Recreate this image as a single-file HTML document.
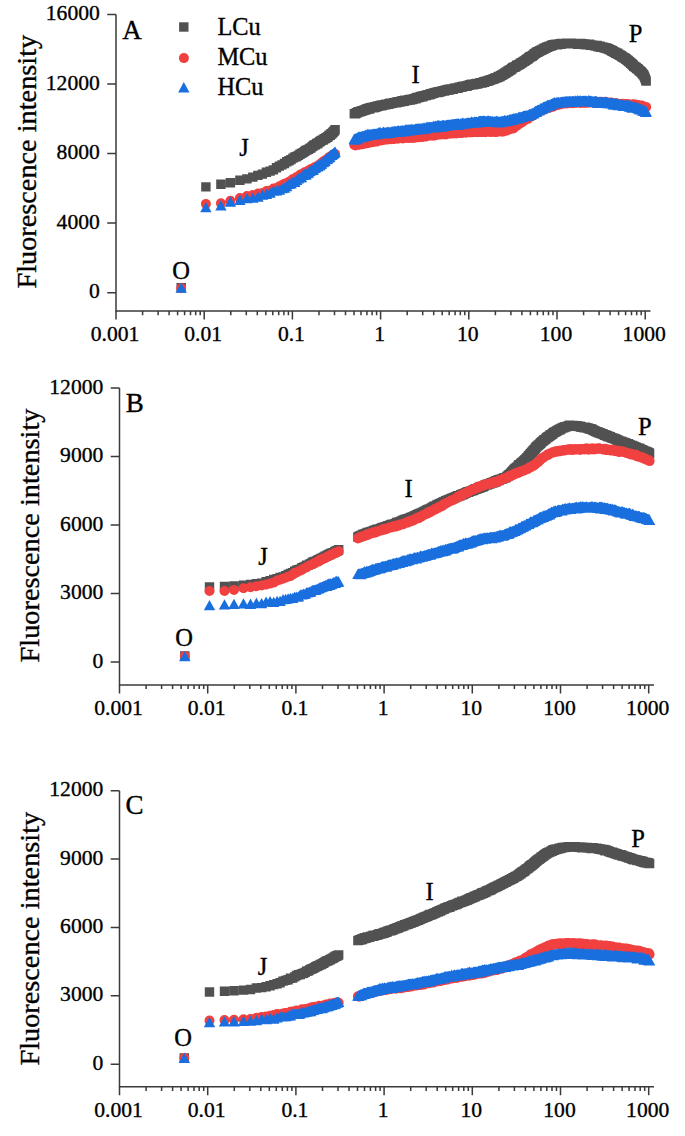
<!DOCTYPE html>
<html><head><meta charset="utf-8"><style>
html,body{margin:0;padding:0;background:#fff;}
svg{display:block;}
text{font-family:"Liberation Serif",serif;fill:#000;stroke:#000;stroke-width:0.35px;}
.tl{font-size:21.6px;}
.tt{font-size:28.3px;}
.pl{font-size:27px;}
.lb{font-size:24.5px;}
.lg{font-size:24.4px;}
</style></head><body>
<svg width="685" height="1136" viewBox="0 0 685 1136">
<rect width="685" height="1136" fill="#fff"/>
<path d="M116.0 14.5V311.0H650.5" fill="none" stroke="#3a3a3a" stroke-width="1.5"/>
<path d="M107.2 292.7H116.0M107.2 223.1H116.0M107.2 153.5H116.0M107.2 83.9H116.0M107.2 14.5H116.0M116.0 311.0v8.6M142.6 311.0v4.2M158.1 311.0v4.2M169.1 311.0v4.2M177.6 311.0v4.2M184.6 311.0v4.2M190.5 311.0v4.2M195.7 311.0v4.2M200.2 311.0v4.2M204.2 311.0v8.6M230.8 311.0v4.2M246.3 311.0v4.2M257.3 311.0v4.2M265.8 311.0v4.2M272.8 311.0v4.2M278.7 311.0v4.2M283.9 311.0v4.2M288.4 311.0v4.2M292.4 311.0v8.6M319.0 311.0v4.2M334.5 311.0v4.2M345.5 311.0v4.2M354.0 311.0v4.2M361.0 311.0v4.2M366.9 311.0v4.2M372.1 311.0v4.2M376.6 311.0v4.2M380.6 311.0v8.6M407.2 311.0v4.2M422.7 311.0v4.2M433.7 311.0v4.2M442.2 311.0v4.2M449.2 311.0v4.2M455.1 311.0v4.2M460.3 311.0v4.2M464.8 311.0v4.2M468.8 311.0v8.6M495.4 311.0v4.2M510.9 311.0v4.2M521.9 311.0v4.2M530.4 311.0v4.2M537.4 311.0v4.2M543.3 311.0v4.2M548.5 311.0v4.2M553.0 311.0v4.2M557.0 311.0v8.6M583.6 311.0v4.2M599.1 311.0v4.2M610.1 311.0v4.2M618.6 311.0v4.2M625.6 311.0v4.2M631.5 311.0v4.2M636.7 311.0v4.2M641.2 311.0v4.2M645.2 311.0v8.6" fill="none" stroke="#3a3a3a" stroke-width="1.5"/>
<text x="99.8" y="298.3" class="tl" text-anchor="end">0</text>
<text x="99.8" y="228.7" class="tl" text-anchor="end">4000</text>
<text x="99.8" y="159.1" class="tl" text-anchor="end">8000</text>
<text x="99.8" y="89.5" class="tl" text-anchor="end">12000</text>
<text x="99.8" y="20.1" class="tl" text-anchor="end">16000</text>
<text x="115.0" y="341.0" class="tl" text-anchor="middle">0.001</text>
<text x="203.2" y="341.0" class="tl" text-anchor="middle">0.01</text>
<text x="291.4" y="341.0" class="tl" text-anchor="middle">0.1</text>
<text x="379.6" y="341.0" class="tl" text-anchor="middle">1</text>
<text x="467.8" y="341.0" class="tl" text-anchor="middle">10</text>
<text x="556.0" y="341.0" class="tl" text-anchor="middle">100</text>
<text x="644.2" y="341.0" class="tl" text-anchor="middle">1000</text>
<text class="tt" text-anchor="middle" transform="translate(35.6 161.7) rotate(-90)">Fluorescence intensity</text>
<text x="122.2" y="38.6" class="pl">A</text>
<text x="181.0" y="278.6" class="lb" text-anchor="middle">O</text>
<text x="244.0" y="156.0" class="lb" text-anchor="middle">J</text>
<text x="415.5" y="83.3" class="lb" text-anchor="middle">I</text>
<text x="635.5" y="41.8" class="lb" text-anchor="middle">P</text>
<path fill="#515151" d="M176.5 283.1h9.4v9.4h-9.4zM201.2 182.2h9.4v9.4h-9.4zM216.2 179.6h9.4v9.4h-9.4zM225.7 178.0h9.4v9.4h-9.4zM235.2 175.5h9.4v9.4h-9.4zM242.2 174.2h9.4v9.4h-9.4zM248.1 172.4h9.4v9.4h-9.4zM253.2 170.7h9.4v9.4h-9.4zM257.7 169.4h9.4v9.4h-9.4zM261.7 167.6h9.4v9.4h-9.4zM265.4 166.4h9.4v9.4h-9.4zM268.7 165.2h9.4v9.4h-9.4zM271.8 163.1h9.4v9.4h-9.4zM274.6 161.4h9.4v9.4h-9.4zM277.3 160.2h9.4v9.4h-9.4zM279.8 158.8h9.4v9.4h-9.4zM282.1 157.0h9.4v9.4h-9.4zM284.3 156.1h9.4v9.4h-9.4zM286.3 154.9h9.4v9.4h-9.4zM288.3 153.4h9.4v9.4h-9.4zM290.2 152.3h9.4v9.4h-9.4zM292.0 151.8h9.4v9.4h-9.4zM293.7 150.7h9.4v9.4h-9.4zM295.3 149.5h9.4v9.4h-9.4zM296.8 148.7h9.4v9.4h-9.4zM298.3 147.9h9.4v9.4h-9.4zM299.8 146.8h9.4v9.4h-9.4zM301.2 145.8h9.4v9.4h-9.4zM302.5 145.2h9.4v9.4h-9.4zM303.8 144.7h9.4v9.4h-9.4zM305.1 143.7h9.4v9.4h-9.4zM306.3 143.2h9.4v9.4h-9.4zM307.5 141.9h9.4v9.4h-9.4zM308.6 141.1h9.4v9.4h-9.4zM309.7 140.3h9.4v9.4h-9.4zM310.8 140.0h9.4v9.4h-9.4zM311.9 138.8h9.4v9.4h-9.4zM312.9 139.0h9.4v9.4h-9.4zM313.9 137.9h9.4v9.4h-9.4zM314.9 137.1h9.4v9.4h-9.4zM315.8 136.6h9.4v9.4h-9.4zM316.7 135.7h9.4v9.4h-9.4zM317.6 135.4h9.4v9.4h-9.4zM318.5 135.3h9.4v9.4h-9.4zM319.4 134.0h9.4v9.4h-9.4zM320.2 134.2h9.4v9.4h-9.4zM321.0 133.6h9.4v9.4h-9.4zM321.8 132.9h9.4v9.4h-9.4zM322.6 132.6h9.4v9.4h-9.4zM323.4 132.0h9.4v9.4h-9.4zM324.2 130.8h9.4v9.4h-9.4zM324.9 130.6h9.4v9.4h-9.4zM325.6 130.6h9.4v9.4h-9.4zM326.3 129.0h9.4v9.4h-9.4zM327.0 129.4h9.4v9.4h-9.4zM327.7 128.2h9.4v9.4h-9.4zM328.4 127.5h9.4v9.4h-9.4zM329.1 126.7h9.4v9.4h-9.4zM329.7 126.2h9.4v9.4h-9.4zM330.4 125.1h9.4v9.4h-9.4zM349.6 109.0h9.4v9.4h-9.4zM350.1 109.1h9.4v9.4h-9.4zM350.6 109.1h9.4v9.4h-9.4zM351.1 108.9h9.4v9.4h-9.4zM351.6 107.9h9.4v9.4h-9.4zM352.1 107.9h9.4v9.4h-9.4zM352.6 108.0h9.4v9.4h-9.4zM353.1 107.2h9.4v9.4h-9.4zM353.6 107.2h9.4v9.4h-9.4zM354.1 107.1h9.4v9.4h-9.4zM354.6 107.3h9.4v9.4h-9.4zM355.1 107.0h9.4v9.4h-9.4zM355.6 106.7h9.4v9.4h-9.4zM356.1 106.5h9.4v9.4h-9.4zM356.6 106.5h9.4v9.4h-9.4zM357.1 106.3h9.4v9.4h-9.4zM357.6 106.1h9.4v9.4h-9.4zM358.1 105.9h9.4v9.4h-9.4zM358.6 105.9h9.4v9.4h-9.4zM359.1 105.7h9.4v9.4h-9.4zM359.6 105.3h9.4v9.4h-9.4zM360.1 105.2h9.4v9.4h-9.4zM360.6 105.3h9.4v9.4h-9.4zM361.1 104.8h9.4v9.4h-9.4zM361.6 104.4h9.4v9.4h-9.4zM362.1 104.9h9.4v9.4h-9.4zM362.6 104.0h9.4v9.4h-9.4zM363.1 104.2h9.4v9.4h-9.4zM363.6 103.9h9.4v9.4h-9.4zM364.1 103.6h9.4v9.4h-9.4zM364.6 104.3h9.4v9.4h-9.4zM365.1 104.1h9.4v9.4h-9.4zM365.6 103.2h9.4v9.4h-9.4zM366.1 103.1h9.4v9.4h-9.4zM366.6 102.9h9.4v9.4h-9.4zM367.1 102.7h9.4v9.4h-9.4zM367.6 102.7h9.4v9.4h-9.4zM368.1 102.8h9.4v9.4h-9.4zM368.6 102.6h9.4v9.4h-9.4zM369.1 103.1h9.4v9.4h-9.4zM369.6 102.6h9.4v9.4h-9.4zM370.1 102.1h9.4v9.4h-9.4zM370.6 102.7h9.4v9.4h-9.4zM371.1 102.0h9.4v9.4h-9.4zM371.6 101.9h9.4v9.4h-9.4zM372.1 102.1h9.4v9.4h-9.4zM372.6 101.3h9.4v9.4h-9.4zM373.1 101.4h9.4v9.4h-9.4zM373.6 101.7h9.4v9.4h-9.4zM374.1 101.3h9.4v9.4h-9.4zM374.6 101.2h9.4v9.4h-9.4zM375.1 101.0h9.4v9.4h-9.4zM375.6 100.7h9.4v9.4h-9.4zM376.1 101.0h9.4v9.4h-9.4zM376.6 101.1h9.4v9.4h-9.4zM377.1 100.3h9.4v9.4h-9.4zM377.6 100.8h9.4v9.4h-9.4zM378.1 100.4h9.4v9.4h-9.4zM378.6 100.4h9.4v9.4h-9.4zM379.1 100.3h9.4v9.4h-9.4zM379.6 100.2h9.4v9.4h-9.4zM380.1 99.9h9.4v9.4h-9.4zM380.6 99.8h9.4v9.4h-9.4zM381.1 100.1h9.4v9.4h-9.4zM381.6 99.6h9.4v9.4h-9.4zM382.1 99.6h9.4v9.4h-9.4zM382.6 99.5h9.4v9.4h-9.4zM383.1 99.7h9.4v9.4h-9.4zM383.6 99.7h9.4v9.4h-9.4zM384.1 99.0h9.4v9.4h-9.4zM384.6 99.3h9.4v9.4h-9.4zM385.1 98.4h9.4v9.4h-9.4zM385.6 98.6h9.4v9.4h-9.4zM386.2 98.9h9.4v9.4h-9.4zM386.7 98.7h9.4v9.4h-9.4zM387.2 98.6h9.4v9.4h-9.4zM387.7 98.5h9.4v9.4h-9.4zM388.2 98.4h9.4v9.4h-9.4zM388.7 98.1h9.4v9.4h-9.4zM389.2 98.1h9.4v9.4h-9.4zM389.7 98.0h9.4v9.4h-9.4zM390.2 97.9h9.4v9.4h-9.4zM390.7 97.8h9.4v9.4h-9.4zM391.2 97.8h9.4v9.4h-9.4zM391.7 98.0h9.4v9.4h-9.4zM392.2 97.3h9.4v9.4h-9.4zM392.7 97.4h9.4v9.4h-9.4zM393.2 97.5h9.4v9.4h-9.4zM393.7 97.1h9.4v9.4h-9.4zM394.2 97.0h9.4v9.4h-9.4zM394.7 97.3h9.4v9.4h-9.4zM395.2 96.9h9.4v9.4h-9.4zM395.7 97.2h9.4v9.4h-9.4zM396.2 96.4h9.4v9.4h-9.4zM396.7 96.6h9.4v9.4h-9.4zM397.2 96.8h9.4v9.4h-9.4zM397.7 96.0h9.4v9.4h-9.4zM398.2 96.0h9.4v9.4h-9.4zM398.7 96.1h9.4v9.4h-9.4zM399.2 96.6h9.4v9.4h-9.4zM399.7 96.3h9.4v9.4h-9.4zM400.2 95.6h9.4v9.4h-9.4zM400.7 95.9h9.4v9.4h-9.4zM401.2 95.6h9.4v9.4h-9.4zM401.7 95.9h9.4v9.4h-9.4zM402.2 95.7h9.4v9.4h-9.4zM402.7 95.5h9.4v9.4h-9.4zM403.2 95.6h9.4v9.4h-9.4zM403.7 95.2h9.4v9.4h-9.4zM404.2 94.9h9.4v9.4h-9.4zM404.7 95.4h9.4v9.4h-9.4zM405.2 94.8h9.4v9.4h-9.4zM405.7 95.4h9.4v9.4h-9.4zM406.2 94.9h9.4v9.4h-9.4zM406.7 94.9h9.4v9.4h-9.4zM407.2 94.4h9.4v9.4h-9.4zM407.7 94.9h9.4v9.4h-9.4zM408.2 94.5h9.4v9.4h-9.4zM408.7 94.2h9.4v9.4h-9.4zM409.2 94.0h9.4v9.4h-9.4zM409.7 94.1h9.4v9.4h-9.4zM410.2 93.7h9.4v9.4h-9.4zM410.7 93.9h9.4v9.4h-9.4zM411.2 94.1h9.4v9.4h-9.4zM411.7 93.2h9.4v9.4h-9.4zM412.2 92.8h9.4v9.4h-9.4zM412.7 93.0h9.4v9.4h-9.4zM413.2 93.1h9.4v9.4h-9.4zM413.7 92.9h9.4v9.4h-9.4zM414.2 92.6h9.4v9.4h-9.4zM414.7 92.7h9.4v9.4h-9.4zM415.2 92.7h9.4v9.4h-9.4zM415.7 92.0h9.4v9.4h-9.4zM416.2 91.8h9.4v9.4h-9.4zM416.7 92.2h9.4v9.4h-9.4zM417.2 91.5h9.4v9.4h-9.4zM417.7 91.9h9.4v9.4h-9.4zM418.2 92.0h9.4v9.4h-9.4zM418.7 91.2h9.4v9.4h-9.4zM419.2 91.1h9.4v9.4h-9.4zM419.7 91.2h9.4v9.4h-9.4zM420.2 90.9h9.4v9.4h-9.4zM420.7 90.9h9.4v9.4h-9.4zM421.2 90.7h9.4v9.4h-9.4zM421.7 90.8h9.4v9.4h-9.4zM422.2 90.3h9.4v9.4h-9.4zM422.7 90.3h9.4v9.4h-9.4zM423.2 89.9h9.4v9.4h-9.4zM423.7 90.1h9.4v9.4h-9.4zM424.2 90.0h9.4v9.4h-9.4zM424.7 90.1h9.4v9.4h-9.4zM425.2 89.8h9.4v9.4h-9.4zM425.7 89.1h9.4v9.4h-9.4zM426.2 89.2h9.4v9.4h-9.4zM426.7 89.4h9.4v9.4h-9.4zM427.2 89.1h9.4v9.4h-9.4zM427.7 88.7h9.4v9.4h-9.4zM428.2 88.7h9.4v9.4h-9.4zM428.7 88.7h9.4v9.4h-9.4zM429.2 88.3h9.4v9.4h-9.4zM429.7 88.2h9.4v9.4h-9.4zM430.2 87.9h9.4v9.4h-9.4zM430.7 87.9h9.4v9.4h-9.4zM431.2 87.8h9.4v9.4h-9.4zM431.7 87.8h9.4v9.4h-9.4zM432.2 87.7h9.4v9.4h-9.4zM432.7 87.2h9.4v9.4h-9.4zM433.2 87.8h9.4v9.4h-9.4zM433.7 87.7h9.4v9.4h-9.4zM434.2 86.9h9.4v9.4h-9.4zM434.7 87.4h9.4v9.4h-9.4zM435.2 87.1h9.4v9.4h-9.4zM435.7 86.7h9.4v9.4h-9.4zM436.2 86.9h9.4v9.4h-9.4zM436.7 86.8h9.4v9.4h-9.4zM437.2 86.4h9.4v9.4h-9.4zM437.7 86.3h9.4v9.4h-9.4zM438.2 86.2h9.4v9.4h-9.4zM438.7 86.0h9.4v9.4h-9.4zM439.2 86.0h9.4v9.4h-9.4zM439.7 86.4h9.4v9.4h-9.4zM440.2 85.9h9.4v9.4h-9.4zM440.7 85.2h9.4v9.4h-9.4zM441.2 85.7h9.4v9.4h-9.4zM441.7 85.2h9.4v9.4h-9.4zM442.2 85.6h9.4v9.4h-9.4zM442.7 85.5h9.4v9.4h-9.4zM443.2 84.7h9.4v9.4h-9.4zM443.7 84.9h9.4v9.4h-9.4zM444.2 85.3h9.4v9.4h-9.4zM444.7 84.6h9.4v9.4h-9.4zM445.2 84.8h9.4v9.4h-9.4zM445.7 84.9h9.4v9.4h-9.4zM446.2 84.3h9.4v9.4h-9.4zM446.7 84.5h9.4v9.4h-9.4zM447.2 84.2h9.4v9.4h-9.4zM447.7 84.2h9.4v9.4h-9.4zM448.2 84.7h9.4v9.4h-9.4zM448.7 84.4h9.4v9.4h-9.4zM449.2 83.7h9.4v9.4h-9.4zM449.7 83.5h9.4v9.4h-9.4zM450.2 83.7h9.4v9.4h-9.4zM450.7 83.4h9.4v9.4h-9.4zM451.2 83.4h9.4v9.4h-9.4zM451.7 83.2h9.4v9.4h-9.4zM452.2 83.5h9.4v9.4h-9.4zM452.7 83.3h9.4v9.4h-9.4zM453.2 83.2h9.4v9.4h-9.4zM453.7 83.3h9.4v9.4h-9.4zM454.2 82.4h9.4v9.4h-9.4zM454.7 82.5h9.4v9.4h-9.4zM455.2 82.7h9.4v9.4h-9.4zM455.7 82.5h9.4v9.4h-9.4zM456.2 82.4h9.4v9.4h-9.4zM456.7 82.0h9.4v9.4h-9.4zM457.2 82.1h9.4v9.4h-9.4zM457.7 82.3h9.4v9.4h-9.4zM458.2 81.8h9.4v9.4h-9.4zM458.7 81.5h9.4v9.4h-9.4zM459.3 81.7h9.4v9.4h-9.4zM459.8 81.6h9.4v9.4h-9.4zM460.3 81.4h9.4v9.4h-9.4zM460.8 81.7h9.4v9.4h-9.4zM461.3 81.2h9.4v9.4h-9.4zM461.8 81.5h9.4v9.4h-9.4zM462.3 81.3h9.4v9.4h-9.4zM462.8 81.0h9.4v9.4h-9.4zM463.3 80.7h9.4v9.4h-9.4zM463.8 80.7h9.4v9.4h-9.4zM464.3 80.6h9.4v9.4h-9.4zM464.8 80.6h9.4v9.4h-9.4zM465.3 80.1h9.4v9.4h-9.4zM465.8 80.0h9.4v9.4h-9.4zM466.3 79.8h9.4v9.4h-9.4zM466.8 79.9h9.4v9.4h-9.4zM467.3 79.6h9.4v9.4h-9.4zM467.8 79.6h9.4v9.4h-9.4zM468.3 80.0h9.4v9.4h-9.4zM468.8 79.9h9.4v9.4h-9.4zM469.3 79.7h9.4v9.4h-9.4zM469.8 79.4h9.4v9.4h-9.4zM470.3 79.5h9.4v9.4h-9.4zM470.8 79.1h9.4v9.4h-9.4zM471.3 79.2h9.4v9.4h-9.4zM471.8 79.0h9.4v9.4h-9.4zM472.3 78.8h9.4v9.4h-9.4zM472.8 79.3h9.4v9.4h-9.4zM473.3 78.8h9.4v9.4h-9.4zM473.8 78.7h9.4v9.4h-9.4zM474.3 78.7h9.4v9.4h-9.4zM474.8 78.4h9.4v9.4h-9.4zM475.3 78.2h9.4v9.4h-9.4zM475.8 77.9h9.4v9.4h-9.4zM476.3 77.9h9.4v9.4h-9.4zM476.8 78.2h9.4v9.4h-9.4zM477.3 78.3h9.4v9.4h-9.4zM477.8 77.8h9.4v9.4h-9.4zM478.3 77.7h9.4v9.4h-9.4zM478.8 77.4h9.4v9.4h-9.4zM479.3 77.1h9.4v9.4h-9.4zM479.8 77.5h9.4v9.4h-9.4zM480.3 77.2h9.4v9.4h-9.4zM480.8 76.6h9.4v9.4h-9.4zM481.3 76.5h9.4v9.4h-9.4zM481.8 76.7h9.4v9.4h-9.4zM482.3 76.4h9.4v9.4h-9.4zM482.8 76.5h9.4v9.4h-9.4zM483.3 76.0h9.4v9.4h-9.4zM483.8 75.8h9.4v9.4h-9.4zM484.3 76.0h9.4v9.4h-9.4zM484.8 75.7h9.4v9.4h-9.4zM485.3 75.5h9.4v9.4h-9.4zM485.8 75.1h9.4v9.4h-9.4zM486.3 75.0h9.4v9.4h-9.4zM486.8 74.9h9.4v9.4h-9.4zM487.3 74.9h9.4v9.4h-9.4zM487.8 74.6h9.4v9.4h-9.4zM488.3 74.7h9.4v9.4h-9.4zM488.8 74.2h9.4v9.4h-9.4zM489.3 74.0h9.4v9.4h-9.4zM489.8 74.0h9.4v9.4h-9.4zM490.3 73.5h9.4v9.4h-9.4zM490.8 73.3h9.4v9.4h-9.4zM491.3 73.1h9.4v9.4h-9.4zM491.8 73.1h9.4v9.4h-9.4zM492.3 73.2h9.4v9.4h-9.4zM492.8 72.7h9.4v9.4h-9.4zM493.3 72.6h9.4v9.4h-9.4zM493.8 71.8h9.4v9.4h-9.4zM494.3 72.0h9.4v9.4h-9.4zM494.8 71.8h9.4v9.4h-9.4zM495.3 71.8h9.4v9.4h-9.4zM495.8 71.0h9.4v9.4h-9.4zM496.3 70.9h9.4v9.4h-9.4zM496.8 70.5h9.4v9.4h-9.4zM497.3 70.2h9.4v9.4h-9.4zM497.8 70.4h9.4v9.4h-9.4zM498.3 69.7h9.4v9.4h-9.4zM498.8 69.6h9.4v9.4h-9.4zM499.3 69.2h9.4v9.4h-9.4zM499.8 68.5h9.4v9.4h-9.4zM500.3 68.6h9.4v9.4h-9.4zM500.8 68.6h9.4v9.4h-9.4zM501.3 67.8h9.4v9.4h-9.4zM501.8 67.2h9.4v9.4h-9.4zM502.3 67.4h9.4v9.4h-9.4zM502.8 67.2h9.4v9.4h-9.4zM503.3 66.3h9.4v9.4h-9.4zM503.8 66.6h9.4v9.4h-9.4zM504.3 65.8h9.4v9.4h-9.4zM504.8 65.6h9.4v9.4h-9.4zM505.3 65.3h9.4v9.4h-9.4zM505.8 65.2h9.4v9.4h-9.4zM506.3 65.1h9.4v9.4h-9.4zM506.8 64.0h9.4v9.4h-9.4zM507.3 64.2h9.4v9.4h-9.4zM507.8 63.2h9.4v9.4h-9.4zM508.3 63.0h9.4v9.4h-9.4zM508.8 62.5h9.4v9.4h-9.4zM509.3 62.4h9.4v9.4h-9.4zM509.8 62.5h9.4v9.4h-9.4zM510.3 62.3h9.4v9.4h-9.4zM510.8 61.9h9.4v9.4h-9.4zM511.3 61.9h9.4v9.4h-9.4zM511.8 60.6h9.4v9.4h-9.4zM512.3 60.9h9.4v9.4h-9.4zM512.8 60.8h9.4v9.4h-9.4zM513.3 60.4h9.4v9.4h-9.4zM513.8 60.1h9.4v9.4h-9.4zM514.3 59.8h9.4v9.4h-9.4zM514.8 59.4h9.4v9.4h-9.4zM515.3 59.6h9.4v9.4h-9.4zM515.8 58.6h9.4v9.4h-9.4zM516.3 58.6h9.4v9.4h-9.4zM516.8 58.0h9.4v9.4h-9.4zM517.3 58.0h9.4v9.4h-9.4zM517.8 57.4h9.4v9.4h-9.4zM518.3 57.4h9.4v9.4h-9.4zM518.8 56.7h9.4v9.4h-9.4zM519.3 56.7h9.4v9.4h-9.4zM519.8 56.5h9.4v9.4h-9.4zM520.3 55.9h9.4v9.4h-9.4zM520.8 55.7h9.4v9.4h-9.4zM521.3 55.3h9.4v9.4h-9.4zM521.8 54.8h9.4v9.4h-9.4zM522.3 54.5h9.4v9.4h-9.4zM522.8 54.4h9.4v9.4h-9.4zM523.3 54.0h9.4v9.4h-9.4zM523.8 53.5h9.4v9.4h-9.4zM524.3 52.8h9.4v9.4h-9.4zM524.8 52.8h9.4v9.4h-9.4zM525.3 52.1h9.4v9.4h-9.4zM525.8 52.1h9.4v9.4h-9.4zM526.3 51.8h9.4v9.4h-9.4zM526.8 51.4h9.4v9.4h-9.4zM527.3 51.5h9.4v9.4h-9.4zM527.8 51.0h9.4v9.4h-9.4zM528.3 50.4h9.4v9.4h-9.4zM528.8 50.4h9.4v9.4h-9.4zM529.3 49.6h9.4v9.4h-9.4zM529.8 49.1h9.4v9.4h-9.4zM530.3 48.9h9.4v9.4h-9.4zM530.8 48.6h9.4v9.4h-9.4zM531.3 48.3h9.4v9.4h-9.4zM531.8 47.5h9.4v9.4h-9.4zM532.4 47.6h9.4v9.4h-9.4zM532.9 47.1h9.4v9.4h-9.4zM533.4 47.3h9.4v9.4h-9.4zM533.9 46.9h9.4v9.4h-9.4zM534.4 46.5h9.4v9.4h-9.4zM534.9 45.9h9.4v9.4h-9.4zM535.4 46.1h9.4v9.4h-9.4zM535.9 45.7h9.4v9.4h-9.4zM536.4 45.4h9.4v9.4h-9.4zM536.9 45.6h9.4v9.4h-9.4zM537.4 44.8h9.4v9.4h-9.4zM537.9 44.8h9.4v9.4h-9.4zM538.4 44.6h9.4v9.4h-9.4zM538.9 44.5h9.4v9.4h-9.4zM539.4 43.6h9.4v9.4h-9.4zM539.9 43.8h9.4v9.4h-9.4zM540.4 43.3h9.4v9.4h-9.4zM540.9 43.3h9.4v9.4h-9.4zM541.4 43.2h9.4v9.4h-9.4zM541.9 42.5h9.4v9.4h-9.4zM542.4 42.3h9.4v9.4h-9.4zM542.9 42.5h9.4v9.4h-9.4zM543.4 42.2h9.4v9.4h-9.4zM543.9 41.8h9.4v9.4h-9.4zM544.4 41.7h9.4v9.4h-9.4zM544.9 41.5h9.4v9.4h-9.4zM545.4 41.4h9.4v9.4h-9.4zM545.9 41.4h9.4v9.4h-9.4zM546.4 41.0h9.4v9.4h-9.4zM546.9 40.4h9.4v9.4h-9.4zM547.4 40.8h9.4v9.4h-9.4zM547.9 40.7h9.4v9.4h-9.4zM548.4 39.9h9.4v9.4h-9.4zM548.9 40.2h9.4v9.4h-9.4zM549.4 40.0h9.4v9.4h-9.4zM549.9 39.7h9.4v9.4h-9.4zM550.4 39.7h9.4v9.4h-9.4zM550.9 39.8h9.4v9.4h-9.4zM551.4 39.6h9.4v9.4h-9.4zM551.9 39.6h9.4v9.4h-9.4zM552.4 39.7h9.4v9.4h-9.4zM552.9 40.0h9.4v9.4h-9.4zM553.4 39.4h9.4v9.4h-9.4zM553.9 39.5h9.4v9.4h-9.4zM554.4 39.3h9.4v9.4h-9.4zM554.9 39.6h9.4v9.4h-9.4zM555.4 39.1h9.4v9.4h-9.4zM555.9 38.9h9.4v9.4h-9.4zM556.4 39.6h9.4v9.4h-9.4zM556.9 38.8h9.4v9.4h-9.4zM557.4 39.1h9.4v9.4h-9.4zM557.9 38.8h9.4v9.4h-9.4zM558.4 39.1h9.4v9.4h-9.4zM558.9 39.2h9.4v9.4h-9.4zM559.4 39.0h9.4v9.4h-9.4zM559.9 38.9h9.4v9.4h-9.4zM560.4 38.9h9.4v9.4h-9.4zM560.9 39.0h9.4v9.4h-9.4zM561.4 38.7h9.4v9.4h-9.4zM561.9 38.4h9.4v9.4h-9.4zM562.4 38.5h9.4v9.4h-9.4zM562.9 38.8h9.4v9.4h-9.4zM563.4 39.0h9.4v9.4h-9.4zM563.9 38.6h9.4v9.4h-9.4zM564.4 38.9h9.4v9.4h-9.4zM564.9 38.4h9.4v9.4h-9.4zM565.4 38.6h9.4v9.4h-9.4zM565.9 38.7h9.4v9.4h-9.4zM566.4 38.6h9.4v9.4h-9.4zM566.9 38.4h9.4v9.4h-9.4zM567.4 38.7h9.4v9.4h-9.4zM567.9 38.7h9.4v9.4h-9.4zM568.4 38.8h9.4v9.4h-9.4zM568.9 38.9h9.4v9.4h-9.4zM569.4 38.9h9.4v9.4h-9.4zM569.9 38.7h9.4v9.4h-9.4zM570.4 38.9h9.4v9.4h-9.4zM570.9 39.2h9.4v9.4h-9.4zM571.4 38.9h9.4v9.4h-9.4zM571.9 38.7h9.4v9.4h-9.4zM572.4 39.0h9.4v9.4h-9.4zM572.9 39.5h9.4v9.4h-9.4zM573.4 39.2h9.4v9.4h-9.4zM573.9 38.9h9.4v9.4h-9.4zM574.4 39.4h9.4v9.4h-9.4zM574.9 38.9h9.4v9.4h-9.4zM575.4 39.2h9.4v9.4h-9.4zM575.9 38.8h9.4v9.4h-9.4zM576.4 39.2h9.4v9.4h-9.4zM576.9 39.0h9.4v9.4h-9.4zM577.4 39.2h9.4v9.4h-9.4zM577.9 39.1h9.4v9.4h-9.4zM578.4 39.6h9.4v9.4h-9.4zM578.9 39.2h9.4v9.4h-9.4zM579.4 39.8h9.4v9.4h-9.4zM579.9 39.8h9.4v9.4h-9.4zM580.4 39.3h9.4v9.4h-9.4zM580.9 39.5h9.4v9.4h-9.4zM581.4 39.4h9.4v9.4h-9.4zM581.9 40.0h9.4v9.4h-9.4zM582.4 39.7h9.4v9.4h-9.4zM582.9 39.6h9.4v9.4h-9.4zM583.4 39.7h9.4v9.4h-9.4zM583.9 39.9h9.4v9.4h-9.4zM584.4 39.5h9.4v9.4h-9.4zM584.9 39.5h9.4v9.4h-9.4zM585.4 40.3h9.4v9.4h-9.4zM585.9 40.5h9.4v9.4h-9.4zM586.4 40.2h9.4v9.4h-9.4zM586.9 40.6h9.4v9.4h-9.4zM587.4 40.4h9.4v9.4h-9.4zM587.9 40.7h9.4v9.4h-9.4zM588.4 40.4h9.4v9.4h-9.4zM588.9 40.8h9.4v9.4h-9.4zM589.4 40.9h9.4v9.4h-9.4zM589.9 40.8h9.4v9.4h-9.4zM590.4 40.8h9.4v9.4h-9.4zM590.9 41.4h9.4v9.4h-9.4zM591.4 40.8h9.4v9.4h-9.4zM591.9 41.3h9.4v9.4h-9.4zM592.4 40.8h9.4v9.4h-9.4zM592.9 41.2h9.4v9.4h-9.4zM593.4 42.0h9.4v9.4h-9.4zM593.9 41.6h9.4v9.4h-9.4zM594.4 41.8h9.4v9.4h-9.4zM594.9 41.4h9.4v9.4h-9.4zM595.4 41.6h9.4v9.4h-9.4zM595.9 42.5h9.4v9.4h-9.4zM596.4 42.4h9.4v9.4h-9.4zM596.9 42.7h9.4v9.4h-9.4zM597.4 42.2h9.4v9.4h-9.4zM597.9 42.2h9.4v9.4h-9.4zM598.4 42.7h9.4v9.4h-9.4zM598.9 42.8h9.4v9.4h-9.4zM599.4 43.1h9.4v9.4h-9.4zM599.9 43.2h9.4v9.4h-9.4zM600.4 43.4h9.4v9.4h-9.4zM600.9 43.1h9.4v9.4h-9.4zM601.4 43.5h9.4v9.4h-9.4zM601.9 43.8h9.4v9.4h-9.4zM602.4 43.6h9.4v9.4h-9.4zM602.9 44.2h9.4v9.4h-9.4zM603.4 44.0h9.4v9.4h-9.4zM603.9 44.3h9.4v9.4h-9.4zM604.4 44.8h9.4v9.4h-9.4zM604.9 44.9h9.4v9.4h-9.4zM605.5 44.9h9.4v9.4h-9.4zM606.0 45.4h9.4v9.4h-9.4zM606.5 45.5h9.4v9.4h-9.4zM607.0 45.8h9.4v9.4h-9.4zM607.5 46.5h9.4v9.4h-9.4zM608.0 46.1h9.4v9.4h-9.4zM608.5 46.9h9.4v9.4h-9.4zM609.0 46.9h9.4v9.4h-9.4zM609.5 47.5h9.4v9.4h-9.4zM610.0 47.5h9.4v9.4h-9.4zM610.5 47.6h9.4v9.4h-9.4zM611.0 48.5h9.4v9.4h-9.4zM611.5 48.2h9.4v9.4h-9.4zM612.0 48.5h9.4v9.4h-9.4zM612.5 49.0h9.4v9.4h-9.4zM613.0 48.6h9.4v9.4h-9.4zM613.5 49.7h9.4v9.4h-9.4zM614.0 49.6h9.4v9.4h-9.4zM614.5 50.3h9.4v9.4h-9.4zM615.0 50.3h9.4v9.4h-9.4zM615.5 50.6h9.4v9.4h-9.4zM616.0 50.8h9.4v9.4h-9.4zM616.5 51.0h9.4v9.4h-9.4zM617.0 51.7h9.4v9.4h-9.4zM617.5 52.0h9.4v9.4h-9.4zM618.0 52.4h9.4v9.4h-9.4zM618.5 52.5h9.4v9.4h-9.4zM619.0 52.9h9.4v9.4h-9.4zM619.5 53.4h9.4v9.4h-9.4zM620.0 53.3h9.4v9.4h-9.4zM620.5 53.5h9.4v9.4h-9.4zM621.0 54.3h9.4v9.4h-9.4zM621.5 54.5h9.4v9.4h-9.4zM622.0 54.7h9.4v9.4h-9.4zM622.5 55.6h9.4v9.4h-9.4zM623.0 55.6h9.4v9.4h-9.4zM623.5 56.1h9.4v9.4h-9.4zM624.0 56.7h9.4v9.4h-9.4zM624.5 57.0h9.4v9.4h-9.4zM625.0 57.2h9.4v9.4h-9.4zM625.5 57.9h9.4v9.4h-9.4zM626.0 58.6h9.4v9.4h-9.4zM626.5 58.4h9.4v9.4h-9.4zM627.0 59.3h9.4v9.4h-9.4zM627.5 59.3h9.4v9.4h-9.4zM628.0 60.0h9.4v9.4h-9.4zM628.5 60.6h9.4v9.4h-9.4zM629.0 61.6h9.4v9.4h-9.4zM629.5 61.9h9.4v9.4h-9.4zM630.0 61.8h9.4v9.4h-9.4zM630.5 62.4h9.4v9.4h-9.4zM631.0 62.9h9.4v9.4h-9.4zM631.5 62.8h9.4v9.4h-9.4zM632.0 63.6h9.4v9.4h-9.4zM632.5 64.2h9.4v9.4h-9.4zM633.0 64.1h9.4v9.4h-9.4zM633.5 64.5h9.4v9.4h-9.4zM634.0 65.2h9.4v9.4h-9.4zM634.5 65.9h9.4v9.4h-9.4zM635.0 66.1h9.4v9.4h-9.4zM635.5 66.6h9.4v9.4h-9.4zM636.0 67.1h9.4v9.4h-9.4zM636.5 67.2h9.4v9.4h-9.4zM637.0 67.9h9.4v9.4h-9.4zM637.5 68.6h9.4v9.4h-9.4zM638.0 69.1h9.4v9.4h-9.4zM638.5 70.1h9.4v9.4h-9.4zM639.0 70.2h9.4v9.4h-9.4zM639.5 71.4h9.4v9.4h-9.4zM640.0 72.4h9.4v9.4h-9.4zM640.5 73.9h9.4v9.4h-9.4zM641.0 75.3h9.4v9.4h-9.4zM641.5 76.4h9.4v9.4h-9.4z"/>
<path fill="#F14040" d="M176.2 288.2a5.0 5.0 0 1 0 10.0 0a5.0 5.0 0 1 0 -10.0 0zM200.9 203.9a5.0 5.0 0 1 0 10.0 0a5.0 5.0 0 1 0 -10.0 0zM215.9 203.2a5.0 5.0 0 1 0 10.0 0a5.0 5.0 0 1 0 -10.0 0zM225.4 200.7a5.0 5.0 0 1 0 10.0 0a5.0 5.0 0 1 0 -10.0 0zM234.9 198.1a5.0 5.0 0 1 0 10.0 0a5.0 5.0 0 1 0 -10.0 0zM241.9 196.1a5.0 5.0 0 1 0 10.0 0a5.0 5.0 0 1 0 -10.0 0zM247.8 195.1a5.0 5.0 0 1 0 10.0 0a5.0 5.0 0 1 0 -10.0 0zM253.0 193.6a5.0 5.0 0 1 0 10.0 0a5.0 5.0 0 1 0 -10.0 0zM257.5 193.0a5.0 5.0 0 1 0 10.0 0a5.0 5.0 0 1 0 -10.0 0zM261.5 191.0a5.0 5.0 0 1 0 10.0 0a5.0 5.0 0 1 0 -10.0 0zM265.1 190.6a5.0 5.0 0 1 0 10.0 0a5.0 5.0 0 1 0 -10.0 0zM268.5 188.6a5.0 5.0 0 1 0 10.0 0a5.0 5.0 0 1 0 -10.0 0zM271.5 188.0a5.0 5.0 0 1 0 10.0 0a5.0 5.0 0 1 0 -10.0 0zM274.4 186.2a5.0 5.0 0 1 0 10.0 0a5.0 5.0 0 1 0 -10.0 0zM277.0 185.0a5.0 5.0 0 1 0 10.0 0a5.0 5.0 0 1 0 -10.0 0zM279.5 183.7a5.0 5.0 0 1 0 10.0 0a5.0 5.0 0 1 0 -10.0 0zM281.8 182.9a5.0 5.0 0 1 0 10.0 0a5.0 5.0 0 1 0 -10.0 0zM284.0 181.8a5.0 5.0 0 1 0 10.0 0a5.0 5.0 0 1 0 -10.0 0zM286.1 180.5a5.0 5.0 0 1 0 10.0 0a5.0 5.0 0 1 0 -10.0 0zM288.0 178.9a5.0 5.0 0 1 0 10.0 0a5.0 5.0 0 1 0 -10.0 0zM289.9 178.5a5.0 5.0 0 1 0 10.0 0a5.0 5.0 0 1 0 -10.0 0zM291.7 176.9a5.0 5.0 0 1 0 10.0 0a5.0 5.0 0 1 0 -10.0 0zM293.4 176.4a5.0 5.0 0 1 0 10.0 0a5.0 5.0 0 1 0 -10.0 0zM295.0 174.8a5.0 5.0 0 1 0 10.0 0a5.0 5.0 0 1 0 -10.0 0zM296.6 174.1a5.0 5.0 0 1 0 10.0 0a5.0 5.0 0 1 0 -10.0 0zM298.1 173.7a5.0 5.0 0 1 0 10.0 0a5.0 5.0 0 1 0 -10.0 0zM299.5 172.3a5.0 5.0 0 1 0 10.0 0a5.0 5.0 0 1 0 -10.0 0zM300.9 172.4a5.0 5.0 0 1 0 10.0 0a5.0 5.0 0 1 0 -10.0 0zM302.3 171.4a5.0 5.0 0 1 0 10.0 0a5.0 5.0 0 1 0 -10.0 0zM303.6 170.4a5.0 5.0 0 1 0 10.0 0a5.0 5.0 0 1 0 -10.0 0zM304.8 169.8a5.0 5.0 0 1 0 10.0 0a5.0 5.0 0 1 0 -10.0 0zM306.1 168.9a5.0 5.0 0 1 0 10.0 0a5.0 5.0 0 1 0 -10.0 0zM307.2 168.8a5.0 5.0 0 1 0 10.0 0a5.0 5.0 0 1 0 -10.0 0zM308.4 168.8a5.0 5.0 0 1 0 10.0 0a5.0 5.0 0 1 0 -10.0 0zM309.5 167.3a5.0 5.0 0 1 0 10.0 0a5.0 5.0 0 1 0 -10.0 0zM310.6 167.1a5.0 5.0 0 1 0 10.0 0a5.0 5.0 0 1 0 -10.0 0zM311.6 166.4a5.0 5.0 0 1 0 10.0 0a5.0 5.0 0 1 0 -10.0 0zM312.6 165.7a5.0 5.0 0 1 0 10.0 0a5.0 5.0 0 1 0 -10.0 0zM313.6 165.1a5.0 5.0 0 1 0 10.0 0a5.0 5.0 0 1 0 -10.0 0zM314.6 164.7a5.0 5.0 0 1 0 10.0 0a5.0 5.0 0 1 0 -10.0 0zM315.5 164.4a5.0 5.0 0 1 0 10.0 0a5.0 5.0 0 1 0 -10.0 0zM316.5 162.9a5.0 5.0 0 1 0 10.0 0a5.0 5.0 0 1 0 -10.0 0zM317.4 162.2a5.0 5.0 0 1 0 10.0 0a5.0 5.0 0 1 0 -10.0 0zM318.3 161.3a5.0 5.0 0 1 0 10.0 0a5.0 5.0 0 1 0 -10.0 0zM319.1 161.4a5.0 5.0 0 1 0 10.0 0a5.0 5.0 0 1 0 -10.0 0zM320.0 160.8a5.0 5.0 0 1 0 10.0 0a5.0 5.0 0 1 0 -10.0 0zM320.8 159.8a5.0 5.0 0 1 0 10.0 0a5.0 5.0 0 1 0 -10.0 0zM321.6 159.5a5.0 5.0 0 1 0 10.0 0a5.0 5.0 0 1 0 -10.0 0zM322.4 159.0a5.0 5.0 0 1 0 10.0 0a5.0 5.0 0 1 0 -10.0 0zM323.1 158.6a5.0 5.0 0 1 0 10.0 0a5.0 5.0 0 1 0 -10.0 0zM323.9 157.3a5.0 5.0 0 1 0 10.0 0a5.0 5.0 0 1 0 -10.0 0zM324.7 157.1a5.0 5.0 0 1 0 10.0 0a5.0 5.0 0 1 0 -10.0 0zM325.4 156.4a5.0 5.0 0 1 0 10.0 0a5.0 5.0 0 1 0 -10.0 0zM326.1 156.2a5.0 5.0 0 1 0 10.0 0a5.0 5.0 0 1 0 -10.0 0zM326.8 155.6a5.0 5.0 0 1 0 10.0 0a5.0 5.0 0 1 0 -10.0 0zM327.5 155.3a5.0 5.0 0 1 0 10.0 0a5.0 5.0 0 1 0 -10.0 0zM328.2 154.4a5.0 5.0 0 1 0 10.0 0a5.0 5.0 0 1 0 -10.0 0zM328.8 154.5a5.0 5.0 0 1 0 10.0 0a5.0 5.0 0 1 0 -10.0 0zM329.5 154.0a5.0 5.0 0 1 0 10.0 0a5.0 5.0 0 1 0 -10.0 0zM330.1 153.9a5.0 5.0 0 1 0 10.0 0a5.0 5.0 0 1 0 -10.0 0zM349.3 145.0a5.0 5.0 0 1 0 10.0 0a5.0 5.0 0 1 0 -10.0 0zM349.8 144.7a5.0 5.0 0 1 0 10.0 0a5.0 5.0 0 1 0 -10.0 0zM350.3 145.4a5.0 5.0 0 1 0 10.0 0a5.0 5.0 0 1 0 -10.0 0zM350.8 144.7a5.0 5.0 0 1 0 10.0 0a5.0 5.0 0 1 0 -10.0 0zM351.3 144.9a5.0 5.0 0 1 0 10.0 0a5.0 5.0 0 1 0 -10.0 0zM351.8 144.7a5.0 5.0 0 1 0 10.0 0a5.0 5.0 0 1 0 -10.0 0zM352.3 144.9a5.0 5.0 0 1 0 10.0 0a5.0 5.0 0 1 0 -10.0 0zM352.8 144.8a5.0 5.0 0 1 0 10.0 0a5.0 5.0 0 1 0 -10.0 0zM353.3 144.3a5.0 5.0 0 1 0 10.0 0a5.0 5.0 0 1 0 -10.0 0zM353.8 143.7a5.0 5.0 0 1 0 10.0 0a5.0 5.0 0 1 0 -10.0 0zM354.3 144.7a5.0 5.0 0 1 0 10.0 0a5.0 5.0 0 1 0 -10.0 0zM354.8 144.1a5.0 5.0 0 1 0 10.0 0a5.0 5.0 0 1 0 -10.0 0zM355.3 144.4a5.0 5.0 0 1 0 10.0 0a5.0 5.0 0 1 0 -10.0 0zM355.8 144.0a5.0 5.0 0 1 0 10.0 0a5.0 5.0 0 1 0 -10.0 0zM356.3 143.6a5.0 5.0 0 1 0 10.0 0a5.0 5.0 0 1 0 -10.0 0zM356.8 144.2a5.0 5.0 0 1 0 10.0 0a5.0 5.0 0 1 0 -10.0 0zM357.3 143.9a5.0 5.0 0 1 0 10.0 0a5.0 5.0 0 1 0 -10.0 0zM357.8 144.2a5.0 5.0 0 1 0 10.0 0a5.0 5.0 0 1 0 -10.0 0zM358.3 143.3a5.0 5.0 0 1 0 10.0 0a5.0 5.0 0 1 0 -10.0 0zM358.8 142.9a5.0 5.0 0 1 0 10.0 0a5.0 5.0 0 1 0 -10.0 0zM359.3 143.2a5.0 5.0 0 1 0 10.0 0a5.0 5.0 0 1 0 -10.0 0zM359.8 143.7a5.0 5.0 0 1 0 10.0 0a5.0 5.0 0 1 0 -10.0 0zM360.3 143.6a5.0 5.0 0 1 0 10.0 0a5.0 5.0 0 1 0 -10.0 0zM360.8 143.1a5.0 5.0 0 1 0 10.0 0a5.0 5.0 0 1 0 -10.0 0zM361.3 142.9a5.0 5.0 0 1 0 10.0 0a5.0 5.0 0 1 0 -10.0 0zM361.8 143.0a5.0 5.0 0 1 0 10.0 0a5.0 5.0 0 1 0 -10.0 0zM362.3 143.3a5.0 5.0 0 1 0 10.0 0a5.0 5.0 0 1 0 -10.0 0zM362.8 142.8a5.0 5.0 0 1 0 10.0 0a5.0 5.0 0 1 0 -10.0 0zM363.3 142.6a5.0 5.0 0 1 0 10.0 0a5.0 5.0 0 1 0 -10.0 0zM363.8 142.6a5.0 5.0 0 1 0 10.0 0a5.0 5.0 0 1 0 -10.0 0zM364.3 142.6a5.0 5.0 0 1 0 10.0 0a5.0 5.0 0 1 0 -10.0 0zM364.8 142.8a5.0 5.0 0 1 0 10.0 0a5.0 5.0 0 1 0 -10.0 0zM365.3 142.5a5.0 5.0 0 1 0 10.0 0a5.0 5.0 0 1 0 -10.0 0zM365.8 142.5a5.0 5.0 0 1 0 10.0 0a5.0 5.0 0 1 0 -10.0 0zM366.3 142.1a5.0 5.0 0 1 0 10.0 0a5.0 5.0 0 1 0 -10.0 0zM366.8 141.5a5.0 5.0 0 1 0 10.0 0a5.0 5.0 0 1 0 -10.0 0zM367.3 142.1a5.0 5.0 0 1 0 10.0 0a5.0 5.0 0 1 0 -10.0 0zM367.8 141.5a5.0 5.0 0 1 0 10.0 0a5.0 5.0 0 1 0 -10.0 0zM368.3 142.1a5.0 5.0 0 1 0 10.0 0a5.0 5.0 0 1 0 -10.0 0zM368.8 141.5a5.0 5.0 0 1 0 10.0 0a5.0 5.0 0 1 0 -10.0 0zM369.3 141.1a5.0 5.0 0 1 0 10.0 0a5.0 5.0 0 1 0 -10.0 0zM369.8 140.8a5.0 5.0 0 1 0 10.0 0a5.0 5.0 0 1 0 -10.0 0zM370.3 141.4a5.0 5.0 0 1 0 10.0 0a5.0 5.0 0 1 0 -10.0 0zM370.8 141.0a5.0 5.0 0 1 0 10.0 0a5.0 5.0 0 1 0 -10.0 0zM371.3 140.4a5.0 5.0 0 1 0 10.0 0a5.0 5.0 0 1 0 -10.0 0zM371.8 141.6a5.0 5.0 0 1 0 10.0 0a5.0 5.0 0 1 0 -10.0 0zM372.3 140.8a5.0 5.0 0 1 0 10.0 0a5.0 5.0 0 1 0 -10.0 0zM372.8 141.1a5.0 5.0 0 1 0 10.0 0a5.0 5.0 0 1 0 -10.0 0zM373.3 140.5a5.0 5.0 0 1 0 10.0 0a5.0 5.0 0 1 0 -10.0 0zM373.8 140.3a5.0 5.0 0 1 0 10.0 0a5.0 5.0 0 1 0 -10.0 0zM374.3 140.4a5.0 5.0 0 1 0 10.0 0a5.0 5.0 0 1 0 -10.0 0zM374.8 140.0a5.0 5.0 0 1 0 10.0 0a5.0 5.0 0 1 0 -10.0 0zM375.3 140.2a5.0 5.0 0 1 0 10.0 0a5.0 5.0 0 1 0 -10.0 0zM375.8 140.2a5.0 5.0 0 1 0 10.0 0a5.0 5.0 0 1 0 -10.0 0zM376.3 140.4a5.0 5.0 0 1 0 10.0 0a5.0 5.0 0 1 0 -10.0 0zM376.8 140.1a5.0 5.0 0 1 0 10.0 0a5.0 5.0 0 1 0 -10.0 0zM377.3 140.1a5.0 5.0 0 1 0 10.0 0a5.0 5.0 0 1 0 -10.0 0zM377.8 139.9a5.0 5.0 0 1 0 10.0 0a5.0 5.0 0 1 0 -10.0 0zM378.3 139.9a5.0 5.0 0 1 0 10.0 0a5.0 5.0 0 1 0 -10.0 0zM378.8 139.9a5.0 5.0 0 1 0 10.0 0a5.0 5.0 0 1 0 -10.0 0zM379.3 139.4a5.0 5.0 0 1 0 10.0 0a5.0 5.0 0 1 0 -10.0 0zM379.8 139.5a5.0 5.0 0 1 0 10.0 0a5.0 5.0 0 1 0 -10.0 0zM380.3 139.6a5.0 5.0 0 1 0 10.0 0a5.0 5.0 0 1 0 -10.0 0zM380.8 139.3a5.0 5.0 0 1 0 10.0 0a5.0 5.0 0 1 0 -10.0 0zM381.3 138.9a5.0 5.0 0 1 0 10.0 0a5.0 5.0 0 1 0 -10.0 0zM381.8 139.6a5.0 5.0 0 1 0 10.0 0a5.0 5.0 0 1 0 -10.0 0zM382.3 139.0a5.0 5.0 0 1 0 10.0 0a5.0 5.0 0 1 0 -10.0 0zM382.8 139.5a5.0 5.0 0 1 0 10.0 0a5.0 5.0 0 1 0 -10.0 0zM383.3 138.6a5.0 5.0 0 1 0 10.0 0a5.0 5.0 0 1 0 -10.0 0zM383.8 138.8a5.0 5.0 0 1 0 10.0 0a5.0 5.0 0 1 0 -10.0 0zM384.3 138.9a5.0 5.0 0 1 0 10.0 0a5.0 5.0 0 1 0 -10.0 0zM384.8 138.7a5.0 5.0 0 1 0 10.0 0a5.0 5.0 0 1 0 -10.0 0zM385.3 138.9a5.0 5.0 0 1 0 10.0 0a5.0 5.0 0 1 0 -10.0 0zM385.9 139.2a5.0 5.0 0 1 0 10.0 0a5.0 5.0 0 1 0 -10.0 0zM386.4 138.2a5.0 5.0 0 1 0 10.0 0a5.0 5.0 0 1 0 -10.0 0zM386.9 138.6a5.0 5.0 0 1 0 10.0 0a5.0 5.0 0 1 0 -10.0 0zM387.4 138.5a5.0 5.0 0 1 0 10.0 0a5.0 5.0 0 1 0 -10.0 0zM387.9 138.9a5.0 5.0 0 1 0 10.0 0a5.0 5.0 0 1 0 -10.0 0zM388.4 138.8a5.0 5.0 0 1 0 10.0 0a5.0 5.0 0 1 0 -10.0 0zM388.9 138.5a5.0 5.0 0 1 0 10.0 0a5.0 5.0 0 1 0 -10.0 0zM389.4 138.9a5.0 5.0 0 1 0 10.0 0a5.0 5.0 0 1 0 -10.0 0zM389.9 138.7a5.0 5.0 0 1 0 10.0 0a5.0 5.0 0 1 0 -10.0 0zM390.4 138.5a5.0 5.0 0 1 0 10.0 0a5.0 5.0 0 1 0 -10.0 0zM390.9 138.2a5.0 5.0 0 1 0 10.0 0a5.0 5.0 0 1 0 -10.0 0zM391.4 138.3a5.0 5.0 0 1 0 10.0 0a5.0 5.0 0 1 0 -10.0 0zM391.9 138.3a5.0 5.0 0 1 0 10.0 0a5.0 5.0 0 1 0 -10.0 0zM392.4 138.3a5.0 5.0 0 1 0 10.0 0a5.0 5.0 0 1 0 -10.0 0zM392.9 138.8a5.0 5.0 0 1 0 10.0 0a5.0 5.0 0 1 0 -10.0 0zM393.4 138.3a5.0 5.0 0 1 0 10.0 0a5.0 5.0 0 1 0 -10.0 0zM393.9 138.4a5.0 5.0 0 1 0 10.0 0a5.0 5.0 0 1 0 -10.0 0zM394.4 137.8a5.0 5.0 0 1 0 10.0 0a5.0 5.0 0 1 0 -10.0 0zM394.9 138.0a5.0 5.0 0 1 0 10.0 0a5.0 5.0 0 1 0 -10.0 0zM395.4 137.9a5.0 5.0 0 1 0 10.0 0a5.0 5.0 0 1 0 -10.0 0zM395.9 137.6a5.0 5.0 0 1 0 10.0 0a5.0 5.0 0 1 0 -10.0 0zM396.4 138.1a5.0 5.0 0 1 0 10.0 0a5.0 5.0 0 1 0 -10.0 0zM396.9 138.0a5.0 5.0 0 1 0 10.0 0a5.0 5.0 0 1 0 -10.0 0zM397.4 138.0a5.0 5.0 0 1 0 10.0 0a5.0 5.0 0 1 0 -10.0 0zM397.9 138.5a5.0 5.0 0 1 0 10.0 0a5.0 5.0 0 1 0 -10.0 0zM398.4 138.1a5.0 5.0 0 1 0 10.0 0a5.0 5.0 0 1 0 -10.0 0zM398.9 137.9a5.0 5.0 0 1 0 10.0 0a5.0 5.0 0 1 0 -10.0 0zM399.4 138.1a5.0 5.0 0 1 0 10.0 0a5.0 5.0 0 1 0 -10.0 0zM399.9 138.1a5.0 5.0 0 1 0 10.0 0a5.0 5.0 0 1 0 -10.0 0zM400.4 137.9a5.0 5.0 0 1 0 10.0 0a5.0 5.0 0 1 0 -10.0 0zM400.9 137.7a5.0 5.0 0 1 0 10.0 0a5.0 5.0 0 1 0 -10.0 0zM401.4 137.8a5.0 5.0 0 1 0 10.0 0a5.0 5.0 0 1 0 -10.0 0zM401.9 137.2a5.0 5.0 0 1 0 10.0 0a5.0 5.0 0 1 0 -10.0 0zM402.4 137.6a5.0 5.0 0 1 0 10.0 0a5.0 5.0 0 1 0 -10.0 0zM402.9 137.9a5.0 5.0 0 1 0 10.0 0a5.0 5.0 0 1 0 -10.0 0zM403.4 137.9a5.0 5.0 0 1 0 10.0 0a5.0 5.0 0 1 0 -10.0 0zM403.9 138.0a5.0 5.0 0 1 0 10.0 0a5.0 5.0 0 1 0 -10.0 0zM404.4 137.3a5.0 5.0 0 1 0 10.0 0a5.0 5.0 0 1 0 -10.0 0zM404.9 137.7a5.0 5.0 0 1 0 10.0 0a5.0 5.0 0 1 0 -10.0 0zM405.4 137.3a5.0 5.0 0 1 0 10.0 0a5.0 5.0 0 1 0 -10.0 0zM405.9 137.5a5.0 5.0 0 1 0 10.0 0a5.0 5.0 0 1 0 -10.0 0zM406.4 137.3a5.0 5.0 0 1 0 10.0 0a5.0 5.0 0 1 0 -10.0 0zM406.9 138.0a5.0 5.0 0 1 0 10.0 0a5.0 5.0 0 1 0 -10.0 0zM407.4 137.7a5.0 5.0 0 1 0 10.0 0a5.0 5.0 0 1 0 -10.0 0zM407.9 137.0a5.0 5.0 0 1 0 10.0 0a5.0 5.0 0 1 0 -10.0 0zM408.4 136.6a5.0 5.0 0 1 0 10.0 0a5.0 5.0 0 1 0 -10.0 0zM408.9 137.9a5.0 5.0 0 1 0 10.0 0a5.0 5.0 0 1 0 -10.0 0zM409.4 137.2a5.0 5.0 0 1 0 10.0 0a5.0 5.0 0 1 0 -10.0 0zM409.9 136.8a5.0 5.0 0 1 0 10.0 0a5.0 5.0 0 1 0 -10.0 0zM410.4 137.3a5.0 5.0 0 1 0 10.0 0a5.0 5.0 0 1 0 -10.0 0zM410.9 137.4a5.0 5.0 0 1 0 10.0 0a5.0 5.0 0 1 0 -10.0 0zM411.4 137.0a5.0 5.0 0 1 0 10.0 0a5.0 5.0 0 1 0 -10.0 0zM411.9 137.2a5.0 5.0 0 1 0 10.0 0a5.0 5.0 0 1 0 -10.0 0zM412.4 137.0a5.0 5.0 0 1 0 10.0 0a5.0 5.0 0 1 0 -10.0 0zM412.9 136.7a5.0 5.0 0 1 0 10.0 0a5.0 5.0 0 1 0 -10.0 0zM413.4 137.2a5.0 5.0 0 1 0 10.0 0a5.0 5.0 0 1 0 -10.0 0zM413.9 136.3a5.0 5.0 0 1 0 10.0 0a5.0 5.0 0 1 0 -10.0 0zM414.4 136.5a5.0 5.0 0 1 0 10.0 0a5.0 5.0 0 1 0 -10.0 0zM414.9 136.5a5.0 5.0 0 1 0 10.0 0a5.0 5.0 0 1 0 -10.0 0zM415.4 136.2a5.0 5.0 0 1 0 10.0 0a5.0 5.0 0 1 0 -10.0 0zM415.9 136.9a5.0 5.0 0 1 0 10.0 0a5.0 5.0 0 1 0 -10.0 0zM416.4 136.4a5.0 5.0 0 1 0 10.0 0a5.0 5.0 0 1 0 -10.0 0zM416.9 137.0a5.0 5.0 0 1 0 10.0 0a5.0 5.0 0 1 0 -10.0 0zM417.4 136.4a5.0 5.0 0 1 0 10.0 0a5.0 5.0 0 1 0 -10.0 0zM417.9 137.0a5.0 5.0 0 1 0 10.0 0a5.0 5.0 0 1 0 -10.0 0zM418.4 136.1a5.0 5.0 0 1 0 10.0 0a5.0 5.0 0 1 0 -10.0 0zM418.9 136.8a5.0 5.0 0 1 0 10.0 0a5.0 5.0 0 1 0 -10.0 0zM419.4 136.2a5.0 5.0 0 1 0 10.0 0a5.0 5.0 0 1 0 -10.0 0zM419.9 135.9a5.0 5.0 0 1 0 10.0 0a5.0 5.0 0 1 0 -10.0 0zM420.4 135.9a5.0 5.0 0 1 0 10.0 0a5.0 5.0 0 1 0 -10.0 0zM420.9 135.5a5.0 5.0 0 1 0 10.0 0a5.0 5.0 0 1 0 -10.0 0zM421.4 136.5a5.0 5.0 0 1 0 10.0 0a5.0 5.0 0 1 0 -10.0 0zM421.9 135.7a5.0 5.0 0 1 0 10.0 0a5.0 5.0 0 1 0 -10.0 0zM422.4 135.8a5.0 5.0 0 1 0 10.0 0a5.0 5.0 0 1 0 -10.0 0zM422.9 135.8a5.0 5.0 0 1 0 10.0 0a5.0 5.0 0 1 0 -10.0 0zM423.4 135.8a5.0 5.0 0 1 0 10.0 0a5.0 5.0 0 1 0 -10.0 0zM423.9 135.8a5.0 5.0 0 1 0 10.0 0a5.0 5.0 0 1 0 -10.0 0zM424.4 135.5a5.0 5.0 0 1 0 10.0 0a5.0 5.0 0 1 0 -10.0 0zM424.9 135.2a5.0 5.0 0 1 0 10.0 0a5.0 5.0 0 1 0 -10.0 0zM425.4 135.4a5.0 5.0 0 1 0 10.0 0a5.0 5.0 0 1 0 -10.0 0zM425.9 135.1a5.0 5.0 0 1 0 10.0 0a5.0 5.0 0 1 0 -10.0 0zM426.4 135.6a5.0 5.0 0 1 0 10.0 0a5.0 5.0 0 1 0 -10.0 0zM426.9 135.5a5.0 5.0 0 1 0 10.0 0a5.0 5.0 0 1 0 -10.0 0zM427.4 135.6a5.0 5.0 0 1 0 10.0 0a5.0 5.0 0 1 0 -10.0 0zM427.9 135.4a5.0 5.0 0 1 0 10.0 0a5.0 5.0 0 1 0 -10.0 0zM428.4 135.7a5.0 5.0 0 1 0 10.0 0a5.0 5.0 0 1 0 -10.0 0zM428.9 135.5a5.0 5.0 0 1 0 10.0 0a5.0 5.0 0 1 0 -10.0 0zM429.4 135.4a5.0 5.0 0 1 0 10.0 0a5.0 5.0 0 1 0 -10.0 0zM429.9 135.5a5.0 5.0 0 1 0 10.0 0a5.0 5.0 0 1 0 -10.0 0zM430.4 135.3a5.0 5.0 0 1 0 10.0 0a5.0 5.0 0 1 0 -10.0 0zM430.9 135.2a5.0 5.0 0 1 0 10.0 0a5.0 5.0 0 1 0 -10.0 0zM431.4 134.8a5.0 5.0 0 1 0 10.0 0a5.0 5.0 0 1 0 -10.0 0zM431.9 134.4a5.0 5.0 0 1 0 10.0 0a5.0 5.0 0 1 0 -10.0 0zM432.4 134.6a5.0 5.0 0 1 0 10.0 0a5.0 5.0 0 1 0 -10.0 0zM432.9 134.8a5.0 5.0 0 1 0 10.0 0a5.0 5.0 0 1 0 -10.0 0zM433.4 134.6a5.0 5.0 0 1 0 10.0 0a5.0 5.0 0 1 0 -10.0 0zM433.9 134.2a5.0 5.0 0 1 0 10.0 0a5.0 5.0 0 1 0 -10.0 0zM434.4 134.0a5.0 5.0 0 1 0 10.0 0a5.0 5.0 0 1 0 -10.0 0zM434.9 134.5a5.0 5.0 0 1 0 10.0 0a5.0 5.0 0 1 0 -10.0 0zM435.4 134.4a5.0 5.0 0 1 0 10.0 0a5.0 5.0 0 1 0 -10.0 0zM435.9 134.2a5.0 5.0 0 1 0 10.0 0a5.0 5.0 0 1 0 -10.0 0zM436.4 134.3a5.0 5.0 0 1 0 10.0 0a5.0 5.0 0 1 0 -10.0 0zM436.9 134.2a5.0 5.0 0 1 0 10.0 0a5.0 5.0 0 1 0 -10.0 0zM437.4 134.2a5.0 5.0 0 1 0 10.0 0a5.0 5.0 0 1 0 -10.0 0zM437.9 134.1a5.0 5.0 0 1 0 10.0 0a5.0 5.0 0 1 0 -10.0 0zM438.4 134.3a5.0 5.0 0 1 0 10.0 0a5.0 5.0 0 1 0 -10.0 0zM438.9 133.8a5.0 5.0 0 1 0 10.0 0a5.0 5.0 0 1 0 -10.0 0zM439.4 134.0a5.0 5.0 0 1 0 10.0 0a5.0 5.0 0 1 0 -10.0 0zM439.9 134.2a5.0 5.0 0 1 0 10.0 0a5.0 5.0 0 1 0 -10.0 0zM440.4 134.0a5.0 5.0 0 1 0 10.0 0a5.0 5.0 0 1 0 -10.0 0zM440.9 134.4a5.0 5.0 0 1 0 10.0 0a5.0 5.0 0 1 0 -10.0 0zM441.4 133.8a5.0 5.0 0 1 0 10.0 0a5.0 5.0 0 1 0 -10.0 0zM441.9 133.8a5.0 5.0 0 1 0 10.0 0a5.0 5.0 0 1 0 -10.0 0zM442.4 133.7a5.0 5.0 0 1 0 10.0 0a5.0 5.0 0 1 0 -10.0 0zM442.9 133.2a5.0 5.0 0 1 0 10.0 0a5.0 5.0 0 1 0 -10.0 0zM443.4 133.8a5.0 5.0 0 1 0 10.0 0a5.0 5.0 0 1 0 -10.0 0zM443.9 133.2a5.0 5.0 0 1 0 10.0 0a5.0 5.0 0 1 0 -10.0 0zM444.4 133.5a5.0 5.0 0 1 0 10.0 0a5.0 5.0 0 1 0 -10.0 0zM444.9 133.5a5.0 5.0 0 1 0 10.0 0a5.0 5.0 0 1 0 -10.0 0zM445.4 133.8a5.0 5.0 0 1 0 10.0 0a5.0 5.0 0 1 0 -10.0 0zM445.9 133.2a5.0 5.0 0 1 0 10.0 0a5.0 5.0 0 1 0 -10.0 0zM446.4 133.1a5.0 5.0 0 1 0 10.0 0a5.0 5.0 0 1 0 -10.0 0zM446.9 133.1a5.0 5.0 0 1 0 10.0 0a5.0 5.0 0 1 0 -10.0 0zM447.4 133.2a5.0 5.0 0 1 0 10.0 0a5.0 5.0 0 1 0 -10.0 0zM447.9 132.9a5.0 5.0 0 1 0 10.0 0a5.0 5.0 0 1 0 -10.0 0zM448.4 133.5a5.0 5.0 0 1 0 10.0 0a5.0 5.0 0 1 0 -10.0 0zM448.9 133.1a5.0 5.0 0 1 0 10.0 0a5.0 5.0 0 1 0 -10.0 0zM449.4 133.1a5.0 5.0 0 1 0 10.0 0a5.0 5.0 0 1 0 -10.0 0zM449.9 133.0a5.0 5.0 0 1 0 10.0 0a5.0 5.0 0 1 0 -10.0 0zM450.4 132.8a5.0 5.0 0 1 0 10.0 0a5.0 5.0 0 1 0 -10.0 0zM450.9 132.8a5.0 5.0 0 1 0 10.0 0a5.0 5.0 0 1 0 -10.0 0zM451.4 133.4a5.0 5.0 0 1 0 10.0 0a5.0 5.0 0 1 0 -10.0 0zM451.9 132.1a5.0 5.0 0 1 0 10.0 0a5.0 5.0 0 1 0 -10.0 0zM452.4 132.8a5.0 5.0 0 1 0 10.0 0a5.0 5.0 0 1 0 -10.0 0zM452.9 132.6a5.0 5.0 0 1 0 10.0 0a5.0 5.0 0 1 0 -10.0 0zM453.4 132.9a5.0 5.0 0 1 0 10.0 0a5.0 5.0 0 1 0 -10.0 0zM453.9 132.3a5.0 5.0 0 1 0 10.0 0a5.0 5.0 0 1 0 -10.0 0zM454.4 132.5a5.0 5.0 0 1 0 10.0 0a5.0 5.0 0 1 0 -10.0 0zM454.9 132.9a5.0 5.0 0 1 0 10.0 0a5.0 5.0 0 1 0 -10.0 0zM455.4 132.8a5.0 5.0 0 1 0 10.0 0a5.0 5.0 0 1 0 -10.0 0zM455.9 132.9a5.0 5.0 0 1 0 10.0 0a5.0 5.0 0 1 0 -10.0 0zM456.4 132.6a5.0 5.0 0 1 0 10.0 0a5.0 5.0 0 1 0 -10.0 0zM456.9 132.4a5.0 5.0 0 1 0 10.0 0a5.0 5.0 0 1 0 -10.0 0zM457.4 133.0a5.0 5.0 0 1 0 10.0 0a5.0 5.0 0 1 0 -10.0 0zM457.9 132.4a5.0 5.0 0 1 0 10.0 0a5.0 5.0 0 1 0 -10.0 0zM458.4 132.4a5.0 5.0 0 1 0 10.0 0a5.0 5.0 0 1 0 -10.0 0zM459.0 132.2a5.0 5.0 0 1 0 10.0 0a5.0 5.0 0 1 0 -10.0 0zM459.5 132.2a5.0 5.0 0 1 0 10.0 0a5.0 5.0 0 1 0 -10.0 0zM460.0 131.9a5.0 5.0 0 1 0 10.0 0a5.0 5.0 0 1 0 -10.0 0zM460.5 132.2a5.0 5.0 0 1 0 10.0 0a5.0 5.0 0 1 0 -10.0 0zM461.0 132.7a5.0 5.0 0 1 0 10.0 0a5.0 5.0 0 1 0 -10.0 0zM461.5 132.2a5.0 5.0 0 1 0 10.0 0a5.0 5.0 0 1 0 -10.0 0zM462.0 132.4a5.0 5.0 0 1 0 10.0 0a5.0 5.0 0 1 0 -10.0 0zM462.5 131.5a5.0 5.0 0 1 0 10.0 0a5.0 5.0 0 1 0 -10.0 0zM463.0 131.9a5.0 5.0 0 1 0 10.0 0a5.0 5.0 0 1 0 -10.0 0zM463.5 132.2a5.0 5.0 0 1 0 10.0 0a5.0 5.0 0 1 0 -10.0 0zM464.0 131.7a5.0 5.0 0 1 0 10.0 0a5.0 5.0 0 1 0 -10.0 0zM464.5 132.2a5.0 5.0 0 1 0 10.0 0a5.0 5.0 0 1 0 -10.0 0zM465.0 131.9a5.0 5.0 0 1 0 10.0 0a5.0 5.0 0 1 0 -10.0 0zM465.5 132.0a5.0 5.0 0 1 0 10.0 0a5.0 5.0 0 1 0 -10.0 0zM466.0 132.3a5.0 5.0 0 1 0 10.0 0a5.0 5.0 0 1 0 -10.0 0zM466.5 131.8a5.0 5.0 0 1 0 10.0 0a5.0 5.0 0 1 0 -10.0 0zM467.0 131.9a5.0 5.0 0 1 0 10.0 0a5.0 5.0 0 1 0 -10.0 0zM467.5 132.2a5.0 5.0 0 1 0 10.0 0a5.0 5.0 0 1 0 -10.0 0zM468.0 131.8a5.0 5.0 0 1 0 10.0 0a5.0 5.0 0 1 0 -10.0 0zM468.5 132.1a5.0 5.0 0 1 0 10.0 0a5.0 5.0 0 1 0 -10.0 0zM469.0 131.8a5.0 5.0 0 1 0 10.0 0a5.0 5.0 0 1 0 -10.0 0zM469.5 131.6a5.0 5.0 0 1 0 10.0 0a5.0 5.0 0 1 0 -10.0 0zM470.0 131.7a5.0 5.0 0 1 0 10.0 0a5.0 5.0 0 1 0 -10.0 0zM470.5 131.4a5.0 5.0 0 1 0 10.0 0a5.0 5.0 0 1 0 -10.0 0zM471.0 131.4a5.0 5.0 0 1 0 10.0 0a5.0 5.0 0 1 0 -10.0 0zM471.5 132.1a5.0 5.0 0 1 0 10.0 0a5.0 5.0 0 1 0 -10.0 0zM472.0 131.8a5.0 5.0 0 1 0 10.0 0a5.0 5.0 0 1 0 -10.0 0zM472.5 132.0a5.0 5.0 0 1 0 10.0 0a5.0 5.0 0 1 0 -10.0 0zM473.0 131.6a5.0 5.0 0 1 0 10.0 0a5.0 5.0 0 1 0 -10.0 0zM473.5 131.9a5.0 5.0 0 1 0 10.0 0a5.0 5.0 0 1 0 -10.0 0zM474.0 131.8a5.0 5.0 0 1 0 10.0 0a5.0 5.0 0 1 0 -10.0 0zM474.5 131.7a5.0 5.0 0 1 0 10.0 0a5.0 5.0 0 1 0 -10.0 0zM475.0 132.1a5.0 5.0 0 1 0 10.0 0a5.0 5.0 0 1 0 -10.0 0zM475.5 131.6a5.0 5.0 0 1 0 10.0 0a5.0 5.0 0 1 0 -10.0 0zM476.0 131.9a5.0 5.0 0 1 0 10.0 0a5.0 5.0 0 1 0 -10.0 0zM476.5 132.1a5.0 5.0 0 1 0 10.0 0a5.0 5.0 0 1 0 -10.0 0zM477.0 131.3a5.0 5.0 0 1 0 10.0 0a5.0 5.0 0 1 0 -10.0 0zM477.5 131.6a5.0 5.0 0 1 0 10.0 0a5.0 5.0 0 1 0 -10.0 0zM478.0 131.8a5.0 5.0 0 1 0 10.0 0a5.0 5.0 0 1 0 -10.0 0zM478.5 131.9a5.0 5.0 0 1 0 10.0 0a5.0 5.0 0 1 0 -10.0 0zM479.0 132.0a5.0 5.0 0 1 0 10.0 0a5.0 5.0 0 1 0 -10.0 0zM479.5 132.0a5.0 5.0 0 1 0 10.0 0a5.0 5.0 0 1 0 -10.0 0zM480.0 131.4a5.0 5.0 0 1 0 10.0 0a5.0 5.0 0 1 0 -10.0 0zM480.5 132.3a5.0 5.0 0 1 0 10.0 0a5.0 5.0 0 1 0 -10.0 0zM481.0 131.8a5.0 5.0 0 1 0 10.0 0a5.0 5.0 0 1 0 -10.0 0zM481.5 131.5a5.0 5.0 0 1 0 10.0 0a5.0 5.0 0 1 0 -10.0 0zM482.0 131.6a5.0 5.0 0 1 0 10.0 0a5.0 5.0 0 1 0 -10.0 0zM482.5 131.8a5.0 5.0 0 1 0 10.0 0a5.0 5.0 0 1 0 -10.0 0zM483.0 131.4a5.0 5.0 0 1 0 10.0 0a5.0 5.0 0 1 0 -10.0 0zM483.5 131.7a5.0 5.0 0 1 0 10.0 0a5.0 5.0 0 1 0 -10.0 0zM484.0 131.5a5.0 5.0 0 1 0 10.0 0a5.0 5.0 0 1 0 -10.0 0zM484.5 132.0a5.0 5.0 0 1 0 10.0 0a5.0 5.0 0 1 0 -10.0 0zM485.0 131.4a5.0 5.0 0 1 0 10.0 0a5.0 5.0 0 1 0 -10.0 0zM485.5 131.8a5.0 5.0 0 1 0 10.0 0a5.0 5.0 0 1 0 -10.0 0zM486.0 131.4a5.0 5.0 0 1 0 10.0 0a5.0 5.0 0 1 0 -10.0 0zM486.5 132.0a5.0 5.0 0 1 0 10.0 0a5.0 5.0 0 1 0 -10.0 0zM487.0 131.9a5.0 5.0 0 1 0 10.0 0a5.0 5.0 0 1 0 -10.0 0zM487.5 131.8a5.0 5.0 0 1 0 10.0 0a5.0 5.0 0 1 0 -10.0 0zM488.0 131.5a5.0 5.0 0 1 0 10.0 0a5.0 5.0 0 1 0 -10.0 0zM488.5 131.7a5.0 5.0 0 1 0 10.0 0a5.0 5.0 0 1 0 -10.0 0zM489.0 131.7a5.0 5.0 0 1 0 10.0 0a5.0 5.0 0 1 0 -10.0 0zM489.5 131.9a5.0 5.0 0 1 0 10.0 0a5.0 5.0 0 1 0 -10.0 0zM490.0 131.6a5.0 5.0 0 1 0 10.0 0a5.0 5.0 0 1 0 -10.0 0zM490.5 131.7a5.0 5.0 0 1 0 10.0 0a5.0 5.0 0 1 0 -10.0 0zM491.0 132.1a5.0 5.0 0 1 0 10.0 0a5.0 5.0 0 1 0 -10.0 0zM491.5 131.0a5.0 5.0 0 1 0 10.0 0a5.0 5.0 0 1 0 -10.0 0zM492.0 132.0a5.0 5.0 0 1 0 10.0 0a5.0 5.0 0 1 0 -10.0 0zM492.5 131.4a5.0 5.0 0 1 0 10.0 0a5.0 5.0 0 1 0 -10.0 0zM493.0 131.6a5.0 5.0 0 1 0 10.0 0a5.0 5.0 0 1 0 -10.0 0zM493.5 131.3a5.0 5.0 0 1 0 10.0 0a5.0 5.0 0 1 0 -10.0 0zM494.0 131.4a5.0 5.0 0 1 0 10.0 0a5.0 5.0 0 1 0 -10.0 0zM494.5 131.3a5.0 5.0 0 1 0 10.0 0a5.0 5.0 0 1 0 -10.0 0zM495.0 131.3a5.0 5.0 0 1 0 10.0 0a5.0 5.0 0 1 0 -10.0 0zM495.5 131.2a5.0 5.0 0 1 0 10.0 0a5.0 5.0 0 1 0 -10.0 0zM496.0 131.3a5.0 5.0 0 1 0 10.0 0a5.0 5.0 0 1 0 -10.0 0zM496.5 131.4a5.0 5.0 0 1 0 10.0 0a5.0 5.0 0 1 0 -10.0 0zM497.0 131.8a5.0 5.0 0 1 0 10.0 0a5.0 5.0 0 1 0 -10.0 0zM497.5 131.5a5.0 5.0 0 1 0 10.0 0a5.0 5.0 0 1 0 -10.0 0zM498.0 131.6a5.0 5.0 0 1 0 10.0 0a5.0 5.0 0 1 0 -10.0 0zM498.5 130.9a5.0 5.0 0 1 0 10.0 0a5.0 5.0 0 1 0 -10.0 0zM499.0 131.1a5.0 5.0 0 1 0 10.0 0a5.0 5.0 0 1 0 -10.0 0zM499.5 130.5a5.0 5.0 0 1 0 10.0 0a5.0 5.0 0 1 0 -10.0 0zM500.0 131.1a5.0 5.0 0 1 0 10.0 0a5.0 5.0 0 1 0 -10.0 0zM500.5 130.6a5.0 5.0 0 1 0 10.0 0a5.0 5.0 0 1 0 -10.0 0zM501.0 130.6a5.0 5.0 0 1 0 10.0 0a5.0 5.0 0 1 0 -10.0 0zM501.5 130.5a5.0 5.0 0 1 0 10.0 0a5.0 5.0 0 1 0 -10.0 0zM502.0 130.3a5.0 5.0 0 1 0 10.0 0a5.0 5.0 0 1 0 -10.0 0zM502.5 130.3a5.0 5.0 0 1 0 10.0 0a5.0 5.0 0 1 0 -10.0 0zM503.0 129.6a5.0 5.0 0 1 0 10.0 0a5.0 5.0 0 1 0 -10.0 0zM503.5 128.9a5.0 5.0 0 1 0 10.0 0a5.0 5.0 0 1 0 -10.0 0zM504.0 129.6a5.0 5.0 0 1 0 10.0 0a5.0 5.0 0 1 0 -10.0 0zM504.5 129.5a5.0 5.0 0 1 0 10.0 0a5.0 5.0 0 1 0 -10.0 0zM505.0 128.4a5.0 5.0 0 1 0 10.0 0a5.0 5.0 0 1 0 -10.0 0zM505.5 128.6a5.0 5.0 0 1 0 10.0 0a5.0 5.0 0 1 0 -10.0 0zM506.0 128.7a5.0 5.0 0 1 0 10.0 0a5.0 5.0 0 1 0 -10.0 0zM506.5 128.6a5.0 5.0 0 1 0 10.0 0a5.0 5.0 0 1 0 -10.0 0zM507.0 128.0a5.0 5.0 0 1 0 10.0 0a5.0 5.0 0 1 0 -10.0 0zM507.5 128.5a5.0 5.0 0 1 0 10.0 0a5.0 5.0 0 1 0 -10.0 0zM508.0 127.9a5.0 5.0 0 1 0 10.0 0a5.0 5.0 0 1 0 -10.0 0zM508.5 128.4a5.0 5.0 0 1 0 10.0 0a5.0 5.0 0 1 0 -10.0 0zM509.0 127.4a5.0 5.0 0 1 0 10.0 0a5.0 5.0 0 1 0 -10.0 0zM509.5 126.8a5.0 5.0 0 1 0 10.0 0a5.0 5.0 0 1 0 -10.0 0zM510.0 126.7a5.0 5.0 0 1 0 10.0 0a5.0 5.0 0 1 0 -10.0 0zM510.5 126.7a5.0 5.0 0 1 0 10.0 0a5.0 5.0 0 1 0 -10.0 0zM511.0 126.0a5.0 5.0 0 1 0 10.0 0a5.0 5.0 0 1 0 -10.0 0zM511.5 125.8a5.0 5.0 0 1 0 10.0 0a5.0 5.0 0 1 0 -10.0 0zM512.0 125.7a5.0 5.0 0 1 0 10.0 0a5.0 5.0 0 1 0 -10.0 0zM512.5 125.2a5.0 5.0 0 1 0 10.0 0a5.0 5.0 0 1 0 -10.0 0zM513.0 124.7a5.0 5.0 0 1 0 10.0 0a5.0 5.0 0 1 0 -10.0 0zM513.5 123.8a5.0 5.0 0 1 0 10.0 0a5.0 5.0 0 1 0 -10.0 0zM514.0 123.5a5.0 5.0 0 1 0 10.0 0a5.0 5.0 0 1 0 -10.0 0zM514.5 124.0a5.0 5.0 0 1 0 10.0 0a5.0 5.0 0 1 0 -10.0 0zM515.0 123.2a5.0 5.0 0 1 0 10.0 0a5.0 5.0 0 1 0 -10.0 0zM515.5 122.2a5.0 5.0 0 1 0 10.0 0a5.0 5.0 0 1 0 -10.0 0zM516.0 122.5a5.0 5.0 0 1 0 10.0 0a5.0 5.0 0 1 0 -10.0 0zM516.5 122.6a5.0 5.0 0 1 0 10.0 0a5.0 5.0 0 1 0 -10.0 0zM517.0 121.9a5.0 5.0 0 1 0 10.0 0a5.0 5.0 0 1 0 -10.0 0zM517.5 122.0a5.0 5.0 0 1 0 10.0 0a5.0 5.0 0 1 0 -10.0 0zM518.0 121.1a5.0 5.0 0 1 0 10.0 0a5.0 5.0 0 1 0 -10.0 0zM518.5 121.2a5.0 5.0 0 1 0 10.0 0a5.0 5.0 0 1 0 -10.0 0zM519.0 120.2a5.0 5.0 0 1 0 10.0 0a5.0 5.0 0 1 0 -10.0 0zM519.5 120.4a5.0 5.0 0 1 0 10.0 0a5.0 5.0 0 1 0 -10.0 0zM520.0 120.1a5.0 5.0 0 1 0 10.0 0a5.0 5.0 0 1 0 -10.0 0zM520.5 119.7a5.0 5.0 0 1 0 10.0 0a5.0 5.0 0 1 0 -10.0 0zM521.0 119.8a5.0 5.0 0 1 0 10.0 0a5.0 5.0 0 1 0 -10.0 0zM521.5 119.3a5.0 5.0 0 1 0 10.0 0a5.0 5.0 0 1 0 -10.0 0zM522.0 119.2a5.0 5.0 0 1 0 10.0 0a5.0 5.0 0 1 0 -10.0 0zM522.5 118.9a5.0 5.0 0 1 0 10.0 0a5.0 5.0 0 1 0 -10.0 0zM523.0 118.9a5.0 5.0 0 1 0 10.0 0a5.0 5.0 0 1 0 -10.0 0zM523.5 118.0a5.0 5.0 0 1 0 10.0 0a5.0 5.0 0 1 0 -10.0 0zM524.0 117.6a5.0 5.0 0 1 0 10.0 0a5.0 5.0 0 1 0 -10.0 0zM524.5 117.2a5.0 5.0 0 1 0 10.0 0a5.0 5.0 0 1 0 -10.0 0zM525.0 116.9a5.0 5.0 0 1 0 10.0 0a5.0 5.0 0 1 0 -10.0 0zM525.5 116.5a5.0 5.0 0 1 0 10.0 0a5.0 5.0 0 1 0 -10.0 0zM526.0 116.4a5.0 5.0 0 1 0 10.0 0a5.0 5.0 0 1 0 -10.0 0zM526.5 115.9a5.0 5.0 0 1 0 10.0 0a5.0 5.0 0 1 0 -10.0 0zM527.0 116.1a5.0 5.0 0 1 0 10.0 0a5.0 5.0 0 1 0 -10.0 0zM527.5 115.7a5.0 5.0 0 1 0 10.0 0a5.0 5.0 0 1 0 -10.0 0zM528.0 115.6a5.0 5.0 0 1 0 10.0 0a5.0 5.0 0 1 0 -10.0 0zM528.5 114.9a5.0 5.0 0 1 0 10.0 0a5.0 5.0 0 1 0 -10.0 0zM529.0 114.5a5.0 5.0 0 1 0 10.0 0a5.0 5.0 0 1 0 -10.0 0zM529.5 114.0a5.0 5.0 0 1 0 10.0 0a5.0 5.0 0 1 0 -10.0 0zM530.0 113.9a5.0 5.0 0 1 0 10.0 0a5.0 5.0 0 1 0 -10.0 0zM530.5 113.4a5.0 5.0 0 1 0 10.0 0a5.0 5.0 0 1 0 -10.0 0zM531.0 113.0a5.0 5.0 0 1 0 10.0 0a5.0 5.0 0 1 0 -10.0 0zM531.5 112.8a5.0 5.0 0 1 0 10.0 0a5.0 5.0 0 1 0 -10.0 0zM532.1 112.5a5.0 5.0 0 1 0 10.0 0a5.0 5.0 0 1 0 -10.0 0zM532.6 111.6a5.0 5.0 0 1 0 10.0 0a5.0 5.0 0 1 0 -10.0 0zM533.1 111.7a5.0 5.0 0 1 0 10.0 0a5.0 5.0 0 1 0 -10.0 0zM533.6 111.3a5.0 5.0 0 1 0 10.0 0a5.0 5.0 0 1 0 -10.0 0zM534.1 111.3a5.0 5.0 0 1 0 10.0 0a5.0 5.0 0 1 0 -10.0 0zM534.6 111.0a5.0 5.0 0 1 0 10.0 0a5.0 5.0 0 1 0 -10.0 0zM535.1 110.5a5.0 5.0 0 1 0 10.0 0a5.0 5.0 0 1 0 -10.0 0zM535.6 111.0a5.0 5.0 0 1 0 10.0 0a5.0 5.0 0 1 0 -10.0 0zM536.1 110.6a5.0 5.0 0 1 0 10.0 0a5.0 5.0 0 1 0 -10.0 0zM536.6 110.2a5.0 5.0 0 1 0 10.0 0a5.0 5.0 0 1 0 -10.0 0zM537.1 109.6a5.0 5.0 0 1 0 10.0 0a5.0 5.0 0 1 0 -10.0 0zM537.6 109.2a5.0 5.0 0 1 0 10.0 0a5.0 5.0 0 1 0 -10.0 0zM538.1 109.9a5.0 5.0 0 1 0 10.0 0a5.0 5.0 0 1 0 -10.0 0zM538.6 109.2a5.0 5.0 0 1 0 10.0 0a5.0 5.0 0 1 0 -10.0 0zM539.1 109.1a5.0 5.0 0 1 0 10.0 0a5.0 5.0 0 1 0 -10.0 0zM539.6 109.6a5.0 5.0 0 1 0 10.0 0a5.0 5.0 0 1 0 -10.0 0zM540.1 108.6a5.0 5.0 0 1 0 10.0 0a5.0 5.0 0 1 0 -10.0 0zM540.6 108.9a5.0 5.0 0 1 0 10.0 0a5.0 5.0 0 1 0 -10.0 0zM541.1 108.6a5.0 5.0 0 1 0 10.0 0a5.0 5.0 0 1 0 -10.0 0zM541.6 108.3a5.0 5.0 0 1 0 10.0 0a5.0 5.0 0 1 0 -10.0 0zM542.1 107.8a5.0 5.0 0 1 0 10.0 0a5.0 5.0 0 1 0 -10.0 0zM542.6 108.0a5.0 5.0 0 1 0 10.0 0a5.0 5.0 0 1 0 -10.0 0zM543.1 108.0a5.0 5.0 0 1 0 10.0 0a5.0 5.0 0 1 0 -10.0 0zM543.6 107.8a5.0 5.0 0 1 0 10.0 0a5.0 5.0 0 1 0 -10.0 0zM544.1 106.7a5.0 5.0 0 1 0 10.0 0a5.0 5.0 0 1 0 -10.0 0zM544.6 107.2a5.0 5.0 0 1 0 10.0 0a5.0 5.0 0 1 0 -10.0 0zM545.1 106.9a5.0 5.0 0 1 0 10.0 0a5.0 5.0 0 1 0 -10.0 0zM545.6 107.5a5.0 5.0 0 1 0 10.0 0a5.0 5.0 0 1 0 -10.0 0zM546.1 107.0a5.0 5.0 0 1 0 10.0 0a5.0 5.0 0 1 0 -10.0 0zM546.6 105.8a5.0 5.0 0 1 0 10.0 0a5.0 5.0 0 1 0 -10.0 0zM547.1 105.7a5.0 5.0 0 1 0 10.0 0a5.0 5.0 0 1 0 -10.0 0zM547.6 106.1a5.0 5.0 0 1 0 10.0 0a5.0 5.0 0 1 0 -10.0 0zM548.1 106.7a5.0 5.0 0 1 0 10.0 0a5.0 5.0 0 1 0 -10.0 0zM548.6 105.9a5.0 5.0 0 1 0 10.0 0a5.0 5.0 0 1 0 -10.0 0zM549.1 105.9a5.0 5.0 0 1 0 10.0 0a5.0 5.0 0 1 0 -10.0 0zM549.6 105.6a5.0 5.0 0 1 0 10.0 0a5.0 5.0 0 1 0 -10.0 0zM550.1 105.3a5.0 5.0 0 1 0 10.0 0a5.0 5.0 0 1 0 -10.0 0zM550.6 105.4a5.0 5.0 0 1 0 10.0 0a5.0 5.0 0 1 0 -10.0 0zM551.1 104.7a5.0 5.0 0 1 0 10.0 0a5.0 5.0 0 1 0 -10.0 0zM551.6 104.8a5.0 5.0 0 1 0 10.0 0a5.0 5.0 0 1 0 -10.0 0zM552.1 104.8a5.0 5.0 0 1 0 10.0 0a5.0 5.0 0 1 0 -10.0 0zM552.6 104.6a5.0 5.0 0 1 0 10.0 0a5.0 5.0 0 1 0 -10.0 0zM553.1 105.0a5.0 5.0 0 1 0 10.0 0a5.0 5.0 0 1 0 -10.0 0zM553.6 104.6a5.0 5.0 0 1 0 10.0 0a5.0 5.0 0 1 0 -10.0 0zM554.1 104.1a5.0 5.0 0 1 0 10.0 0a5.0 5.0 0 1 0 -10.0 0zM554.6 104.4a5.0 5.0 0 1 0 10.0 0a5.0 5.0 0 1 0 -10.0 0zM555.1 104.4a5.0 5.0 0 1 0 10.0 0a5.0 5.0 0 1 0 -10.0 0zM555.6 103.7a5.0 5.0 0 1 0 10.0 0a5.0 5.0 0 1 0 -10.0 0zM556.1 103.7a5.0 5.0 0 1 0 10.0 0a5.0 5.0 0 1 0 -10.0 0zM556.6 103.6a5.0 5.0 0 1 0 10.0 0a5.0 5.0 0 1 0 -10.0 0zM557.1 104.0a5.0 5.0 0 1 0 10.0 0a5.0 5.0 0 1 0 -10.0 0zM557.6 103.1a5.0 5.0 0 1 0 10.0 0a5.0 5.0 0 1 0 -10.0 0zM558.1 103.4a5.0 5.0 0 1 0 10.0 0a5.0 5.0 0 1 0 -10.0 0zM558.6 102.9a5.0 5.0 0 1 0 10.0 0a5.0 5.0 0 1 0 -10.0 0zM559.1 103.3a5.0 5.0 0 1 0 10.0 0a5.0 5.0 0 1 0 -10.0 0zM559.6 103.3a5.0 5.0 0 1 0 10.0 0a5.0 5.0 0 1 0 -10.0 0zM560.1 103.4a5.0 5.0 0 1 0 10.0 0a5.0 5.0 0 1 0 -10.0 0zM560.6 103.3a5.0 5.0 0 1 0 10.0 0a5.0 5.0 0 1 0 -10.0 0zM561.1 103.1a5.0 5.0 0 1 0 10.0 0a5.0 5.0 0 1 0 -10.0 0zM561.6 102.7a5.0 5.0 0 1 0 10.0 0a5.0 5.0 0 1 0 -10.0 0zM562.1 103.5a5.0 5.0 0 1 0 10.0 0a5.0 5.0 0 1 0 -10.0 0zM562.6 103.2a5.0 5.0 0 1 0 10.0 0a5.0 5.0 0 1 0 -10.0 0zM563.1 103.1a5.0 5.0 0 1 0 10.0 0a5.0 5.0 0 1 0 -10.0 0zM563.6 102.9a5.0 5.0 0 1 0 10.0 0a5.0 5.0 0 1 0 -10.0 0zM564.1 102.7a5.0 5.0 0 1 0 10.0 0a5.0 5.0 0 1 0 -10.0 0zM564.6 102.7a5.0 5.0 0 1 0 10.0 0a5.0 5.0 0 1 0 -10.0 0zM565.1 102.8a5.0 5.0 0 1 0 10.0 0a5.0 5.0 0 1 0 -10.0 0zM565.6 103.3a5.0 5.0 0 1 0 10.0 0a5.0 5.0 0 1 0 -10.0 0zM566.1 102.7a5.0 5.0 0 1 0 10.0 0a5.0 5.0 0 1 0 -10.0 0zM566.6 102.7a5.0 5.0 0 1 0 10.0 0a5.0 5.0 0 1 0 -10.0 0zM567.1 102.2a5.0 5.0 0 1 0 10.0 0a5.0 5.0 0 1 0 -10.0 0zM567.6 103.3a5.0 5.0 0 1 0 10.0 0a5.0 5.0 0 1 0 -10.0 0zM568.1 103.1a5.0 5.0 0 1 0 10.0 0a5.0 5.0 0 1 0 -10.0 0zM568.6 102.7a5.0 5.0 0 1 0 10.0 0a5.0 5.0 0 1 0 -10.0 0zM569.1 102.9a5.0 5.0 0 1 0 10.0 0a5.0 5.0 0 1 0 -10.0 0zM569.6 102.8a5.0 5.0 0 1 0 10.0 0a5.0 5.0 0 1 0 -10.0 0zM570.1 102.4a5.0 5.0 0 1 0 10.0 0a5.0 5.0 0 1 0 -10.0 0zM570.6 102.4a5.0 5.0 0 1 0 10.0 0a5.0 5.0 0 1 0 -10.0 0zM571.1 103.0a5.0 5.0 0 1 0 10.0 0a5.0 5.0 0 1 0 -10.0 0zM571.6 102.8a5.0 5.0 0 1 0 10.0 0a5.0 5.0 0 1 0 -10.0 0zM572.1 102.6a5.0 5.0 0 1 0 10.0 0a5.0 5.0 0 1 0 -10.0 0zM572.6 102.5a5.0 5.0 0 1 0 10.0 0a5.0 5.0 0 1 0 -10.0 0zM573.1 102.6a5.0 5.0 0 1 0 10.0 0a5.0 5.0 0 1 0 -10.0 0zM573.6 102.1a5.0 5.0 0 1 0 10.0 0a5.0 5.0 0 1 0 -10.0 0zM574.1 102.7a5.0 5.0 0 1 0 10.0 0a5.0 5.0 0 1 0 -10.0 0zM574.6 102.3a5.0 5.0 0 1 0 10.0 0a5.0 5.0 0 1 0 -10.0 0zM575.1 102.9a5.0 5.0 0 1 0 10.0 0a5.0 5.0 0 1 0 -10.0 0zM575.6 102.7a5.0 5.0 0 1 0 10.0 0a5.0 5.0 0 1 0 -10.0 0zM576.1 102.9a5.0 5.0 0 1 0 10.0 0a5.0 5.0 0 1 0 -10.0 0zM576.6 102.6a5.0 5.0 0 1 0 10.0 0a5.0 5.0 0 1 0 -10.0 0zM577.1 102.2a5.0 5.0 0 1 0 10.0 0a5.0 5.0 0 1 0 -10.0 0zM577.6 102.8a5.0 5.0 0 1 0 10.0 0a5.0 5.0 0 1 0 -10.0 0zM578.1 102.4a5.0 5.0 0 1 0 10.0 0a5.0 5.0 0 1 0 -10.0 0zM578.6 102.3a5.0 5.0 0 1 0 10.0 0a5.0 5.0 0 1 0 -10.0 0zM579.1 103.0a5.0 5.0 0 1 0 10.0 0a5.0 5.0 0 1 0 -10.0 0zM579.6 102.3a5.0 5.0 0 1 0 10.0 0a5.0 5.0 0 1 0 -10.0 0zM580.1 102.7a5.0 5.0 0 1 0 10.0 0a5.0 5.0 0 1 0 -10.0 0zM580.6 102.4a5.0 5.0 0 1 0 10.0 0a5.0 5.0 0 1 0 -10.0 0zM581.1 102.7a5.0 5.0 0 1 0 10.0 0a5.0 5.0 0 1 0 -10.0 0zM581.6 102.4a5.0 5.0 0 1 0 10.0 0a5.0 5.0 0 1 0 -10.0 0zM582.1 102.0a5.0 5.0 0 1 0 10.0 0a5.0 5.0 0 1 0 -10.0 0zM582.6 102.8a5.0 5.0 0 1 0 10.0 0a5.0 5.0 0 1 0 -10.0 0zM583.1 102.3a5.0 5.0 0 1 0 10.0 0a5.0 5.0 0 1 0 -10.0 0zM583.6 102.5a5.0 5.0 0 1 0 10.0 0a5.0 5.0 0 1 0 -10.0 0zM584.1 102.4a5.0 5.0 0 1 0 10.0 0a5.0 5.0 0 1 0 -10.0 0zM584.6 102.1a5.0 5.0 0 1 0 10.0 0a5.0 5.0 0 1 0 -10.0 0zM585.1 102.6a5.0 5.0 0 1 0 10.0 0a5.0 5.0 0 1 0 -10.0 0zM585.6 102.3a5.0 5.0 0 1 0 10.0 0a5.0 5.0 0 1 0 -10.0 0zM586.1 102.4a5.0 5.0 0 1 0 10.0 0a5.0 5.0 0 1 0 -10.0 0zM586.6 102.6a5.0 5.0 0 1 0 10.0 0a5.0 5.0 0 1 0 -10.0 0zM587.1 102.3a5.0 5.0 0 1 0 10.0 0a5.0 5.0 0 1 0 -10.0 0zM587.6 101.9a5.0 5.0 0 1 0 10.0 0a5.0 5.0 0 1 0 -10.0 0zM588.1 102.6a5.0 5.0 0 1 0 10.0 0a5.0 5.0 0 1 0 -10.0 0zM588.6 102.4a5.0 5.0 0 1 0 10.0 0a5.0 5.0 0 1 0 -10.0 0zM589.1 102.3a5.0 5.0 0 1 0 10.0 0a5.0 5.0 0 1 0 -10.0 0zM589.6 101.9a5.0 5.0 0 1 0 10.0 0a5.0 5.0 0 1 0 -10.0 0zM590.1 103.0a5.0 5.0 0 1 0 10.0 0a5.0 5.0 0 1 0 -10.0 0zM590.6 102.8a5.0 5.0 0 1 0 10.0 0a5.0 5.0 0 1 0 -10.0 0zM591.1 102.5a5.0 5.0 0 1 0 10.0 0a5.0 5.0 0 1 0 -10.0 0zM591.6 102.2a5.0 5.0 0 1 0 10.0 0a5.0 5.0 0 1 0 -10.0 0zM592.1 102.7a5.0 5.0 0 1 0 10.0 0a5.0 5.0 0 1 0 -10.0 0zM592.6 102.0a5.0 5.0 0 1 0 10.0 0a5.0 5.0 0 1 0 -10.0 0zM593.1 102.6a5.0 5.0 0 1 0 10.0 0a5.0 5.0 0 1 0 -10.0 0zM593.6 102.3a5.0 5.0 0 1 0 10.0 0a5.0 5.0 0 1 0 -10.0 0zM594.1 102.5a5.0 5.0 0 1 0 10.0 0a5.0 5.0 0 1 0 -10.0 0zM594.6 102.5a5.0 5.0 0 1 0 10.0 0a5.0 5.0 0 1 0 -10.0 0zM595.1 101.7a5.0 5.0 0 1 0 10.0 0a5.0 5.0 0 1 0 -10.0 0zM595.6 101.9a5.0 5.0 0 1 0 10.0 0a5.0 5.0 0 1 0 -10.0 0zM596.1 102.5a5.0 5.0 0 1 0 10.0 0a5.0 5.0 0 1 0 -10.0 0zM596.6 102.3a5.0 5.0 0 1 0 10.0 0a5.0 5.0 0 1 0 -10.0 0zM597.1 102.7a5.0 5.0 0 1 0 10.0 0a5.0 5.0 0 1 0 -10.0 0zM597.6 102.3a5.0 5.0 0 1 0 10.0 0a5.0 5.0 0 1 0 -10.0 0zM598.1 102.6a5.0 5.0 0 1 0 10.0 0a5.0 5.0 0 1 0 -10.0 0zM598.6 102.2a5.0 5.0 0 1 0 10.0 0a5.0 5.0 0 1 0 -10.0 0zM599.1 102.7a5.0 5.0 0 1 0 10.0 0a5.0 5.0 0 1 0 -10.0 0zM599.6 102.3a5.0 5.0 0 1 0 10.0 0a5.0 5.0 0 1 0 -10.0 0zM600.1 102.6a5.0 5.0 0 1 0 10.0 0a5.0 5.0 0 1 0 -10.0 0zM600.6 101.8a5.0 5.0 0 1 0 10.0 0a5.0 5.0 0 1 0 -10.0 0zM601.1 102.3a5.0 5.0 0 1 0 10.0 0a5.0 5.0 0 1 0 -10.0 0zM601.6 102.5a5.0 5.0 0 1 0 10.0 0a5.0 5.0 0 1 0 -10.0 0zM602.1 102.4a5.0 5.0 0 1 0 10.0 0a5.0 5.0 0 1 0 -10.0 0zM602.6 102.9a5.0 5.0 0 1 0 10.0 0a5.0 5.0 0 1 0 -10.0 0zM603.1 103.3a5.0 5.0 0 1 0 10.0 0a5.0 5.0 0 1 0 -10.0 0zM603.6 102.8a5.0 5.0 0 1 0 10.0 0a5.0 5.0 0 1 0 -10.0 0zM604.1 102.7a5.0 5.0 0 1 0 10.0 0a5.0 5.0 0 1 0 -10.0 0zM604.6 102.5a5.0 5.0 0 1 0 10.0 0a5.0 5.0 0 1 0 -10.0 0zM605.2 103.0a5.0 5.0 0 1 0 10.0 0a5.0 5.0 0 1 0 -10.0 0zM605.7 102.8a5.0 5.0 0 1 0 10.0 0a5.0 5.0 0 1 0 -10.0 0zM606.2 103.0a5.0 5.0 0 1 0 10.0 0a5.0 5.0 0 1 0 -10.0 0zM606.7 102.8a5.0 5.0 0 1 0 10.0 0a5.0 5.0 0 1 0 -10.0 0zM607.2 103.0a5.0 5.0 0 1 0 10.0 0a5.0 5.0 0 1 0 -10.0 0zM607.7 103.2a5.0 5.0 0 1 0 10.0 0a5.0 5.0 0 1 0 -10.0 0zM608.2 103.2a5.0 5.0 0 1 0 10.0 0a5.0 5.0 0 1 0 -10.0 0zM608.7 103.3a5.0 5.0 0 1 0 10.0 0a5.0 5.0 0 1 0 -10.0 0zM609.2 103.4a5.0 5.0 0 1 0 10.0 0a5.0 5.0 0 1 0 -10.0 0zM609.7 103.2a5.0 5.0 0 1 0 10.0 0a5.0 5.0 0 1 0 -10.0 0zM610.2 103.1a5.0 5.0 0 1 0 10.0 0a5.0 5.0 0 1 0 -10.0 0zM610.7 103.6a5.0 5.0 0 1 0 10.0 0a5.0 5.0 0 1 0 -10.0 0zM611.2 103.8a5.0 5.0 0 1 0 10.0 0a5.0 5.0 0 1 0 -10.0 0zM611.7 103.8a5.0 5.0 0 1 0 10.0 0a5.0 5.0 0 1 0 -10.0 0zM612.2 103.6a5.0 5.0 0 1 0 10.0 0a5.0 5.0 0 1 0 -10.0 0zM612.7 103.8a5.0 5.0 0 1 0 10.0 0a5.0 5.0 0 1 0 -10.0 0zM613.2 103.7a5.0 5.0 0 1 0 10.0 0a5.0 5.0 0 1 0 -10.0 0zM613.7 103.8a5.0 5.0 0 1 0 10.0 0a5.0 5.0 0 1 0 -10.0 0zM614.2 104.0a5.0 5.0 0 1 0 10.0 0a5.0 5.0 0 1 0 -10.0 0zM614.7 103.9a5.0 5.0 0 1 0 10.0 0a5.0 5.0 0 1 0 -10.0 0zM615.2 104.0a5.0 5.0 0 1 0 10.0 0a5.0 5.0 0 1 0 -10.0 0zM615.7 104.1a5.0 5.0 0 1 0 10.0 0a5.0 5.0 0 1 0 -10.0 0zM616.2 104.5a5.0 5.0 0 1 0 10.0 0a5.0 5.0 0 1 0 -10.0 0zM616.7 104.5a5.0 5.0 0 1 0 10.0 0a5.0 5.0 0 1 0 -10.0 0zM617.2 104.1a5.0 5.0 0 1 0 10.0 0a5.0 5.0 0 1 0 -10.0 0zM617.7 103.8a5.0 5.0 0 1 0 10.0 0a5.0 5.0 0 1 0 -10.0 0zM618.2 104.2a5.0 5.0 0 1 0 10.0 0a5.0 5.0 0 1 0 -10.0 0zM618.7 104.3a5.0 5.0 0 1 0 10.0 0a5.0 5.0 0 1 0 -10.0 0zM619.2 104.3a5.0 5.0 0 1 0 10.0 0a5.0 5.0 0 1 0 -10.0 0zM619.7 104.6a5.0 5.0 0 1 0 10.0 0a5.0 5.0 0 1 0 -10.0 0zM620.2 104.2a5.0 5.0 0 1 0 10.0 0a5.0 5.0 0 1 0 -10.0 0zM620.7 104.6a5.0 5.0 0 1 0 10.0 0a5.0 5.0 0 1 0 -10.0 0zM621.2 103.9a5.0 5.0 0 1 0 10.0 0a5.0 5.0 0 1 0 -10.0 0zM621.7 104.7a5.0 5.0 0 1 0 10.0 0a5.0 5.0 0 1 0 -10.0 0zM622.2 104.4a5.0 5.0 0 1 0 10.0 0a5.0 5.0 0 1 0 -10.0 0zM622.7 105.0a5.0 5.0 0 1 0 10.0 0a5.0 5.0 0 1 0 -10.0 0zM623.2 104.9a5.0 5.0 0 1 0 10.0 0a5.0 5.0 0 1 0 -10.0 0zM623.7 104.6a5.0 5.0 0 1 0 10.0 0a5.0 5.0 0 1 0 -10.0 0zM624.2 104.5a5.0 5.0 0 1 0 10.0 0a5.0 5.0 0 1 0 -10.0 0zM624.7 105.3a5.0 5.0 0 1 0 10.0 0a5.0 5.0 0 1 0 -10.0 0zM625.2 104.4a5.0 5.0 0 1 0 10.0 0a5.0 5.0 0 1 0 -10.0 0zM625.7 104.9a5.0 5.0 0 1 0 10.0 0a5.0 5.0 0 1 0 -10.0 0zM626.2 104.7a5.0 5.0 0 1 0 10.0 0a5.0 5.0 0 1 0 -10.0 0zM626.7 104.9a5.0 5.0 0 1 0 10.0 0a5.0 5.0 0 1 0 -10.0 0zM627.2 104.8a5.0 5.0 0 1 0 10.0 0a5.0 5.0 0 1 0 -10.0 0zM627.7 104.6a5.0 5.0 0 1 0 10.0 0a5.0 5.0 0 1 0 -10.0 0zM628.2 104.6a5.0 5.0 0 1 0 10.0 0a5.0 5.0 0 1 0 -10.0 0zM628.7 104.5a5.0 5.0 0 1 0 10.0 0a5.0 5.0 0 1 0 -10.0 0zM629.2 104.8a5.0 5.0 0 1 0 10.0 0a5.0 5.0 0 1 0 -10.0 0zM629.7 104.8a5.0 5.0 0 1 0 10.0 0a5.0 5.0 0 1 0 -10.0 0zM630.2 104.6a5.0 5.0 0 1 0 10.0 0a5.0 5.0 0 1 0 -10.0 0zM630.7 105.2a5.0 5.0 0 1 0 10.0 0a5.0 5.0 0 1 0 -10.0 0zM631.2 105.2a5.0 5.0 0 1 0 10.0 0a5.0 5.0 0 1 0 -10.0 0zM631.7 105.9a5.0 5.0 0 1 0 10.0 0a5.0 5.0 0 1 0 -10.0 0zM632.2 105.2a5.0 5.0 0 1 0 10.0 0a5.0 5.0 0 1 0 -10.0 0zM632.7 105.3a5.0 5.0 0 1 0 10.0 0a5.0 5.0 0 1 0 -10.0 0zM633.2 105.1a5.0 5.0 0 1 0 10.0 0a5.0 5.0 0 1 0 -10.0 0zM633.7 105.7a5.0 5.0 0 1 0 10.0 0a5.0 5.0 0 1 0 -10.0 0zM634.2 105.8a5.0 5.0 0 1 0 10.0 0a5.0 5.0 0 1 0 -10.0 0zM634.7 105.8a5.0 5.0 0 1 0 10.0 0a5.0 5.0 0 1 0 -10.0 0zM635.2 105.9a5.0 5.0 0 1 0 10.0 0a5.0 5.0 0 1 0 -10.0 0zM635.7 105.8a5.0 5.0 0 1 0 10.0 0a5.0 5.0 0 1 0 -10.0 0zM636.2 106.0a5.0 5.0 0 1 0 10.0 0a5.0 5.0 0 1 0 -10.0 0zM636.7 105.6a5.0 5.0 0 1 0 10.0 0a5.0 5.0 0 1 0 -10.0 0zM637.2 106.0a5.0 5.0 0 1 0 10.0 0a5.0 5.0 0 1 0 -10.0 0zM637.7 106.0a5.0 5.0 0 1 0 10.0 0a5.0 5.0 0 1 0 -10.0 0zM638.2 106.6a5.0 5.0 0 1 0 10.0 0a5.0 5.0 0 1 0 -10.0 0zM638.7 107.1a5.0 5.0 0 1 0 10.0 0a5.0 5.0 0 1 0 -10.0 0zM639.2 106.8a5.0 5.0 0 1 0 10.0 0a5.0 5.0 0 1 0 -10.0 0zM639.7 106.8a5.0 5.0 0 1 0 10.0 0a5.0 5.0 0 1 0 -10.0 0zM640.2 107.1a5.0 5.0 0 1 0 10.0 0a5.0 5.0 0 1 0 -10.0 0zM640.7 107.5a5.0 5.0 0 1 0 10.0 0a5.0 5.0 0 1 0 -10.0 0zM641.2 107.1a5.0 5.0 0 1 0 10.0 0a5.0 5.0 0 1 0 -10.0 0z"/>
<path fill="#1A6FDF" d="M181.2 282.4l5.7 10.3h-11.4zM205.9 202.0l5.7 10.3h-11.4zM220.9 200.3l5.7 10.3h-11.4zM230.4 196.4l5.7 10.3h-11.4zM239.9 194.6l5.7 10.3h-11.4zM246.9 193.0l5.7 10.3h-11.4zM252.8 192.4l5.7 10.3h-11.4zM258.0 191.4l5.7 10.3h-11.4zM262.5 189.5l5.7 10.3h-11.4zM266.5 188.8l5.7 10.3h-11.4zM270.1 187.4l5.7 10.3h-11.4zM273.5 185.4l5.7 10.3h-11.4zM276.5 185.2l5.7 10.3h-11.4zM279.4 184.4l5.7 10.3h-11.4zM282.0 182.9l5.7 10.3h-11.4zM284.5 182.5l5.7 10.3h-11.4zM286.8 180.9l5.7 10.3h-11.4zM289.0 178.8l5.7 10.3h-11.4zM291.1 178.1l5.7 10.3h-11.4zM293.0 176.4l5.7 10.3h-11.4zM294.9 176.6l5.7 10.3h-11.4zM296.7 174.7l5.7 10.3h-11.4zM298.4 173.2l5.7 10.3h-11.4zM300.0 172.3l5.7 10.3h-11.4zM301.6 171.9l5.7 10.3h-11.4zM303.1 169.7l5.7 10.3h-11.4zM304.5 168.6l5.7 10.3h-11.4zM305.9 169.5l5.7 10.3h-11.4zM307.3 168.0l5.7 10.3h-11.4zM308.6 167.3l5.7 10.3h-11.4zM309.8 165.8l5.7 10.3h-11.4zM311.1 165.0l5.7 10.3h-11.4zM312.2 164.8l5.7 10.3h-11.4zM313.4 164.5l5.7 10.3h-11.4zM314.5 162.8l5.7 10.3h-11.4zM315.6 162.2l5.7 10.3h-11.4zM316.6 161.3l5.7 10.3h-11.4zM317.6 161.2l5.7 10.3h-11.4zM318.6 159.7l5.7 10.3h-11.4zM319.6 160.2l5.7 10.3h-11.4zM320.5 159.0l5.7 10.3h-11.4zM321.5 158.5l5.7 10.3h-11.4zM322.4 157.0l5.7 10.3h-11.4zM323.3 156.9l5.7 10.3h-11.4zM324.1 156.0l5.7 10.3h-11.4zM325.0 155.7l5.7 10.3h-11.4zM325.8 153.9l5.7 10.3h-11.4zM326.6 153.6l5.7 10.3h-11.4zM327.4 153.7l5.7 10.3h-11.4zM328.1 152.4l5.7 10.3h-11.4zM328.9 151.9l5.7 10.3h-11.4zM329.7 151.7l5.7 10.3h-11.4zM330.4 149.9l5.7 10.3h-11.4zM331.1 149.7l5.7 10.3h-11.4zM331.8 149.7l5.7 10.3h-11.4zM332.5 148.8l5.7 10.3h-11.4zM333.2 148.5l5.7 10.3h-11.4zM333.8 147.4l5.7 10.3h-11.4zM334.5 147.1l5.7 10.3h-11.4zM335.1 146.6l5.7 10.3h-11.4zM354.3 133.4l5.7 10.3h-11.4zM354.8 134.5l5.7 10.3h-11.4zM355.3 133.3l5.7 10.3h-11.4zM355.8 133.9l5.7 10.3h-11.4zM356.3 133.1l5.7 10.3h-11.4zM356.8 133.1l5.7 10.3h-11.4zM357.3 133.1l5.7 10.3h-11.4zM357.8 132.1l5.7 10.3h-11.4zM358.3 131.6l5.7 10.3h-11.4zM358.8 132.0l5.7 10.3h-11.4zM359.3 132.3l5.7 10.3h-11.4zM359.8 131.3l5.7 10.3h-11.4zM360.3 131.5l5.7 10.3h-11.4zM360.8 131.8l5.7 10.3h-11.4zM361.3 131.6l5.7 10.3h-11.4zM361.8 131.0l5.7 10.3h-11.4zM362.3 131.5l5.7 10.3h-11.4zM362.8 130.4l5.7 10.3h-11.4zM363.3 131.0l5.7 10.3h-11.4zM363.8 130.8l5.7 10.3h-11.4zM364.3 130.8l5.7 10.3h-11.4zM364.8 130.3l5.7 10.3h-11.4zM365.3 129.6l5.7 10.3h-11.4zM365.8 131.0l5.7 10.3h-11.4zM366.3 130.1l5.7 10.3h-11.4zM366.8 130.4l5.7 10.3h-11.4zM367.3 128.8l5.7 10.3h-11.4zM367.8 129.7l5.7 10.3h-11.4zM368.3 129.1l5.7 10.3h-11.4zM368.8 129.3l5.7 10.3h-11.4zM369.3 129.5l5.7 10.3h-11.4zM369.8 129.6l5.7 10.3h-11.4zM370.3 129.2l5.7 10.3h-11.4zM370.8 129.1l5.7 10.3h-11.4zM371.3 129.1l5.7 10.3h-11.4zM371.8 129.2l5.7 10.3h-11.4zM372.3 129.1l5.7 10.3h-11.4zM372.8 128.7l5.7 10.3h-11.4zM373.3 129.1l5.7 10.3h-11.4zM373.8 128.4l5.7 10.3h-11.4zM374.3 128.7l5.7 10.3h-11.4zM374.8 128.4l5.7 10.3h-11.4zM375.3 128.6l5.7 10.3h-11.4zM375.8 129.1l5.7 10.3h-11.4zM376.3 128.3l5.7 10.3h-11.4zM376.8 128.7l5.7 10.3h-11.4zM377.3 128.4l5.7 10.3h-11.4zM377.8 128.1l5.7 10.3h-11.4zM378.3 127.3l5.7 10.3h-11.4zM378.8 127.7l5.7 10.3h-11.4zM379.3 127.2l5.7 10.3h-11.4zM379.8 127.4l5.7 10.3h-11.4zM380.3 127.1l5.7 10.3h-11.4zM380.8 127.6l5.7 10.3h-11.4zM381.3 128.3l5.7 10.3h-11.4zM381.8 128.0l5.7 10.3h-11.4zM382.3 127.5l5.7 10.3h-11.4zM382.8 127.7l5.7 10.3h-11.4zM383.3 126.6l5.7 10.3h-11.4zM383.8 127.1l5.7 10.3h-11.4zM384.3 127.3l5.7 10.3h-11.4zM384.8 128.2l5.7 10.3h-11.4zM385.3 127.6l5.7 10.3h-11.4zM385.8 127.0l5.7 10.3h-11.4zM386.3 127.6l5.7 10.3h-11.4zM386.8 127.0l5.7 10.3h-11.4zM387.3 127.2l5.7 10.3h-11.4zM387.8 126.4l5.7 10.3h-11.4zM388.3 127.0l5.7 10.3h-11.4zM388.8 126.7l5.7 10.3h-11.4zM389.3 126.8l5.7 10.3h-11.4zM389.8 127.7l5.7 10.3h-11.4zM390.3 127.5l5.7 10.3h-11.4zM390.9 126.6l5.7 10.3h-11.4zM391.4 126.9l5.7 10.3h-11.4zM391.9 126.2l5.7 10.3h-11.4zM392.4 126.4l5.7 10.3h-11.4zM392.9 126.2l5.7 10.3h-11.4zM393.4 126.5l5.7 10.3h-11.4zM393.9 126.2l5.7 10.3h-11.4zM394.4 126.0l5.7 10.3h-11.4zM394.9 125.8l5.7 10.3h-11.4zM395.4 126.1l5.7 10.3h-11.4zM395.9 126.2l5.7 10.3h-11.4zM396.4 125.9l5.7 10.3h-11.4zM396.9 126.4l5.7 10.3h-11.4zM397.4 125.4l5.7 10.3h-11.4zM397.9 126.2l5.7 10.3h-11.4zM398.4 125.1l5.7 10.3h-11.4zM398.9 125.9l5.7 10.3h-11.4zM399.4 125.7l5.7 10.3h-11.4zM399.9 126.7l5.7 10.3h-11.4zM400.4 125.6l5.7 10.3h-11.4zM400.9 125.5l5.7 10.3h-11.4zM401.4 125.3l5.7 10.3h-11.4zM401.9 126.0l5.7 10.3h-11.4zM402.4 125.1l5.7 10.3h-11.4zM402.9 125.2l5.7 10.3h-11.4zM403.4 126.0l5.7 10.3h-11.4zM403.9 125.2l5.7 10.3h-11.4zM404.4 125.0l5.7 10.3h-11.4zM404.9 125.9l5.7 10.3h-11.4zM405.4 124.2l5.7 10.3h-11.4zM405.9 125.6l5.7 10.3h-11.4zM406.4 125.2l5.7 10.3h-11.4zM406.9 124.1l5.7 10.3h-11.4zM407.4 124.6l5.7 10.3h-11.4zM407.9 124.7l5.7 10.3h-11.4zM408.4 125.2l5.7 10.3h-11.4zM408.9 124.1l5.7 10.3h-11.4zM409.4 124.2l5.7 10.3h-11.4zM409.9 124.6l5.7 10.3h-11.4zM410.4 125.1l5.7 10.3h-11.4zM410.9 124.0l5.7 10.3h-11.4zM411.4 124.6l5.7 10.3h-11.4zM411.9 123.6l5.7 10.3h-11.4zM412.4 124.6l5.7 10.3h-11.4zM412.9 124.4l5.7 10.3h-11.4zM413.4 124.6l5.7 10.3h-11.4zM413.9 124.2l5.7 10.3h-11.4zM414.4 123.9l5.7 10.3h-11.4zM414.9 124.6l5.7 10.3h-11.4zM415.4 123.6l5.7 10.3h-11.4zM415.9 124.3l5.7 10.3h-11.4zM416.4 123.6l5.7 10.3h-11.4zM416.9 123.5l5.7 10.3h-11.4zM417.4 123.3l5.7 10.3h-11.4zM417.9 123.8l5.7 10.3h-11.4zM418.4 123.8l5.7 10.3h-11.4zM418.9 123.3l5.7 10.3h-11.4zM419.4 124.0l5.7 10.3h-11.4zM419.9 122.8l5.7 10.3h-11.4zM420.4 123.5l5.7 10.3h-11.4zM420.9 123.9l5.7 10.3h-11.4zM421.4 123.3l5.7 10.3h-11.4zM421.9 123.4l5.7 10.3h-11.4zM422.4 122.8l5.7 10.3h-11.4zM422.9 124.0l5.7 10.3h-11.4zM423.4 122.9l5.7 10.3h-11.4zM423.9 122.4l5.7 10.3h-11.4zM424.4 122.5l5.7 10.3h-11.4zM424.9 123.3l5.7 10.3h-11.4zM425.4 123.2l5.7 10.3h-11.4zM425.9 122.4l5.7 10.3h-11.4zM426.4 121.7l5.7 10.3h-11.4zM426.9 122.6l5.7 10.3h-11.4zM427.4 122.3l5.7 10.3h-11.4zM427.9 121.4l5.7 10.3h-11.4zM428.4 121.9l5.7 10.3h-11.4zM428.9 122.2l5.7 10.3h-11.4zM429.4 121.9l5.7 10.3h-11.4zM429.9 121.6l5.7 10.3h-11.4zM430.4 121.7l5.7 10.3h-11.4zM430.9 122.1l5.7 10.3h-11.4zM431.4 121.9l5.7 10.3h-11.4zM431.9 121.8l5.7 10.3h-11.4zM432.4 121.7l5.7 10.3h-11.4zM432.9 121.6l5.7 10.3h-11.4zM433.4 121.1l5.7 10.3h-11.4zM433.9 120.7l5.7 10.3h-11.4zM434.4 121.6l5.7 10.3h-11.4zM434.9 122.2l5.7 10.3h-11.4zM435.4 120.6l5.7 10.3h-11.4zM435.9 121.8l5.7 10.3h-11.4zM436.4 120.9l5.7 10.3h-11.4zM436.9 120.6l5.7 10.3h-11.4zM437.4 119.9l5.7 10.3h-11.4zM437.9 121.7l5.7 10.3h-11.4zM438.4 120.4l5.7 10.3h-11.4zM438.9 119.7l5.7 10.3h-11.4zM439.4 120.4l5.7 10.3h-11.4zM439.9 121.0l5.7 10.3h-11.4zM440.4 120.8l5.7 10.3h-11.4zM440.9 120.4l5.7 10.3h-11.4zM441.4 121.4l5.7 10.3h-11.4zM441.9 120.3l5.7 10.3h-11.4zM442.4 119.8l5.7 10.3h-11.4zM442.9 120.3l5.7 10.3h-11.4zM443.4 120.1l5.7 10.3h-11.4zM443.9 120.0l5.7 10.3h-11.4zM444.4 120.6l5.7 10.3h-11.4zM444.9 120.0l5.7 10.3h-11.4zM445.4 120.6l5.7 10.3h-11.4zM445.9 120.2l5.7 10.3h-11.4zM446.4 119.7l5.7 10.3h-11.4zM446.9 119.8l5.7 10.3h-11.4zM447.4 119.5l5.7 10.3h-11.4zM447.9 119.9l5.7 10.3h-11.4zM448.4 119.8l5.7 10.3h-11.4zM448.9 119.2l5.7 10.3h-11.4zM449.4 119.9l5.7 10.3h-11.4zM449.9 119.7l5.7 10.3h-11.4zM450.4 119.2l5.7 10.3h-11.4zM450.9 119.4l5.7 10.3h-11.4zM451.4 119.5l5.7 10.3h-11.4zM451.9 118.7l5.7 10.3h-11.4zM452.4 119.3l5.7 10.3h-11.4zM452.9 118.9l5.7 10.3h-11.4zM453.4 119.2l5.7 10.3h-11.4zM453.9 118.7l5.7 10.3h-11.4zM454.4 118.9l5.7 10.3h-11.4zM454.9 118.4l5.7 10.3h-11.4zM455.4 118.8l5.7 10.3h-11.4zM455.9 118.8l5.7 10.3h-11.4zM456.4 118.3l5.7 10.3h-11.4zM456.9 119.4l5.7 10.3h-11.4zM457.4 118.3l5.7 10.3h-11.4zM457.9 119.6l5.7 10.3h-11.4zM458.4 118.1l5.7 10.3h-11.4zM458.9 119.4l5.7 10.3h-11.4zM459.4 118.9l5.7 10.3h-11.4zM459.9 119.1l5.7 10.3h-11.4zM460.4 118.2l5.7 10.3h-11.4zM460.9 118.4l5.7 10.3h-11.4zM461.4 118.4l5.7 10.3h-11.4zM461.9 117.9l5.7 10.3h-11.4zM462.4 118.0l5.7 10.3h-11.4zM462.9 117.2l5.7 10.3h-11.4zM463.4 118.3l5.7 10.3h-11.4zM464.0 118.4l5.7 10.3h-11.4zM464.5 118.2l5.7 10.3h-11.4zM465.0 118.2l5.7 10.3h-11.4zM465.5 118.3l5.7 10.3h-11.4zM466.0 117.8l5.7 10.3h-11.4zM466.5 118.2l5.7 10.3h-11.4zM467.0 117.5l5.7 10.3h-11.4zM467.5 117.5l5.7 10.3h-11.4zM468.0 117.8l5.7 10.3h-11.4zM468.5 117.7l5.7 10.3h-11.4zM469.0 117.3l5.7 10.3h-11.4zM469.5 117.6l5.7 10.3h-11.4zM470.0 117.7l5.7 10.3h-11.4zM470.5 117.5l5.7 10.3h-11.4zM471.0 117.2l5.7 10.3h-11.4zM471.5 116.3l5.7 10.3h-11.4zM472.0 117.3l5.7 10.3h-11.4zM472.5 117.1l5.7 10.3h-11.4zM473.0 117.1l5.7 10.3h-11.4zM473.5 117.4l5.7 10.3h-11.4zM474.0 117.1l5.7 10.3h-11.4zM474.5 116.5l5.7 10.3h-11.4zM475.0 116.5l5.7 10.3h-11.4zM475.5 116.4l5.7 10.3h-11.4zM476.0 117.1l5.7 10.3h-11.4zM476.5 116.6l5.7 10.3h-11.4zM477.0 116.8l5.7 10.3h-11.4zM477.5 117.0l5.7 10.3h-11.4zM478.0 117.1l5.7 10.3h-11.4zM478.5 116.0l5.7 10.3h-11.4zM479.0 116.0l5.7 10.3h-11.4zM479.5 115.8l5.7 10.3h-11.4zM480.0 116.1l5.7 10.3h-11.4zM480.5 115.8l5.7 10.3h-11.4zM481.0 115.6l5.7 10.3h-11.4zM481.5 116.1l5.7 10.3h-11.4zM482.0 115.8l5.7 10.3h-11.4zM482.5 116.0l5.7 10.3h-11.4zM483.0 115.5l5.7 10.3h-11.4zM483.5 115.7l5.7 10.3h-11.4zM484.0 115.6l5.7 10.3h-11.4zM484.5 115.6l5.7 10.3h-11.4zM485.0 115.5l5.7 10.3h-11.4zM485.5 116.7l5.7 10.3h-11.4zM486.0 116.5l5.7 10.3h-11.4zM486.5 116.0l5.7 10.3h-11.4zM487.0 115.7l5.7 10.3h-11.4zM487.5 115.8l5.7 10.3h-11.4zM488.0 115.2l5.7 10.3h-11.4zM488.5 115.6l5.7 10.3h-11.4zM489.0 116.0l5.7 10.3h-11.4zM489.5 116.2l5.7 10.3h-11.4zM490.0 115.6l5.7 10.3h-11.4zM490.5 115.9l5.7 10.3h-11.4zM491.0 116.3l5.7 10.3h-11.4zM491.5 116.4l5.7 10.3h-11.4zM492.0 115.7l5.7 10.3h-11.4zM492.5 116.2l5.7 10.3h-11.4zM493.0 116.5l5.7 10.3h-11.4zM493.5 116.7l5.7 10.3h-11.4zM494.0 116.6l5.7 10.3h-11.4zM494.5 115.9l5.7 10.3h-11.4zM495.0 116.2l5.7 10.3h-11.4zM495.5 116.4l5.7 10.3h-11.4zM496.0 116.3l5.7 10.3h-11.4zM496.5 115.6l5.7 10.3h-11.4zM497.0 116.6l5.7 10.3h-11.4zM497.5 115.9l5.7 10.3h-11.4zM498.0 116.2l5.7 10.3h-11.4zM498.5 116.3l5.7 10.3h-11.4zM499.0 117.1l5.7 10.3h-11.4zM499.5 116.6l5.7 10.3h-11.4zM500.0 116.4l5.7 10.3h-11.4zM500.5 116.6l5.7 10.3h-11.4zM501.0 115.9l5.7 10.3h-11.4zM501.5 116.7l5.7 10.3h-11.4zM502.0 115.7l5.7 10.3h-11.4zM502.5 116.2l5.7 10.3h-11.4zM503.0 115.5l5.7 10.3h-11.4zM503.5 115.9l5.7 10.3h-11.4zM504.0 115.9l5.7 10.3h-11.4zM504.5 115.0l5.7 10.3h-11.4zM505.0 114.9l5.7 10.3h-11.4zM505.5 115.4l5.7 10.3h-11.4zM506.0 115.5l5.7 10.3h-11.4zM506.5 116.0l5.7 10.3h-11.4zM507.0 115.4l5.7 10.3h-11.4zM507.5 114.7l5.7 10.3h-11.4zM508.0 114.9l5.7 10.3h-11.4zM508.5 115.2l5.7 10.3h-11.4zM509.0 115.0l5.7 10.3h-11.4zM509.5 114.4l5.7 10.3h-11.4zM510.0 114.1l5.7 10.3h-11.4zM510.5 114.0l5.7 10.3h-11.4zM511.0 114.5l5.7 10.3h-11.4zM511.5 114.2l5.7 10.3h-11.4zM512.0 114.1l5.7 10.3h-11.4zM512.5 113.8l5.7 10.3h-11.4zM513.0 114.7l5.7 10.3h-11.4zM513.5 113.1l5.7 10.3h-11.4zM514.0 113.4l5.7 10.3h-11.4zM514.5 113.4l5.7 10.3h-11.4zM515.0 113.2l5.7 10.3h-11.4zM515.5 113.3l5.7 10.3h-11.4zM516.0 112.9l5.7 10.3h-11.4zM516.5 112.7l5.7 10.3h-11.4zM517.0 113.3l5.7 10.3h-11.4zM517.5 113.2l5.7 10.3h-11.4zM518.0 112.4l5.7 10.3h-11.4zM518.5 112.3l5.7 10.3h-11.4zM519.0 111.5l5.7 10.3h-11.4zM519.5 111.9l5.7 10.3h-11.4zM520.0 112.0l5.7 10.3h-11.4zM520.5 112.2l5.7 10.3h-11.4zM521.0 111.6l5.7 10.3h-11.4zM521.5 111.7l5.7 10.3h-11.4zM522.0 111.7l5.7 10.3h-11.4zM522.5 111.6l5.7 10.3h-11.4zM523.0 110.9l5.7 10.3h-11.4zM523.5 110.6l5.7 10.3h-11.4zM524.0 110.8l5.7 10.3h-11.4zM524.5 110.8l5.7 10.3h-11.4zM525.0 110.6l5.7 10.3h-11.4zM525.5 110.7l5.7 10.3h-11.4zM526.0 110.1l5.7 10.3h-11.4zM526.5 110.5l5.7 10.3h-11.4zM527.0 110.2l5.7 10.3h-11.4zM527.5 110.5l5.7 10.3h-11.4zM528.0 109.9l5.7 10.3h-11.4zM528.5 110.6l5.7 10.3h-11.4zM529.0 109.2l5.7 10.3h-11.4zM529.5 108.8l5.7 10.3h-11.4zM530.0 108.6l5.7 10.3h-11.4zM530.5 109.5l5.7 10.3h-11.4zM531.0 109.1l5.7 10.3h-11.4zM531.5 108.5l5.7 10.3h-11.4zM532.0 108.0l5.7 10.3h-11.4zM532.5 108.0l5.7 10.3h-11.4zM533.0 108.0l5.7 10.3h-11.4zM533.5 107.4l5.7 10.3h-11.4zM534.0 108.1l5.7 10.3h-11.4zM534.5 106.6l5.7 10.3h-11.4zM535.0 106.6l5.7 10.3h-11.4zM535.5 105.8l5.7 10.3h-11.4zM536.0 105.7l5.7 10.3h-11.4zM536.5 106.7l5.7 10.3h-11.4zM537.1 104.9l5.7 10.3h-11.4zM537.6 104.9l5.7 10.3h-11.4zM538.1 104.7l5.7 10.3h-11.4zM538.6 104.5l5.7 10.3h-11.4zM539.1 105.1l5.7 10.3h-11.4zM539.6 104.3l5.7 10.3h-11.4zM540.1 103.7l5.7 10.3h-11.4zM540.6 103.0l5.7 10.3h-11.4zM541.1 103.8l5.7 10.3h-11.4zM541.6 103.1l5.7 10.3h-11.4zM542.1 103.2l5.7 10.3h-11.4zM542.6 102.8l5.7 10.3h-11.4zM543.1 101.9l5.7 10.3h-11.4zM543.6 101.8l5.7 10.3h-11.4zM544.1 101.6l5.7 10.3h-11.4zM544.6 101.6l5.7 10.3h-11.4zM545.1 102.5l5.7 10.3h-11.4zM545.6 100.9l5.7 10.3h-11.4zM546.1 101.3l5.7 10.3h-11.4zM546.6 100.7l5.7 10.3h-11.4zM547.1 100.1l5.7 10.3h-11.4zM547.6 99.7l5.7 10.3h-11.4zM548.1 100.5l5.7 10.3h-11.4zM548.6 100.0l5.7 10.3h-11.4zM549.1 99.2l5.7 10.3h-11.4zM549.6 99.9l5.7 10.3h-11.4zM550.1 100.1l5.7 10.3h-11.4zM550.6 99.5l5.7 10.3h-11.4zM551.1 98.8l5.7 10.3h-11.4zM551.6 98.5l5.7 10.3h-11.4zM552.1 99.0l5.7 10.3h-11.4zM552.6 97.9l5.7 10.3h-11.4zM553.1 98.1l5.7 10.3h-11.4zM553.6 98.0l5.7 10.3h-11.4zM554.1 97.6l5.7 10.3h-11.4zM554.6 96.9l5.7 10.3h-11.4zM555.1 97.8l5.7 10.3h-11.4zM555.6 98.0l5.7 10.3h-11.4zM556.1 97.2l5.7 10.3h-11.4zM556.6 97.5l5.7 10.3h-11.4zM557.1 97.2l5.7 10.3h-11.4zM557.6 97.1l5.7 10.3h-11.4zM558.1 97.4l5.7 10.3h-11.4zM558.6 96.8l5.7 10.3h-11.4zM559.1 97.5l5.7 10.3h-11.4zM559.6 97.4l5.7 10.3h-11.4zM560.1 96.7l5.7 10.3h-11.4zM560.6 97.2l5.7 10.3h-11.4zM561.1 97.0l5.7 10.3h-11.4zM561.6 96.8l5.7 10.3h-11.4zM562.1 96.4l5.7 10.3h-11.4zM562.6 97.3l5.7 10.3h-11.4zM563.1 96.3l5.7 10.3h-11.4zM563.6 97.0l5.7 10.3h-11.4zM564.1 96.5l5.7 10.3h-11.4zM564.6 96.3l5.7 10.3h-11.4zM565.1 96.6l5.7 10.3h-11.4zM565.6 96.2l5.7 10.3h-11.4zM566.1 96.6l5.7 10.3h-11.4zM566.6 95.8l5.7 10.3h-11.4zM567.1 96.2l5.7 10.3h-11.4zM567.6 96.3l5.7 10.3h-11.4zM568.1 96.0l5.7 10.3h-11.4zM568.6 96.6l5.7 10.3h-11.4zM569.1 95.8l5.7 10.3h-11.4zM569.6 95.9l5.7 10.3h-11.4zM570.1 96.2l5.7 10.3h-11.4zM570.6 96.1l5.7 10.3h-11.4zM571.1 96.5l5.7 10.3h-11.4zM571.6 96.1l5.7 10.3h-11.4zM572.1 95.9l5.7 10.3h-11.4zM572.6 95.7l5.7 10.3h-11.4zM573.1 95.8l5.7 10.3h-11.4zM573.6 95.7l5.7 10.3h-11.4zM574.1 96.6l5.7 10.3h-11.4zM574.6 96.0l5.7 10.3h-11.4zM575.1 96.1l5.7 10.3h-11.4zM575.6 95.2l5.7 10.3h-11.4zM576.1 96.5l5.7 10.3h-11.4zM576.6 96.1l5.7 10.3h-11.4zM577.1 96.0l5.7 10.3h-11.4zM577.6 95.0l5.7 10.3h-11.4zM578.1 95.4l5.7 10.3h-11.4zM578.6 95.9l5.7 10.3h-11.4zM579.1 95.5l5.7 10.3h-11.4zM579.6 96.3l5.7 10.3h-11.4zM580.1 95.8l5.7 10.3h-11.4zM580.6 95.3l5.7 10.3h-11.4zM581.1 96.3l5.7 10.3h-11.4zM581.6 95.7l5.7 10.3h-11.4zM582.1 96.0l5.7 10.3h-11.4zM582.6 95.4l5.7 10.3h-11.4zM583.1 96.1l5.7 10.3h-11.4zM583.6 95.5l5.7 10.3h-11.4zM584.1 95.9l5.7 10.3h-11.4zM584.6 95.5l5.7 10.3h-11.4zM585.1 95.6l5.7 10.3h-11.4zM585.6 95.6l5.7 10.3h-11.4zM586.1 95.9l5.7 10.3h-11.4zM586.6 95.6l5.7 10.3h-11.4zM587.1 96.3l5.7 10.3h-11.4zM587.6 95.9l5.7 10.3h-11.4zM588.1 96.1l5.7 10.3h-11.4zM588.6 94.9l5.7 10.3h-11.4zM589.1 95.6l5.7 10.3h-11.4zM589.6 95.5l5.7 10.3h-11.4zM590.1 95.7l5.7 10.3h-11.4zM590.6 95.5l5.7 10.3h-11.4zM591.1 96.6l5.7 10.3h-11.4zM591.6 95.8l5.7 10.3h-11.4zM592.1 96.5l5.7 10.3h-11.4zM592.6 96.1l5.7 10.3h-11.4zM593.1 96.6l5.7 10.3h-11.4zM593.6 96.1l5.7 10.3h-11.4zM594.1 96.6l5.7 10.3h-11.4zM594.6 96.0l5.7 10.3h-11.4zM595.1 96.1l5.7 10.3h-11.4zM595.6 95.8l5.7 10.3h-11.4zM596.1 96.4l5.7 10.3h-11.4zM596.6 95.8l5.7 10.3h-11.4zM597.1 96.6l5.7 10.3h-11.4zM597.6 97.3l5.7 10.3h-11.4zM598.1 97.6l5.7 10.3h-11.4zM598.6 96.9l5.7 10.3h-11.4zM599.1 96.8l5.7 10.3h-11.4zM599.6 96.8l5.7 10.3h-11.4zM600.1 96.4l5.7 10.3h-11.4zM600.6 97.0l5.7 10.3h-11.4zM601.1 97.8l5.7 10.3h-11.4zM601.6 96.8l5.7 10.3h-11.4zM602.1 97.2l5.7 10.3h-11.4zM602.6 96.6l5.7 10.3h-11.4zM603.1 97.3l5.7 10.3h-11.4zM603.6 97.3l5.7 10.3h-11.4zM604.1 97.1l5.7 10.3h-11.4zM604.6 96.9l5.7 10.3h-11.4zM605.1 97.4l5.7 10.3h-11.4zM605.6 97.1l5.7 10.3h-11.4zM606.1 97.8l5.7 10.3h-11.4zM606.6 96.7l5.7 10.3h-11.4zM607.1 97.1l5.7 10.3h-11.4zM607.6 97.9l5.7 10.3h-11.4zM608.1 97.7l5.7 10.3h-11.4zM608.6 97.8l5.7 10.3h-11.4zM609.1 97.9l5.7 10.3h-11.4zM609.6 98.0l5.7 10.3h-11.4zM610.2 98.1l5.7 10.3h-11.4zM610.7 98.2l5.7 10.3h-11.4zM611.2 97.3l5.7 10.3h-11.4zM611.7 97.7l5.7 10.3h-11.4zM612.2 97.8l5.7 10.3h-11.4zM612.7 97.9l5.7 10.3h-11.4zM613.2 99.1l5.7 10.3h-11.4zM613.7 98.5l5.7 10.3h-11.4zM614.2 97.9l5.7 10.3h-11.4zM614.7 98.5l5.7 10.3h-11.4zM615.2 98.2l5.7 10.3h-11.4zM615.7 99.5l5.7 10.3h-11.4zM616.2 98.4l5.7 10.3h-11.4zM616.7 98.7l5.7 10.3h-11.4zM617.2 97.9l5.7 10.3h-11.4zM617.7 98.6l5.7 10.3h-11.4zM618.2 99.9l5.7 10.3h-11.4zM618.7 99.0l5.7 10.3h-11.4zM619.2 99.1l5.7 10.3h-11.4zM619.7 99.2l5.7 10.3h-11.4zM620.2 99.4l5.7 10.3h-11.4zM620.7 99.9l5.7 10.3h-11.4zM621.2 99.5l5.7 10.3h-11.4zM621.7 99.2l5.7 10.3h-11.4zM622.2 99.9l5.7 10.3h-11.4zM622.7 99.4l5.7 10.3h-11.4zM623.2 100.8l5.7 10.3h-11.4zM623.7 99.9l5.7 10.3h-11.4zM624.2 99.9l5.7 10.3h-11.4zM624.7 100.8l5.7 10.3h-11.4zM625.2 100.0l5.7 10.3h-11.4zM625.7 100.6l5.7 10.3h-11.4zM626.2 99.7l5.7 10.3h-11.4zM626.7 100.3l5.7 10.3h-11.4zM627.2 99.9l5.7 10.3h-11.4zM627.7 100.8l5.7 10.3h-11.4zM628.2 100.0l5.7 10.3h-11.4zM628.7 100.3l5.7 10.3h-11.4zM629.2 101.0l5.7 10.3h-11.4zM629.7 101.4l5.7 10.3h-11.4zM630.2 100.3l5.7 10.3h-11.4zM630.7 101.4l5.7 10.3h-11.4zM631.2 101.1l5.7 10.3h-11.4zM631.7 102.0l5.7 10.3h-11.4zM632.2 101.4l5.7 10.3h-11.4zM632.7 102.4l5.7 10.3h-11.4zM633.2 102.1l5.7 10.3h-11.4zM633.7 101.7l5.7 10.3h-11.4zM634.2 102.4l5.7 10.3h-11.4zM634.7 101.6l5.7 10.3h-11.4zM635.2 102.1l5.7 10.3h-11.4zM635.7 102.1l5.7 10.3h-11.4zM636.2 102.2l5.7 10.3h-11.4zM636.7 102.5l5.7 10.3h-11.4zM637.2 101.9l5.7 10.3h-11.4zM637.7 102.8l5.7 10.3h-11.4zM638.2 102.9l5.7 10.3h-11.4zM638.7 103.3l5.7 10.3h-11.4zM639.2 103.1l5.7 10.3h-11.4zM639.7 104.2l5.7 10.3h-11.4zM640.2 103.9l5.7 10.3h-11.4zM640.7 103.8l5.7 10.3h-11.4zM641.2 103.9l5.7 10.3h-11.4zM641.7 104.2l5.7 10.3h-11.4zM642.2 104.2l5.7 10.3h-11.4zM642.7 105.5l5.7 10.3h-11.4zM643.2 105.0l5.7 10.3h-11.4zM643.7 105.2l5.7 10.3h-11.4zM644.2 105.1l5.7 10.3h-11.4zM644.7 105.6l5.7 10.3h-11.4zM645.2 106.0l5.7 10.3h-11.4zM645.7 106.6l5.7 10.3h-11.4zM646.2 106.1l5.7 10.3h-11.4z"/>
<path d="M119.5 388.0V684.9H654.0" fill="none" stroke="#3a3a3a" stroke-width="1.5"/>
<path d="M110.7 662.0H119.5M110.7 593.5H119.5M110.7 525.0H119.5M110.7 456.5H119.5M110.7 388.0H119.5M119.5 684.9v8.6M146.1 684.9v4.2M161.6 684.9v4.2M172.6 684.9v4.2M181.1 684.9v4.2M188.1 684.9v4.2M194.0 684.9v4.2M199.2 684.9v4.2M203.7 684.9v4.2M207.7 684.9v8.6M234.3 684.9v4.2M249.8 684.9v4.2M260.8 684.9v4.2M269.3 684.9v4.2M276.3 684.9v4.2M282.2 684.9v4.2M287.4 684.9v4.2M291.9 684.9v4.2M295.9 684.9v8.6M322.5 684.9v4.2M338.0 684.9v4.2M349.0 684.9v4.2M357.5 684.9v4.2M364.5 684.9v4.2M370.4 684.9v4.2M375.6 684.9v4.2M380.1 684.9v4.2M384.1 684.9v8.6M410.7 684.9v4.2M426.2 684.9v4.2M437.2 684.9v4.2M445.7 684.9v4.2M452.7 684.9v4.2M458.6 684.9v4.2M463.8 684.9v4.2M468.3 684.9v4.2M472.3 684.9v8.6M498.9 684.9v4.2M514.4 684.9v4.2M525.4 684.9v4.2M533.9 684.9v4.2M540.9 684.9v4.2M546.8 684.9v4.2M552.0 684.9v4.2M556.5 684.9v4.2M560.5 684.9v8.6M587.1 684.9v4.2M602.6 684.9v4.2M613.6 684.9v4.2M622.1 684.9v4.2M629.1 684.9v4.2M635.0 684.9v4.2M640.2 684.9v4.2M644.7 684.9v4.2M648.7 684.9v8.6" fill="none" stroke="#3a3a3a" stroke-width="1.5"/>
<text x="103.3" y="667.6" class="tl" text-anchor="end">0</text>
<text x="103.3" y="599.1" class="tl" text-anchor="end">3000</text>
<text x="103.3" y="530.6" class="tl" text-anchor="end">6000</text>
<text x="103.3" y="462.1" class="tl" text-anchor="end">9000</text>
<text x="103.3" y="393.6" class="tl" text-anchor="end">12000</text>
<text x="118.5" y="714.9" class="tl" text-anchor="middle">0.001</text>
<text x="206.7" y="714.9" class="tl" text-anchor="middle">0.01</text>
<text x="294.9" y="714.9" class="tl" text-anchor="middle">0.1</text>
<text x="383.1" y="714.9" class="tl" text-anchor="middle">1</text>
<text x="471.3" y="714.9" class="tl" text-anchor="middle">10</text>
<text x="559.5" y="714.9" class="tl" text-anchor="middle">100</text>
<text x="647.7" y="714.9" class="tl" text-anchor="middle">1000</text>
<text class="tt" text-anchor="middle" transform="translate(39.2 535.5) rotate(-90)">Fluorescence intensity</text>
<text x="125.8" y="412.4" class="pl">B</text>
<text x="184.0" y="646.3" class="lb" text-anchor="middle">O</text>
<text x="263.0" y="565.0" class="lb" text-anchor="middle">J</text>
<text x="408.5" y="497.2" class="lb" text-anchor="middle">I</text>
<text x="644.8" y="434.7" class="lb" text-anchor="middle">P</text>
<path fill="#515151" d="M180.1 651.3h9.4v9.4h-9.4zM204.8 582.2h9.4v9.4h-9.4zM219.8 581.8h9.4v9.4h-9.4zM229.3 581.3h9.4v9.4h-9.4zM238.8 580.6h9.4v9.4h-9.4zM245.8 579.8h9.4v9.4h-9.4zM251.7 578.9h9.4v9.4h-9.4zM256.9 578.4h9.4v9.4h-9.4zM261.4 577.1h9.4v9.4h-9.4zM265.4 575.9h9.4v9.4h-9.4zM269.0 574.7h9.4v9.4h-9.4zM272.4 573.9h9.4v9.4h-9.4zM275.4 572.7h9.4v9.4h-9.4zM278.3 572.2h9.4v9.4h-9.4zM280.9 571.0h9.4v9.4h-9.4zM283.4 569.8h9.4v9.4h-9.4zM285.7 568.7h9.4v9.4h-9.4zM287.9 568.1h9.4v9.4h-9.4zM290.0 566.6h9.4v9.4h-9.4zM291.9 565.6h9.4v9.4h-9.4zM293.8 565.1h9.4v9.4h-9.4zM295.6 564.4h9.4v9.4h-9.4zM297.3 562.9h9.4v9.4h-9.4zM298.9 562.6h9.4v9.4h-9.4zM300.5 561.8h9.4v9.4h-9.4zM302.0 560.5h9.4v9.4h-9.4zM303.4 560.4h9.4v9.4h-9.4zM304.8 559.6h9.4v9.4h-9.4zM306.2 559.1h9.4v9.4h-9.4zM307.5 557.8h9.4v9.4h-9.4zM308.7 557.2h9.4v9.4h-9.4zM310.0 556.8h9.4v9.4h-9.4zM311.1 556.8h9.4v9.4h-9.4zM312.3 555.9h9.4v9.4h-9.4zM313.4 554.9h9.4v9.4h-9.4zM314.5 554.9h9.4v9.4h-9.4zM315.5 554.2h9.4v9.4h-9.4zM316.5 553.7h9.4v9.4h-9.4zM317.5 553.6h9.4v9.4h-9.4zM318.5 552.7h9.4v9.4h-9.4zM319.4 552.4h9.4v9.4h-9.4zM320.4 551.5h9.4v9.4h-9.4zM321.3 551.5h9.4v9.4h-9.4zM322.2 550.8h9.4v9.4h-9.4zM323.0 550.6h9.4v9.4h-9.4zM323.9 549.8h9.4v9.4h-9.4zM324.7 549.9h9.4v9.4h-9.4zM325.5 549.2h9.4v9.4h-9.4zM326.3 548.5h9.4v9.4h-9.4zM327.0 548.7h9.4v9.4h-9.4zM327.8 548.3h9.4v9.4h-9.4zM328.6 547.9h9.4v9.4h-9.4zM329.3 547.9h9.4v9.4h-9.4zM330.0 547.2h9.4v9.4h-9.4zM330.7 546.7h9.4v9.4h-9.4zM331.4 546.3h9.4v9.4h-9.4zM332.1 546.5h9.4v9.4h-9.4zM332.7 545.8h9.4v9.4h-9.4zM333.4 545.7h9.4v9.4h-9.4zM334.0 545.1h9.4v9.4h-9.4zM353.2 532.3h9.4v9.4h-9.4zM353.7 532.2h9.4v9.4h-9.4zM354.2 531.8h9.4v9.4h-9.4zM354.7 531.8h9.4v9.4h-9.4zM355.2 531.3h9.4v9.4h-9.4zM355.7 531.6h9.4v9.4h-9.4zM356.2 530.9h9.4v9.4h-9.4zM356.7 530.5h9.4v9.4h-9.4zM357.2 530.4h9.4v9.4h-9.4zM357.7 530.7h9.4v9.4h-9.4zM358.2 529.6h9.4v9.4h-9.4zM358.7 530.0h9.4v9.4h-9.4zM359.2 529.6h9.4v9.4h-9.4zM359.7 529.5h9.4v9.4h-9.4zM360.2 529.2h9.4v9.4h-9.4zM360.7 529.1h9.4v9.4h-9.4zM361.2 528.8h9.4v9.4h-9.4zM361.7 529.0h9.4v9.4h-9.4zM362.2 528.4h9.4v9.4h-9.4zM362.7 527.8h9.4v9.4h-9.4zM363.2 527.9h9.4v9.4h-9.4zM363.7 528.1h9.4v9.4h-9.4zM364.2 527.8h9.4v9.4h-9.4zM364.7 527.5h9.4v9.4h-9.4zM365.2 527.4h9.4v9.4h-9.4zM365.7 527.2h9.4v9.4h-9.4zM366.2 527.1h9.4v9.4h-9.4zM366.7 526.8h9.4v9.4h-9.4zM367.2 527.0h9.4v9.4h-9.4zM367.7 526.7h9.4v9.4h-9.4zM368.2 526.5h9.4v9.4h-9.4zM368.7 526.3h9.4v9.4h-9.4zM369.2 526.1h9.4v9.4h-9.4zM369.7 525.6h9.4v9.4h-9.4zM370.2 525.5h9.4v9.4h-9.4zM370.7 525.4h9.4v9.4h-9.4zM371.2 525.3h9.4v9.4h-9.4zM371.7 525.4h9.4v9.4h-9.4zM372.2 524.6h9.4v9.4h-9.4zM372.7 524.8h9.4v9.4h-9.4zM373.2 524.6h9.4v9.4h-9.4zM373.7 524.8h9.4v9.4h-9.4zM374.2 524.6h9.4v9.4h-9.4zM374.7 524.3h9.4v9.4h-9.4zM375.2 524.3h9.4v9.4h-9.4zM375.7 523.9h9.4v9.4h-9.4zM376.2 523.7h9.4v9.4h-9.4zM376.7 523.5h9.4v9.4h-9.4zM377.2 523.2h9.4v9.4h-9.4zM377.7 522.7h9.4v9.4h-9.4zM378.2 523.1h9.4v9.4h-9.4zM378.7 523.1h9.4v9.4h-9.4zM379.2 523.2h9.4v9.4h-9.4zM379.7 522.9h9.4v9.4h-9.4zM380.2 522.1h9.4v9.4h-9.4zM380.7 522.6h9.4v9.4h-9.4zM381.2 522.4h9.4v9.4h-9.4zM381.7 521.8h9.4v9.4h-9.4zM382.2 521.8h9.4v9.4h-9.4zM382.7 521.6h9.4v9.4h-9.4zM383.2 521.0h9.4v9.4h-9.4zM383.7 521.3h9.4v9.4h-9.4zM384.2 521.3h9.4v9.4h-9.4zM384.7 520.9h9.4v9.4h-9.4zM385.2 520.5h9.4v9.4h-9.4zM385.7 520.2h9.4v9.4h-9.4zM386.2 520.3h9.4v9.4h-9.4zM386.7 519.8h9.4v9.4h-9.4zM387.2 519.9h9.4v9.4h-9.4zM387.7 519.5h9.4v9.4h-9.4zM388.2 519.4h9.4v9.4h-9.4zM388.7 519.5h9.4v9.4h-9.4zM389.2 519.4h9.4v9.4h-9.4zM389.7 519.4h9.4v9.4h-9.4zM390.2 518.9h9.4v9.4h-9.4zM390.7 519.1h9.4v9.4h-9.4zM391.2 518.9h9.4v9.4h-9.4zM391.7 518.3h9.4v9.4h-9.4zM392.2 518.0h9.4v9.4h-9.4zM392.7 517.5h9.4v9.4h-9.4zM393.2 517.5h9.4v9.4h-9.4zM393.7 517.7h9.4v9.4h-9.4zM394.2 517.7h9.4v9.4h-9.4zM394.7 517.5h9.4v9.4h-9.4zM395.2 517.1h9.4v9.4h-9.4zM395.7 516.8h9.4v9.4h-9.4zM396.2 516.9h9.4v9.4h-9.4zM396.7 517.0h9.4v9.4h-9.4zM397.2 516.3h9.4v9.4h-9.4zM397.7 515.8h9.4v9.4h-9.4zM398.2 516.3h9.4v9.4h-9.4zM398.7 516.0h9.4v9.4h-9.4zM399.2 515.3h9.4v9.4h-9.4zM399.7 514.9h9.4v9.4h-9.4zM400.2 515.5h9.4v9.4h-9.4zM400.7 514.5h9.4v9.4h-9.4zM401.2 514.4h9.4v9.4h-9.4zM401.7 514.6h9.4v9.4h-9.4zM402.2 514.6h9.4v9.4h-9.4zM402.7 514.1h9.4v9.4h-9.4zM403.2 514.1h9.4v9.4h-9.4zM403.7 514.1h9.4v9.4h-9.4zM404.2 513.7h9.4v9.4h-9.4zM404.7 513.5h9.4v9.4h-9.4zM405.2 513.6h9.4v9.4h-9.4zM405.7 512.9h9.4v9.4h-9.4zM406.2 512.7h9.4v9.4h-9.4zM406.7 512.7h9.4v9.4h-9.4zM407.2 512.4h9.4v9.4h-9.4zM407.7 512.3h9.4v9.4h-9.4zM408.2 512.3h9.4v9.4h-9.4zM408.7 512.1h9.4v9.4h-9.4zM409.2 511.4h9.4v9.4h-9.4zM409.7 511.4h9.4v9.4h-9.4zM410.2 511.0h9.4v9.4h-9.4zM410.7 510.9h9.4v9.4h-9.4zM411.2 510.8h9.4v9.4h-9.4zM411.7 510.8h9.4v9.4h-9.4zM412.2 510.0h9.4v9.4h-9.4zM412.7 510.5h9.4v9.4h-9.4zM413.2 509.8h9.4v9.4h-9.4zM413.7 509.5h9.4v9.4h-9.4zM414.2 509.3h9.4v9.4h-9.4zM414.7 509.3h9.4v9.4h-9.4zM415.2 508.8h9.4v9.4h-9.4zM415.7 509.3h9.4v9.4h-9.4zM416.2 508.6h9.4v9.4h-9.4zM416.7 508.3h9.4v9.4h-9.4zM417.2 508.3h9.4v9.4h-9.4zM417.7 508.0h9.4v9.4h-9.4zM418.2 507.6h9.4v9.4h-9.4zM418.7 507.5h9.4v9.4h-9.4zM419.2 507.0h9.4v9.4h-9.4zM419.7 506.7h9.4v9.4h-9.4zM420.2 506.6h9.4v9.4h-9.4zM420.7 506.8h9.4v9.4h-9.4zM421.2 506.2h9.4v9.4h-9.4zM421.7 505.7h9.4v9.4h-9.4zM422.2 505.6h9.4v9.4h-9.4zM422.7 505.1h9.4v9.4h-9.4zM423.2 504.9h9.4v9.4h-9.4zM423.7 504.8h9.4v9.4h-9.4zM424.2 504.6h9.4v9.4h-9.4zM424.7 504.4h9.4v9.4h-9.4zM425.2 504.5h9.4v9.4h-9.4zM425.7 503.9h9.4v9.4h-9.4zM426.3 503.6h9.4v9.4h-9.4zM426.8 503.5h9.4v9.4h-9.4zM427.3 503.3h9.4v9.4h-9.4zM427.8 502.6h9.4v9.4h-9.4zM428.3 502.7h9.4v9.4h-9.4zM428.8 502.6h9.4v9.4h-9.4zM429.3 501.6h9.4v9.4h-9.4zM429.8 502.4h9.4v9.4h-9.4zM430.3 501.6h9.4v9.4h-9.4zM430.8 501.9h9.4v9.4h-9.4zM431.3 501.2h9.4v9.4h-9.4zM431.8 500.8h9.4v9.4h-9.4zM432.3 500.3h9.4v9.4h-9.4zM432.8 500.2h9.4v9.4h-9.4zM433.3 499.8h9.4v9.4h-9.4zM433.8 500.1h9.4v9.4h-9.4zM434.3 500.2h9.4v9.4h-9.4zM434.8 499.0h9.4v9.4h-9.4zM435.3 499.0h9.4v9.4h-9.4zM435.8 498.7h9.4v9.4h-9.4zM436.3 498.6h9.4v9.4h-9.4zM436.8 498.4h9.4v9.4h-9.4zM437.3 498.1h9.4v9.4h-9.4zM437.8 498.5h9.4v9.4h-9.4zM438.3 497.5h9.4v9.4h-9.4zM438.8 497.3h9.4v9.4h-9.4zM439.3 497.1h9.4v9.4h-9.4zM439.8 496.9h9.4v9.4h-9.4zM440.3 497.0h9.4v9.4h-9.4zM440.8 496.3h9.4v9.4h-9.4zM441.3 496.1h9.4v9.4h-9.4zM441.8 495.7h9.4v9.4h-9.4zM442.3 496.0h9.4v9.4h-9.4zM442.8 495.6h9.4v9.4h-9.4zM443.3 495.4h9.4v9.4h-9.4zM443.8 495.2h9.4v9.4h-9.4zM444.3 494.8h9.4v9.4h-9.4zM444.8 494.7h9.4v9.4h-9.4zM445.3 494.5h9.4v9.4h-9.4zM445.8 494.8h9.4v9.4h-9.4zM446.3 494.3h9.4v9.4h-9.4zM446.8 493.8h9.4v9.4h-9.4zM447.3 493.6h9.4v9.4h-9.4zM447.8 493.5h9.4v9.4h-9.4zM448.3 493.3h9.4v9.4h-9.4zM448.8 493.4h9.4v9.4h-9.4zM449.3 492.7h9.4v9.4h-9.4zM449.8 493.2h9.4v9.4h-9.4zM450.3 492.8h9.4v9.4h-9.4zM450.8 492.1h9.4v9.4h-9.4zM451.3 491.9h9.4v9.4h-9.4zM451.8 492.2h9.4v9.4h-9.4zM452.3 491.8h9.4v9.4h-9.4zM452.8 491.0h9.4v9.4h-9.4zM453.3 491.5h9.4v9.4h-9.4zM453.8 491.0h9.4v9.4h-9.4zM454.3 491.1h9.4v9.4h-9.4zM454.8 490.9h9.4v9.4h-9.4zM455.3 491.0h9.4v9.4h-9.4zM455.8 490.3h9.4v9.4h-9.4zM456.3 489.9h9.4v9.4h-9.4zM456.8 490.4h9.4v9.4h-9.4zM457.3 490.2h9.4v9.4h-9.4zM457.8 489.2h9.4v9.4h-9.4zM458.3 489.8h9.4v9.4h-9.4zM458.8 489.4h9.4v9.4h-9.4zM459.3 489.1h9.4v9.4h-9.4zM459.8 488.8h9.4v9.4h-9.4zM460.3 488.7h9.4v9.4h-9.4zM460.8 488.6h9.4v9.4h-9.4zM461.3 488.0h9.4v9.4h-9.4zM461.8 487.9h9.4v9.4h-9.4zM462.3 487.5h9.4v9.4h-9.4zM462.8 487.7h9.4v9.4h-9.4zM463.3 487.1h9.4v9.4h-9.4zM463.8 487.6h9.4v9.4h-9.4zM464.3 486.9h9.4v9.4h-9.4zM464.8 486.9h9.4v9.4h-9.4zM465.3 486.7h9.4v9.4h-9.4zM465.8 486.4h9.4v9.4h-9.4zM466.3 486.4h9.4v9.4h-9.4zM466.8 486.0h9.4v9.4h-9.4zM467.3 486.2h9.4v9.4h-9.4zM467.8 486.0h9.4v9.4h-9.4zM468.3 485.7h9.4v9.4h-9.4zM468.8 485.2h9.4v9.4h-9.4zM469.3 485.4h9.4v9.4h-9.4zM469.8 484.8h9.4v9.4h-9.4zM470.3 484.7h9.4v9.4h-9.4zM470.8 484.1h9.4v9.4h-9.4zM471.3 484.7h9.4v9.4h-9.4zM471.8 484.1h9.4v9.4h-9.4zM472.3 484.1h9.4v9.4h-9.4zM472.8 484.0h9.4v9.4h-9.4zM473.3 483.6h9.4v9.4h-9.4zM473.8 483.3h9.4v9.4h-9.4zM474.3 483.5h9.4v9.4h-9.4zM474.8 482.9h9.4v9.4h-9.4zM475.3 483.0h9.4v9.4h-9.4zM475.8 482.5h9.4v9.4h-9.4zM476.3 482.5h9.4v9.4h-9.4zM476.8 482.3h9.4v9.4h-9.4zM477.3 482.3h9.4v9.4h-9.4zM477.8 481.9h9.4v9.4h-9.4zM478.3 482.0h9.4v9.4h-9.4zM478.8 481.6h9.4v9.4h-9.4zM479.3 481.2h9.4v9.4h-9.4zM479.8 481.0h9.4v9.4h-9.4zM480.3 480.4h9.4v9.4h-9.4zM480.8 480.4h9.4v9.4h-9.4zM481.3 480.0h9.4v9.4h-9.4zM481.8 480.3h9.4v9.4h-9.4zM482.3 479.6h9.4v9.4h-9.4zM482.8 480.1h9.4v9.4h-9.4zM483.3 479.6h9.4v9.4h-9.4zM483.8 479.6h9.4v9.4h-9.4zM484.3 479.1h9.4v9.4h-9.4zM484.8 479.2h9.4v9.4h-9.4zM485.3 478.7h9.4v9.4h-9.4zM485.8 479.1h9.4v9.4h-9.4zM486.3 478.2h9.4v9.4h-9.4zM486.8 478.0h9.4v9.4h-9.4zM487.3 478.3h9.4v9.4h-9.4zM487.8 477.9h9.4v9.4h-9.4zM488.3 477.5h9.4v9.4h-9.4zM488.8 478.0h9.4v9.4h-9.4zM489.3 477.2h9.4v9.4h-9.4zM489.8 477.1h9.4v9.4h-9.4zM490.3 477.3h9.4v9.4h-9.4zM490.8 476.2h9.4v9.4h-9.4zM491.3 477.0h9.4v9.4h-9.4zM491.8 476.1h9.4v9.4h-9.4zM492.3 476.1h9.4v9.4h-9.4zM492.8 476.2h9.4v9.4h-9.4zM493.3 475.5h9.4v9.4h-9.4zM493.8 475.1h9.4v9.4h-9.4zM494.3 475.8h9.4v9.4h-9.4zM494.8 474.9h9.4v9.4h-9.4zM495.3 474.8h9.4v9.4h-9.4zM495.8 474.7h9.4v9.4h-9.4zM496.3 474.7h9.4v9.4h-9.4zM496.8 474.3h9.4v9.4h-9.4zM497.3 474.3h9.4v9.4h-9.4zM497.8 474.3h9.4v9.4h-9.4zM498.3 473.8h9.4v9.4h-9.4zM498.8 473.4h9.4v9.4h-9.4zM499.3 473.3h9.4v9.4h-9.4zM499.8 472.9h9.4v9.4h-9.4zM500.3 473.1h9.4v9.4h-9.4zM500.8 473.2h9.4v9.4h-9.4zM501.3 472.9h9.4v9.4h-9.4zM501.8 472.4h9.4v9.4h-9.4zM502.3 471.7h9.4v9.4h-9.4zM502.8 471.5h9.4v9.4h-9.4zM503.3 471.2h9.4v9.4h-9.4zM503.8 470.3h9.4v9.4h-9.4zM504.3 470.3h9.4v9.4h-9.4zM504.8 470.0h9.4v9.4h-9.4zM505.3 469.5h9.4v9.4h-9.4zM505.8 468.7h9.4v9.4h-9.4zM506.3 468.6h9.4v9.4h-9.4zM506.8 468.0h9.4v9.4h-9.4zM507.3 467.1h9.4v9.4h-9.4zM507.8 466.9h9.4v9.4h-9.4zM508.3 466.1h9.4v9.4h-9.4zM508.8 465.5h9.4v9.4h-9.4zM509.3 465.2h9.4v9.4h-9.4zM509.8 464.6h9.4v9.4h-9.4zM510.3 463.8h9.4v9.4h-9.4zM510.8 463.7h9.4v9.4h-9.4zM511.3 463.4h9.4v9.4h-9.4zM511.8 462.8h9.4v9.4h-9.4zM512.3 462.6h9.4v9.4h-9.4zM512.8 462.5h9.4v9.4h-9.4zM513.3 461.6h9.4v9.4h-9.4zM513.8 460.5h9.4v9.4h-9.4zM514.3 460.1h9.4v9.4h-9.4zM514.8 460.4h9.4v9.4h-9.4zM515.3 460.0h9.4v9.4h-9.4zM515.8 459.2h9.4v9.4h-9.4zM516.3 459.0h9.4v9.4h-9.4zM516.8 458.0h9.4v9.4h-9.4zM517.3 458.0h9.4v9.4h-9.4zM517.8 457.7h9.4v9.4h-9.4zM518.3 457.0h9.4v9.4h-9.4zM518.8 456.4h9.4v9.4h-9.4zM519.3 456.2h9.4v9.4h-9.4zM519.8 455.8h9.4v9.4h-9.4zM520.3 454.9h9.4v9.4h-9.4zM520.8 454.9h9.4v9.4h-9.4zM521.3 454.3h9.4v9.4h-9.4zM521.8 453.8h9.4v9.4h-9.4zM522.3 453.1h9.4v9.4h-9.4zM522.8 452.9h9.4v9.4h-9.4zM523.3 452.3h9.4v9.4h-9.4zM523.8 451.1h9.4v9.4h-9.4zM524.3 451.0h9.4v9.4h-9.4zM524.8 450.3h9.4v9.4h-9.4zM525.3 449.7h9.4v9.4h-9.4zM525.8 449.0h9.4v9.4h-9.4zM526.3 448.8h9.4v9.4h-9.4zM526.8 447.8h9.4v9.4h-9.4zM527.3 447.5h9.4v9.4h-9.4zM527.8 447.2h9.4v9.4h-9.4zM528.3 446.1h9.4v9.4h-9.4zM528.8 446.0h9.4v9.4h-9.4zM529.3 444.9h9.4v9.4h-9.4zM529.8 444.9h9.4v9.4h-9.4zM530.3 444.3h9.4v9.4h-9.4zM530.8 443.3h9.4v9.4h-9.4zM531.3 442.6h9.4v9.4h-9.4zM531.8 442.2h9.4v9.4h-9.4zM532.3 441.4h9.4v9.4h-9.4zM532.8 441.4h9.4v9.4h-9.4zM533.3 440.8h9.4v9.4h-9.4zM533.8 440.2h9.4v9.4h-9.4zM534.3 440.2h9.4v9.4h-9.4zM534.8 439.4h9.4v9.4h-9.4zM535.3 439.2h9.4v9.4h-9.4zM535.8 438.5h9.4v9.4h-9.4zM536.3 438.1h9.4v9.4h-9.4zM536.8 437.4h9.4v9.4h-9.4zM537.3 436.9h9.4v9.4h-9.4zM537.8 436.5h9.4v9.4h-9.4zM538.3 436.4h9.4v9.4h-9.4zM538.8 435.8h9.4v9.4h-9.4zM539.3 435.1h9.4v9.4h-9.4zM539.8 435.2h9.4v9.4h-9.4zM540.3 434.9h9.4v9.4h-9.4zM540.8 434.4h9.4v9.4h-9.4zM541.3 433.9h9.4v9.4h-9.4zM541.8 433.1h9.4v9.4h-9.4zM542.3 433.1h9.4v9.4h-9.4zM542.8 432.3h9.4v9.4h-9.4zM543.3 432.3h9.4v9.4h-9.4zM543.8 432.1h9.4v9.4h-9.4zM544.3 431.5h9.4v9.4h-9.4zM544.8 431.5h9.4v9.4h-9.4zM545.3 430.5h9.4v9.4h-9.4zM545.8 430.3h9.4v9.4h-9.4zM546.3 429.9h9.4v9.4h-9.4zM546.8 430.1h9.4v9.4h-9.4zM547.3 429.6h9.4v9.4h-9.4zM547.8 429.0h9.4v9.4h-9.4zM548.3 428.8h9.4v9.4h-9.4zM548.8 428.1h9.4v9.4h-9.4zM549.3 427.5h9.4v9.4h-9.4zM549.8 427.6h9.4v9.4h-9.4zM550.3 427.4h9.4v9.4h-9.4zM550.8 427.0h9.4v9.4h-9.4zM551.3 426.9h9.4v9.4h-9.4zM551.8 426.3h9.4v9.4h-9.4zM552.3 426.4h9.4v9.4h-9.4zM552.8 426.0h9.4v9.4h-9.4zM553.3 425.3h9.4v9.4h-9.4zM553.8 425.4h9.4v9.4h-9.4zM554.3 425.4h9.4v9.4h-9.4zM554.8 424.6h9.4v9.4h-9.4zM555.3 425.0h9.4v9.4h-9.4zM555.8 424.4h9.4v9.4h-9.4zM556.3 424.0h9.4v9.4h-9.4zM556.8 423.4h9.4v9.4h-9.4zM557.3 423.4h9.4v9.4h-9.4zM557.8 423.4h9.4v9.4h-9.4zM558.3 422.8h9.4v9.4h-9.4zM558.8 423.0h9.4v9.4h-9.4zM559.3 422.9h9.4v9.4h-9.4zM559.8 422.5h9.4v9.4h-9.4zM560.3 421.9h9.4v9.4h-9.4zM560.8 421.9h9.4v9.4h-9.4zM561.3 421.9h9.4v9.4h-9.4zM561.8 422.0h9.4v9.4h-9.4zM562.3 421.8h9.4v9.4h-9.4zM562.8 421.4h9.4v9.4h-9.4zM563.3 421.7h9.4v9.4h-9.4zM563.8 421.4h9.4v9.4h-9.4zM564.3 421.1h9.4v9.4h-9.4zM564.8 420.6h9.4v9.4h-9.4zM565.3 421.2h9.4v9.4h-9.4zM565.8 420.9h9.4v9.4h-9.4zM566.3 421.0h9.4v9.4h-9.4zM566.8 421.5h9.4v9.4h-9.4zM567.3 420.7h9.4v9.4h-9.4zM567.8 421.1h9.4v9.4h-9.4zM568.3 420.7h9.4v9.4h-9.4zM568.8 420.8h9.4v9.4h-9.4zM569.3 421.4h9.4v9.4h-9.4zM569.8 420.9h9.4v9.4h-9.4zM570.3 420.9h9.4v9.4h-9.4zM570.8 421.2h9.4v9.4h-9.4zM571.3 421.2h9.4v9.4h-9.4zM571.8 421.2h9.4v9.4h-9.4zM572.4 421.1h9.4v9.4h-9.4zM572.9 421.4h9.4v9.4h-9.4zM573.4 421.6h9.4v9.4h-9.4zM573.9 421.9h9.4v9.4h-9.4zM574.4 421.9h9.4v9.4h-9.4zM574.9 421.7h9.4v9.4h-9.4zM575.4 421.6h9.4v9.4h-9.4zM575.9 422.3h9.4v9.4h-9.4zM576.4 422.1h9.4v9.4h-9.4zM576.9 422.5h9.4v9.4h-9.4zM577.4 422.5h9.4v9.4h-9.4zM577.9 422.4h9.4v9.4h-9.4zM578.4 422.6h9.4v9.4h-9.4zM578.9 422.8h9.4v9.4h-9.4zM579.4 422.7h9.4v9.4h-9.4zM579.9 423.1h9.4v9.4h-9.4zM580.4 422.6h9.4v9.4h-9.4zM580.9 422.8h9.4v9.4h-9.4zM581.4 423.2h9.4v9.4h-9.4zM581.9 422.9h9.4v9.4h-9.4zM582.4 423.4h9.4v9.4h-9.4zM582.9 423.3h9.4v9.4h-9.4zM583.4 423.8h9.4v9.4h-9.4zM583.9 423.6h9.4v9.4h-9.4zM584.4 423.9h9.4v9.4h-9.4zM584.9 424.3h9.4v9.4h-9.4zM585.4 424.1h9.4v9.4h-9.4zM585.9 424.1h9.4v9.4h-9.4zM586.4 424.5h9.4v9.4h-9.4zM586.9 424.3h9.4v9.4h-9.4zM587.4 424.8h9.4v9.4h-9.4zM587.9 425.2h9.4v9.4h-9.4zM588.4 425.4h9.4v9.4h-9.4zM588.9 425.6h9.4v9.4h-9.4zM589.4 425.9h9.4v9.4h-9.4zM589.9 426.0h9.4v9.4h-9.4zM590.4 426.4h9.4v9.4h-9.4zM590.9 426.5h9.4v9.4h-9.4zM591.4 426.9h9.4v9.4h-9.4zM591.9 427.0h9.4v9.4h-9.4zM592.4 427.4h9.4v9.4h-9.4zM592.9 426.9h9.4v9.4h-9.4zM593.4 427.8h9.4v9.4h-9.4zM593.9 427.8h9.4v9.4h-9.4zM594.4 428.0h9.4v9.4h-9.4zM594.9 428.3h9.4v9.4h-9.4zM595.4 428.0h9.4v9.4h-9.4zM595.9 428.7h9.4v9.4h-9.4zM596.4 428.8h9.4v9.4h-9.4zM596.9 429.0h9.4v9.4h-9.4zM597.4 428.9h9.4v9.4h-9.4zM597.9 429.3h9.4v9.4h-9.4zM598.4 429.2h9.4v9.4h-9.4zM598.9 429.9h9.4v9.4h-9.4zM599.4 429.9h9.4v9.4h-9.4zM599.9 430.6h9.4v9.4h-9.4zM600.4 430.2h9.4v9.4h-9.4zM600.9 430.2h9.4v9.4h-9.4zM601.4 430.4h9.4v9.4h-9.4zM601.9 431.3h9.4v9.4h-9.4zM602.4 431.0h9.4v9.4h-9.4zM602.9 430.9h9.4v9.4h-9.4zM603.4 432.0h9.4v9.4h-9.4zM603.9 432.1h9.4v9.4h-9.4zM604.4 431.8h9.4v9.4h-9.4zM604.9 432.2h9.4v9.4h-9.4zM605.4 431.9h9.4v9.4h-9.4zM605.9 432.5h9.4v9.4h-9.4zM606.4 432.9h9.4v9.4h-9.4zM606.9 432.9h9.4v9.4h-9.4zM607.4 433.4h9.4v9.4h-9.4zM607.9 433.3h9.4v9.4h-9.4zM608.4 433.6h9.4v9.4h-9.4zM608.9 433.9h9.4v9.4h-9.4zM609.4 433.7h9.4v9.4h-9.4zM609.9 434.2h9.4v9.4h-9.4zM610.4 433.9h9.4v9.4h-9.4zM610.9 434.4h9.4v9.4h-9.4zM611.4 435.1h9.4v9.4h-9.4zM611.9 434.8h9.4v9.4h-9.4zM612.4 435.2h9.4v9.4h-9.4zM612.9 435.5h9.4v9.4h-9.4zM613.4 435.5h9.4v9.4h-9.4zM613.9 435.8h9.4v9.4h-9.4zM614.4 436.3h9.4v9.4h-9.4zM614.9 436.4h9.4v9.4h-9.4zM615.4 436.5h9.4v9.4h-9.4zM615.9 436.7h9.4v9.4h-9.4zM616.4 436.4h9.4v9.4h-9.4zM616.9 436.7h9.4v9.4h-9.4zM617.4 437.3h9.4v9.4h-9.4zM617.9 437.5h9.4v9.4h-9.4zM618.4 437.5h9.4v9.4h-9.4zM618.9 437.5h9.4v9.4h-9.4zM619.4 437.8h9.4v9.4h-9.4zM619.9 438.6h9.4v9.4h-9.4zM620.4 438.0h9.4v9.4h-9.4zM620.9 438.5h9.4v9.4h-9.4zM621.4 438.6h9.4v9.4h-9.4zM621.9 439.0h9.4v9.4h-9.4zM622.4 439.4h9.4v9.4h-9.4zM622.9 439.4h9.4v9.4h-9.4zM623.4 439.1h9.4v9.4h-9.4zM623.9 439.3h9.4v9.4h-9.4zM624.4 439.8h9.4v9.4h-9.4zM624.9 440.3h9.4v9.4h-9.4zM625.4 440.0h9.4v9.4h-9.4zM625.9 440.7h9.4v9.4h-9.4zM626.4 441.1h9.4v9.4h-9.4zM626.9 440.7h9.4v9.4h-9.4zM627.4 441.3h9.4v9.4h-9.4zM627.9 440.8h9.4v9.4h-9.4zM628.4 441.5h9.4v9.4h-9.4zM628.9 441.8h9.4v9.4h-9.4zM629.4 441.7h9.4v9.4h-9.4zM629.9 441.9h9.4v9.4h-9.4zM630.4 442.3h9.4v9.4h-9.4zM630.9 442.6h9.4v9.4h-9.4zM631.4 442.6h9.4v9.4h-9.4zM631.9 443.1h9.4v9.4h-9.4zM632.4 443.1h9.4v9.4h-9.4zM632.9 443.8h9.4v9.4h-9.4zM633.4 443.7h9.4v9.4h-9.4zM633.9 444.0h9.4v9.4h-9.4zM634.4 443.8h9.4v9.4h-9.4zM634.9 443.6h9.4v9.4h-9.4zM635.4 444.3h9.4v9.4h-9.4zM635.9 444.8h9.4v9.4h-9.4zM636.4 444.8h9.4v9.4h-9.4zM636.9 445.3h9.4v9.4h-9.4zM637.4 445.1h9.4v9.4h-9.4zM637.9 445.4h9.4v9.4h-9.4zM638.4 445.6h9.4v9.4h-9.4zM638.9 445.7h9.4v9.4h-9.4zM639.4 446.2h9.4v9.4h-9.4zM639.9 446.4h9.4v9.4h-9.4zM640.4 446.6h9.4v9.4h-9.4zM640.9 446.9h9.4v9.4h-9.4zM641.4 447.2h9.4v9.4h-9.4zM641.9 446.8h9.4v9.4h-9.4zM642.4 447.5h9.4v9.4h-9.4zM642.9 448.1h9.4v9.4h-9.4zM643.4 447.6h9.4v9.4h-9.4zM643.9 448.2h9.4v9.4h-9.4zM644.4 448.0h9.4v9.4h-9.4zM644.9 448.9h9.4v9.4h-9.4z"/>
<path fill="#F14040" d="M179.8 656.0a5.0 5.0 0 1 0 10.0 0a5.0 5.0 0 1 0 -10.0 0zM204.5 591.0a5.0 5.0 0 1 0 10.0 0a5.0 5.0 0 1 0 -10.0 0zM219.5 591.0a5.0 5.0 0 1 0 10.0 0a5.0 5.0 0 1 0 -10.0 0zM229.0 589.9a5.0 5.0 0 1 0 10.0 0a5.0 5.0 0 1 0 -10.0 0zM238.5 588.2a5.0 5.0 0 1 0 10.0 0a5.0 5.0 0 1 0 -10.0 0zM245.5 587.3a5.0 5.0 0 1 0 10.0 0a5.0 5.0 0 1 0 -10.0 0zM251.4 586.3a5.0 5.0 0 1 0 10.0 0a5.0 5.0 0 1 0 -10.0 0zM256.6 585.5a5.0 5.0 0 1 0 10.0 0a5.0 5.0 0 1 0 -10.0 0zM261.1 584.6a5.0 5.0 0 1 0 10.0 0a5.0 5.0 0 1 0 -10.0 0zM265.1 583.6a5.0 5.0 0 1 0 10.0 0a5.0 5.0 0 1 0 -10.0 0zM268.7 582.6a5.0 5.0 0 1 0 10.0 0a5.0 5.0 0 1 0 -10.0 0zM272.1 580.6a5.0 5.0 0 1 0 10.0 0a5.0 5.0 0 1 0 -10.0 0zM275.1 579.7a5.0 5.0 0 1 0 10.0 0a5.0 5.0 0 1 0 -10.0 0zM278.0 578.7a5.0 5.0 0 1 0 10.0 0a5.0 5.0 0 1 0 -10.0 0zM280.6 577.7a5.0 5.0 0 1 0 10.0 0a5.0 5.0 0 1 0 -10.0 0zM283.1 576.8a5.0 5.0 0 1 0 10.0 0a5.0 5.0 0 1 0 -10.0 0zM285.4 576.1a5.0 5.0 0 1 0 10.0 0a5.0 5.0 0 1 0 -10.0 0zM287.6 574.8a5.0 5.0 0 1 0 10.0 0a5.0 5.0 0 1 0 -10.0 0zM289.7 572.7a5.0 5.0 0 1 0 10.0 0a5.0 5.0 0 1 0 -10.0 0zM291.6 572.4a5.0 5.0 0 1 0 10.0 0a5.0 5.0 0 1 0 -10.0 0zM293.5 571.2a5.0 5.0 0 1 0 10.0 0a5.0 5.0 0 1 0 -10.0 0zM295.3 570.7a5.0 5.0 0 1 0 10.0 0a5.0 5.0 0 1 0 -10.0 0zM297.0 569.5a5.0 5.0 0 1 0 10.0 0a5.0 5.0 0 1 0 -10.0 0zM298.6 568.7a5.0 5.0 0 1 0 10.0 0a5.0 5.0 0 1 0 -10.0 0zM300.2 568.0a5.0 5.0 0 1 0 10.0 0a5.0 5.0 0 1 0 -10.0 0zM301.7 567.2a5.0 5.0 0 1 0 10.0 0a5.0 5.0 0 1 0 -10.0 0zM303.1 566.3a5.0 5.0 0 1 0 10.0 0a5.0 5.0 0 1 0 -10.0 0zM304.5 565.6a5.0 5.0 0 1 0 10.0 0a5.0 5.0 0 1 0 -10.0 0zM305.9 564.9a5.0 5.0 0 1 0 10.0 0a5.0 5.0 0 1 0 -10.0 0zM307.2 564.4a5.0 5.0 0 1 0 10.0 0a5.0 5.0 0 1 0 -10.0 0zM308.4 563.8a5.0 5.0 0 1 0 10.0 0a5.0 5.0 0 1 0 -10.0 0zM309.7 563.5a5.0 5.0 0 1 0 10.0 0a5.0 5.0 0 1 0 -10.0 0zM310.8 562.4a5.0 5.0 0 1 0 10.0 0a5.0 5.0 0 1 0 -10.0 0zM312.0 561.8a5.0 5.0 0 1 0 10.0 0a5.0 5.0 0 1 0 -10.0 0zM313.1 561.3a5.0 5.0 0 1 0 10.0 0a5.0 5.0 0 1 0 -10.0 0zM314.2 561.2a5.0 5.0 0 1 0 10.0 0a5.0 5.0 0 1 0 -10.0 0zM315.2 559.8a5.0 5.0 0 1 0 10.0 0a5.0 5.0 0 1 0 -10.0 0zM316.2 559.8a5.0 5.0 0 1 0 10.0 0a5.0 5.0 0 1 0 -10.0 0zM317.2 559.4a5.0 5.0 0 1 0 10.0 0a5.0 5.0 0 1 0 -10.0 0zM318.2 558.5a5.0 5.0 0 1 0 10.0 0a5.0 5.0 0 1 0 -10.0 0zM319.1 558.5a5.0 5.0 0 1 0 10.0 0a5.0 5.0 0 1 0 -10.0 0zM320.1 558.3a5.0 5.0 0 1 0 10.0 0a5.0 5.0 0 1 0 -10.0 0zM321.0 557.5a5.0 5.0 0 1 0 10.0 0a5.0 5.0 0 1 0 -10.0 0zM321.9 557.1a5.0 5.0 0 1 0 10.0 0a5.0 5.0 0 1 0 -10.0 0zM322.7 556.3a5.0 5.0 0 1 0 10.0 0a5.0 5.0 0 1 0 -10.0 0zM323.6 556.2a5.0 5.0 0 1 0 10.0 0a5.0 5.0 0 1 0 -10.0 0zM324.4 555.9a5.0 5.0 0 1 0 10.0 0a5.0 5.0 0 1 0 -10.0 0zM325.2 555.5a5.0 5.0 0 1 0 10.0 0a5.0 5.0 0 1 0 -10.0 0zM326.0 554.6a5.0 5.0 0 1 0 10.0 0a5.0 5.0 0 1 0 -10.0 0zM326.7 554.4a5.0 5.0 0 1 0 10.0 0a5.0 5.0 0 1 0 -10.0 0zM327.5 554.7a5.0 5.0 0 1 0 10.0 0a5.0 5.0 0 1 0 -10.0 0zM328.3 553.7a5.0 5.0 0 1 0 10.0 0a5.0 5.0 0 1 0 -10.0 0zM329.0 553.2a5.0 5.0 0 1 0 10.0 0a5.0 5.0 0 1 0 -10.0 0zM329.7 553.3a5.0 5.0 0 1 0 10.0 0a5.0 5.0 0 1 0 -10.0 0zM330.4 553.3a5.0 5.0 0 1 0 10.0 0a5.0 5.0 0 1 0 -10.0 0zM331.1 552.8a5.0 5.0 0 1 0 10.0 0a5.0 5.0 0 1 0 -10.0 0zM331.8 552.0a5.0 5.0 0 1 0 10.0 0a5.0 5.0 0 1 0 -10.0 0zM332.4 551.9a5.0 5.0 0 1 0 10.0 0a5.0 5.0 0 1 0 -10.0 0zM333.1 551.9a5.0 5.0 0 1 0 10.0 0a5.0 5.0 0 1 0 -10.0 0zM333.7 551.2a5.0 5.0 0 1 0 10.0 0a5.0 5.0 0 1 0 -10.0 0zM352.9 538.5a5.0 5.0 0 1 0 10.0 0a5.0 5.0 0 1 0 -10.0 0zM353.4 537.9a5.0 5.0 0 1 0 10.0 0a5.0 5.0 0 1 0 -10.0 0zM353.9 538.0a5.0 5.0 0 1 0 10.0 0a5.0 5.0 0 1 0 -10.0 0zM354.4 537.9a5.0 5.0 0 1 0 10.0 0a5.0 5.0 0 1 0 -10.0 0zM354.9 536.9a5.0 5.0 0 1 0 10.0 0a5.0 5.0 0 1 0 -10.0 0zM355.4 537.2a5.0 5.0 0 1 0 10.0 0a5.0 5.0 0 1 0 -10.0 0zM355.9 536.9a5.0 5.0 0 1 0 10.0 0a5.0 5.0 0 1 0 -10.0 0zM356.4 536.5a5.0 5.0 0 1 0 10.0 0a5.0 5.0 0 1 0 -10.0 0zM356.9 536.5a5.0 5.0 0 1 0 10.0 0a5.0 5.0 0 1 0 -10.0 0zM357.4 536.2a5.0 5.0 0 1 0 10.0 0a5.0 5.0 0 1 0 -10.0 0zM357.9 536.3a5.0 5.0 0 1 0 10.0 0a5.0 5.0 0 1 0 -10.0 0zM358.4 536.5a5.0 5.0 0 1 0 10.0 0a5.0 5.0 0 1 0 -10.0 0zM358.9 536.1a5.0 5.0 0 1 0 10.0 0a5.0 5.0 0 1 0 -10.0 0zM359.4 535.7a5.0 5.0 0 1 0 10.0 0a5.0 5.0 0 1 0 -10.0 0zM359.9 536.0a5.0 5.0 0 1 0 10.0 0a5.0 5.0 0 1 0 -10.0 0zM360.4 535.1a5.0 5.0 0 1 0 10.0 0a5.0 5.0 0 1 0 -10.0 0zM360.9 535.3a5.0 5.0 0 1 0 10.0 0a5.0 5.0 0 1 0 -10.0 0zM361.4 535.0a5.0 5.0 0 1 0 10.0 0a5.0 5.0 0 1 0 -10.0 0zM361.9 535.1a5.0 5.0 0 1 0 10.0 0a5.0 5.0 0 1 0 -10.0 0zM362.4 535.1a5.0 5.0 0 1 0 10.0 0a5.0 5.0 0 1 0 -10.0 0zM362.9 533.9a5.0 5.0 0 1 0 10.0 0a5.0 5.0 0 1 0 -10.0 0zM363.4 534.0a5.0 5.0 0 1 0 10.0 0a5.0 5.0 0 1 0 -10.0 0zM363.9 534.5a5.0 5.0 0 1 0 10.0 0a5.0 5.0 0 1 0 -10.0 0zM364.4 533.8a5.0 5.0 0 1 0 10.0 0a5.0 5.0 0 1 0 -10.0 0zM364.9 533.7a5.0 5.0 0 1 0 10.0 0a5.0 5.0 0 1 0 -10.0 0zM365.4 533.7a5.0 5.0 0 1 0 10.0 0a5.0 5.0 0 1 0 -10.0 0zM365.9 532.9a5.0 5.0 0 1 0 10.0 0a5.0 5.0 0 1 0 -10.0 0zM366.4 533.5a5.0 5.0 0 1 0 10.0 0a5.0 5.0 0 1 0 -10.0 0zM366.9 533.3a5.0 5.0 0 1 0 10.0 0a5.0 5.0 0 1 0 -10.0 0zM367.4 532.9a5.0 5.0 0 1 0 10.0 0a5.0 5.0 0 1 0 -10.0 0zM367.9 532.6a5.0 5.0 0 1 0 10.0 0a5.0 5.0 0 1 0 -10.0 0zM368.4 532.3a5.0 5.0 0 1 0 10.0 0a5.0 5.0 0 1 0 -10.0 0zM368.9 532.5a5.0 5.0 0 1 0 10.0 0a5.0 5.0 0 1 0 -10.0 0zM369.4 532.4a5.0 5.0 0 1 0 10.0 0a5.0 5.0 0 1 0 -10.0 0zM369.9 532.8a5.0 5.0 0 1 0 10.0 0a5.0 5.0 0 1 0 -10.0 0zM370.4 532.0a5.0 5.0 0 1 0 10.0 0a5.0 5.0 0 1 0 -10.0 0zM370.9 532.4a5.0 5.0 0 1 0 10.0 0a5.0 5.0 0 1 0 -10.0 0zM371.4 531.6a5.0 5.0 0 1 0 10.0 0a5.0 5.0 0 1 0 -10.0 0zM371.9 531.9a5.0 5.0 0 1 0 10.0 0a5.0 5.0 0 1 0 -10.0 0zM372.4 531.4a5.0 5.0 0 1 0 10.0 0a5.0 5.0 0 1 0 -10.0 0zM372.9 531.4a5.0 5.0 0 1 0 10.0 0a5.0 5.0 0 1 0 -10.0 0zM373.4 531.5a5.0 5.0 0 1 0 10.0 0a5.0 5.0 0 1 0 -10.0 0zM373.9 531.3a5.0 5.0 0 1 0 10.0 0a5.0 5.0 0 1 0 -10.0 0zM374.4 531.0a5.0 5.0 0 1 0 10.0 0a5.0 5.0 0 1 0 -10.0 0zM374.9 530.5a5.0 5.0 0 1 0 10.0 0a5.0 5.0 0 1 0 -10.0 0zM375.4 530.5a5.0 5.0 0 1 0 10.0 0a5.0 5.0 0 1 0 -10.0 0zM375.9 530.4a5.0 5.0 0 1 0 10.0 0a5.0 5.0 0 1 0 -10.0 0zM376.4 529.9a5.0 5.0 0 1 0 10.0 0a5.0 5.0 0 1 0 -10.0 0zM376.9 530.0a5.0 5.0 0 1 0 10.0 0a5.0 5.0 0 1 0 -10.0 0zM377.4 530.3a5.0 5.0 0 1 0 10.0 0a5.0 5.0 0 1 0 -10.0 0zM377.9 529.2a5.0 5.0 0 1 0 10.0 0a5.0 5.0 0 1 0 -10.0 0zM378.4 529.6a5.0 5.0 0 1 0 10.0 0a5.0 5.0 0 1 0 -10.0 0zM378.9 528.9a5.0 5.0 0 1 0 10.0 0a5.0 5.0 0 1 0 -10.0 0zM379.4 529.1a5.0 5.0 0 1 0 10.0 0a5.0 5.0 0 1 0 -10.0 0zM379.9 528.8a5.0 5.0 0 1 0 10.0 0a5.0 5.0 0 1 0 -10.0 0zM380.4 529.5a5.0 5.0 0 1 0 10.0 0a5.0 5.0 0 1 0 -10.0 0zM380.9 529.0a5.0 5.0 0 1 0 10.0 0a5.0 5.0 0 1 0 -10.0 0zM381.4 529.0a5.0 5.0 0 1 0 10.0 0a5.0 5.0 0 1 0 -10.0 0zM381.9 528.9a5.0 5.0 0 1 0 10.0 0a5.0 5.0 0 1 0 -10.0 0zM382.4 528.5a5.0 5.0 0 1 0 10.0 0a5.0 5.0 0 1 0 -10.0 0zM382.9 528.3a5.0 5.0 0 1 0 10.0 0a5.0 5.0 0 1 0 -10.0 0zM383.4 527.9a5.0 5.0 0 1 0 10.0 0a5.0 5.0 0 1 0 -10.0 0zM383.9 527.7a5.0 5.0 0 1 0 10.0 0a5.0 5.0 0 1 0 -10.0 0zM384.4 527.8a5.0 5.0 0 1 0 10.0 0a5.0 5.0 0 1 0 -10.0 0zM384.9 527.3a5.0 5.0 0 1 0 10.0 0a5.0 5.0 0 1 0 -10.0 0zM385.4 527.4a5.0 5.0 0 1 0 10.0 0a5.0 5.0 0 1 0 -10.0 0zM385.9 527.6a5.0 5.0 0 1 0 10.0 0a5.0 5.0 0 1 0 -10.0 0zM386.4 527.0a5.0 5.0 0 1 0 10.0 0a5.0 5.0 0 1 0 -10.0 0zM386.9 526.8a5.0 5.0 0 1 0 10.0 0a5.0 5.0 0 1 0 -10.0 0zM387.4 526.7a5.0 5.0 0 1 0 10.0 0a5.0 5.0 0 1 0 -10.0 0zM387.9 526.6a5.0 5.0 0 1 0 10.0 0a5.0 5.0 0 1 0 -10.0 0zM388.4 526.6a5.0 5.0 0 1 0 10.0 0a5.0 5.0 0 1 0 -10.0 0zM388.9 526.6a5.0 5.0 0 1 0 10.0 0a5.0 5.0 0 1 0 -10.0 0zM389.4 525.9a5.0 5.0 0 1 0 10.0 0a5.0 5.0 0 1 0 -10.0 0zM389.9 526.7a5.0 5.0 0 1 0 10.0 0a5.0 5.0 0 1 0 -10.0 0zM390.4 526.0a5.0 5.0 0 1 0 10.0 0a5.0 5.0 0 1 0 -10.0 0zM390.9 526.1a5.0 5.0 0 1 0 10.0 0a5.0 5.0 0 1 0 -10.0 0zM391.4 526.4a5.0 5.0 0 1 0 10.0 0a5.0 5.0 0 1 0 -10.0 0zM391.9 526.0a5.0 5.0 0 1 0 10.0 0a5.0 5.0 0 1 0 -10.0 0zM392.4 525.6a5.0 5.0 0 1 0 10.0 0a5.0 5.0 0 1 0 -10.0 0zM392.9 525.3a5.0 5.0 0 1 0 10.0 0a5.0 5.0 0 1 0 -10.0 0zM393.4 524.9a5.0 5.0 0 1 0 10.0 0a5.0 5.0 0 1 0 -10.0 0zM393.9 525.3a5.0 5.0 0 1 0 10.0 0a5.0 5.0 0 1 0 -10.0 0zM394.4 525.4a5.0 5.0 0 1 0 10.0 0a5.0 5.0 0 1 0 -10.0 0zM394.9 524.5a5.0 5.0 0 1 0 10.0 0a5.0 5.0 0 1 0 -10.0 0zM395.4 524.5a5.0 5.0 0 1 0 10.0 0a5.0 5.0 0 1 0 -10.0 0zM395.9 524.3a5.0 5.0 0 1 0 10.0 0a5.0 5.0 0 1 0 -10.0 0zM396.4 524.2a5.0 5.0 0 1 0 10.0 0a5.0 5.0 0 1 0 -10.0 0zM396.9 524.5a5.0 5.0 0 1 0 10.0 0a5.0 5.0 0 1 0 -10.0 0zM397.4 524.1a5.0 5.0 0 1 0 10.0 0a5.0 5.0 0 1 0 -10.0 0zM397.9 523.9a5.0 5.0 0 1 0 10.0 0a5.0 5.0 0 1 0 -10.0 0zM398.4 524.3a5.0 5.0 0 1 0 10.0 0a5.0 5.0 0 1 0 -10.0 0zM398.9 524.0a5.0 5.0 0 1 0 10.0 0a5.0 5.0 0 1 0 -10.0 0zM399.4 523.4a5.0 5.0 0 1 0 10.0 0a5.0 5.0 0 1 0 -10.0 0zM399.9 523.3a5.0 5.0 0 1 0 10.0 0a5.0 5.0 0 1 0 -10.0 0zM400.4 523.1a5.0 5.0 0 1 0 10.0 0a5.0 5.0 0 1 0 -10.0 0zM400.9 522.9a5.0 5.0 0 1 0 10.0 0a5.0 5.0 0 1 0 -10.0 0zM401.4 522.4a5.0 5.0 0 1 0 10.0 0a5.0 5.0 0 1 0 -10.0 0zM401.9 522.7a5.0 5.0 0 1 0 10.0 0a5.0 5.0 0 1 0 -10.0 0zM402.4 522.7a5.0 5.0 0 1 0 10.0 0a5.0 5.0 0 1 0 -10.0 0zM402.9 522.0a5.0 5.0 0 1 0 10.0 0a5.0 5.0 0 1 0 -10.0 0zM403.4 522.1a5.0 5.0 0 1 0 10.0 0a5.0 5.0 0 1 0 -10.0 0zM403.9 521.5a5.0 5.0 0 1 0 10.0 0a5.0 5.0 0 1 0 -10.0 0zM404.4 522.0a5.0 5.0 0 1 0 10.0 0a5.0 5.0 0 1 0 -10.0 0zM404.9 521.1a5.0 5.0 0 1 0 10.0 0a5.0 5.0 0 1 0 -10.0 0zM405.4 521.3a5.0 5.0 0 1 0 10.0 0a5.0 5.0 0 1 0 -10.0 0zM405.9 521.5a5.0 5.0 0 1 0 10.0 0a5.0 5.0 0 1 0 -10.0 0zM406.4 520.4a5.0 5.0 0 1 0 10.0 0a5.0 5.0 0 1 0 -10.0 0zM406.9 521.1a5.0 5.0 0 1 0 10.0 0a5.0 5.0 0 1 0 -10.0 0zM407.4 520.6a5.0 5.0 0 1 0 10.0 0a5.0 5.0 0 1 0 -10.0 0zM407.9 520.6a5.0 5.0 0 1 0 10.0 0a5.0 5.0 0 1 0 -10.0 0zM408.4 519.9a5.0 5.0 0 1 0 10.0 0a5.0 5.0 0 1 0 -10.0 0zM408.9 519.8a5.0 5.0 0 1 0 10.0 0a5.0 5.0 0 1 0 -10.0 0zM409.4 519.9a5.0 5.0 0 1 0 10.0 0a5.0 5.0 0 1 0 -10.0 0zM409.9 519.1a5.0 5.0 0 1 0 10.0 0a5.0 5.0 0 1 0 -10.0 0zM410.4 518.9a5.0 5.0 0 1 0 10.0 0a5.0 5.0 0 1 0 -10.0 0zM410.9 518.7a5.0 5.0 0 1 0 10.0 0a5.0 5.0 0 1 0 -10.0 0zM411.4 518.6a5.0 5.0 0 1 0 10.0 0a5.0 5.0 0 1 0 -10.0 0zM411.9 518.0a5.0 5.0 0 1 0 10.0 0a5.0 5.0 0 1 0 -10.0 0zM412.4 518.4a5.0 5.0 0 1 0 10.0 0a5.0 5.0 0 1 0 -10.0 0zM412.9 517.8a5.0 5.0 0 1 0 10.0 0a5.0 5.0 0 1 0 -10.0 0zM413.4 517.5a5.0 5.0 0 1 0 10.0 0a5.0 5.0 0 1 0 -10.0 0zM413.9 518.3a5.0 5.0 0 1 0 10.0 0a5.0 5.0 0 1 0 -10.0 0zM414.4 517.0a5.0 5.0 0 1 0 10.0 0a5.0 5.0 0 1 0 -10.0 0zM414.9 517.1a5.0 5.0 0 1 0 10.0 0a5.0 5.0 0 1 0 -10.0 0zM415.4 516.4a5.0 5.0 0 1 0 10.0 0a5.0 5.0 0 1 0 -10.0 0zM415.9 516.5a5.0 5.0 0 1 0 10.0 0a5.0 5.0 0 1 0 -10.0 0zM416.4 516.8a5.0 5.0 0 1 0 10.0 0a5.0 5.0 0 1 0 -10.0 0zM416.9 516.3a5.0 5.0 0 1 0 10.0 0a5.0 5.0 0 1 0 -10.0 0zM417.4 516.0a5.0 5.0 0 1 0 10.0 0a5.0 5.0 0 1 0 -10.0 0zM417.9 515.6a5.0 5.0 0 1 0 10.0 0a5.0 5.0 0 1 0 -10.0 0zM418.4 514.9a5.0 5.0 0 1 0 10.0 0a5.0 5.0 0 1 0 -10.0 0zM418.9 515.3a5.0 5.0 0 1 0 10.0 0a5.0 5.0 0 1 0 -10.0 0zM419.4 514.7a5.0 5.0 0 1 0 10.0 0a5.0 5.0 0 1 0 -10.0 0zM419.9 514.7a5.0 5.0 0 1 0 10.0 0a5.0 5.0 0 1 0 -10.0 0zM420.4 514.5a5.0 5.0 0 1 0 10.0 0a5.0 5.0 0 1 0 -10.0 0zM420.9 514.3a5.0 5.0 0 1 0 10.0 0a5.0 5.0 0 1 0 -10.0 0zM421.4 513.4a5.0 5.0 0 1 0 10.0 0a5.0 5.0 0 1 0 -10.0 0zM421.9 513.5a5.0 5.0 0 1 0 10.0 0a5.0 5.0 0 1 0 -10.0 0zM422.4 513.8a5.0 5.0 0 1 0 10.0 0a5.0 5.0 0 1 0 -10.0 0zM422.9 512.4a5.0 5.0 0 1 0 10.0 0a5.0 5.0 0 1 0 -10.0 0zM423.4 512.2a5.0 5.0 0 1 0 10.0 0a5.0 5.0 0 1 0 -10.0 0zM423.9 512.4a5.0 5.0 0 1 0 10.0 0a5.0 5.0 0 1 0 -10.0 0zM424.4 512.1a5.0 5.0 0 1 0 10.0 0a5.0 5.0 0 1 0 -10.0 0zM424.9 512.4a5.0 5.0 0 1 0 10.0 0a5.0 5.0 0 1 0 -10.0 0zM425.4 511.5a5.0 5.0 0 1 0 10.0 0a5.0 5.0 0 1 0 -10.0 0zM426.0 511.2a5.0 5.0 0 1 0 10.0 0a5.0 5.0 0 1 0 -10.0 0zM426.5 511.4a5.0 5.0 0 1 0 10.0 0a5.0 5.0 0 1 0 -10.0 0zM427.0 510.9a5.0 5.0 0 1 0 10.0 0a5.0 5.0 0 1 0 -10.0 0zM427.5 510.9a5.0 5.0 0 1 0 10.0 0a5.0 5.0 0 1 0 -10.0 0zM428.0 510.8a5.0 5.0 0 1 0 10.0 0a5.0 5.0 0 1 0 -10.0 0zM428.5 510.2a5.0 5.0 0 1 0 10.0 0a5.0 5.0 0 1 0 -10.0 0zM429.0 510.3a5.0 5.0 0 1 0 10.0 0a5.0 5.0 0 1 0 -10.0 0zM429.5 509.0a5.0 5.0 0 1 0 10.0 0a5.0 5.0 0 1 0 -10.0 0zM430.0 509.6a5.0 5.0 0 1 0 10.0 0a5.0 5.0 0 1 0 -10.0 0zM430.5 509.5a5.0 5.0 0 1 0 10.0 0a5.0 5.0 0 1 0 -10.0 0zM431.0 509.0a5.0 5.0 0 1 0 10.0 0a5.0 5.0 0 1 0 -10.0 0zM431.5 508.4a5.0 5.0 0 1 0 10.0 0a5.0 5.0 0 1 0 -10.0 0zM432.0 508.5a5.0 5.0 0 1 0 10.0 0a5.0 5.0 0 1 0 -10.0 0zM432.5 508.1a5.0 5.0 0 1 0 10.0 0a5.0 5.0 0 1 0 -10.0 0zM433.0 508.1a5.0 5.0 0 1 0 10.0 0a5.0 5.0 0 1 0 -10.0 0zM433.5 507.2a5.0 5.0 0 1 0 10.0 0a5.0 5.0 0 1 0 -10.0 0zM434.0 507.0a5.0 5.0 0 1 0 10.0 0a5.0 5.0 0 1 0 -10.0 0zM434.5 506.8a5.0 5.0 0 1 0 10.0 0a5.0 5.0 0 1 0 -10.0 0zM435.0 506.8a5.0 5.0 0 1 0 10.0 0a5.0 5.0 0 1 0 -10.0 0zM435.5 506.7a5.0 5.0 0 1 0 10.0 0a5.0 5.0 0 1 0 -10.0 0zM436.0 506.6a5.0 5.0 0 1 0 10.0 0a5.0 5.0 0 1 0 -10.0 0zM436.5 505.9a5.0 5.0 0 1 0 10.0 0a5.0 5.0 0 1 0 -10.0 0zM437.0 506.0a5.0 5.0 0 1 0 10.0 0a5.0 5.0 0 1 0 -10.0 0zM437.5 505.9a5.0 5.0 0 1 0 10.0 0a5.0 5.0 0 1 0 -10.0 0zM438.0 504.7a5.0 5.0 0 1 0 10.0 0a5.0 5.0 0 1 0 -10.0 0zM438.5 504.7a5.0 5.0 0 1 0 10.0 0a5.0 5.0 0 1 0 -10.0 0zM439.0 504.7a5.0 5.0 0 1 0 10.0 0a5.0 5.0 0 1 0 -10.0 0zM439.5 503.8a5.0 5.0 0 1 0 10.0 0a5.0 5.0 0 1 0 -10.0 0zM440.0 504.1a5.0 5.0 0 1 0 10.0 0a5.0 5.0 0 1 0 -10.0 0zM440.5 503.4a5.0 5.0 0 1 0 10.0 0a5.0 5.0 0 1 0 -10.0 0zM441.0 503.4a5.0 5.0 0 1 0 10.0 0a5.0 5.0 0 1 0 -10.0 0zM441.5 503.1a5.0 5.0 0 1 0 10.0 0a5.0 5.0 0 1 0 -10.0 0zM442.0 502.9a5.0 5.0 0 1 0 10.0 0a5.0 5.0 0 1 0 -10.0 0zM442.5 502.8a5.0 5.0 0 1 0 10.0 0a5.0 5.0 0 1 0 -10.0 0zM443.0 502.2a5.0 5.0 0 1 0 10.0 0a5.0 5.0 0 1 0 -10.0 0zM443.5 502.0a5.0 5.0 0 1 0 10.0 0a5.0 5.0 0 1 0 -10.0 0zM444.0 502.0a5.0 5.0 0 1 0 10.0 0a5.0 5.0 0 1 0 -10.0 0zM444.5 501.6a5.0 5.0 0 1 0 10.0 0a5.0 5.0 0 1 0 -10.0 0zM445.0 501.1a5.0 5.0 0 1 0 10.0 0a5.0 5.0 0 1 0 -10.0 0zM445.5 500.9a5.0 5.0 0 1 0 10.0 0a5.0 5.0 0 1 0 -10.0 0zM446.0 500.8a5.0 5.0 0 1 0 10.0 0a5.0 5.0 0 1 0 -10.0 0zM446.5 500.6a5.0 5.0 0 1 0 10.0 0a5.0 5.0 0 1 0 -10.0 0zM447.0 500.4a5.0 5.0 0 1 0 10.0 0a5.0 5.0 0 1 0 -10.0 0zM447.5 500.0a5.0 5.0 0 1 0 10.0 0a5.0 5.0 0 1 0 -10.0 0zM448.0 499.9a5.0 5.0 0 1 0 10.0 0a5.0 5.0 0 1 0 -10.0 0zM448.5 499.9a5.0 5.0 0 1 0 10.0 0a5.0 5.0 0 1 0 -10.0 0zM449.0 499.8a5.0 5.0 0 1 0 10.0 0a5.0 5.0 0 1 0 -10.0 0zM449.5 499.4a5.0 5.0 0 1 0 10.0 0a5.0 5.0 0 1 0 -10.0 0zM450.0 498.9a5.0 5.0 0 1 0 10.0 0a5.0 5.0 0 1 0 -10.0 0zM450.5 498.7a5.0 5.0 0 1 0 10.0 0a5.0 5.0 0 1 0 -10.0 0zM451.0 498.2a5.0 5.0 0 1 0 10.0 0a5.0 5.0 0 1 0 -10.0 0zM451.5 498.1a5.0 5.0 0 1 0 10.0 0a5.0 5.0 0 1 0 -10.0 0zM452.0 497.2a5.0 5.0 0 1 0 10.0 0a5.0 5.0 0 1 0 -10.0 0zM452.5 497.7a5.0 5.0 0 1 0 10.0 0a5.0 5.0 0 1 0 -10.0 0zM453.0 496.8a5.0 5.0 0 1 0 10.0 0a5.0 5.0 0 1 0 -10.0 0zM453.5 497.3a5.0 5.0 0 1 0 10.0 0a5.0 5.0 0 1 0 -10.0 0zM454.0 496.8a5.0 5.0 0 1 0 10.0 0a5.0 5.0 0 1 0 -10.0 0zM454.5 496.2a5.0 5.0 0 1 0 10.0 0a5.0 5.0 0 1 0 -10.0 0zM455.0 496.7a5.0 5.0 0 1 0 10.0 0a5.0 5.0 0 1 0 -10.0 0zM455.5 495.3a5.0 5.0 0 1 0 10.0 0a5.0 5.0 0 1 0 -10.0 0zM456.0 495.6a5.0 5.0 0 1 0 10.0 0a5.0 5.0 0 1 0 -10.0 0zM456.5 495.1a5.0 5.0 0 1 0 10.0 0a5.0 5.0 0 1 0 -10.0 0zM457.0 495.2a5.0 5.0 0 1 0 10.0 0a5.0 5.0 0 1 0 -10.0 0zM457.5 495.1a5.0 5.0 0 1 0 10.0 0a5.0 5.0 0 1 0 -10.0 0zM458.0 494.7a5.0 5.0 0 1 0 10.0 0a5.0 5.0 0 1 0 -10.0 0zM458.5 494.1a5.0 5.0 0 1 0 10.0 0a5.0 5.0 0 1 0 -10.0 0zM459.0 493.7a5.0 5.0 0 1 0 10.0 0a5.0 5.0 0 1 0 -10.0 0zM459.5 493.2a5.0 5.0 0 1 0 10.0 0a5.0 5.0 0 1 0 -10.0 0zM460.0 493.3a5.0 5.0 0 1 0 10.0 0a5.0 5.0 0 1 0 -10.0 0zM460.5 493.0a5.0 5.0 0 1 0 10.0 0a5.0 5.0 0 1 0 -10.0 0zM461.0 492.9a5.0 5.0 0 1 0 10.0 0a5.0 5.0 0 1 0 -10.0 0zM461.5 493.0a5.0 5.0 0 1 0 10.0 0a5.0 5.0 0 1 0 -10.0 0zM462.0 492.9a5.0 5.0 0 1 0 10.0 0a5.0 5.0 0 1 0 -10.0 0zM462.5 492.0a5.0 5.0 0 1 0 10.0 0a5.0 5.0 0 1 0 -10.0 0zM463.0 492.1a5.0 5.0 0 1 0 10.0 0a5.0 5.0 0 1 0 -10.0 0zM463.5 492.2a5.0 5.0 0 1 0 10.0 0a5.0 5.0 0 1 0 -10.0 0zM464.0 491.5a5.0 5.0 0 1 0 10.0 0a5.0 5.0 0 1 0 -10.0 0zM464.5 490.8a5.0 5.0 0 1 0 10.0 0a5.0 5.0 0 1 0 -10.0 0zM465.0 491.0a5.0 5.0 0 1 0 10.0 0a5.0 5.0 0 1 0 -10.0 0zM465.5 490.7a5.0 5.0 0 1 0 10.0 0a5.0 5.0 0 1 0 -10.0 0zM466.0 489.9a5.0 5.0 0 1 0 10.0 0a5.0 5.0 0 1 0 -10.0 0zM466.5 490.2a5.0 5.0 0 1 0 10.0 0a5.0 5.0 0 1 0 -10.0 0zM467.0 490.2a5.0 5.0 0 1 0 10.0 0a5.0 5.0 0 1 0 -10.0 0zM467.5 490.0a5.0 5.0 0 1 0 10.0 0a5.0 5.0 0 1 0 -10.0 0zM468.0 489.9a5.0 5.0 0 1 0 10.0 0a5.0 5.0 0 1 0 -10.0 0zM468.5 489.5a5.0 5.0 0 1 0 10.0 0a5.0 5.0 0 1 0 -10.0 0zM469.0 489.2a5.0 5.0 0 1 0 10.0 0a5.0 5.0 0 1 0 -10.0 0zM469.5 488.7a5.0 5.0 0 1 0 10.0 0a5.0 5.0 0 1 0 -10.0 0zM470.0 488.9a5.0 5.0 0 1 0 10.0 0a5.0 5.0 0 1 0 -10.0 0zM470.5 488.8a5.0 5.0 0 1 0 10.0 0a5.0 5.0 0 1 0 -10.0 0zM471.0 488.3a5.0 5.0 0 1 0 10.0 0a5.0 5.0 0 1 0 -10.0 0zM471.5 487.6a5.0 5.0 0 1 0 10.0 0a5.0 5.0 0 1 0 -10.0 0zM472.0 487.6a5.0 5.0 0 1 0 10.0 0a5.0 5.0 0 1 0 -10.0 0zM472.5 486.8a5.0 5.0 0 1 0 10.0 0a5.0 5.0 0 1 0 -10.0 0zM473.0 487.7a5.0 5.0 0 1 0 10.0 0a5.0 5.0 0 1 0 -10.0 0zM473.5 487.7a5.0 5.0 0 1 0 10.0 0a5.0 5.0 0 1 0 -10.0 0zM474.0 486.8a5.0 5.0 0 1 0 10.0 0a5.0 5.0 0 1 0 -10.0 0zM474.5 486.6a5.0 5.0 0 1 0 10.0 0a5.0 5.0 0 1 0 -10.0 0zM475.0 486.3a5.0 5.0 0 1 0 10.0 0a5.0 5.0 0 1 0 -10.0 0zM475.5 486.4a5.0 5.0 0 1 0 10.0 0a5.0 5.0 0 1 0 -10.0 0zM476.0 486.3a5.0 5.0 0 1 0 10.0 0a5.0 5.0 0 1 0 -10.0 0zM476.5 485.9a5.0 5.0 0 1 0 10.0 0a5.0 5.0 0 1 0 -10.0 0zM477.0 485.5a5.0 5.0 0 1 0 10.0 0a5.0 5.0 0 1 0 -10.0 0zM477.5 485.9a5.0 5.0 0 1 0 10.0 0a5.0 5.0 0 1 0 -10.0 0zM478.0 485.6a5.0 5.0 0 1 0 10.0 0a5.0 5.0 0 1 0 -10.0 0zM478.5 484.8a5.0 5.0 0 1 0 10.0 0a5.0 5.0 0 1 0 -10.0 0zM479.0 484.7a5.0 5.0 0 1 0 10.0 0a5.0 5.0 0 1 0 -10.0 0zM479.5 485.2a5.0 5.0 0 1 0 10.0 0a5.0 5.0 0 1 0 -10.0 0zM480.0 484.8a5.0 5.0 0 1 0 10.0 0a5.0 5.0 0 1 0 -10.0 0zM480.5 484.3a5.0 5.0 0 1 0 10.0 0a5.0 5.0 0 1 0 -10.0 0zM481.0 484.8a5.0 5.0 0 1 0 10.0 0a5.0 5.0 0 1 0 -10.0 0zM481.5 484.5a5.0 5.0 0 1 0 10.0 0a5.0 5.0 0 1 0 -10.0 0zM482.0 483.9a5.0 5.0 0 1 0 10.0 0a5.0 5.0 0 1 0 -10.0 0zM482.5 484.3a5.0 5.0 0 1 0 10.0 0a5.0 5.0 0 1 0 -10.0 0zM483.0 484.0a5.0 5.0 0 1 0 10.0 0a5.0 5.0 0 1 0 -10.0 0zM483.5 484.1a5.0 5.0 0 1 0 10.0 0a5.0 5.0 0 1 0 -10.0 0zM484.0 483.8a5.0 5.0 0 1 0 10.0 0a5.0 5.0 0 1 0 -10.0 0zM484.5 484.2a5.0 5.0 0 1 0 10.0 0a5.0 5.0 0 1 0 -10.0 0zM485.0 483.5a5.0 5.0 0 1 0 10.0 0a5.0 5.0 0 1 0 -10.0 0zM485.5 483.3a5.0 5.0 0 1 0 10.0 0a5.0 5.0 0 1 0 -10.0 0zM486.0 483.0a5.0 5.0 0 1 0 10.0 0a5.0 5.0 0 1 0 -10.0 0zM486.5 483.3a5.0 5.0 0 1 0 10.0 0a5.0 5.0 0 1 0 -10.0 0zM487.0 482.6a5.0 5.0 0 1 0 10.0 0a5.0 5.0 0 1 0 -10.0 0zM487.5 483.1a5.0 5.0 0 1 0 10.0 0a5.0 5.0 0 1 0 -10.0 0zM488.0 483.0a5.0 5.0 0 1 0 10.0 0a5.0 5.0 0 1 0 -10.0 0zM488.5 482.2a5.0 5.0 0 1 0 10.0 0a5.0 5.0 0 1 0 -10.0 0zM489.0 482.9a5.0 5.0 0 1 0 10.0 0a5.0 5.0 0 1 0 -10.0 0zM489.5 482.5a5.0 5.0 0 1 0 10.0 0a5.0 5.0 0 1 0 -10.0 0zM490.0 482.2a5.0 5.0 0 1 0 10.0 0a5.0 5.0 0 1 0 -10.0 0zM490.5 481.6a5.0 5.0 0 1 0 10.0 0a5.0 5.0 0 1 0 -10.0 0zM491.0 482.1a5.0 5.0 0 1 0 10.0 0a5.0 5.0 0 1 0 -10.0 0zM491.5 481.5a5.0 5.0 0 1 0 10.0 0a5.0 5.0 0 1 0 -10.0 0zM492.0 482.1a5.0 5.0 0 1 0 10.0 0a5.0 5.0 0 1 0 -10.0 0zM492.5 481.0a5.0 5.0 0 1 0 10.0 0a5.0 5.0 0 1 0 -10.0 0zM493.0 481.0a5.0 5.0 0 1 0 10.0 0a5.0 5.0 0 1 0 -10.0 0zM493.5 480.9a5.0 5.0 0 1 0 10.0 0a5.0 5.0 0 1 0 -10.0 0zM494.0 481.1a5.0 5.0 0 1 0 10.0 0a5.0 5.0 0 1 0 -10.0 0zM494.5 480.2a5.0 5.0 0 1 0 10.0 0a5.0 5.0 0 1 0 -10.0 0zM495.0 480.7a5.0 5.0 0 1 0 10.0 0a5.0 5.0 0 1 0 -10.0 0zM495.5 479.9a5.0 5.0 0 1 0 10.0 0a5.0 5.0 0 1 0 -10.0 0zM496.0 479.9a5.0 5.0 0 1 0 10.0 0a5.0 5.0 0 1 0 -10.0 0zM496.5 479.8a5.0 5.0 0 1 0 10.0 0a5.0 5.0 0 1 0 -10.0 0zM497.0 479.8a5.0 5.0 0 1 0 10.0 0a5.0 5.0 0 1 0 -10.0 0zM497.5 479.3a5.0 5.0 0 1 0 10.0 0a5.0 5.0 0 1 0 -10.0 0zM498.0 479.5a5.0 5.0 0 1 0 10.0 0a5.0 5.0 0 1 0 -10.0 0zM498.5 478.6a5.0 5.0 0 1 0 10.0 0a5.0 5.0 0 1 0 -10.0 0zM499.0 478.5a5.0 5.0 0 1 0 10.0 0a5.0 5.0 0 1 0 -10.0 0zM499.5 478.7a5.0 5.0 0 1 0 10.0 0a5.0 5.0 0 1 0 -10.0 0zM500.0 478.4a5.0 5.0 0 1 0 10.0 0a5.0 5.0 0 1 0 -10.0 0zM500.5 477.9a5.0 5.0 0 1 0 10.0 0a5.0 5.0 0 1 0 -10.0 0zM501.0 477.7a5.0 5.0 0 1 0 10.0 0a5.0 5.0 0 1 0 -10.0 0zM501.5 478.0a5.0 5.0 0 1 0 10.0 0a5.0 5.0 0 1 0 -10.0 0zM502.0 477.5a5.0 5.0 0 1 0 10.0 0a5.0 5.0 0 1 0 -10.0 0zM502.5 477.5a5.0 5.0 0 1 0 10.0 0a5.0 5.0 0 1 0 -10.0 0zM503.0 477.5a5.0 5.0 0 1 0 10.0 0a5.0 5.0 0 1 0 -10.0 0zM503.5 476.8a5.0 5.0 0 1 0 10.0 0a5.0 5.0 0 1 0 -10.0 0zM504.0 476.5a5.0 5.0 0 1 0 10.0 0a5.0 5.0 0 1 0 -10.0 0zM504.5 475.7a5.0 5.0 0 1 0 10.0 0a5.0 5.0 0 1 0 -10.0 0zM505.0 476.2a5.0 5.0 0 1 0 10.0 0a5.0 5.0 0 1 0 -10.0 0zM505.5 475.6a5.0 5.0 0 1 0 10.0 0a5.0 5.0 0 1 0 -10.0 0zM506.0 476.1a5.0 5.0 0 1 0 10.0 0a5.0 5.0 0 1 0 -10.0 0zM506.5 475.5a5.0 5.0 0 1 0 10.0 0a5.0 5.0 0 1 0 -10.0 0zM507.0 475.2a5.0 5.0 0 1 0 10.0 0a5.0 5.0 0 1 0 -10.0 0zM507.5 475.4a5.0 5.0 0 1 0 10.0 0a5.0 5.0 0 1 0 -10.0 0zM508.0 474.5a5.0 5.0 0 1 0 10.0 0a5.0 5.0 0 1 0 -10.0 0zM508.5 474.7a5.0 5.0 0 1 0 10.0 0a5.0 5.0 0 1 0 -10.0 0zM509.0 473.9a5.0 5.0 0 1 0 10.0 0a5.0 5.0 0 1 0 -10.0 0zM509.5 474.4a5.0 5.0 0 1 0 10.0 0a5.0 5.0 0 1 0 -10.0 0zM510.0 473.8a5.0 5.0 0 1 0 10.0 0a5.0 5.0 0 1 0 -10.0 0zM510.5 473.3a5.0 5.0 0 1 0 10.0 0a5.0 5.0 0 1 0 -10.0 0zM511.0 473.1a5.0 5.0 0 1 0 10.0 0a5.0 5.0 0 1 0 -10.0 0zM511.5 473.1a5.0 5.0 0 1 0 10.0 0a5.0 5.0 0 1 0 -10.0 0zM512.0 472.8a5.0 5.0 0 1 0 10.0 0a5.0 5.0 0 1 0 -10.0 0zM512.5 473.2a5.0 5.0 0 1 0 10.0 0a5.0 5.0 0 1 0 -10.0 0zM513.0 472.7a5.0 5.0 0 1 0 10.0 0a5.0 5.0 0 1 0 -10.0 0zM513.5 473.0a5.0 5.0 0 1 0 10.0 0a5.0 5.0 0 1 0 -10.0 0zM514.0 472.1a5.0 5.0 0 1 0 10.0 0a5.0 5.0 0 1 0 -10.0 0zM514.5 472.5a5.0 5.0 0 1 0 10.0 0a5.0 5.0 0 1 0 -10.0 0zM515.0 471.8a5.0 5.0 0 1 0 10.0 0a5.0 5.0 0 1 0 -10.0 0zM515.5 472.0a5.0 5.0 0 1 0 10.0 0a5.0 5.0 0 1 0 -10.0 0zM516.0 471.6a5.0 5.0 0 1 0 10.0 0a5.0 5.0 0 1 0 -10.0 0zM516.5 471.0a5.0 5.0 0 1 0 10.0 0a5.0 5.0 0 1 0 -10.0 0zM517.0 470.9a5.0 5.0 0 1 0 10.0 0a5.0 5.0 0 1 0 -10.0 0zM517.5 471.1a5.0 5.0 0 1 0 10.0 0a5.0 5.0 0 1 0 -10.0 0zM518.0 470.9a5.0 5.0 0 1 0 10.0 0a5.0 5.0 0 1 0 -10.0 0zM518.5 470.2a5.0 5.0 0 1 0 10.0 0a5.0 5.0 0 1 0 -10.0 0zM519.0 470.1a5.0 5.0 0 1 0 10.0 0a5.0 5.0 0 1 0 -10.0 0zM519.5 470.5a5.0 5.0 0 1 0 10.0 0a5.0 5.0 0 1 0 -10.0 0zM520.0 470.0a5.0 5.0 0 1 0 10.0 0a5.0 5.0 0 1 0 -10.0 0zM520.5 469.9a5.0 5.0 0 1 0 10.0 0a5.0 5.0 0 1 0 -10.0 0zM521.0 469.6a5.0 5.0 0 1 0 10.0 0a5.0 5.0 0 1 0 -10.0 0zM521.5 469.3a5.0 5.0 0 1 0 10.0 0a5.0 5.0 0 1 0 -10.0 0zM522.0 469.1a5.0 5.0 0 1 0 10.0 0a5.0 5.0 0 1 0 -10.0 0zM522.5 468.8a5.0 5.0 0 1 0 10.0 0a5.0 5.0 0 1 0 -10.0 0zM523.0 468.9a5.0 5.0 0 1 0 10.0 0a5.0 5.0 0 1 0 -10.0 0zM523.5 468.0a5.0 5.0 0 1 0 10.0 0a5.0 5.0 0 1 0 -10.0 0zM524.0 467.6a5.0 5.0 0 1 0 10.0 0a5.0 5.0 0 1 0 -10.0 0zM524.5 467.4a5.0 5.0 0 1 0 10.0 0a5.0 5.0 0 1 0 -10.0 0zM525.0 467.6a5.0 5.0 0 1 0 10.0 0a5.0 5.0 0 1 0 -10.0 0zM525.5 467.0a5.0 5.0 0 1 0 10.0 0a5.0 5.0 0 1 0 -10.0 0zM526.0 467.0a5.0 5.0 0 1 0 10.0 0a5.0 5.0 0 1 0 -10.0 0zM526.5 467.0a5.0 5.0 0 1 0 10.0 0a5.0 5.0 0 1 0 -10.0 0zM527.0 466.1a5.0 5.0 0 1 0 10.0 0a5.0 5.0 0 1 0 -10.0 0zM527.5 465.9a5.0 5.0 0 1 0 10.0 0a5.0 5.0 0 1 0 -10.0 0zM528.0 466.1a5.0 5.0 0 1 0 10.0 0a5.0 5.0 0 1 0 -10.0 0zM528.5 465.7a5.0 5.0 0 1 0 10.0 0a5.0 5.0 0 1 0 -10.0 0zM529.0 465.4a5.0 5.0 0 1 0 10.0 0a5.0 5.0 0 1 0 -10.0 0zM529.5 465.1a5.0 5.0 0 1 0 10.0 0a5.0 5.0 0 1 0 -10.0 0zM530.0 464.3a5.0 5.0 0 1 0 10.0 0a5.0 5.0 0 1 0 -10.0 0zM530.5 464.3a5.0 5.0 0 1 0 10.0 0a5.0 5.0 0 1 0 -10.0 0zM531.0 463.6a5.0 5.0 0 1 0 10.0 0a5.0 5.0 0 1 0 -10.0 0zM531.5 463.3a5.0 5.0 0 1 0 10.0 0a5.0 5.0 0 1 0 -10.0 0zM532.0 462.9a5.0 5.0 0 1 0 10.0 0a5.0 5.0 0 1 0 -10.0 0zM532.5 462.5a5.0 5.0 0 1 0 10.0 0a5.0 5.0 0 1 0 -10.0 0zM533.0 462.2a5.0 5.0 0 1 0 10.0 0a5.0 5.0 0 1 0 -10.0 0zM533.5 461.9a5.0 5.0 0 1 0 10.0 0a5.0 5.0 0 1 0 -10.0 0zM534.0 461.0a5.0 5.0 0 1 0 10.0 0a5.0 5.0 0 1 0 -10.0 0zM534.5 460.6a5.0 5.0 0 1 0 10.0 0a5.0 5.0 0 1 0 -10.0 0zM535.0 460.2a5.0 5.0 0 1 0 10.0 0a5.0 5.0 0 1 0 -10.0 0zM535.5 460.0a5.0 5.0 0 1 0 10.0 0a5.0 5.0 0 1 0 -10.0 0zM536.0 458.8a5.0 5.0 0 1 0 10.0 0a5.0 5.0 0 1 0 -10.0 0zM536.5 458.9a5.0 5.0 0 1 0 10.0 0a5.0 5.0 0 1 0 -10.0 0zM537.0 458.2a5.0 5.0 0 1 0 10.0 0a5.0 5.0 0 1 0 -10.0 0zM537.5 457.9a5.0 5.0 0 1 0 10.0 0a5.0 5.0 0 1 0 -10.0 0zM538.0 457.9a5.0 5.0 0 1 0 10.0 0a5.0 5.0 0 1 0 -10.0 0zM538.5 457.3a5.0 5.0 0 1 0 10.0 0a5.0 5.0 0 1 0 -10.0 0zM539.0 457.3a5.0 5.0 0 1 0 10.0 0a5.0 5.0 0 1 0 -10.0 0zM539.5 456.7a5.0 5.0 0 1 0 10.0 0a5.0 5.0 0 1 0 -10.0 0zM540.0 456.5a5.0 5.0 0 1 0 10.0 0a5.0 5.0 0 1 0 -10.0 0zM540.5 456.0a5.0 5.0 0 1 0 10.0 0a5.0 5.0 0 1 0 -10.0 0zM541.0 456.0a5.0 5.0 0 1 0 10.0 0a5.0 5.0 0 1 0 -10.0 0zM541.5 455.5a5.0 5.0 0 1 0 10.0 0a5.0 5.0 0 1 0 -10.0 0zM542.0 455.1a5.0 5.0 0 1 0 10.0 0a5.0 5.0 0 1 0 -10.0 0zM542.5 454.5a5.0 5.0 0 1 0 10.0 0a5.0 5.0 0 1 0 -10.0 0zM543.0 455.1a5.0 5.0 0 1 0 10.0 0a5.0 5.0 0 1 0 -10.0 0zM543.5 454.6a5.0 5.0 0 1 0 10.0 0a5.0 5.0 0 1 0 -10.0 0zM544.0 454.4a5.0 5.0 0 1 0 10.0 0a5.0 5.0 0 1 0 -10.0 0zM544.5 453.5a5.0 5.0 0 1 0 10.0 0a5.0 5.0 0 1 0 -10.0 0zM545.0 453.5a5.0 5.0 0 1 0 10.0 0a5.0 5.0 0 1 0 -10.0 0zM545.5 453.4a5.0 5.0 0 1 0 10.0 0a5.0 5.0 0 1 0 -10.0 0zM546.0 453.3a5.0 5.0 0 1 0 10.0 0a5.0 5.0 0 1 0 -10.0 0zM546.5 452.9a5.0 5.0 0 1 0 10.0 0a5.0 5.0 0 1 0 -10.0 0zM547.0 453.0a5.0 5.0 0 1 0 10.0 0a5.0 5.0 0 1 0 -10.0 0zM547.5 452.2a5.0 5.0 0 1 0 10.0 0a5.0 5.0 0 1 0 -10.0 0zM548.0 452.2a5.0 5.0 0 1 0 10.0 0a5.0 5.0 0 1 0 -10.0 0zM548.5 452.4a5.0 5.0 0 1 0 10.0 0a5.0 5.0 0 1 0 -10.0 0zM549.0 452.3a5.0 5.0 0 1 0 10.0 0a5.0 5.0 0 1 0 -10.0 0zM549.5 452.2a5.0 5.0 0 1 0 10.0 0a5.0 5.0 0 1 0 -10.0 0zM550.0 452.3a5.0 5.0 0 1 0 10.0 0a5.0 5.0 0 1 0 -10.0 0zM550.5 451.3a5.0 5.0 0 1 0 10.0 0a5.0 5.0 0 1 0 -10.0 0zM551.0 451.9a5.0 5.0 0 1 0 10.0 0a5.0 5.0 0 1 0 -10.0 0zM551.5 451.8a5.0 5.0 0 1 0 10.0 0a5.0 5.0 0 1 0 -10.0 0zM552.0 451.1a5.0 5.0 0 1 0 10.0 0a5.0 5.0 0 1 0 -10.0 0zM552.5 451.6a5.0 5.0 0 1 0 10.0 0a5.0 5.0 0 1 0 -10.0 0zM553.0 451.1a5.0 5.0 0 1 0 10.0 0a5.0 5.0 0 1 0 -10.0 0zM553.5 451.4a5.0 5.0 0 1 0 10.0 0a5.0 5.0 0 1 0 -10.0 0zM554.0 450.8a5.0 5.0 0 1 0 10.0 0a5.0 5.0 0 1 0 -10.0 0zM554.5 451.0a5.0 5.0 0 1 0 10.0 0a5.0 5.0 0 1 0 -10.0 0zM555.0 450.9a5.0 5.0 0 1 0 10.0 0a5.0 5.0 0 1 0 -10.0 0zM555.5 451.3a5.0 5.0 0 1 0 10.0 0a5.0 5.0 0 1 0 -10.0 0zM556.0 450.8a5.0 5.0 0 1 0 10.0 0a5.0 5.0 0 1 0 -10.0 0zM556.5 450.5a5.0 5.0 0 1 0 10.0 0a5.0 5.0 0 1 0 -10.0 0zM557.0 450.8a5.0 5.0 0 1 0 10.0 0a5.0 5.0 0 1 0 -10.0 0zM557.5 450.4a5.0 5.0 0 1 0 10.0 0a5.0 5.0 0 1 0 -10.0 0zM558.0 450.8a5.0 5.0 0 1 0 10.0 0a5.0 5.0 0 1 0 -10.0 0zM558.5 450.2a5.0 5.0 0 1 0 10.0 0a5.0 5.0 0 1 0 -10.0 0zM559.0 450.1a5.0 5.0 0 1 0 10.0 0a5.0 5.0 0 1 0 -10.0 0zM559.5 450.2a5.0 5.0 0 1 0 10.0 0a5.0 5.0 0 1 0 -10.0 0zM560.0 450.5a5.0 5.0 0 1 0 10.0 0a5.0 5.0 0 1 0 -10.0 0zM560.5 449.9a5.0 5.0 0 1 0 10.0 0a5.0 5.0 0 1 0 -10.0 0zM561.0 450.0a5.0 5.0 0 1 0 10.0 0a5.0 5.0 0 1 0 -10.0 0zM561.5 449.9a5.0 5.0 0 1 0 10.0 0a5.0 5.0 0 1 0 -10.0 0zM562.0 449.5a5.0 5.0 0 1 0 10.0 0a5.0 5.0 0 1 0 -10.0 0zM562.5 449.5a5.0 5.0 0 1 0 10.0 0a5.0 5.0 0 1 0 -10.0 0zM563.0 449.6a5.0 5.0 0 1 0 10.0 0a5.0 5.0 0 1 0 -10.0 0zM563.5 449.2a5.0 5.0 0 1 0 10.0 0a5.0 5.0 0 1 0 -10.0 0zM564.0 449.7a5.0 5.0 0 1 0 10.0 0a5.0 5.0 0 1 0 -10.0 0zM564.5 449.5a5.0 5.0 0 1 0 10.0 0a5.0 5.0 0 1 0 -10.0 0zM565.0 449.4a5.0 5.0 0 1 0 10.0 0a5.0 5.0 0 1 0 -10.0 0zM565.5 450.0a5.0 5.0 0 1 0 10.0 0a5.0 5.0 0 1 0 -10.0 0zM566.0 449.1a5.0 5.0 0 1 0 10.0 0a5.0 5.0 0 1 0 -10.0 0zM566.5 449.8a5.0 5.0 0 1 0 10.0 0a5.0 5.0 0 1 0 -10.0 0zM567.0 449.6a5.0 5.0 0 1 0 10.0 0a5.0 5.0 0 1 0 -10.0 0zM567.5 449.9a5.0 5.0 0 1 0 10.0 0a5.0 5.0 0 1 0 -10.0 0zM568.0 450.0a5.0 5.0 0 1 0 10.0 0a5.0 5.0 0 1 0 -10.0 0zM568.5 449.3a5.0 5.0 0 1 0 10.0 0a5.0 5.0 0 1 0 -10.0 0zM569.0 449.4a5.0 5.0 0 1 0 10.0 0a5.0 5.0 0 1 0 -10.0 0zM569.5 449.8a5.0 5.0 0 1 0 10.0 0a5.0 5.0 0 1 0 -10.0 0zM570.0 449.1a5.0 5.0 0 1 0 10.0 0a5.0 5.0 0 1 0 -10.0 0zM570.5 449.4a5.0 5.0 0 1 0 10.0 0a5.0 5.0 0 1 0 -10.0 0zM571.0 449.4a5.0 5.0 0 1 0 10.0 0a5.0 5.0 0 1 0 -10.0 0zM571.5 449.3a5.0 5.0 0 1 0 10.0 0a5.0 5.0 0 1 0 -10.0 0zM572.1 449.4a5.0 5.0 0 1 0 10.0 0a5.0 5.0 0 1 0 -10.0 0zM572.6 449.5a5.0 5.0 0 1 0 10.0 0a5.0 5.0 0 1 0 -10.0 0zM573.1 448.9a5.0 5.0 0 1 0 10.0 0a5.0 5.0 0 1 0 -10.0 0zM573.6 449.5a5.0 5.0 0 1 0 10.0 0a5.0 5.0 0 1 0 -10.0 0zM574.1 449.4a5.0 5.0 0 1 0 10.0 0a5.0 5.0 0 1 0 -10.0 0zM574.6 449.6a5.0 5.0 0 1 0 10.0 0a5.0 5.0 0 1 0 -10.0 0zM575.1 449.9a5.0 5.0 0 1 0 10.0 0a5.0 5.0 0 1 0 -10.0 0zM575.6 449.4a5.0 5.0 0 1 0 10.0 0a5.0 5.0 0 1 0 -10.0 0zM576.1 449.1a5.0 5.0 0 1 0 10.0 0a5.0 5.0 0 1 0 -10.0 0zM576.6 449.3a5.0 5.0 0 1 0 10.0 0a5.0 5.0 0 1 0 -10.0 0zM577.1 449.0a5.0 5.0 0 1 0 10.0 0a5.0 5.0 0 1 0 -10.0 0zM577.6 449.1a5.0 5.0 0 1 0 10.0 0a5.0 5.0 0 1 0 -10.0 0zM578.1 449.0a5.0 5.0 0 1 0 10.0 0a5.0 5.0 0 1 0 -10.0 0zM578.6 449.1a5.0 5.0 0 1 0 10.0 0a5.0 5.0 0 1 0 -10.0 0zM579.1 449.4a5.0 5.0 0 1 0 10.0 0a5.0 5.0 0 1 0 -10.0 0zM579.6 448.9a5.0 5.0 0 1 0 10.0 0a5.0 5.0 0 1 0 -10.0 0zM580.1 448.9a5.0 5.0 0 1 0 10.0 0a5.0 5.0 0 1 0 -10.0 0zM580.6 448.9a5.0 5.0 0 1 0 10.0 0a5.0 5.0 0 1 0 -10.0 0zM581.1 448.6a5.0 5.0 0 1 0 10.0 0a5.0 5.0 0 1 0 -10.0 0zM581.6 448.5a5.0 5.0 0 1 0 10.0 0a5.0 5.0 0 1 0 -10.0 0zM582.1 449.2a5.0 5.0 0 1 0 10.0 0a5.0 5.0 0 1 0 -10.0 0zM582.6 449.1a5.0 5.0 0 1 0 10.0 0a5.0 5.0 0 1 0 -10.0 0zM583.1 449.6a5.0 5.0 0 1 0 10.0 0a5.0 5.0 0 1 0 -10.0 0zM583.6 449.7a5.0 5.0 0 1 0 10.0 0a5.0 5.0 0 1 0 -10.0 0zM584.1 448.7a5.0 5.0 0 1 0 10.0 0a5.0 5.0 0 1 0 -10.0 0zM584.6 448.9a5.0 5.0 0 1 0 10.0 0a5.0 5.0 0 1 0 -10.0 0zM585.1 449.1a5.0 5.0 0 1 0 10.0 0a5.0 5.0 0 1 0 -10.0 0zM585.6 448.8a5.0 5.0 0 1 0 10.0 0a5.0 5.0 0 1 0 -10.0 0zM586.1 449.0a5.0 5.0 0 1 0 10.0 0a5.0 5.0 0 1 0 -10.0 0zM586.6 449.3a5.0 5.0 0 1 0 10.0 0a5.0 5.0 0 1 0 -10.0 0zM587.1 449.1a5.0 5.0 0 1 0 10.0 0a5.0 5.0 0 1 0 -10.0 0zM587.6 448.6a5.0 5.0 0 1 0 10.0 0a5.0 5.0 0 1 0 -10.0 0zM588.1 448.9a5.0 5.0 0 1 0 10.0 0a5.0 5.0 0 1 0 -10.0 0zM588.6 448.5a5.0 5.0 0 1 0 10.0 0a5.0 5.0 0 1 0 -10.0 0zM589.1 449.5a5.0 5.0 0 1 0 10.0 0a5.0 5.0 0 1 0 -10.0 0zM589.6 449.0a5.0 5.0 0 1 0 10.0 0a5.0 5.0 0 1 0 -10.0 0zM590.1 449.2a5.0 5.0 0 1 0 10.0 0a5.0 5.0 0 1 0 -10.0 0zM590.6 449.3a5.0 5.0 0 1 0 10.0 0a5.0 5.0 0 1 0 -10.0 0zM591.1 449.0a5.0 5.0 0 1 0 10.0 0a5.0 5.0 0 1 0 -10.0 0zM591.6 448.8a5.0 5.0 0 1 0 10.0 0a5.0 5.0 0 1 0 -10.0 0zM592.1 448.7a5.0 5.0 0 1 0 10.0 0a5.0 5.0 0 1 0 -10.0 0zM592.6 448.7a5.0 5.0 0 1 0 10.0 0a5.0 5.0 0 1 0 -10.0 0zM593.1 448.7a5.0 5.0 0 1 0 10.0 0a5.0 5.0 0 1 0 -10.0 0zM593.6 449.0a5.0 5.0 0 1 0 10.0 0a5.0 5.0 0 1 0 -10.0 0zM594.1 448.8a5.0 5.0 0 1 0 10.0 0a5.0 5.0 0 1 0 -10.0 0zM594.6 448.7a5.0 5.0 0 1 0 10.0 0a5.0 5.0 0 1 0 -10.0 0zM595.1 448.8a5.0 5.0 0 1 0 10.0 0a5.0 5.0 0 1 0 -10.0 0zM595.6 448.8a5.0 5.0 0 1 0 10.0 0a5.0 5.0 0 1 0 -10.0 0zM596.1 449.0a5.0 5.0 0 1 0 10.0 0a5.0 5.0 0 1 0 -10.0 0zM596.6 448.9a5.0 5.0 0 1 0 10.0 0a5.0 5.0 0 1 0 -10.0 0zM597.1 449.0a5.0 5.0 0 1 0 10.0 0a5.0 5.0 0 1 0 -10.0 0zM597.6 449.4a5.0 5.0 0 1 0 10.0 0a5.0 5.0 0 1 0 -10.0 0zM598.1 449.1a5.0 5.0 0 1 0 10.0 0a5.0 5.0 0 1 0 -10.0 0zM598.6 449.0a5.0 5.0 0 1 0 10.0 0a5.0 5.0 0 1 0 -10.0 0zM599.1 449.2a5.0 5.0 0 1 0 10.0 0a5.0 5.0 0 1 0 -10.0 0zM599.6 449.4a5.0 5.0 0 1 0 10.0 0a5.0 5.0 0 1 0 -10.0 0zM600.1 448.8a5.0 5.0 0 1 0 10.0 0a5.0 5.0 0 1 0 -10.0 0zM600.6 449.9a5.0 5.0 0 1 0 10.0 0a5.0 5.0 0 1 0 -10.0 0zM601.1 448.9a5.0 5.0 0 1 0 10.0 0a5.0 5.0 0 1 0 -10.0 0zM601.6 450.0a5.0 5.0 0 1 0 10.0 0a5.0 5.0 0 1 0 -10.0 0zM602.1 450.1a5.0 5.0 0 1 0 10.0 0a5.0 5.0 0 1 0 -10.0 0zM602.6 449.3a5.0 5.0 0 1 0 10.0 0a5.0 5.0 0 1 0 -10.0 0zM603.1 449.8a5.0 5.0 0 1 0 10.0 0a5.0 5.0 0 1 0 -10.0 0zM603.6 449.6a5.0 5.0 0 1 0 10.0 0a5.0 5.0 0 1 0 -10.0 0zM604.1 450.2a5.0 5.0 0 1 0 10.0 0a5.0 5.0 0 1 0 -10.0 0zM604.6 450.2a5.0 5.0 0 1 0 10.0 0a5.0 5.0 0 1 0 -10.0 0zM605.1 449.9a5.0 5.0 0 1 0 10.0 0a5.0 5.0 0 1 0 -10.0 0zM605.6 450.4a5.0 5.0 0 1 0 10.0 0a5.0 5.0 0 1 0 -10.0 0zM606.1 450.4a5.0 5.0 0 1 0 10.0 0a5.0 5.0 0 1 0 -10.0 0zM606.6 450.4a5.0 5.0 0 1 0 10.0 0a5.0 5.0 0 1 0 -10.0 0zM607.1 450.1a5.0 5.0 0 1 0 10.0 0a5.0 5.0 0 1 0 -10.0 0zM607.6 449.7a5.0 5.0 0 1 0 10.0 0a5.0 5.0 0 1 0 -10.0 0zM608.1 450.6a5.0 5.0 0 1 0 10.0 0a5.0 5.0 0 1 0 -10.0 0zM608.6 450.1a5.0 5.0 0 1 0 10.0 0a5.0 5.0 0 1 0 -10.0 0zM609.1 451.0a5.0 5.0 0 1 0 10.0 0a5.0 5.0 0 1 0 -10.0 0zM609.6 451.0a5.0 5.0 0 1 0 10.0 0a5.0 5.0 0 1 0 -10.0 0zM610.1 450.4a5.0 5.0 0 1 0 10.0 0a5.0 5.0 0 1 0 -10.0 0zM610.6 450.6a5.0 5.0 0 1 0 10.0 0a5.0 5.0 0 1 0 -10.0 0zM611.1 450.9a5.0 5.0 0 1 0 10.0 0a5.0 5.0 0 1 0 -10.0 0zM611.6 451.0a5.0 5.0 0 1 0 10.0 0a5.0 5.0 0 1 0 -10.0 0zM612.1 451.5a5.0 5.0 0 1 0 10.0 0a5.0 5.0 0 1 0 -10.0 0zM612.6 450.9a5.0 5.0 0 1 0 10.0 0a5.0 5.0 0 1 0 -10.0 0zM613.1 450.8a5.0 5.0 0 1 0 10.0 0a5.0 5.0 0 1 0 -10.0 0zM613.6 451.9a5.0 5.0 0 1 0 10.0 0a5.0 5.0 0 1 0 -10.0 0zM614.1 451.1a5.0 5.0 0 1 0 10.0 0a5.0 5.0 0 1 0 -10.0 0zM614.6 451.9a5.0 5.0 0 1 0 10.0 0a5.0 5.0 0 1 0 -10.0 0zM615.1 451.4a5.0 5.0 0 1 0 10.0 0a5.0 5.0 0 1 0 -10.0 0zM615.6 451.5a5.0 5.0 0 1 0 10.0 0a5.0 5.0 0 1 0 -10.0 0zM616.1 451.8a5.0 5.0 0 1 0 10.0 0a5.0 5.0 0 1 0 -10.0 0zM616.6 451.4a5.0 5.0 0 1 0 10.0 0a5.0 5.0 0 1 0 -10.0 0zM617.1 451.3a5.0 5.0 0 1 0 10.0 0a5.0 5.0 0 1 0 -10.0 0zM617.6 451.9a5.0 5.0 0 1 0 10.0 0a5.0 5.0 0 1 0 -10.0 0zM618.1 451.4a5.0 5.0 0 1 0 10.0 0a5.0 5.0 0 1 0 -10.0 0zM618.6 451.9a5.0 5.0 0 1 0 10.0 0a5.0 5.0 0 1 0 -10.0 0zM619.1 452.1a5.0 5.0 0 1 0 10.0 0a5.0 5.0 0 1 0 -10.0 0zM619.6 452.0a5.0 5.0 0 1 0 10.0 0a5.0 5.0 0 1 0 -10.0 0zM620.1 452.4a5.0 5.0 0 1 0 10.0 0a5.0 5.0 0 1 0 -10.0 0zM620.6 452.5a5.0 5.0 0 1 0 10.0 0a5.0 5.0 0 1 0 -10.0 0zM621.1 453.0a5.0 5.0 0 1 0 10.0 0a5.0 5.0 0 1 0 -10.0 0zM621.6 453.1a5.0 5.0 0 1 0 10.0 0a5.0 5.0 0 1 0 -10.0 0zM622.1 453.2a5.0 5.0 0 1 0 10.0 0a5.0 5.0 0 1 0 -10.0 0zM622.6 452.9a5.0 5.0 0 1 0 10.0 0a5.0 5.0 0 1 0 -10.0 0zM623.1 453.4a5.0 5.0 0 1 0 10.0 0a5.0 5.0 0 1 0 -10.0 0zM623.6 453.6a5.0 5.0 0 1 0 10.0 0a5.0 5.0 0 1 0 -10.0 0zM624.1 453.4a5.0 5.0 0 1 0 10.0 0a5.0 5.0 0 1 0 -10.0 0zM624.6 453.6a5.0 5.0 0 1 0 10.0 0a5.0 5.0 0 1 0 -10.0 0zM625.1 453.6a5.0 5.0 0 1 0 10.0 0a5.0 5.0 0 1 0 -10.0 0zM625.6 454.4a5.0 5.0 0 1 0 10.0 0a5.0 5.0 0 1 0 -10.0 0zM626.1 453.7a5.0 5.0 0 1 0 10.0 0a5.0 5.0 0 1 0 -10.0 0zM626.6 454.4a5.0 5.0 0 1 0 10.0 0a5.0 5.0 0 1 0 -10.0 0zM627.1 454.2a5.0 5.0 0 1 0 10.0 0a5.0 5.0 0 1 0 -10.0 0zM627.6 454.2a5.0 5.0 0 1 0 10.0 0a5.0 5.0 0 1 0 -10.0 0zM628.1 454.3a5.0 5.0 0 1 0 10.0 0a5.0 5.0 0 1 0 -10.0 0zM628.6 455.0a5.0 5.0 0 1 0 10.0 0a5.0 5.0 0 1 0 -10.0 0zM629.1 454.9a5.0 5.0 0 1 0 10.0 0a5.0 5.0 0 1 0 -10.0 0zM629.6 454.9a5.0 5.0 0 1 0 10.0 0a5.0 5.0 0 1 0 -10.0 0zM630.1 455.4a5.0 5.0 0 1 0 10.0 0a5.0 5.0 0 1 0 -10.0 0zM630.6 454.9a5.0 5.0 0 1 0 10.0 0a5.0 5.0 0 1 0 -10.0 0zM631.1 454.8a5.0 5.0 0 1 0 10.0 0a5.0 5.0 0 1 0 -10.0 0zM631.6 455.7a5.0 5.0 0 1 0 10.0 0a5.0 5.0 0 1 0 -10.0 0zM632.1 456.4a5.0 5.0 0 1 0 10.0 0a5.0 5.0 0 1 0 -10.0 0zM632.6 456.0a5.0 5.0 0 1 0 10.0 0a5.0 5.0 0 1 0 -10.0 0zM633.1 455.9a5.0 5.0 0 1 0 10.0 0a5.0 5.0 0 1 0 -10.0 0zM633.6 456.4a5.0 5.0 0 1 0 10.0 0a5.0 5.0 0 1 0 -10.0 0zM634.1 456.6a5.0 5.0 0 1 0 10.0 0a5.0 5.0 0 1 0 -10.0 0zM634.6 456.7a5.0 5.0 0 1 0 10.0 0a5.0 5.0 0 1 0 -10.0 0zM635.1 457.1a5.0 5.0 0 1 0 10.0 0a5.0 5.0 0 1 0 -10.0 0zM635.6 457.1a5.0 5.0 0 1 0 10.0 0a5.0 5.0 0 1 0 -10.0 0zM636.1 457.2a5.0 5.0 0 1 0 10.0 0a5.0 5.0 0 1 0 -10.0 0zM636.6 457.6a5.0 5.0 0 1 0 10.0 0a5.0 5.0 0 1 0 -10.0 0zM637.1 457.0a5.0 5.0 0 1 0 10.0 0a5.0 5.0 0 1 0 -10.0 0zM637.6 457.5a5.0 5.0 0 1 0 10.0 0a5.0 5.0 0 1 0 -10.0 0zM638.1 458.4a5.0 5.0 0 1 0 10.0 0a5.0 5.0 0 1 0 -10.0 0zM638.6 458.3a5.0 5.0 0 1 0 10.0 0a5.0 5.0 0 1 0 -10.0 0zM639.1 458.4a5.0 5.0 0 1 0 10.0 0a5.0 5.0 0 1 0 -10.0 0zM639.6 458.6a5.0 5.0 0 1 0 10.0 0a5.0 5.0 0 1 0 -10.0 0zM640.1 458.9a5.0 5.0 0 1 0 10.0 0a5.0 5.0 0 1 0 -10.0 0zM640.6 458.8a5.0 5.0 0 1 0 10.0 0a5.0 5.0 0 1 0 -10.0 0zM641.1 459.8a5.0 5.0 0 1 0 10.0 0a5.0 5.0 0 1 0 -10.0 0zM641.6 459.6a5.0 5.0 0 1 0 10.0 0a5.0 5.0 0 1 0 -10.0 0zM642.1 459.8a5.0 5.0 0 1 0 10.0 0a5.0 5.0 0 1 0 -10.0 0zM642.6 460.2a5.0 5.0 0 1 0 10.0 0a5.0 5.0 0 1 0 -10.0 0zM643.1 460.1a5.0 5.0 0 1 0 10.0 0a5.0 5.0 0 1 0 -10.0 0zM643.6 460.5a5.0 5.0 0 1 0 10.0 0a5.0 5.0 0 1 0 -10.0 0zM644.1 460.2a5.0 5.0 0 1 0 10.0 0a5.0 5.0 0 1 0 -10.0 0zM644.6 461.1a5.0 5.0 0 1 0 10.0 0a5.0 5.0 0 1 0 -10.0 0z"/>
<path fill="#1A6FDF" d="M184.8 650.9l5.7 10.3h-11.4zM209.5 599.9l5.7 10.3h-11.4zM224.5 599.3l5.7 10.3h-11.4zM234.0 598.8l5.7 10.3h-11.4zM243.5 598.3l5.7 10.3h-11.4zM250.5 598.6l5.7 10.3h-11.4zM256.4 597.6l5.7 10.3h-11.4zM261.6 597.9l5.7 10.3h-11.4zM266.1 596.4l5.7 10.3h-11.4zM270.1 595.9l5.7 10.3h-11.4zM273.7 596.7l5.7 10.3h-11.4zM277.1 595.8l5.7 10.3h-11.4zM280.1 595.7l5.7 10.3h-11.4zM283.0 593.9l5.7 10.3h-11.4zM285.6 593.8l5.7 10.3h-11.4zM288.1 593.3l5.7 10.3h-11.4zM290.4 592.8l5.7 10.3h-11.4zM292.6 592.8l5.7 10.3h-11.4zM294.7 591.5l5.7 10.3h-11.4zM296.6 591.5l5.7 10.3h-11.4zM298.5 591.3l5.7 10.3h-11.4zM300.3 589.3l5.7 10.3h-11.4zM302.0 589.1l5.7 10.3h-11.4zM303.6 588.6l5.7 10.3h-11.4zM305.2 588.4l5.7 10.3h-11.4zM306.7 587.1l5.7 10.3h-11.4zM308.1 587.0l5.7 10.3h-11.4zM309.5 586.6l5.7 10.3h-11.4zM310.9 586.1l5.7 10.3h-11.4zM312.2 584.8l5.7 10.3h-11.4zM313.4 584.8l5.7 10.3h-11.4zM314.7 584.6l5.7 10.3h-11.4zM315.8 584.5l5.7 10.3h-11.4zM317.0 583.4l5.7 10.3h-11.4zM318.1 583.4l5.7 10.3h-11.4zM319.2 582.6l5.7 10.3h-11.4zM320.2 581.9l5.7 10.3h-11.4zM321.2 582.0l5.7 10.3h-11.4zM322.2 581.5l5.7 10.3h-11.4zM323.2 580.9l5.7 10.3h-11.4zM324.1 580.6l5.7 10.3h-11.4zM325.1 580.6l5.7 10.3h-11.4zM326.0 579.4l5.7 10.3h-11.4zM326.9 580.6l5.7 10.3h-11.4zM327.7 578.8l5.7 10.3h-11.4zM328.6 578.3l5.7 10.3h-11.4zM329.4 579.8l5.7 10.3h-11.4zM330.2 578.0l5.7 10.3h-11.4zM331.0 578.9l5.7 10.3h-11.4zM331.7 578.5l5.7 10.3h-11.4zM332.5 577.9l5.7 10.3h-11.4zM333.3 577.0l5.7 10.3h-11.4zM334.0 577.4l5.7 10.3h-11.4zM334.7 577.0l5.7 10.3h-11.4zM335.4 577.7l5.7 10.3h-11.4zM336.1 575.6l5.7 10.3h-11.4zM336.8 576.3l5.7 10.3h-11.4zM337.4 576.8l5.7 10.3h-11.4zM338.1 576.0l5.7 10.3h-11.4zM338.7 576.5l5.7 10.3h-11.4zM357.9 568.8l5.7 10.3h-11.4zM358.4 568.7l5.7 10.3h-11.4zM358.9 568.6l5.7 10.3h-11.4zM359.4 568.6l5.7 10.3h-11.4zM359.9 568.5l5.7 10.3h-11.4zM360.4 568.3l5.7 10.3h-11.4zM360.9 568.9l5.7 10.3h-11.4zM361.4 568.0l5.7 10.3h-11.4zM361.9 567.5l5.7 10.3h-11.4zM362.4 567.9l5.7 10.3h-11.4zM362.9 567.7l5.7 10.3h-11.4zM363.4 567.2l5.7 10.3h-11.4zM363.9 567.7l5.7 10.3h-11.4zM364.4 566.0l5.7 10.3h-11.4zM364.9 566.6l5.7 10.3h-11.4zM365.4 567.0l5.7 10.3h-11.4zM365.9 566.8l5.7 10.3h-11.4zM366.4 567.3l5.7 10.3h-11.4zM366.9 565.6l5.7 10.3h-11.4zM367.4 566.0l5.7 10.3h-11.4zM367.9 566.4l5.7 10.3h-11.4zM368.4 565.7l5.7 10.3h-11.4zM368.9 566.1l5.7 10.3h-11.4zM369.4 565.4l5.7 10.3h-11.4zM369.9 565.8l5.7 10.3h-11.4zM370.4 565.1l5.7 10.3h-11.4zM370.9 564.6l5.7 10.3h-11.4zM371.4 565.0l5.7 10.3h-11.4zM371.9 564.2l5.7 10.3h-11.4zM372.4 564.6l5.7 10.3h-11.4zM372.9 563.5l5.7 10.3h-11.4zM373.4 564.2l5.7 10.3h-11.4zM373.9 564.4l5.7 10.3h-11.4zM374.4 564.2l5.7 10.3h-11.4zM374.9 564.1l5.7 10.3h-11.4zM375.4 563.0l5.7 10.3h-11.4zM375.9 563.6l5.7 10.3h-11.4zM376.4 563.3l5.7 10.3h-11.4zM376.9 562.7l5.7 10.3h-11.4zM377.4 563.1l5.7 10.3h-11.4zM377.9 562.4l5.7 10.3h-11.4zM378.4 562.6l5.7 10.3h-11.4zM378.9 563.1l5.7 10.3h-11.4zM379.4 562.4l5.7 10.3h-11.4zM379.9 563.0l5.7 10.3h-11.4zM380.4 562.5l5.7 10.3h-11.4zM380.9 561.8l5.7 10.3h-11.4zM381.4 561.5l5.7 10.3h-11.4zM381.9 561.2l5.7 10.3h-11.4zM382.4 562.0l5.7 10.3h-11.4zM382.9 560.8l5.7 10.3h-11.4zM383.4 560.9l5.7 10.3h-11.4zM383.9 561.4l5.7 10.3h-11.4zM384.4 561.2l5.7 10.3h-11.4zM384.9 560.9l5.7 10.3h-11.4zM385.4 560.8l5.7 10.3h-11.4zM385.9 560.4l5.7 10.3h-11.4zM386.4 561.4l5.7 10.3h-11.4zM386.9 560.4l5.7 10.3h-11.4zM387.4 559.9l5.7 10.3h-11.4zM387.9 560.0l5.7 10.3h-11.4zM388.4 559.3l5.7 10.3h-11.4zM388.9 560.1l5.7 10.3h-11.4zM389.4 559.4l5.7 10.3h-11.4zM389.9 559.2l5.7 10.3h-11.4zM390.4 559.3l5.7 10.3h-11.4zM390.9 559.2l5.7 10.3h-11.4zM391.4 559.2l5.7 10.3h-11.4zM391.9 559.7l5.7 10.3h-11.4zM392.4 558.3l5.7 10.3h-11.4zM392.9 559.3l5.7 10.3h-11.4zM393.4 558.2l5.7 10.3h-11.4zM393.9 558.1l5.7 10.3h-11.4zM394.4 558.5l5.7 10.3h-11.4zM394.9 558.3l5.7 10.3h-11.4zM395.4 557.9l5.7 10.3h-11.4zM395.9 558.5l5.7 10.3h-11.4zM396.4 557.3l5.7 10.3h-11.4zM396.9 557.6l5.7 10.3h-11.4zM397.4 557.8l5.7 10.3h-11.4zM397.9 557.8l5.7 10.3h-11.4zM398.4 557.7l5.7 10.3h-11.4zM398.9 556.9l5.7 10.3h-11.4zM399.4 557.4l5.7 10.3h-11.4zM399.9 556.9l5.7 10.3h-11.4zM400.4 556.5l5.7 10.3h-11.4zM400.9 556.4l5.7 10.3h-11.4zM401.4 556.6l5.7 10.3h-11.4zM401.9 555.6l5.7 10.3h-11.4zM402.4 556.6l5.7 10.3h-11.4zM402.9 555.2l5.7 10.3h-11.4zM403.4 555.3l5.7 10.3h-11.4zM403.9 555.6l5.7 10.3h-11.4zM404.4 556.0l5.7 10.3h-11.4zM404.9 555.1l5.7 10.3h-11.4zM405.4 556.0l5.7 10.3h-11.4zM405.9 555.0l5.7 10.3h-11.4zM406.4 555.5l5.7 10.3h-11.4zM406.9 555.3l5.7 10.3h-11.4zM407.4 554.0l5.7 10.3h-11.4zM407.9 554.9l5.7 10.3h-11.4zM408.4 554.6l5.7 10.3h-11.4zM408.9 553.8l5.7 10.3h-11.4zM409.4 554.1l5.7 10.3h-11.4zM409.9 553.3l5.7 10.3h-11.4zM410.4 554.0l5.7 10.3h-11.4zM410.9 553.2l5.7 10.3h-11.4zM411.4 553.8l5.7 10.3h-11.4zM411.9 554.0l5.7 10.3h-11.4zM412.4 553.9l5.7 10.3h-11.4zM412.9 553.2l5.7 10.3h-11.4zM413.4 552.7l5.7 10.3h-11.4zM413.9 553.1l5.7 10.3h-11.4zM414.4 552.3l5.7 10.3h-11.4zM414.9 552.0l5.7 10.3h-11.4zM415.4 552.9l5.7 10.3h-11.4zM415.9 552.7l5.7 10.3h-11.4zM416.4 553.3l5.7 10.3h-11.4zM416.9 552.1l5.7 10.3h-11.4zM417.4 551.8l5.7 10.3h-11.4zM417.9 551.8l5.7 10.3h-11.4zM418.4 552.3l5.7 10.3h-11.4zM418.9 552.2l5.7 10.3h-11.4zM419.4 551.7l5.7 10.3h-11.4zM419.9 551.1l5.7 10.3h-11.4zM420.4 550.6l5.7 10.3h-11.4zM420.9 550.4l5.7 10.3h-11.4zM421.4 550.9l5.7 10.3h-11.4zM421.9 551.4l5.7 10.3h-11.4zM422.4 551.2l5.7 10.3h-11.4zM422.9 550.5l5.7 10.3h-11.4zM423.4 550.7l5.7 10.3h-11.4zM423.9 550.8l5.7 10.3h-11.4zM424.4 550.2l5.7 10.3h-11.4zM424.9 550.1l5.7 10.3h-11.4zM425.4 550.0l5.7 10.3h-11.4zM425.9 550.4l5.7 10.3h-11.4zM426.4 549.5l5.7 10.3h-11.4zM426.9 549.8l5.7 10.3h-11.4zM427.4 549.6l5.7 10.3h-11.4zM427.9 549.2l5.7 10.3h-11.4zM428.4 548.8l5.7 10.3h-11.4zM428.9 548.9l5.7 10.3h-11.4zM429.4 549.3l5.7 10.3h-11.4zM429.9 548.5l5.7 10.3h-11.4zM430.4 549.5l5.7 10.3h-11.4zM431.0 548.5l5.7 10.3h-11.4zM431.5 547.4l5.7 10.3h-11.4zM432.0 548.2l5.7 10.3h-11.4zM432.5 548.2l5.7 10.3h-11.4zM433.0 547.6l5.7 10.3h-11.4zM433.5 548.0l5.7 10.3h-11.4zM434.0 547.9l5.7 10.3h-11.4zM434.5 547.4l5.7 10.3h-11.4zM435.0 547.6l5.7 10.3h-11.4zM435.5 547.3l5.7 10.3h-11.4zM436.0 547.5l5.7 10.3h-11.4zM436.5 547.1l5.7 10.3h-11.4zM437.0 547.2l5.7 10.3h-11.4zM437.5 546.5l5.7 10.3h-11.4zM438.0 546.7l5.7 10.3h-11.4zM438.5 545.7l5.7 10.3h-11.4zM439.0 546.5l5.7 10.3h-11.4zM439.5 546.0l5.7 10.3h-11.4zM440.0 546.1l5.7 10.3h-11.4zM440.5 545.0l5.7 10.3h-11.4zM441.0 545.7l5.7 10.3h-11.4zM441.5 545.3l5.7 10.3h-11.4zM442.0 545.9l5.7 10.3h-11.4zM442.5 546.0l5.7 10.3h-11.4zM443.0 544.3l5.7 10.3h-11.4zM443.5 544.9l5.7 10.3h-11.4zM444.0 545.4l5.7 10.3h-11.4zM444.5 544.7l5.7 10.3h-11.4zM445.0 545.4l5.7 10.3h-11.4zM445.5 543.8l5.7 10.3h-11.4zM446.0 544.5l5.7 10.3h-11.4zM446.5 544.4l5.7 10.3h-11.4zM447.0 543.8l5.7 10.3h-11.4zM447.5 543.8l5.7 10.3h-11.4zM448.0 543.4l5.7 10.3h-11.4zM448.5 543.5l5.7 10.3h-11.4zM449.0 543.3l5.7 10.3h-11.4zM449.5 542.9l5.7 10.3h-11.4zM450.0 542.9l5.7 10.3h-11.4zM450.5 542.8l5.7 10.3h-11.4zM451.0 543.4l5.7 10.3h-11.4zM451.5 542.6l5.7 10.3h-11.4zM452.0 542.6l5.7 10.3h-11.4zM452.5 542.8l5.7 10.3h-11.4zM453.0 543.1l5.7 10.3h-11.4zM453.5 542.5l5.7 10.3h-11.4zM454.0 542.0l5.7 10.3h-11.4zM454.5 542.1l5.7 10.3h-11.4zM455.0 541.6l5.7 10.3h-11.4zM455.5 541.8l5.7 10.3h-11.4zM456.0 541.5l5.7 10.3h-11.4zM456.5 541.1l5.7 10.3h-11.4zM457.0 541.3l5.7 10.3h-11.4zM457.5 541.3l5.7 10.3h-11.4zM458.0 539.9l5.7 10.3h-11.4zM458.5 541.3l5.7 10.3h-11.4zM459.0 540.1l5.7 10.3h-11.4zM459.5 539.4l5.7 10.3h-11.4zM460.0 539.7l5.7 10.3h-11.4zM460.5 539.6l5.7 10.3h-11.4zM461.0 539.1l5.7 10.3h-11.4zM461.5 539.7l5.7 10.3h-11.4zM462.0 539.8l5.7 10.3h-11.4zM462.5 538.8l5.7 10.3h-11.4zM463.0 539.2l5.7 10.3h-11.4zM463.5 537.8l5.7 10.3h-11.4zM464.0 538.8l5.7 10.3h-11.4zM464.5 538.6l5.7 10.3h-11.4zM465.0 537.9l5.7 10.3h-11.4zM465.5 537.3l5.7 10.3h-11.4zM466.0 537.9l5.7 10.3h-11.4zM466.5 537.7l5.7 10.3h-11.4zM467.0 538.5l5.7 10.3h-11.4zM467.5 537.8l5.7 10.3h-11.4zM468.0 537.9l5.7 10.3h-11.4zM468.5 537.3l5.7 10.3h-11.4zM469.0 537.4l5.7 10.3h-11.4zM469.5 537.4l5.7 10.3h-11.4zM470.0 536.7l5.7 10.3h-11.4zM470.5 536.7l5.7 10.3h-11.4zM471.0 537.1l5.7 10.3h-11.4zM471.5 536.3l5.7 10.3h-11.4zM472.0 535.2l5.7 10.3h-11.4zM472.5 536.5l5.7 10.3h-11.4zM473.0 535.6l5.7 10.3h-11.4zM473.5 534.9l5.7 10.3h-11.4zM474.0 535.6l5.7 10.3h-11.4zM474.5 535.3l5.7 10.3h-11.4zM475.0 535.5l5.7 10.3h-11.4zM475.5 535.1l5.7 10.3h-11.4zM476.0 535.3l5.7 10.3h-11.4zM476.5 535.2l5.7 10.3h-11.4zM477.0 534.9l5.7 10.3h-11.4zM477.5 534.2l5.7 10.3h-11.4zM478.0 534.7l5.7 10.3h-11.4zM478.5 534.1l5.7 10.3h-11.4zM479.0 534.3l5.7 10.3h-11.4zM479.5 534.0l5.7 10.3h-11.4zM480.0 533.0l5.7 10.3h-11.4zM480.5 533.8l5.7 10.3h-11.4zM481.0 533.8l5.7 10.3h-11.4zM481.5 533.6l5.7 10.3h-11.4zM482.0 533.1l5.7 10.3h-11.4zM482.5 534.0l5.7 10.3h-11.4zM483.0 533.1l5.7 10.3h-11.4zM483.5 533.5l5.7 10.3h-11.4zM484.0 532.5l5.7 10.3h-11.4zM484.5 532.4l5.7 10.3h-11.4zM485.0 532.4l5.7 10.3h-11.4zM485.5 533.4l5.7 10.3h-11.4zM486.0 532.6l5.7 10.3h-11.4zM486.5 532.8l5.7 10.3h-11.4zM487.0 532.6l5.7 10.3h-11.4zM487.5 532.2l5.7 10.3h-11.4zM488.0 533.0l5.7 10.3h-11.4zM488.5 532.8l5.7 10.3h-11.4zM489.0 532.4l5.7 10.3h-11.4zM489.5 532.0l5.7 10.3h-11.4zM490.0 532.2l5.7 10.3h-11.4zM490.5 531.8l5.7 10.3h-11.4zM491.0 532.9l5.7 10.3h-11.4zM491.5 531.7l5.7 10.3h-11.4zM492.0 533.0l5.7 10.3h-11.4zM492.5 532.0l5.7 10.3h-11.4zM493.0 531.4l5.7 10.3h-11.4zM493.5 531.7l5.7 10.3h-11.4zM494.0 532.1l5.7 10.3h-11.4zM494.5 531.5l5.7 10.3h-11.4zM495.0 532.0l5.7 10.3h-11.4zM495.5 532.2l5.7 10.3h-11.4zM496.0 530.9l5.7 10.3h-11.4zM496.5 531.3l5.7 10.3h-11.4zM497.0 531.5l5.7 10.3h-11.4zM497.5 530.6l5.7 10.3h-11.4zM498.0 531.4l5.7 10.3h-11.4zM498.5 530.6l5.7 10.3h-11.4zM499.0 530.4l5.7 10.3h-11.4zM499.5 530.3l5.7 10.3h-11.4zM500.0 529.6l5.7 10.3h-11.4zM500.5 530.0l5.7 10.3h-11.4zM501.0 530.4l5.7 10.3h-11.4zM501.5 530.0l5.7 10.3h-11.4zM502.0 530.0l5.7 10.3h-11.4zM502.5 529.8l5.7 10.3h-11.4zM503.0 530.5l5.7 10.3h-11.4zM503.5 529.8l5.7 10.3h-11.4zM504.0 529.7l5.7 10.3h-11.4zM504.5 529.1l5.7 10.3h-11.4zM505.0 528.8l5.7 10.3h-11.4zM505.5 528.5l5.7 10.3h-11.4zM506.0 528.8l5.7 10.3h-11.4zM506.5 528.3l5.7 10.3h-11.4zM507.0 528.0l5.7 10.3h-11.4zM507.5 528.0l5.7 10.3h-11.4zM508.0 528.8l5.7 10.3h-11.4zM508.5 527.8l5.7 10.3h-11.4zM509.0 527.9l5.7 10.3h-11.4zM509.5 526.2l5.7 10.3h-11.4zM510.0 527.2l5.7 10.3h-11.4zM510.5 526.3l5.7 10.3h-11.4zM511.0 526.2l5.7 10.3h-11.4zM511.5 526.8l5.7 10.3h-11.4zM512.0 526.6l5.7 10.3h-11.4zM512.5 526.0l5.7 10.3h-11.4zM513.0 525.4l5.7 10.3h-11.4zM513.5 525.8l5.7 10.3h-11.4zM514.0 525.7l5.7 10.3h-11.4zM514.5 525.6l5.7 10.3h-11.4zM515.0 525.0l5.7 10.3h-11.4zM515.5 523.8l5.7 10.3h-11.4zM516.0 525.0l5.7 10.3h-11.4zM516.5 524.2l5.7 10.3h-11.4zM517.0 523.7l5.7 10.3h-11.4zM517.5 524.2l5.7 10.3h-11.4zM518.0 523.8l5.7 10.3h-11.4zM518.5 522.7l5.7 10.3h-11.4zM519.0 522.8l5.7 10.3h-11.4zM519.5 522.5l5.7 10.3h-11.4zM520.0 523.0l5.7 10.3h-11.4zM520.5 522.7l5.7 10.3h-11.4zM521.0 521.7l5.7 10.3h-11.4zM521.5 521.0l5.7 10.3h-11.4zM522.0 521.8l5.7 10.3h-11.4zM522.5 520.7l5.7 10.3h-11.4zM523.0 521.2l5.7 10.3h-11.4zM523.5 521.0l5.7 10.3h-11.4zM524.0 520.0l5.7 10.3h-11.4zM524.5 520.2l5.7 10.3h-11.4zM525.0 520.2l5.7 10.3h-11.4zM525.5 520.2l5.7 10.3h-11.4zM526.0 519.5l5.7 10.3h-11.4zM526.5 518.8l5.7 10.3h-11.4zM527.0 518.6l5.7 10.3h-11.4zM527.5 518.7l5.7 10.3h-11.4zM528.0 518.4l5.7 10.3h-11.4zM528.5 518.8l5.7 10.3h-11.4zM529.0 517.9l5.7 10.3h-11.4zM529.5 517.5l5.7 10.3h-11.4zM530.0 517.2l5.7 10.3h-11.4zM530.5 516.3l5.7 10.3h-11.4zM531.0 516.7l5.7 10.3h-11.4zM531.5 516.7l5.7 10.3h-11.4zM532.0 516.3l5.7 10.3h-11.4zM532.5 516.9l5.7 10.3h-11.4zM533.0 516.5l5.7 10.3h-11.4zM533.5 515.6l5.7 10.3h-11.4zM534.0 514.5l5.7 10.3h-11.4zM534.5 515.6l5.7 10.3h-11.4zM535.0 514.9l5.7 10.3h-11.4zM535.5 514.4l5.7 10.3h-11.4zM536.0 514.4l5.7 10.3h-11.4zM536.5 513.9l5.7 10.3h-11.4zM537.0 514.3l5.7 10.3h-11.4zM537.5 513.8l5.7 10.3h-11.4zM538.0 514.0l5.7 10.3h-11.4zM538.5 512.9l5.7 10.3h-11.4zM539.0 513.0l5.7 10.3h-11.4zM539.5 512.1l5.7 10.3h-11.4zM540.0 512.6l5.7 10.3h-11.4zM540.5 511.5l5.7 10.3h-11.4zM541.0 512.3l5.7 10.3h-11.4zM541.5 512.2l5.7 10.3h-11.4zM542.0 511.5l5.7 10.3h-11.4zM542.5 510.7l5.7 10.3h-11.4zM543.0 511.8l5.7 10.3h-11.4zM543.5 511.4l5.7 10.3h-11.4zM544.0 510.0l5.7 10.3h-11.4zM544.5 510.6l5.7 10.3h-11.4zM545.0 510.4l5.7 10.3h-11.4zM545.5 510.4l5.7 10.3h-11.4zM546.0 509.7l5.7 10.3h-11.4zM546.5 510.3l5.7 10.3h-11.4zM547.0 509.8l5.7 10.3h-11.4zM547.5 509.4l5.7 10.3h-11.4zM548.0 508.5l5.7 10.3h-11.4zM548.5 508.8l5.7 10.3h-11.4zM549.0 507.9l5.7 10.3h-11.4zM549.5 509.2l5.7 10.3h-11.4zM550.0 507.9l5.7 10.3h-11.4zM550.5 507.7l5.7 10.3h-11.4zM551.0 507.2l5.7 10.3h-11.4zM551.5 506.5l5.7 10.3h-11.4zM552.0 506.9l5.7 10.3h-11.4zM552.5 507.0l5.7 10.3h-11.4zM553.0 506.7l5.7 10.3h-11.4zM553.5 506.0l5.7 10.3h-11.4zM554.0 506.1l5.7 10.3h-11.4zM554.5 506.8l5.7 10.3h-11.4zM555.0 505.2l5.7 10.3h-11.4zM555.5 505.4l5.7 10.3h-11.4zM556.0 506.5l5.7 10.3h-11.4zM556.5 506.1l5.7 10.3h-11.4zM557.0 505.7l5.7 10.3h-11.4zM557.5 505.1l5.7 10.3h-11.4zM558.0 504.9l5.7 10.3h-11.4zM558.5 504.5l5.7 10.3h-11.4zM559.0 504.9l5.7 10.3h-11.4zM559.5 505.1l5.7 10.3h-11.4zM560.0 504.5l5.7 10.3h-11.4zM560.5 504.9l5.7 10.3h-11.4zM561.0 505.2l5.7 10.3h-11.4zM561.5 504.7l5.7 10.3h-11.4zM562.0 505.1l5.7 10.3h-11.4zM562.5 503.4l5.7 10.3h-11.4zM563.0 503.9l5.7 10.3h-11.4zM563.5 504.3l5.7 10.3h-11.4zM564.0 503.7l5.7 10.3h-11.4zM564.5 503.2l5.7 10.3h-11.4zM565.0 504.1l5.7 10.3h-11.4zM565.5 503.1l5.7 10.3h-11.4zM566.0 503.9l5.7 10.3h-11.4zM566.5 503.5l5.7 10.3h-11.4zM567.0 503.7l5.7 10.3h-11.4zM567.5 503.1l5.7 10.3h-11.4zM568.0 503.6l5.7 10.3h-11.4zM568.5 503.0l5.7 10.3h-11.4zM569.0 502.5l5.7 10.3h-11.4zM569.5 502.6l5.7 10.3h-11.4zM570.0 502.5l5.7 10.3h-11.4zM570.5 503.8l5.7 10.3h-11.4zM571.0 503.2l5.7 10.3h-11.4zM571.5 503.1l5.7 10.3h-11.4zM572.0 502.7l5.7 10.3h-11.4zM572.5 502.9l5.7 10.3h-11.4zM573.0 502.5l5.7 10.3h-11.4zM573.5 503.1l5.7 10.3h-11.4zM574.0 502.7l5.7 10.3h-11.4zM574.5 502.6l5.7 10.3h-11.4zM575.0 502.1l5.7 10.3h-11.4zM575.5 501.9l5.7 10.3h-11.4zM576.0 502.7l5.7 10.3h-11.4zM576.5 501.5l5.7 10.3h-11.4zM577.1 503.1l5.7 10.3h-11.4zM577.6 502.2l5.7 10.3h-11.4zM578.1 502.2l5.7 10.3h-11.4zM578.6 502.1l5.7 10.3h-11.4zM579.1 502.6l5.7 10.3h-11.4zM579.6 501.8l5.7 10.3h-11.4zM580.1 501.0l5.7 10.3h-11.4zM580.6 502.2l5.7 10.3h-11.4zM581.1 501.6l5.7 10.3h-11.4zM581.6 502.2l5.7 10.3h-11.4zM582.1 502.1l5.7 10.3h-11.4zM582.6 500.9l5.7 10.3h-11.4zM583.1 501.7l5.7 10.3h-11.4zM583.6 501.7l5.7 10.3h-11.4zM584.1 501.8l5.7 10.3h-11.4zM584.6 502.1l5.7 10.3h-11.4zM585.1 501.7l5.7 10.3h-11.4zM585.6 501.8l5.7 10.3h-11.4zM586.1 501.9l5.7 10.3h-11.4zM586.6 501.2l5.7 10.3h-11.4zM587.1 501.6l5.7 10.3h-11.4zM587.6 502.3l5.7 10.3h-11.4zM588.1 502.2l5.7 10.3h-11.4zM588.6 502.2l5.7 10.3h-11.4zM589.1 501.4l5.7 10.3h-11.4zM589.6 502.5l5.7 10.3h-11.4zM590.1 501.7l5.7 10.3h-11.4zM590.6 501.8l5.7 10.3h-11.4zM591.1 501.9l5.7 10.3h-11.4zM591.6 501.1l5.7 10.3h-11.4zM592.1 501.5l5.7 10.3h-11.4zM592.6 501.2l5.7 10.3h-11.4zM593.1 502.1l5.7 10.3h-11.4zM593.6 502.3l5.7 10.3h-11.4zM594.1 501.8l5.7 10.3h-11.4zM594.6 501.4l5.7 10.3h-11.4zM595.1 501.6l5.7 10.3h-11.4zM595.6 502.0l5.7 10.3h-11.4zM596.1 501.8l5.7 10.3h-11.4zM596.6 502.2l5.7 10.3h-11.4zM597.1 502.1l5.7 10.3h-11.4zM597.6 502.5l5.7 10.3h-11.4zM598.1 502.7l5.7 10.3h-11.4zM598.6 502.2l5.7 10.3h-11.4zM599.1 502.0l5.7 10.3h-11.4zM599.6 501.7l5.7 10.3h-11.4zM600.1 501.5l5.7 10.3h-11.4zM600.6 503.2l5.7 10.3h-11.4zM601.1 501.5l5.7 10.3h-11.4zM601.6 502.7l5.7 10.3h-11.4zM602.1 501.8l5.7 10.3h-11.4zM602.6 502.1l5.7 10.3h-11.4zM603.1 502.7l5.7 10.3h-11.4zM603.6 502.7l5.7 10.3h-11.4zM604.1 502.6l5.7 10.3h-11.4zM604.6 502.2l5.7 10.3h-11.4zM605.1 503.7l5.7 10.3h-11.4zM605.6 502.5l5.7 10.3h-11.4zM606.1 502.9l5.7 10.3h-11.4zM606.6 503.0l5.7 10.3h-11.4zM607.1 502.6l5.7 10.3h-11.4zM607.6 503.0l5.7 10.3h-11.4zM608.1 503.1l5.7 10.3h-11.4zM608.6 503.8l5.7 10.3h-11.4zM609.1 503.9l5.7 10.3h-11.4zM609.6 503.6l5.7 10.3h-11.4zM610.1 504.1l5.7 10.3h-11.4zM610.6 503.5l5.7 10.3h-11.4zM611.1 503.4l5.7 10.3h-11.4zM611.6 504.5l5.7 10.3h-11.4zM612.1 504.5l5.7 10.3h-11.4zM612.6 503.6l5.7 10.3h-11.4zM613.1 504.7l5.7 10.3h-11.4zM613.6 505.1l5.7 10.3h-11.4zM614.1 504.3l5.7 10.3h-11.4zM614.6 504.6l5.7 10.3h-11.4zM615.1 504.4l5.7 10.3h-11.4zM615.6 504.6l5.7 10.3h-11.4zM616.1 504.8l5.7 10.3h-11.4zM616.6 505.2l5.7 10.3h-11.4zM617.1 505.9l5.7 10.3h-11.4zM617.6 505.8l5.7 10.3h-11.4zM618.1 505.9l5.7 10.3h-11.4zM618.6 506.3l5.7 10.3h-11.4zM619.1 506.5l5.7 10.3h-11.4zM619.6 506.0l5.7 10.3h-11.4zM620.1 506.6l5.7 10.3h-11.4zM620.6 507.2l5.7 10.3h-11.4zM621.1 506.8l5.7 10.3h-11.4zM621.6 506.6l5.7 10.3h-11.4zM622.1 506.0l5.7 10.3h-11.4zM622.6 506.5l5.7 10.3h-11.4zM623.1 507.1l5.7 10.3h-11.4zM623.6 507.0l5.7 10.3h-11.4zM624.1 506.9l5.7 10.3h-11.4zM624.6 506.9l5.7 10.3h-11.4zM625.1 507.8l5.7 10.3h-11.4zM625.6 508.1l5.7 10.3h-11.4zM626.1 507.6l5.7 10.3h-11.4zM626.6 507.6l5.7 10.3h-11.4zM627.1 508.4l5.7 10.3h-11.4zM627.6 508.2l5.7 10.3h-11.4zM628.1 508.2l5.7 10.3h-11.4zM628.6 508.0l5.7 10.3h-11.4zM629.1 507.9l5.7 10.3h-11.4zM629.6 507.7l5.7 10.3h-11.4zM630.1 508.0l5.7 10.3h-11.4zM630.6 508.7l5.7 10.3h-11.4zM631.1 509.2l5.7 10.3h-11.4zM631.6 509.5l5.7 10.3h-11.4zM632.1 509.3l5.7 10.3h-11.4zM632.6 508.6l5.7 10.3h-11.4zM633.1 509.6l5.7 10.3h-11.4zM633.6 509.2l5.7 10.3h-11.4zM634.1 510.6l5.7 10.3h-11.4zM634.6 510.6l5.7 10.3h-11.4zM635.1 510.6l5.7 10.3h-11.4zM635.6 510.6l5.7 10.3h-11.4zM636.1 510.2l5.7 10.3h-11.4zM636.6 510.5l5.7 10.3h-11.4zM637.1 510.9l5.7 10.3h-11.4zM637.6 511.0l5.7 10.3h-11.4zM638.1 510.7l5.7 10.3h-11.4zM638.6 511.1l5.7 10.3h-11.4zM639.1 510.8l5.7 10.3h-11.4zM639.6 511.1l5.7 10.3h-11.4zM640.1 511.9l5.7 10.3h-11.4zM640.6 511.9l5.7 10.3h-11.4zM641.1 511.8l5.7 10.3h-11.4zM641.6 512.0l5.7 10.3h-11.4zM642.1 512.1l5.7 10.3h-11.4zM642.6 512.6l5.7 10.3h-11.4zM643.1 512.6l5.7 10.3h-11.4zM643.6 511.8l5.7 10.3h-11.4zM644.1 512.9l5.7 10.3h-11.4zM644.6 512.3l5.7 10.3h-11.4zM645.1 512.7l5.7 10.3h-11.4zM645.6 512.7l5.7 10.3h-11.4zM646.1 512.7l5.7 10.3h-11.4zM646.6 513.5l5.7 10.3h-11.4zM647.1 513.7l5.7 10.3h-11.4zM647.6 513.7l5.7 10.3h-11.4zM648.1 514.1l5.7 10.3h-11.4zM648.6 514.1l5.7 10.3h-11.4zM649.1 514.1l5.7 10.3h-11.4zM649.6 514.7l5.7 10.3h-11.4z"/>
<path d="M119.5 790.7V1086.7H654.0" fill="none" stroke="#3a3a3a" stroke-width="1.5"/>
<path d="M110.7 1064.2H119.5M110.7 995.8H119.5M110.7 927.5H119.5M110.7 859.1H119.5M110.7 790.7H119.5M119.5 1086.7v8.6M146.1 1086.7v4.2M161.6 1086.7v4.2M172.6 1086.7v4.2M181.1 1086.7v4.2M188.1 1086.7v4.2M194.0 1086.7v4.2M199.2 1086.7v4.2M203.7 1086.7v4.2M207.7 1086.7v8.6M234.3 1086.7v4.2M249.8 1086.7v4.2M260.8 1086.7v4.2M269.3 1086.7v4.2M276.3 1086.7v4.2M282.2 1086.7v4.2M287.4 1086.7v4.2M291.9 1086.7v4.2M295.9 1086.7v8.6M322.5 1086.7v4.2M338.0 1086.7v4.2M349.0 1086.7v4.2M357.5 1086.7v4.2M364.5 1086.7v4.2M370.4 1086.7v4.2M375.6 1086.7v4.2M380.1 1086.7v4.2M384.1 1086.7v8.6M410.7 1086.7v4.2M426.2 1086.7v4.2M437.2 1086.7v4.2M445.7 1086.7v4.2M452.7 1086.7v4.2M458.6 1086.7v4.2M463.8 1086.7v4.2M468.3 1086.7v4.2M472.3 1086.7v8.6M498.9 1086.7v4.2M514.4 1086.7v4.2M525.4 1086.7v4.2M533.9 1086.7v4.2M540.9 1086.7v4.2M546.8 1086.7v4.2M552.0 1086.7v4.2M556.5 1086.7v4.2M560.5 1086.7v8.6M587.1 1086.7v4.2M602.6 1086.7v4.2M613.6 1086.7v4.2M622.1 1086.7v4.2M629.1 1086.7v4.2M635.0 1086.7v4.2M640.2 1086.7v4.2M644.7 1086.7v4.2M648.7 1086.7v8.6" fill="none" stroke="#3a3a3a" stroke-width="1.5"/>
<text x="103.3" y="1069.8" class="tl" text-anchor="end">0</text>
<text x="103.3" y="1001.4" class="tl" text-anchor="end">3000</text>
<text x="103.3" y="933.1" class="tl" text-anchor="end">6000</text>
<text x="103.3" y="864.7" class="tl" text-anchor="end">9000</text>
<text x="103.3" y="796.3" class="tl" text-anchor="end">12000</text>
<text x="118.5" y="1116.7" class="tl" text-anchor="middle">0.001</text>
<text x="206.7" y="1116.7" class="tl" text-anchor="middle">0.01</text>
<text x="294.9" y="1116.7" class="tl" text-anchor="middle">0.1</text>
<text x="383.1" y="1116.7" class="tl" text-anchor="middle">1</text>
<text x="471.3" y="1116.7" class="tl" text-anchor="middle">10</text>
<text x="559.5" y="1116.7" class="tl" text-anchor="middle">100</text>
<text x="647.7" y="1116.7" class="tl" text-anchor="middle">1000</text>
<text class="tt" text-anchor="middle" transform="translate(39.2 938.7) rotate(-90)">Fluorescence intensity</text>
<text x="125.6" y="814.4" class="pl">C</text>
<text x="183.0" y="1046.4" class="lb" text-anchor="middle">O</text>
<text x="262.4" y="974.6" class="lb" text-anchor="middle">J</text>
<text x="429.7" y="899.7" class="lb" text-anchor="middle">I</text>
<text x="638.0" y="847.3" class="lb" text-anchor="middle">P</text>
<path fill="#515151" d="M179.6 1053.3h9.4v9.4h-9.4zM204.8 987.3h9.4v9.4h-9.4zM219.8 986.5h9.4v9.4h-9.4zM229.3 986.1h9.4v9.4h-9.4zM238.8 985.4h9.4v9.4h-9.4zM245.8 984.8h9.4v9.4h-9.4zM251.7 983.3h9.4v9.4h-9.4zM256.9 982.9h9.4v9.4h-9.4zM261.4 982.1h9.4v9.4h-9.4zM265.4 981.0h9.4v9.4h-9.4zM269.0 979.9h9.4v9.4h-9.4zM272.4 979.1h9.4v9.4h-9.4zM275.4 978.0h9.4v9.4h-9.4zM278.3 976.4h9.4v9.4h-9.4zM280.9 975.7h9.4v9.4h-9.4zM283.4 975.1h9.4v9.4h-9.4zM285.7 973.5h9.4v9.4h-9.4zM287.9 973.4h9.4v9.4h-9.4zM290.0 972.2h9.4v9.4h-9.4zM291.9 970.8h9.4v9.4h-9.4zM293.8 970.1h9.4v9.4h-9.4zM295.6 969.8h9.4v9.4h-9.4zM297.3 968.9h9.4v9.4h-9.4zM298.9 968.5h9.4v9.4h-9.4zM300.5 967.7h9.4v9.4h-9.4zM302.0 966.5h9.4v9.4h-9.4zM303.4 966.3h9.4v9.4h-9.4zM304.8 965.3h9.4v9.4h-9.4zM306.2 964.6h9.4v9.4h-9.4zM307.5 964.0h9.4v9.4h-9.4zM308.7 963.5h9.4v9.4h-9.4zM310.0 962.9h9.4v9.4h-9.4zM311.1 962.1h9.4v9.4h-9.4zM312.3 961.6h9.4v9.4h-9.4zM313.4 961.0h9.4v9.4h-9.4zM314.5 960.7h9.4v9.4h-9.4zM315.5 959.8h9.4v9.4h-9.4zM316.5 959.9h9.4v9.4h-9.4zM317.5 959.0h9.4v9.4h-9.4zM318.5 958.6h9.4v9.4h-9.4zM319.4 958.1h9.4v9.4h-9.4zM320.4 957.2h9.4v9.4h-9.4zM321.3 956.8h9.4v9.4h-9.4zM322.2 956.3h9.4v9.4h-9.4zM323.0 956.1h9.4v9.4h-9.4zM323.9 955.9h9.4v9.4h-9.4zM324.7 955.2h9.4v9.4h-9.4zM325.5 955.1h9.4v9.4h-9.4zM326.3 954.2h9.4v9.4h-9.4zM327.0 954.2h9.4v9.4h-9.4zM327.8 953.5h9.4v9.4h-9.4zM328.6 953.4h9.4v9.4h-9.4zM329.3 952.4h9.4v9.4h-9.4zM330.0 952.6h9.4v9.4h-9.4zM330.7 951.6h9.4v9.4h-9.4zM331.4 951.5h9.4v9.4h-9.4zM332.1 951.3h9.4v9.4h-9.4zM332.7 951.0h9.4v9.4h-9.4zM333.4 950.6h9.4v9.4h-9.4zM334.0 950.2h9.4v9.4h-9.4zM353.2 935.9h9.4v9.4h-9.4zM353.7 935.7h9.4v9.4h-9.4zM354.2 935.6h9.4v9.4h-9.4zM354.7 935.4h9.4v9.4h-9.4zM355.2 935.0h9.4v9.4h-9.4zM355.7 934.9h9.4v9.4h-9.4zM356.2 935.2h9.4v9.4h-9.4zM356.7 934.2h9.4v9.4h-9.4zM357.2 934.4h9.4v9.4h-9.4zM357.7 934.8h9.4v9.4h-9.4zM358.2 934.0h9.4v9.4h-9.4zM358.7 933.8h9.4v9.4h-9.4zM359.2 933.4h9.4v9.4h-9.4zM359.7 933.9h9.4v9.4h-9.4zM360.2 933.0h9.4v9.4h-9.4zM360.7 933.0h9.4v9.4h-9.4zM361.2 933.6h9.4v9.4h-9.4zM361.7 932.9h9.4v9.4h-9.4zM362.2 932.7h9.4v9.4h-9.4zM362.7 932.3h9.4v9.4h-9.4zM363.2 932.8h9.4v9.4h-9.4zM363.7 932.3h9.4v9.4h-9.4zM364.2 932.6h9.4v9.4h-9.4zM364.7 932.2h9.4v9.4h-9.4zM365.2 932.3h9.4v9.4h-9.4zM365.7 931.9h9.4v9.4h-9.4zM366.2 931.6h9.4v9.4h-9.4zM366.7 931.7h9.4v9.4h-9.4zM367.2 931.5h9.4v9.4h-9.4zM367.7 931.5h9.4v9.4h-9.4zM368.2 930.8h9.4v9.4h-9.4zM368.7 931.6h9.4v9.4h-9.4zM369.2 931.4h9.4v9.4h-9.4zM369.7 930.5h9.4v9.4h-9.4zM370.2 930.9h9.4v9.4h-9.4zM370.7 930.7h9.4v9.4h-9.4zM371.2 930.7h9.4v9.4h-9.4zM371.7 930.5h9.4v9.4h-9.4zM372.2 930.7h9.4v9.4h-9.4zM372.7 929.9h9.4v9.4h-9.4zM373.2 930.0h9.4v9.4h-9.4zM373.7 929.5h9.4v9.4h-9.4zM374.2 929.9h9.4v9.4h-9.4zM374.7 929.2h9.4v9.4h-9.4zM375.2 929.0h9.4v9.4h-9.4zM375.7 929.3h9.4v9.4h-9.4zM376.2 929.2h9.4v9.4h-9.4zM376.7 928.9h9.4v9.4h-9.4zM377.2 929.0h9.4v9.4h-9.4zM377.7 928.5h9.4v9.4h-9.4zM378.2 928.4h9.4v9.4h-9.4zM378.7 928.6h9.4v9.4h-9.4zM379.2 927.7h9.4v9.4h-9.4zM379.7 928.3h9.4v9.4h-9.4zM380.2 927.9h9.4v9.4h-9.4zM380.7 927.5h9.4v9.4h-9.4zM381.2 927.2h9.4v9.4h-9.4zM381.7 927.5h9.4v9.4h-9.4zM382.2 927.2h9.4v9.4h-9.4zM382.7 927.1h9.4v9.4h-9.4zM383.2 926.3h9.4v9.4h-9.4zM383.7 926.4h9.4v9.4h-9.4zM384.2 926.3h9.4v9.4h-9.4zM384.7 926.0h9.4v9.4h-9.4zM385.2 926.1h9.4v9.4h-9.4zM385.7 925.4h9.4v9.4h-9.4zM386.2 926.0h9.4v9.4h-9.4zM386.7 925.7h9.4v9.4h-9.4zM387.2 925.6h9.4v9.4h-9.4zM387.7 925.2h9.4v9.4h-9.4zM388.2 925.0h9.4v9.4h-9.4zM388.7 925.0h9.4v9.4h-9.4zM389.2 924.7h9.4v9.4h-9.4zM389.7 924.0h9.4v9.4h-9.4zM390.2 924.2h9.4v9.4h-9.4zM390.7 924.1h9.4v9.4h-9.4zM391.2 924.0h9.4v9.4h-9.4zM391.7 923.6h9.4v9.4h-9.4zM392.2 923.7h9.4v9.4h-9.4zM392.7 923.1h9.4v9.4h-9.4zM393.2 923.3h9.4v9.4h-9.4zM393.7 923.1h9.4v9.4h-9.4zM394.2 922.7h9.4v9.4h-9.4zM394.7 922.3h9.4v9.4h-9.4zM395.2 922.2h9.4v9.4h-9.4zM395.7 922.1h9.4v9.4h-9.4zM396.2 922.0h9.4v9.4h-9.4zM396.7 921.3h9.4v9.4h-9.4zM397.2 921.8h9.4v9.4h-9.4zM397.7 921.4h9.4v9.4h-9.4zM398.2 921.3h9.4v9.4h-9.4zM398.7 921.0h9.4v9.4h-9.4zM399.2 921.2h9.4v9.4h-9.4zM399.7 920.1h9.4v9.4h-9.4zM400.2 920.1h9.4v9.4h-9.4zM400.7 920.2h9.4v9.4h-9.4zM401.2 920.2h9.4v9.4h-9.4zM401.7 920.2h9.4v9.4h-9.4zM402.2 919.3h9.4v9.4h-9.4zM402.7 919.4h9.4v9.4h-9.4zM403.2 919.5h9.4v9.4h-9.4zM403.7 919.0h9.4v9.4h-9.4zM404.2 918.9h9.4v9.4h-9.4zM404.7 918.7h9.4v9.4h-9.4zM405.2 918.5h9.4v9.4h-9.4zM405.7 918.1h9.4v9.4h-9.4zM406.2 918.3h9.4v9.4h-9.4zM406.7 918.0h9.4v9.4h-9.4zM407.2 917.7h9.4v9.4h-9.4zM407.7 917.5h9.4v9.4h-9.4zM408.2 917.5h9.4v9.4h-9.4zM408.7 917.0h9.4v9.4h-9.4zM409.2 917.3h9.4v9.4h-9.4zM409.7 916.5h9.4v9.4h-9.4zM410.2 916.7h9.4v9.4h-9.4zM410.7 916.2h9.4v9.4h-9.4zM411.2 916.4h9.4v9.4h-9.4zM411.7 915.8h9.4v9.4h-9.4zM412.2 915.8h9.4v9.4h-9.4zM412.7 915.7h9.4v9.4h-9.4zM413.2 915.3h9.4v9.4h-9.4zM413.7 915.7h9.4v9.4h-9.4zM414.2 914.9h9.4v9.4h-9.4zM414.7 914.9h9.4v9.4h-9.4zM415.2 914.6h9.4v9.4h-9.4zM415.7 914.4h9.4v9.4h-9.4zM416.2 914.0h9.4v9.4h-9.4zM416.7 913.8h9.4v9.4h-9.4zM417.2 913.4h9.4v9.4h-9.4zM417.7 913.4h9.4v9.4h-9.4zM418.2 913.6h9.4v9.4h-9.4zM418.7 912.7h9.4v9.4h-9.4zM419.2 912.9h9.4v9.4h-9.4zM419.7 912.5h9.4v9.4h-9.4zM420.2 912.3h9.4v9.4h-9.4zM420.7 912.4h9.4v9.4h-9.4zM421.2 911.8h9.4v9.4h-9.4zM421.7 912.0h9.4v9.4h-9.4zM422.2 911.7h9.4v9.4h-9.4zM422.7 911.5h9.4v9.4h-9.4zM423.2 911.3h9.4v9.4h-9.4zM423.7 910.8h9.4v9.4h-9.4zM424.2 910.6h9.4v9.4h-9.4zM424.7 910.5h9.4v9.4h-9.4zM425.2 909.7h9.4v9.4h-9.4zM425.7 910.4h9.4v9.4h-9.4zM426.3 909.9h9.4v9.4h-9.4zM426.8 910.1h9.4v9.4h-9.4zM427.3 909.7h9.4v9.4h-9.4zM427.8 909.4h9.4v9.4h-9.4zM428.3 908.9h9.4v9.4h-9.4zM428.8 909.1h9.4v9.4h-9.4zM429.3 908.5h9.4v9.4h-9.4zM429.8 908.5h9.4v9.4h-9.4zM430.3 908.3h9.4v9.4h-9.4zM430.8 908.2h9.4v9.4h-9.4zM431.3 907.9h9.4v9.4h-9.4zM431.8 907.4h9.4v9.4h-9.4zM432.3 907.3h9.4v9.4h-9.4zM432.8 906.9h9.4v9.4h-9.4zM433.3 906.9h9.4v9.4h-9.4zM433.8 907.0h9.4v9.4h-9.4zM434.3 906.3h9.4v9.4h-9.4zM434.8 906.0h9.4v9.4h-9.4zM435.3 906.1h9.4v9.4h-9.4zM435.8 906.3h9.4v9.4h-9.4zM436.3 905.4h9.4v9.4h-9.4zM436.8 905.3h9.4v9.4h-9.4zM437.3 905.2h9.4v9.4h-9.4zM437.8 904.9h9.4v9.4h-9.4zM438.3 904.6h9.4v9.4h-9.4zM438.8 904.4h9.4v9.4h-9.4zM439.3 904.7h9.4v9.4h-9.4zM439.8 904.0h9.4v9.4h-9.4zM440.3 903.4h9.4v9.4h-9.4zM440.8 903.4h9.4v9.4h-9.4zM441.3 903.3h9.4v9.4h-9.4zM441.8 903.1h9.4v9.4h-9.4zM442.3 903.2h9.4v9.4h-9.4zM442.8 902.9h9.4v9.4h-9.4zM443.3 902.2h9.4v9.4h-9.4zM443.8 902.7h9.4v9.4h-9.4zM444.3 902.0h9.4v9.4h-9.4zM444.8 902.5h9.4v9.4h-9.4zM445.3 901.9h9.4v9.4h-9.4zM445.8 901.9h9.4v9.4h-9.4zM446.3 901.2h9.4v9.4h-9.4zM446.8 900.9h9.4v9.4h-9.4zM447.3 901.2h9.4v9.4h-9.4zM447.8 901.0h9.4v9.4h-9.4zM448.3 900.2h9.4v9.4h-9.4zM448.8 900.7h9.4v9.4h-9.4zM449.3 900.2h9.4v9.4h-9.4zM449.8 899.9h9.4v9.4h-9.4zM450.3 899.8h9.4v9.4h-9.4zM450.8 900.1h9.4v9.4h-9.4zM451.3 899.9h9.4v9.4h-9.4zM451.8 899.2h9.4v9.4h-9.4zM452.3 899.3h9.4v9.4h-9.4zM452.8 899.2h9.4v9.4h-9.4zM453.3 898.5h9.4v9.4h-9.4zM453.8 898.5h9.4v9.4h-9.4zM454.3 898.2h9.4v9.4h-9.4zM454.8 897.7h9.4v9.4h-9.4zM455.3 897.8h9.4v9.4h-9.4zM455.8 897.9h9.4v9.4h-9.4zM456.3 897.5h9.4v9.4h-9.4zM456.8 897.4h9.4v9.4h-9.4zM457.3 896.6h9.4v9.4h-9.4zM457.8 897.0h9.4v9.4h-9.4zM458.3 896.8h9.4v9.4h-9.4zM458.8 896.7h9.4v9.4h-9.4zM459.3 896.7h9.4v9.4h-9.4zM459.8 896.4h9.4v9.4h-9.4zM460.3 896.1h9.4v9.4h-9.4zM460.8 895.7h9.4v9.4h-9.4zM461.3 895.4h9.4v9.4h-9.4zM461.8 895.4h9.4v9.4h-9.4zM462.3 895.5h9.4v9.4h-9.4zM462.8 895.0h9.4v9.4h-9.4zM463.3 894.8h9.4v9.4h-9.4zM463.8 894.6h9.4v9.4h-9.4zM464.3 894.3h9.4v9.4h-9.4zM464.8 894.1h9.4v9.4h-9.4zM465.3 894.0h9.4v9.4h-9.4zM465.8 893.5h9.4v9.4h-9.4zM466.3 893.1h9.4v9.4h-9.4zM466.8 893.4h9.4v9.4h-9.4zM467.3 893.3h9.4v9.4h-9.4zM467.8 892.9h9.4v9.4h-9.4zM468.3 892.8h9.4v9.4h-9.4zM468.8 892.3h9.4v9.4h-9.4zM469.3 892.3h9.4v9.4h-9.4zM469.8 891.6h9.4v9.4h-9.4zM470.3 892.0h9.4v9.4h-9.4zM470.8 891.6h9.4v9.4h-9.4zM471.3 891.2h9.4v9.4h-9.4zM471.8 891.2h9.4v9.4h-9.4zM472.3 890.9h9.4v9.4h-9.4zM472.8 890.2h9.4v9.4h-9.4zM473.3 890.7h9.4v9.4h-9.4zM473.8 890.5h9.4v9.4h-9.4zM474.3 890.1h9.4v9.4h-9.4zM474.8 889.8h9.4v9.4h-9.4zM475.3 889.8h9.4v9.4h-9.4zM475.8 889.5h9.4v9.4h-9.4zM476.3 889.3h9.4v9.4h-9.4zM476.8 888.6h9.4v9.4h-9.4zM477.3 889.0h9.4v9.4h-9.4zM477.8 887.9h9.4v9.4h-9.4zM478.3 888.1h9.4v9.4h-9.4zM478.8 888.6h9.4v9.4h-9.4zM479.3 887.7h9.4v9.4h-9.4zM479.8 887.6h9.4v9.4h-9.4zM480.3 887.8h9.4v9.4h-9.4zM480.8 887.4h9.4v9.4h-9.4zM481.3 886.7h9.4v9.4h-9.4zM481.8 887.2h9.4v9.4h-9.4zM482.3 885.9h9.4v9.4h-9.4zM482.8 886.2h9.4v9.4h-9.4zM483.3 886.1h9.4v9.4h-9.4zM483.8 885.4h9.4v9.4h-9.4zM484.3 885.9h9.4v9.4h-9.4zM484.8 885.6h9.4v9.4h-9.4zM485.3 885.3h9.4v9.4h-9.4zM485.8 884.8h9.4v9.4h-9.4zM486.3 885.0h9.4v9.4h-9.4zM486.8 884.3h9.4v9.4h-9.4zM487.3 884.0h9.4v9.4h-9.4zM487.8 883.8h9.4v9.4h-9.4zM488.3 883.6h9.4v9.4h-9.4zM488.8 883.3h9.4v9.4h-9.4zM489.3 882.9h9.4v9.4h-9.4zM489.8 882.5h9.4v9.4h-9.4zM490.3 882.8h9.4v9.4h-9.4zM490.8 882.2h9.4v9.4h-9.4zM491.3 882.3h9.4v9.4h-9.4zM491.8 882.0h9.4v9.4h-9.4zM492.3 881.4h9.4v9.4h-9.4zM492.8 881.7h9.4v9.4h-9.4zM493.3 880.7h9.4v9.4h-9.4zM493.8 881.1h9.4v9.4h-9.4zM494.3 880.7h9.4v9.4h-9.4zM494.8 880.2h9.4v9.4h-9.4zM495.3 880.4h9.4v9.4h-9.4zM495.8 880.2h9.4v9.4h-9.4zM496.3 879.5h9.4v9.4h-9.4zM496.8 879.3h9.4v9.4h-9.4zM497.3 879.1h9.4v9.4h-9.4zM497.8 878.7h9.4v9.4h-9.4zM498.3 878.8h9.4v9.4h-9.4zM498.8 878.6h9.4v9.4h-9.4zM499.3 878.1h9.4v9.4h-9.4zM499.8 877.4h9.4v9.4h-9.4zM500.3 877.4h9.4v9.4h-9.4zM500.8 877.7h9.4v9.4h-9.4zM501.3 876.7h9.4v9.4h-9.4zM501.8 877.1h9.4v9.4h-9.4zM502.3 876.6h9.4v9.4h-9.4zM502.8 876.2h9.4v9.4h-9.4zM503.3 876.1h9.4v9.4h-9.4zM503.8 875.7h9.4v9.4h-9.4zM504.3 875.7h9.4v9.4h-9.4zM504.8 875.0h9.4v9.4h-9.4zM505.3 875.1h9.4v9.4h-9.4zM505.8 875.1h9.4v9.4h-9.4zM506.3 874.6h9.4v9.4h-9.4zM506.8 873.9h9.4v9.4h-9.4zM507.3 873.9h9.4v9.4h-9.4zM507.8 874.0h9.4v9.4h-9.4zM508.3 872.9h9.4v9.4h-9.4zM508.8 873.5h9.4v9.4h-9.4zM509.3 872.9h9.4v9.4h-9.4zM509.8 872.7h9.4v9.4h-9.4zM510.3 872.1h9.4v9.4h-9.4zM510.8 871.8h9.4v9.4h-9.4zM511.3 871.9h9.4v9.4h-9.4zM511.8 871.5h9.4v9.4h-9.4zM512.3 871.5h9.4v9.4h-9.4zM512.8 870.9h9.4v9.4h-9.4zM513.3 870.4h9.4v9.4h-9.4zM513.8 870.2h9.4v9.4h-9.4zM514.3 870.4h9.4v9.4h-9.4zM514.8 869.4h9.4v9.4h-9.4zM515.3 869.0h9.4v9.4h-9.4zM515.8 868.5h9.4v9.4h-9.4zM516.3 869.0h9.4v9.4h-9.4zM516.8 867.8h9.4v9.4h-9.4zM517.3 867.6h9.4v9.4h-9.4zM517.8 867.3h9.4v9.4h-9.4zM518.3 866.7h9.4v9.4h-9.4zM518.8 867.1h9.4v9.4h-9.4zM519.3 866.6h9.4v9.4h-9.4zM519.8 865.8h9.4v9.4h-9.4zM520.3 866.0h9.4v9.4h-9.4zM520.8 865.2h9.4v9.4h-9.4zM521.3 864.5h9.4v9.4h-9.4zM521.8 864.2h9.4v9.4h-9.4zM522.3 864.2h9.4v9.4h-9.4zM522.8 863.9h9.4v9.4h-9.4zM523.3 863.4h9.4v9.4h-9.4zM523.8 863.0h9.4v9.4h-9.4zM524.3 862.5h9.4v9.4h-9.4zM524.8 861.8h9.4v9.4h-9.4zM525.3 861.2h9.4v9.4h-9.4zM525.8 861.6h9.4v9.4h-9.4zM526.3 861.0h9.4v9.4h-9.4zM526.8 860.0h9.4v9.4h-9.4zM527.3 860.3h9.4v9.4h-9.4zM527.8 860.2h9.4v9.4h-9.4zM528.3 859.4h9.4v9.4h-9.4zM528.8 859.1h9.4v9.4h-9.4zM529.3 858.6h9.4v9.4h-9.4zM529.8 858.0h9.4v9.4h-9.4zM530.3 857.8h9.4v9.4h-9.4zM530.8 857.0h9.4v9.4h-9.4zM531.3 856.4h9.4v9.4h-9.4zM531.8 856.7h9.4v9.4h-9.4zM532.3 855.7h9.4v9.4h-9.4zM532.8 855.7h9.4v9.4h-9.4zM533.3 855.1h9.4v9.4h-9.4zM533.8 854.6h9.4v9.4h-9.4zM534.3 854.5h9.4v9.4h-9.4zM534.8 854.2h9.4v9.4h-9.4zM535.3 853.7h9.4v9.4h-9.4zM535.8 853.7h9.4v9.4h-9.4zM536.3 852.4h9.4v9.4h-9.4zM536.8 852.6h9.4v9.4h-9.4zM537.3 852.1h9.4v9.4h-9.4zM537.8 851.9h9.4v9.4h-9.4zM538.3 851.6h9.4v9.4h-9.4zM538.8 851.1h9.4v9.4h-9.4zM539.3 850.8h9.4v9.4h-9.4zM539.8 850.1h9.4v9.4h-9.4zM540.3 850.2h9.4v9.4h-9.4zM540.8 849.6h9.4v9.4h-9.4zM541.3 849.2h9.4v9.4h-9.4zM541.8 849.1h9.4v9.4h-9.4zM542.3 848.5h9.4v9.4h-9.4zM542.8 848.3h9.4v9.4h-9.4zM543.3 848.1h9.4v9.4h-9.4zM543.8 847.8h9.4v9.4h-9.4zM544.3 847.4h9.4v9.4h-9.4zM544.8 847.4h9.4v9.4h-9.4zM545.3 847.4h9.4v9.4h-9.4zM545.8 847.0h9.4v9.4h-9.4zM546.3 846.5h9.4v9.4h-9.4zM546.8 846.3h9.4v9.4h-9.4zM547.3 846.5h9.4v9.4h-9.4zM547.8 846.1h9.4v9.4h-9.4zM548.3 845.1h9.4v9.4h-9.4zM548.8 845.5h9.4v9.4h-9.4zM549.3 845.6h9.4v9.4h-9.4zM549.8 845.4h9.4v9.4h-9.4zM550.3 844.6h9.4v9.4h-9.4zM550.8 844.6h9.4v9.4h-9.4zM551.3 844.8h9.4v9.4h-9.4zM551.8 844.7h9.4v9.4h-9.4zM552.3 844.2h9.4v9.4h-9.4zM552.8 844.4h9.4v9.4h-9.4zM553.3 844.3h9.4v9.4h-9.4zM553.8 844.2h9.4v9.4h-9.4zM554.3 843.8h9.4v9.4h-9.4zM554.8 843.6h9.4v9.4h-9.4zM555.3 843.8h9.4v9.4h-9.4zM555.8 843.6h9.4v9.4h-9.4zM556.3 843.4h9.4v9.4h-9.4zM556.8 843.3h9.4v9.4h-9.4zM557.3 843.0h9.4v9.4h-9.4zM557.8 842.8h9.4v9.4h-9.4zM558.3 842.9h9.4v9.4h-9.4zM558.8 842.8h9.4v9.4h-9.4zM559.3 842.8h9.4v9.4h-9.4zM559.8 842.7h9.4v9.4h-9.4zM560.3 842.6h9.4v9.4h-9.4zM560.8 842.5h9.4v9.4h-9.4zM561.3 842.7h9.4v9.4h-9.4zM561.8 842.5h9.4v9.4h-9.4zM562.3 842.7h9.4v9.4h-9.4zM562.8 842.2h9.4v9.4h-9.4zM563.3 842.2h9.4v9.4h-9.4zM563.8 842.4h9.4v9.4h-9.4zM564.3 842.1h9.4v9.4h-9.4zM564.8 842.1h9.4v9.4h-9.4zM565.3 842.2h9.4v9.4h-9.4zM565.8 842.1h9.4v9.4h-9.4zM566.3 842.2h9.4v9.4h-9.4zM566.8 842.4h9.4v9.4h-9.4zM567.3 842.0h9.4v9.4h-9.4zM567.8 842.1h9.4v9.4h-9.4zM568.3 842.4h9.4v9.4h-9.4zM568.8 842.2h9.4v9.4h-9.4zM569.3 842.4h9.4v9.4h-9.4zM569.8 842.3h9.4v9.4h-9.4zM570.3 842.3h9.4v9.4h-9.4zM570.8 842.1h9.4v9.4h-9.4zM571.3 842.2h9.4v9.4h-9.4zM571.8 842.4h9.4v9.4h-9.4zM572.4 842.2h9.4v9.4h-9.4zM572.9 842.5h9.4v9.4h-9.4zM573.4 842.4h9.4v9.4h-9.4zM573.9 842.4h9.4v9.4h-9.4zM574.4 842.7h9.4v9.4h-9.4zM574.9 842.6h9.4v9.4h-9.4zM575.4 842.2h9.4v9.4h-9.4zM575.9 842.6h9.4v9.4h-9.4zM576.4 842.5h9.4v9.4h-9.4zM576.9 843.1h9.4v9.4h-9.4zM577.4 843.2h9.4v9.4h-9.4zM577.9 842.6h9.4v9.4h-9.4zM578.4 842.4h9.4v9.4h-9.4zM578.9 842.8h9.4v9.4h-9.4zM579.4 842.9h9.4v9.4h-9.4zM579.9 842.7h9.4v9.4h-9.4zM580.4 842.9h9.4v9.4h-9.4zM580.9 842.7h9.4v9.4h-9.4zM581.4 842.8h9.4v9.4h-9.4zM581.9 842.7h9.4v9.4h-9.4zM582.4 842.7h9.4v9.4h-9.4zM582.9 843.0h9.4v9.4h-9.4zM583.4 843.3h9.4v9.4h-9.4zM583.9 843.3h9.4v9.4h-9.4zM584.4 843.3h9.4v9.4h-9.4zM584.9 843.2h9.4v9.4h-9.4zM585.4 842.9h9.4v9.4h-9.4zM585.9 843.2h9.4v9.4h-9.4zM586.4 843.8h9.4v9.4h-9.4zM586.9 843.4h9.4v9.4h-9.4zM587.4 843.3h9.4v9.4h-9.4zM587.9 843.5h9.4v9.4h-9.4zM588.4 843.1h9.4v9.4h-9.4zM588.9 843.5h9.4v9.4h-9.4zM589.4 843.7h9.4v9.4h-9.4zM589.9 843.9h9.4v9.4h-9.4zM590.4 843.8h9.4v9.4h-9.4zM590.9 843.5h9.4v9.4h-9.4zM591.4 843.9h9.4v9.4h-9.4zM591.9 843.4h9.4v9.4h-9.4zM592.4 843.8h9.4v9.4h-9.4zM592.9 843.9h9.4v9.4h-9.4zM593.4 844.2h9.4v9.4h-9.4zM593.9 843.9h9.4v9.4h-9.4zM594.4 844.4h9.4v9.4h-9.4zM594.9 844.6h9.4v9.4h-9.4zM595.4 844.5h9.4v9.4h-9.4zM595.9 844.3h9.4v9.4h-9.4zM596.4 844.6h9.4v9.4h-9.4zM596.9 844.9h9.4v9.4h-9.4zM597.4 844.8h9.4v9.4h-9.4zM597.9 845.2h9.4v9.4h-9.4zM598.4 844.7h9.4v9.4h-9.4zM598.9 845.1h9.4v9.4h-9.4zM599.4 844.7h9.4v9.4h-9.4zM599.9 845.5h9.4v9.4h-9.4zM600.4 846.0h9.4v9.4h-9.4zM600.9 845.8h9.4v9.4h-9.4zM601.4 845.3h9.4v9.4h-9.4zM601.9 845.9h9.4v9.4h-9.4zM602.4 846.0h9.4v9.4h-9.4zM602.9 846.0h9.4v9.4h-9.4zM603.4 846.2h9.4v9.4h-9.4zM603.9 846.7h9.4v9.4h-9.4zM604.4 846.8h9.4v9.4h-9.4zM604.9 847.0h9.4v9.4h-9.4zM605.4 847.1h9.4v9.4h-9.4zM605.9 847.4h9.4v9.4h-9.4zM606.4 847.7h9.4v9.4h-9.4zM606.9 847.5h9.4v9.4h-9.4zM607.4 848.1h9.4v9.4h-9.4zM607.9 847.5h9.4v9.4h-9.4zM608.4 848.0h9.4v9.4h-9.4zM608.9 848.2h9.4v9.4h-9.4zM609.4 848.5h9.4v9.4h-9.4zM609.9 848.5h9.4v9.4h-9.4zM610.4 848.5h9.4v9.4h-9.4zM610.9 849.0h9.4v9.4h-9.4zM611.4 849.4h9.4v9.4h-9.4zM611.9 849.0h9.4v9.4h-9.4zM612.4 849.3h9.4v9.4h-9.4zM612.9 849.8h9.4v9.4h-9.4zM613.4 849.8h9.4v9.4h-9.4zM613.9 850.0h9.4v9.4h-9.4zM614.4 850.3h9.4v9.4h-9.4zM614.9 850.0h9.4v9.4h-9.4zM615.4 850.2h9.4v9.4h-9.4zM615.9 850.1h9.4v9.4h-9.4zM616.4 850.3h9.4v9.4h-9.4zM616.9 851.0h9.4v9.4h-9.4zM617.4 850.6h9.4v9.4h-9.4zM617.9 851.3h9.4v9.4h-9.4zM618.4 851.4h9.4v9.4h-9.4zM618.9 851.3h9.4v9.4h-9.4zM619.4 851.5h9.4v9.4h-9.4zM619.9 851.7h9.4v9.4h-9.4zM620.4 851.7h9.4v9.4h-9.4zM620.9 852.0h9.4v9.4h-9.4zM621.4 852.2h9.4v9.4h-9.4zM621.9 852.3h9.4v9.4h-9.4zM622.4 852.4h9.4v9.4h-9.4zM622.9 852.2h9.4v9.4h-9.4zM623.4 852.9h9.4v9.4h-9.4zM623.9 853.2h9.4v9.4h-9.4zM624.4 853.3h9.4v9.4h-9.4zM624.9 853.1h9.4v9.4h-9.4zM625.4 853.3h9.4v9.4h-9.4zM625.9 853.6h9.4v9.4h-9.4zM626.4 853.8h9.4v9.4h-9.4zM626.9 854.0h9.4v9.4h-9.4zM627.4 854.1h9.4v9.4h-9.4zM627.9 854.7h9.4v9.4h-9.4zM628.4 854.5h9.4v9.4h-9.4zM628.9 855.0h9.4v9.4h-9.4zM629.4 854.8h9.4v9.4h-9.4zM629.9 854.7h9.4v9.4h-9.4zM630.4 855.2h9.4v9.4h-9.4zM630.9 855.0h9.4v9.4h-9.4zM631.4 855.1h9.4v9.4h-9.4zM631.9 855.4h9.4v9.4h-9.4zM632.4 855.8h9.4v9.4h-9.4zM632.9 855.5h9.4v9.4h-9.4zM633.4 855.7h9.4v9.4h-9.4zM633.9 855.9h9.4v9.4h-9.4zM634.4 855.9h9.4v9.4h-9.4zM634.9 856.0h9.4v9.4h-9.4zM635.4 855.9h9.4v9.4h-9.4zM635.9 856.3h9.4v9.4h-9.4zM636.4 856.9h9.4v9.4h-9.4zM636.9 856.2h9.4v9.4h-9.4zM637.4 856.9h9.4v9.4h-9.4zM637.9 857.1h9.4v9.4h-9.4zM638.4 856.7h9.4v9.4h-9.4zM638.9 857.6h9.4v9.4h-9.4zM639.4 857.5h9.4v9.4h-9.4zM639.9 857.9h9.4v9.4h-9.4zM640.4 857.6h9.4v9.4h-9.4zM640.9 858.1h9.4v9.4h-9.4zM641.4 857.7h9.4v9.4h-9.4zM641.9 857.7h9.4v9.4h-9.4zM642.4 858.3h9.4v9.4h-9.4zM642.9 858.3h9.4v9.4h-9.4zM643.4 858.1h9.4v9.4h-9.4zM643.9 858.4h9.4v9.4h-9.4zM644.4 858.9h9.4v9.4h-9.4zM644.9 858.8h9.4v9.4h-9.4z"/>
<path fill="#F14040" d="M179.3 1058.0a5.0 5.0 0 1 0 10.0 0a5.0 5.0 0 1 0 -10.0 0zM204.5 1020.6a5.0 5.0 0 1 0 10.0 0a5.0 5.0 0 1 0 -10.0 0zM219.5 1020.0a5.0 5.0 0 1 0 10.0 0a5.0 5.0 0 1 0 -10.0 0zM229.0 1019.7a5.0 5.0 0 1 0 10.0 0a5.0 5.0 0 1 0 -10.0 0zM238.5 1019.3a5.0 5.0 0 1 0 10.0 0a5.0 5.0 0 1 0 -10.0 0zM245.5 1019.0a5.0 5.0 0 1 0 10.0 0a5.0 5.0 0 1 0 -10.0 0zM251.4 1017.7a5.0 5.0 0 1 0 10.0 0a5.0 5.0 0 1 0 -10.0 0zM256.6 1016.9a5.0 5.0 0 1 0 10.0 0a5.0 5.0 0 1 0 -10.0 0zM261.1 1016.6a5.0 5.0 0 1 0 10.0 0a5.0 5.0 0 1 0 -10.0 0zM265.1 1015.8a5.0 5.0 0 1 0 10.0 0a5.0 5.0 0 1 0 -10.0 0zM268.7 1015.0a5.0 5.0 0 1 0 10.0 0a5.0 5.0 0 1 0 -10.0 0zM272.1 1014.1a5.0 5.0 0 1 0 10.0 0a5.0 5.0 0 1 0 -10.0 0zM275.1 1014.2a5.0 5.0 0 1 0 10.0 0a5.0 5.0 0 1 0 -10.0 0zM278.0 1013.6a5.0 5.0 0 1 0 10.0 0a5.0 5.0 0 1 0 -10.0 0zM280.6 1012.9a5.0 5.0 0 1 0 10.0 0a5.0 5.0 0 1 0 -10.0 0zM283.1 1012.7a5.0 5.0 0 1 0 10.0 0a5.0 5.0 0 1 0 -10.0 0zM285.4 1011.8a5.0 5.0 0 1 0 10.0 0a5.0 5.0 0 1 0 -10.0 0zM287.6 1011.4a5.0 5.0 0 1 0 10.0 0a5.0 5.0 0 1 0 -10.0 0zM289.7 1011.0a5.0 5.0 0 1 0 10.0 0a5.0 5.0 0 1 0 -10.0 0zM291.6 1010.6a5.0 5.0 0 1 0 10.0 0a5.0 5.0 0 1 0 -10.0 0zM293.5 1011.0a5.0 5.0 0 1 0 10.0 0a5.0 5.0 0 1 0 -10.0 0zM295.3 1010.3a5.0 5.0 0 1 0 10.0 0a5.0 5.0 0 1 0 -10.0 0zM297.0 1009.2a5.0 5.0 0 1 0 10.0 0a5.0 5.0 0 1 0 -10.0 0zM298.6 1009.6a5.0 5.0 0 1 0 10.0 0a5.0 5.0 0 1 0 -10.0 0zM300.2 1009.0a5.0 5.0 0 1 0 10.0 0a5.0 5.0 0 1 0 -10.0 0zM301.7 1008.7a5.0 5.0 0 1 0 10.0 0a5.0 5.0 0 1 0 -10.0 0zM303.1 1008.6a5.0 5.0 0 1 0 10.0 0a5.0 5.0 0 1 0 -10.0 0zM304.5 1008.3a5.0 5.0 0 1 0 10.0 0a5.0 5.0 0 1 0 -10.0 0zM305.9 1007.5a5.0 5.0 0 1 0 10.0 0a5.0 5.0 0 1 0 -10.0 0zM307.2 1008.2a5.0 5.0 0 1 0 10.0 0a5.0 5.0 0 1 0 -10.0 0zM308.4 1007.1a5.0 5.0 0 1 0 10.0 0a5.0 5.0 0 1 0 -10.0 0zM309.7 1006.8a5.0 5.0 0 1 0 10.0 0a5.0 5.0 0 1 0 -10.0 0zM310.8 1007.0a5.0 5.0 0 1 0 10.0 0a5.0 5.0 0 1 0 -10.0 0zM312.0 1006.8a5.0 5.0 0 1 0 10.0 0a5.0 5.0 0 1 0 -10.0 0zM313.1 1006.6a5.0 5.0 0 1 0 10.0 0a5.0 5.0 0 1 0 -10.0 0zM314.2 1005.8a5.0 5.0 0 1 0 10.0 0a5.0 5.0 0 1 0 -10.0 0zM315.2 1006.2a5.0 5.0 0 1 0 10.0 0a5.0 5.0 0 1 0 -10.0 0zM316.2 1006.2a5.0 5.0 0 1 0 10.0 0a5.0 5.0 0 1 0 -10.0 0zM317.2 1006.0a5.0 5.0 0 1 0 10.0 0a5.0 5.0 0 1 0 -10.0 0zM318.2 1005.5a5.0 5.0 0 1 0 10.0 0a5.0 5.0 0 1 0 -10.0 0zM319.1 1005.2a5.0 5.0 0 1 0 10.0 0a5.0 5.0 0 1 0 -10.0 0zM320.1 1005.0a5.0 5.0 0 1 0 10.0 0a5.0 5.0 0 1 0 -10.0 0zM321.0 1004.6a5.0 5.0 0 1 0 10.0 0a5.0 5.0 0 1 0 -10.0 0zM321.9 1004.9a5.0 5.0 0 1 0 10.0 0a5.0 5.0 0 1 0 -10.0 0zM322.7 1004.6a5.0 5.0 0 1 0 10.0 0a5.0 5.0 0 1 0 -10.0 0zM323.6 1004.5a5.0 5.0 0 1 0 10.0 0a5.0 5.0 0 1 0 -10.0 0zM324.4 1004.2a5.0 5.0 0 1 0 10.0 0a5.0 5.0 0 1 0 -10.0 0zM325.2 1003.4a5.0 5.0 0 1 0 10.0 0a5.0 5.0 0 1 0 -10.0 0zM326.0 1003.7a5.0 5.0 0 1 0 10.0 0a5.0 5.0 0 1 0 -10.0 0zM326.7 1003.9a5.0 5.0 0 1 0 10.0 0a5.0 5.0 0 1 0 -10.0 0zM327.5 1003.9a5.0 5.0 0 1 0 10.0 0a5.0 5.0 0 1 0 -10.0 0zM328.3 1003.9a5.0 5.0 0 1 0 10.0 0a5.0 5.0 0 1 0 -10.0 0zM329.0 1003.0a5.0 5.0 0 1 0 10.0 0a5.0 5.0 0 1 0 -10.0 0zM329.7 1003.2a5.0 5.0 0 1 0 10.0 0a5.0 5.0 0 1 0 -10.0 0zM330.4 1002.9a5.0 5.0 0 1 0 10.0 0a5.0 5.0 0 1 0 -10.0 0zM331.1 1002.9a5.0 5.0 0 1 0 10.0 0a5.0 5.0 0 1 0 -10.0 0zM331.8 1003.0a5.0 5.0 0 1 0 10.0 0a5.0 5.0 0 1 0 -10.0 0zM332.4 1002.3a5.0 5.0 0 1 0 10.0 0a5.0 5.0 0 1 0 -10.0 0zM333.1 1002.9a5.0 5.0 0 1 0 10.0 0a5.0 5.0 0 1 0 -10.0 0zM333.7 1002.8a5.0 5.0 0 1 0 10.0 0a5.0 5.0 0 1 0 -10.0 0zM352.9 996.3a5.0 5.0 0 1 0 10.0 0a5.0 5.0 0 1 0 -10.0 0zM353.4 996.4a5.0 5.0 0 1 0 10.0 0a5.0 5.0 0 1 0 -10.0 0zM353.9 996.8a5.0 5.0 0 1 0 10.0 0a5.0 5.0 0 1 0 -10.0 0zM354.4 996.6a5.0 5.0 0 1 0 10.0 0a5.0 5.0 0 1 0 -10.0 0zM354.9 995.8a5.0 5.0 0 1 0 10.0 0a5.0 5.0 0 1 0 -10.0 0zM355.4 995.4a5.0 5.0 0 1 0 10.0 0a5.0 5.0 0 1 0 -10.0 0zM355.9 995.3a5.0 5.0 0 1 0 10.0 0a5.0 5.0 0 1 0 -10.0 0zM356.4 995.3a5.0 5.0 0 1 0 10.0 0a5.0 5.0 0 1 0 -10.0 0zM356.9 994.8a5.0 5.0 0 1 0 10.0 0a5.0 5.0 0 1 0 -10.0 0zM357.4 995.2a5.0 5.0 0 1 0 10.0 0a5.0 5.0 0 1 0 -10.0 0zM357.9 994.8a5.0 5.0 0 1 0 10.0 0a5.0 5.0 0 1 0 -10.0 0zM358.4 994.9a5.0 5.0 0 1 0 10.0 0a5.0 5.0 0 1 0 -10.0 0zM358.9 994.8a5.0 5.0 0 1 0 10.0 0a5.0 5.0 0 1 0 -10.0 0zM359.4 994.5a5.0 5.0 0 1 0 10.0 0a5.0 5.0 0 1 0 -10.0 0zM359.9 994.8a5.0 5.0 0 1 0 10.0 0a5.0 5.0 0 1 0 -10.0 0zM360.4 994.4a5.0 5.0 0 1 0 10.0 0a5.0 5.0 0 1 0 -10.0 0zM360.9 994.3a5.0 5.0 0 1 0 10.0 0a5.0 5.0 0 1 0 -10.0 0zM361.4 994.2a5.0 5.0 0 1 0 10.0 0a5.0 5.0 0 1 0 -10.0 0zM361.9 994.3a5.0 5.0 0 1 0 10.0 0a5.0 5.0 0 1 0 -10.0 0zM362.4 993.8a5.0 5.0 0 1 0 10.0 0a5.0 5.0 0 1 0 -10.0 0zM362.9 993.2a5.0 5.0 0 1 0 10.0 0a5.0 5.0 0 1 0 -10.0 0zM363.4 993.1a5.0 5.0 0 1 0 10.0 0a5.0 5.0 0 1 0 -10.0 0zM363.9 993.2a5.0 5.0 0 1 0 10.0 0a5.0 5.0 0 1 0 -10.0 0zM364.4 992.6a5.0 5.0 0 1 0 10.0 0a5.0 5.0 0 1 0 -10.0 0zM364.9 993.0a5.0 5.0 0 1 0 10.0 0a5.0 5.0 0 1 0 -10.0 0zM365.4 992.4a5.0 5.0 0 1 0 10.0 0a5.0 5.0 0 1 0 -10.0 0zM365.9 992.6a5.0 5.0 0 1 0 10.0 0a5.0 5.0 0 1 0 -10.0 0zM366.4 992.4a5.0 5.0 0 1 0 10.0 0a5.0 5.0 0 1 0 -10.0 0zM366.9 991.9a5.0 5.0 0 1 0 10.0 0a5.0 5.0 0 1 0 -10.0 0zM367.4 992.2a5.0 5.0 0 1 0 10.0 0a5.0 5.0 0 1 0 -10.0 0zM367.9 992.2a5.0 5.0 0 1 0 10.0 0a5.0 5.0 0 1 0 -10.0 0zM368.4 992.4a5.0 5.0 0 1 0 10.0 0a5.0 5.0 0 1 0 -10.0 0zM368.9 992.1a5.0 5.0 0 1 0 10.0 0a5.0 5.0 0 1 0 -10.0 0zM369.4 991.5a5.0 5.0 0 1 0 10.0 0a5.0 5.0 0 1 0 -10.0 0zM369.9 991.7a5.0 5.0 0 1 0 10.0 0a5.0 5.0 0 1 0 -10.0 0zM370.4 991.9a5.0 5.0 0 1 0 10.0 0a5.0 5.0 0 1 0 -10.0 0zM370.9 991.2a5.0 5.0 0 1 0 10.0 0a5.0 5.0 0 1 0 -10.0 0zM371.4 990.8a5.0 5.0 0 1 0 10.0 0a5.0 5.0 0 1 0 -10.0 0zM371.9 991.6a5.0 5.0 0 1 0 10.0 0a5.0 5.0 0 1 0 -10.0 0zM372.4 990.8a5.0 5.0 0 1 0 10.0 0a5.0 5.0 0 1 0 -10.0 0zM372.9 990.8a5.0 5.0 0 1 0 10.0 0a5.0 5.0 0 1 0 -10.0 0zM373.4 990.9a5.0 5.0 0 1 0 10.0 0a5.0 5.0 0 1 0 -10.0 0zM373.9 990.3a5.0 5.0 0 1 0 10.0 0a5.0 5.0 0 1 0 -10.0 0zM374.4 990.5a5.0 5.0 0 1 0 10.0 0a5.0 5.0 0 1 0 -10.0 0zM374.9 990.9a5.0 5.0 0 1 0 10.0 0a5.0 5.0 0 1 0 -10.0 0zM375.4 990.4a5.0 5.0 0 1 0 10.0 0a5.0 5.0 0 1 0 -10.0 0zM375.9 990.0a5.0 5.0 0 1 0 10.0 0a5.0 5.0 0 1 0 -10.0 0zM376.4 989.9a5.0 5.0 0 1 0 10.0 0a5.0 5.0 0 1 0 -10.0 0zM376.9 990.4a5.0 5.0 0 1 0 10.0 0a5.0 5.0 0 1 0 -10.0 0zM377.4 990.5a5.0 5.0 0 1 0 10.0 0a5.0 5.0 0 1 0 -10.0 0zM377.9 990.4a5.0 5.0 0 1 0 10.0 0a5.0 5.0 0 1 0 -10.0 0zM378.4 989.2a5.0 5.0 0 1 0 10.0 0a5.0 5.0 0 1 0 -10.0 0zM378.9 989.6a5.0 5.0 0 1 0 10.0 0a5.0 5.0 0 1 0 -10.0 0zM379.4 990.0a5.0 5.0 0 1 0 10.0 0a5.0 5.0 0 1 0 -10.0 0zM379.9 990.1a5.0 5.0 0 1 0 10.0 0a5.0 5.0 0 1 0 -10.0 0zM380.4 989.3a5.0 5.0 0 1 0 10.0 0a5.0 5.0 0 1 0 -10.0 0zM380.9 988.8a5.0 5.0 0 1 0 10.0 0a5.0 5.0 0 1 0 -10.0 0zM381.4 989.9a5.0 5.0 0 1 0 10.0 0a5.0 5.0 0 1 0 -10.0 0zM381.9 989.1a5.0 5.0 0 1 0 10.0 0a5.0 5.0 0 1 0 -10.0 0zM382.4 989.7a5.0 5.0 0 1 0 10.0 0a5.0 5.0 0 1 0 -10.0 0zM382.9 989.3a5.0 5.0 0 1 0 10.0 0a5.0 5.0 0 1 0 -10.0 0zM383.4 988.8a5.0 5.0 0 1 0 10.0 0a5.0 5.0 0 1 0 -10.0 0zM383.9 989.2a5.0 5.0 0 1 0 10.0 0a5.0 5.0 0 1 0 -10.0 0zM384.4 988.6a5.0 5.0 0 1 0 10.0 0a5.0 5.0 0 1 0 -10.0 0zM384.9 988.9a5.0 5.0 0 1 0 10.0 0a5.0 5.0 0 1 0 -10.0 0zM385.4 989.1a5.0 5.0 0 1 0 10.0 0a5.0 5.0 0 1 0 -10.0 0zM385.9 988.4a5.0 5.0 0 1 0 10.0 0a5.0 5.0 0 1 0 -10.0 0zM386.4 989.0a5.0 5.0 0 1 0 10.0 0a5.0 5.0 0 1 0 -10.0 0zM386.9 988.1a5.0 5.0 0 1 0 10.0 0a5.0 5.0 0 1 0 -10.0 0zM387.4 988.2a5.0 5.0 0 1 0 10.0 0a5.0 5.0 0 1 0 -10.0 0zM387.9 988.5a5.0 5.0 0 1 0 10.0 0a5.0 5.0 0 1 0 -10.0 0zM388.4 988.4a5.0 5.0 0 1 0 10.0 0a5.0 5.0 0 1 0 -10.0 0zM388.9 988.3a5.0 5.0 0 1 0 10.0 0a5.0 5.0 0 1 0 -10.0 0zM389.4 988.0a5.0 5.0 0 1 0 10.0 0a5.0 5.0 0 1 0 -10.0 0zM389.9 987.8a5.0 5.0 0 1 0 10.0 0a5.0 5.0 0 1 0 -10.0 0zM390.4 987.7a5.0 5.0 0 1 0 10.0 0a5.0 5.0 0 1 0 -10.0 0zM390.9 988.7a5.0 5.0 0 1 0 10.0 0a5.0 5.0 0 1 0 -10.0 0zM391.4 988.3a5.0 5.0 0 1 0 10.0 0a5.0 5.0 0 1 0 -10.0 0zM391.9 987.8a5.0 5.0 0 1 0 10.0 0a5.0 5.0 0 1 0 -10.0 0zM392.4 987.7a5.0 5.0 0 1 0 10.0 0a5.0 5.0 0 1 0 -10.0 0zM392.9 987.9a5.0 5.0 0 1 0 10.0 0a5.0 5.0 0 1 0 -10.0 0zM393.4 987.3a5.0 5.0 0 1 0 10.0 0a5.0 5.0 0 1 0 -10.0 0zM393.9 987.7a5.0 5.0 0 1 0 10.0 0a5.0 5.0 0 1 0 -10.0 0zM394.4 988.2a5.0 5.0 0 1 0 10.0 0a5.0 5.0 0 1 0 -10.0 0zM394.9 987.3a5.0 5.0 0 1 0 10.0 0a5.0 5.0 0 1 0 -10.0 0zM395.4 987.4a5.0 5.0 0 1 0 10.0 0a5.0 5.0 0 1 0 -10.0 0zM395.9 988.2a5.0 5.0 0 1 0 10.0 0a5.0 5.0 0 1 0 -10.0 0zM396.4 987.8a5.0 5.0 0 1 0 10.0 0a5.0 5.0 0 1 0 -10.0 0zM396.9 988.1a5.0 5.0 0 1 0 10.0 0a5.0 5.0 0 1 0 -10.0 0zM397.4 987.2a5.0 5.0 0 1 0 10.0 0a5.0 5.0 0 1 0 -10.0 0zM397.9 987.3a5.0 5.0 0 1 0 10.0 0a5.0 5.0 0 1 0 -10.0 0zM398.4 986.9a5.0 5.0 0 1 0 10.0 0a5.0 5.0 0 1 0 -10.0 0zM398.9 987.2a5.0 5.0 0 1 0 10.0 0a5.0 5.0 0 1 0 -10.0 0zM399.4 987.5a5.0 5.0 0 1 0 10.0 0a5.0 5.0 0 1 0 -10.0 0zM399.9 986.9a5.0 5.0 0 1 0 10.0 0a5.0 5.0 0 1 0 -10.0 0zM400.4 986.9a5.0 5.0 0 1 0 10.0 0a5.0 5.0 0 1 0 -10.0 0zM400.9 987.1a5.0 5.0 0 1 0 10.0 0a5.0 5.0 0 1 0 -10.0 0zM401.4 987.0a5.0 5.0 0 1 0 10.0 0a5.0 5.0 0 1 0 -10.0 0zM401.9 987.1a5.0 5.0 0 1 0 10.0 0a5.0 5.0 0 1 0 -10.0 0zM402.4 987.0a5.0 5.0 0 1 0 10.0 0a5.0 5.0 0 1 0 -10.0 0zM402.9 986.3a5.0 5.0 0 1 0 10.0 0a5.0 5.0 0 1 0 -10.0 0zM403.4 986.8a5.0 5.0 0 1 0 10.0 0a5.0 5.0 0 1 0 -10.0 0zM403.9 986.9a5.0 5.0 0 1 0 10.0 0a5.0 5.0 0 1 0 -10.0 0zM404.4 986.3a5.0 5.0 0 1 0 10.0 0a5.0 5.0 0 1 0 -10.0 0zM404.9 986.2a5.0 5.0 0 1 0 10.0 0a5.0 5.0 0 1 0 -10.0 0zM405.4 986.6a5.0 5.0 0 1 0 10.0 0a5.0 5.0 0 1 0 -10.0 0zM405.9 986.2a5.0 5.0 0 1 0 10.0 0a5.0 5.0 0 1 0 -10.0 0zM406.4 986.2a5.0 5.0 0 1 0 10.0 0a5.0 5.0 0 1 0 -10.0 0zM406.9 986.5a5.0 5.0 0 1 0 10.0 0a5.0 5.0 0 1 0 -10.0 0zM407.4 986.3a5.0 5.0 0 1 0 10.0 0a5.0 5.0 0 1 0 -10.0 0zM407.9 985.7a5.0 5.0 0 1 0 10.0 0a5.0 5.0 0 1 0 -10.0 0zM408.4 985.4a5.0 5.0 0 1 0 10.0 0a5.0 5.0 0 1 0 -10.0 0zM408.9 985.8a5.0 5.0 0 1 0 10.0 0a5.0 5.0 0 1 0 -10.0 0zM409.4 985.7a5.0 5.0 0 1 0 10.0 0a5.0 5.0 0 1 0 -10.0 0zM409.9 985.5a5.0 5.0 0 1 0 10.0 0a5.0 5.0 0 1 0 -10.0 0zM410.4 985.2a5.0 5.0 0 1 0 10.0 0a5.0 5.0 0 1 0 -10.0 0zM410.9 985.6a5.0 5.0 0 1 0 10.0 0a5.0 5.0 0 1 0 -10.0 0zM411.4 985.5a5.0 5.0 0 1 0 10.0 0a5.0 5.0 0 1 0 -10.0 0zM411.9 985.4a5.0 5.0 0 1 0 10.0 0a5.0 5.0 0 1 0 -10.0 0zM412.4 985.0a5.0 5.0 0 1 0 10.0 0a5.0 5.0 0 1 0 -10.0 0zM412.9 985.0a5.0 5.0 0 1 0 10.0 0a5.0 5.0 0 1 0 -10.0 0zM413.4 984.3a5.0 5.0 0 1 0 10.0 0a5.0 5.0 0 1 0 -10.0 0zM413.9 985.0a5.0 5.0 0 1 0 10.0 0a5.0 5.0 0 1 0 -10.0 0zM414.4 984.8a5.0 5.0 0 1 0 10.0 0a5.0 5.0 0 1 0 -10.0 0zM414.9 984.5a5.0 5.0 0 1 0 10.0 0a5.0 5.0 0 1 0 -10.0 0zM415.4 984.9a5.0 5.0 0 1 0 10.0 0a5.0 5.0 0 1 0 -10.0 0zM415.9 984.8a5.0 5.0 0 1 0 10.0 0a5.0 5.0 0 1 0 -10.0 0zM416.4 984.6a5.0 5.0 0 1 0 10.0 0a5.0 5.0 0 1 0 -10.0 0zM416.9 984.4a5.0 5.0 0 1 0 10.0 0a5.0 5.0 0 1 0 -10.0 0zM417.4 984.5a5.0 5.0 0 1 0 10.0 0a5.0 5.0 0 1 0 -10.0 0zM417.9 984.8a5.0 5.0 0 1 0 10.0 0a5.0 5.0 0 1 0 -10.0 0zM418.4 984.0a5.0 5.0 0 1 0 10.0 0a5.0 5.0 0 1 0 -10.0 0zM418.9 983.8a5.0 5.0 0 1 0 10.0 0a5.0 5.0 0 1 0 -10.0 0zM419.4 984.5a5.0 5.0 0 1 0 10.0 0a5.0 5.0 0 1 0 -10.0 0zM419.9 984.2a5.0 5.0 0 1 0 10.0 0a5.0 5.0 0 1 0 -10.0 0zM420.4 983.3a5.0 5.0 0 1 0 10.0 0a5.0 5.0 0 1 0 -10.0 0zM420.9 983.5a5.0 5.0 0 1 0 10.0 0a5.0 5.0 0 1 0 -10.0 0zM421.4 983.6a5.0 5.0 0 1 0 10.0 0a5.0 5.0 0 1 0 -10.0 0zM421.9 982.9a5.0 5.0 0 1 0 10.0 0a5.0 5.0 0 1 0 -10.0 0zM422.4 982.7a5.0 5.0 0 1 0 10.0 0a5.0 5.0 0 1 0 -10.0 0zM422.9 983.1a5.0 5.0 0 1 0 10.0 0a5.0 5.0 0 1 0 -10.0 0zM423.4 982.9a5.0 5.0 0 1 0 10.0 0a5.0 5.0 0 1 0 -10.0 0zM423.9 982.7a5.0 5.0 0 1 0 10.0 0a5.0 5.0 0 1 0 -10.0 0zM424.4 983.3a5.0 5.0 0 1 0 10.0 0a5.0 5.0 0 1 0 -10.0 0zM424.9 983.0a5.0 5.0 0 1 0 10.0 0a5.0 5.0 0 1 0 -10.0 0zM425.4 982.5a5.0 5.0 0 1 0 10.0 0a5.0 5.0 0 1 0 -10.0 0zM426.0 982.3a5.0 5.0 0 1 0 10.0 0a5.0 5.0 0 1 0 -10.0 0zM426.5 982.2a5.0 5.0 0 1 0 10.0 0a5.0 5.0 0 1 0 -10.0 0zM427.0 982.1a5.0 5.0 0 1 0 10.0 0a5.0 5.0 0 1 0 -10.0 0zM427.5 981.8a5.0 5.0 0 1 0 10.0 0a5.0 5.0 0 1 0 -10.0 0zM428.0 981.8a5.0 5.0 0 1 0 10.0 0a5.0 5.0 0 1 0 -10.0 0zM428.5 982.6a5.0 5.0 0 1 0 10.0 0a5.0 5.0 0 1 0 -10.0 0zM429.0 981.9a5.0 5.0 0 1 0 10.0 0a5.0 5.0 0 1 0 -10.0 0zM429.5 981.8a5.0 5.0 0 1 0 10.0 0a5.0 5.0 0 1 0 -10.0 0zM430.0 981.6a5.0 5.0 0 1 0 10.0 0a5.0 5.0 0 1 0 -10.0 0zM430.5 981.5a5.0 5.0 0 1 0 10.0 0a5.0 5.0 0 1 0 -10.0 0zM431.0 981.2a5.0 5.0 0 1 0 10.0 0a5.0 5.0 0 1 0 -10.0 0zM431.5 981.2a5.0 5.0 0 1 0 10.0 0a5.0 5.0 0 1 0 -10.0 0zM432.0 981.3a5.0 5.0 0 1 0 10.0 0a5.0 5.0 0 1 0 -10.0 0zM432.5 981.3a5.0 5.0 0 1 0 10.0 0a5.0 5.0 0 1 0 -10.0 0zM433.0 981.0a5.0 5.0 0 1 0 10.0 0a5.0 5.0 0 1 0 -10.0 0zM433.5 981.3a5.0 5.0 0 1 0 10.0 0a5.0 5.0 0 1 0 -10.0 0zM434.0 980.3a5.0 5.0 0 1 0 10.0 0a5.0 5.0 0 1 0 -10.0 0zM434.5 980.7a5.0 5.0 0 1 0 10.0 0a5.0 5.0 0 1 0 -10.0 0zM435.0 980.9a5.0 5.0 0 1 0 10.0 0a5.0 5.0 0 1 0 -10.0 0zM435.5 981.1a5.0 5.0 0 1 0 10.0 0a5.0 5.0 0 1 0 -10.0 0zM436.0 980.4a5.0 5.0 0 1 0 10.0 0a5.0 5.0 0 1 0 -10.0 0zM436.5 980.6a5.0 5.0 0 1 0 10.0 0a5.0 5.0 0 1 0 -10.0 0zM437.0 980.1a5.0 5.0 0 1 0 10.0 0a5.0 5.0 0 1 0 -10.0 0zM437.5 980.4a5.0 5.0 0 1 0 10.0 0a5.0 5.0 0 1 0 -10.0 0zM438.0 979.8a5.0 5.0 0 1 0 10.0 0a5.0 5.0 0 1 0 -10.0 0zM438.5 979.7a5.0 5.0 0 1 0 10.0 0a5.0 5.0 0 1 0 -10.0 0zM439.0 980.3a5.0 5.0 0 1 0 10.0 0a5.0 5.0 0 1 0 -10.0 0zM439.5 980.1a5.0 5.0 0 1 0 10.0 0a5.0 5.0 0 1 0 -10.0 0zM440.0 979.4a5.0 5.0 0 1 0 10.0 0a5.0 5.0 0 1 0 -10.0 0zM440.5 979.7a5.0 5.0 0 1 0 10.0 0a5.0 5.0 0 1 0 -10.0 0zM441.0 979.4a5.0 5.0 0 1 0 10.0 0a5.0 5.0 0 1 0 -10.0 0zM441.5 978.8a5.0 5.0 0 1 0 10.0 0a5.0 5.0 0 1 0 -10.0 0zM442.0 979.5a5.0 5.0 0 1 0 10.0 0a5.0 5.0 0 1 0 -10.0 0zM442.5 979.6a5.0 5.0 0 1 0 10.0 0a5.0 5.0 0 1 0 -10.0 0zM443.0 979.0a5.0 5.0 0 1 0 10.0 0a5.0 5.0 0 1 0 -10.0 0zM443.5 979.1a5.0 5.0 0 1 0 10.0 0a5.0 5.0 0 1 0 -10.0 0zM444.0 979.0a5.0 5.0 0 1 0 10.0 0a5.0 5.0 0 1 0 -10.0 0zM444.5 978.6a5.0 5.0 0 1 0 10.0 0a5.0 5.0 0 1 0 -10.0 0zM445.0 978.7a5.0 5.0 0 1 0 10.0 0a5.0 5.0 0 1 0 -10.0 0zM445.5 978.6a5.0 5.0 0 1 0 10.0 0a5.0 5.0 0 1 0 -10.0 0zM446.0 978.7a5.0 5.0 0 1 0 10.0 0a5.0 5.0 0 1 0 -10.0 0zM446.5 977.9a5.0 5.0 0 1 0 10.0 0a5.0 5.0 0 1 0 -10.0 0zM447.0 978.4a5.0 5.0 0 1 0 10.0 0a5.0 5.0 0 1 0 -10.0 0zM447.5 977.9a5.0 5.0 0 1 0 10.0 0a5.0 5.0 0 1 0 -10.0 0zM448.0 977.8a5.0 5.0 0 1 0 10.0 0a5.0 5.0 0 1 0 -10.0 0zM448.5 978.3a5.0 5.0 0 1 0 10.0 0a5.0 5.0 0 1 0 -10.0 0zM449.0 977.5a5.0 5.0 0 1 0 10.0 0a5.0 5.0 0 1 0 -10.0 0zM449.5 978.0a5.0 5.0 0 1 0 10.0 0a5.0 5.0 0 1 0 -10.0 0zM450.0 977.6a5.0 5.0 0 1 0 10.0 0a5.0 5.0 0 1 0 -10.0 0zM450.5 977.4a5.0 5.0 0 1 0 10.0 0a5.0 5.0 0 1 0 -10.0 0zM451.0 977.4a5.0 5.0 0 1 0 10.0 0a5.0 5.0 0 1 0 -10.0 0zM451.5 977.1a5.0 5.0 0 1 0 10.0 0a5.0 5.0 0 1 0 -10.0 0zM452.0 977.9a5.0 5.0 0 1 0 10.0 0a5.0 5.0 0 1 0 -10.0 0zM452.5 977.3a5.0 5.0 0 1 0 10.0 0a5.0 5.0 0 1 0 -10.0 0zM453.0 976.5a5.0 5.0 0 1 0 10.0 0a5.0 5.0 0 1 0 -10.0 0zM453.5 976.6a5.0 5.0 0 1 0 10.0 0a5.0 5.0 0 1 0 -10.0 0zM454.0 976.8a5.0 5.0 0 1 0 10.0 0a5.0 5.0 0 1 0 -10.0 0zM454.5 976.2a5.0 5.0 0 1 0 10.0 0a5.0 5.0 0 1 0 -10.0 0zM455.0 977.0a5.0 5.0 0 1 0 10.0 0a5.0 5.0 0 1 0 -10.0 0zM455.5 976.6a5.0 5.0 0 1 0 10.0 0a5.0 5.0 0 1 0 -10.0 0zM456.0 976.2a5.0 5.0 0 1 0 10.0 0a5.0 5.0 0 1 0 -10.0 0zM456.5 976.2a5.0 5.0 0 1 0 10.0 0a5.0 5.0 0 1 0 -10.0 0zM457.0 976.1a5.0 5.0 0 1 0 10.0 0a5.0 5.0 0 1 0 -10.0 0zM457.5 976.7a5.0 5.0 0 1 0 10.0 0a5.0 5.0 0 1 0 -10.0 0zM458.0 976.2a5.0 5.0 0 1 0 10.0 0a5.0 5.0 0 1 0 -10.0 0zM458.5 976.4a5.0 5.0 0 1 0 10.0 0a5.0 5.0 0 1 0 -10.0 0zM459.0 976.3a5.0 5.0 0 1 0 10.0 0a5.0 5.0 0 1 0 -10.0 0zM459.5 975.9a5.0 5.0 0 1 0 10.0 0a5.0 5.0 0 1 0 -10.0 0zM460.0 975.5a5.0 5.0 0 1 0 10.0 0a5.0 5.0 0 1 0 -10.0 0zM460.5 976.3a5.0 5.0 0 1 0 10.0 0a5.0 5.0 0 1 0 -10.0 0zM461.0 975.8a5.0 5.0 0 1 0 10.0 0a5.0 5.0 0 1 0 -10.0 0zM461.5 975.4a5.0 5.0 0 1 0 10.0 0a5.0 5.0 0 1 0 -10.0 0zM462.0 975.5a5.0 5.0 0 1 0 10.0 0a5.0 5.0 0 1 0 -10.0 0zM462.5 975.6a5.0 5.0 0 1 0 10.0 0a5.0 5.0 0 1 0 -10.0 0zM463.0 975.4a5.0 5.0 0 1 0 10.0 0a5.0 5.0 0 1 0 -10.0 0zM463.5 975.5a5.0 5.0 0 1 0 10.0 0a5.0 5.0 0 1 0 -10.0 0zM464.0 975.2a5.0 5.0 0 1 0 10.0 0a5.0 5.0 0 1 0 -10.0 0zM464.5 975.7a5.0 5.0 0 1 0 10.0 0a5.0 5.0 0 1 0 -10.0 0zM465.0 974.6a5.0 5.0 0 1 0 10.0 0a5.0 5.0 0 1 0 -10.0 0zM465.5 975.0a5.0 5.0 0 1 0 10.0 0a5.0 5.0 0 1 0 -10.0 0zM466.0 975.0a5.0 5.0 0 1 0 10.0 0a5.0 5.0 0 1 0 -10.0 0zM466.5 975.1a5.0 5.0 0 1 0 10.0 0a5.0 5.0 0 1 0 -10.0 0zM467.0 974.4a5.0 5.0 0 1 0 10.0 0a5.0 5.0 0 1 0 -10.0 0zM467.5 975.0a5.0 5.0 0 1 0 10.0 0a5.0 5.0 0 1 0 -10.0 0zM468.0 974.1a5.0 5.0 0 1 0 10.0 0a5.0 5.0 0 1 0 -10.0 0zM468.5 974.9a5.0 5.0 0 1 0 10.0 0a5.0 5.0 0 1 0 -10.0 0zM469.0 974.3a5.0 5.0 0 1 0 10.0 0a5.0 5.0 0 1 0 -10.0 0zM469.5 974.1a5.0 5.0 0 1 0 10.0 0a5.0 5.0 0 1 0 -10.0 0zM470.0 974.0a5.0 5.0 0 1 0 10.0 0a5.0 5.0 0 1 0 -10.0 0zM470.5 974.4a5.0 5.0 0 1 0 10.0 0a5.0 5.0 0 1 0 -10.0 0zM471.0 974.2a5.0 5.0 0 1 0 10.0 0a5.0 5.0 0 1 0 -10.0 0zM471.5 974.2a5.0 5.0 0 1 0 10.0 0a5.0 5.0 0 1 0 -10.0 0zM472.0 973.4a5.0 5.0 0 1 0 10.0 0a5.0 5.0 0 1 0 -10.0 0zM472.5 973.3a5.0 5.0 0 1 0 10.0 0a5.0 5.0 0 1 0 -10.0 0zM473.0 973.7a5.0 5.0 0 1 0 10.0 0a5.0 5.0 0 1 0 -10.0 0zM473.5 973.7a5.0 5.0 0 1 0 10.0 0a5.0 5.0 0 1 0 -10.0 0zM474.0 973.4a5.0 5.0 0 1 0 10.0 0a5.0 5.0 0 1 0 -10.0 0zM474.5 973.6a5.0 5.0 0 1 0 10.0 0a5.0 5.0 0 1 0 -10.0 0zM475.0 973.2a5.0 5.0 0 1 0 10.0 0a5.0 5.0 0 1 0 -10.0 0zM475.5 973.4a5.0 5.0 0 1 0 10.0 0a5.0 5.0 0 1 0 -10.0 0zM476.0 973.1a5.0 5.0 0 1 0 10.0 0a5.0 5.0 0 1 0 -10.0 0zM476.5 972.6a5.0 5.0 0 1 0 10.0 0a5.0 5.0 0 1 0 -10.0 0zM477.0 973.5a5.0 5.0 0 1 0 10.0 0a5.0 5.0 0 1 0 -10.0 0zM477.5 972.6a5.0 5.0 0 1 0 10.0 0a5.0 5.0 0 1 0 -10.0 0zM478.0 972.4a5.0 5.0 0 1 0 10.0 0a5.0 5.0 0 1 0 -10.0 0zM478.5 973.2a5.0 5.0 0 1 0 10.0 0a5.0 5.0 0 1 0 -10.0 0zM479.0 972.6a5.0 5.0 0 1 0 10.0 0a5.0 5.0 0 1 0 -10.0 0zM479.5 972.5a5.0 5.0 0 1 0 10.0 0a5.0 5.0 0 1 0 -10.0 0zM480.0 972.9a5.0 5.0 0 1 0 10.0 0a5.0 5.0 0 1 0 -10.0 0zM480.5 972.0a5.0 5.0 0 1 0 10.0 0a5.0 5.0 0 1 0 -10.0 0zM481.0 972.1a5.0 5.0 0 1 0 10.0 0a5.0 5.0 0 1 0 -10.0 0zM481.5 972.1a5.0 5.0 0 1 0 10.0 0a5.0 5.0 0 1 0 -10.0 0zM482.0 972.0a5.0 5.0 0 1 0 10.0 0a5.0 5.0 0 1 0 -10.0 0zM482.5 971.7a5.0 5.0 0 1 0 10.0 0a5.0 5.0 0 1 0 -10.0 0zM483.0 971.9a5.0 5.0 0 1 0 10.0 0a5.0 5.0 0 1 0 -10.0 0zM483.5 971.1a5.0 5.0 0 1 0 10.0 0a5.0 5.0 0 1 0 -10.0 0zM484.0 971.6a5.0 5.0 0 1 0 10.0 0a5.0 5.0 0 1 0 -10.0 0zM484.5 971.4a5.0 5.0 0 1 0 10.0 0a5.0 5.0 0 1 0 -10.0 0zM485.0 971.0a5.0 5.0 0 1 0 10.0 0a5.0 5.0 0 1 0 -10.0 0zM485.5 970.9a5.0 5.0 0 1 0 10.0 0a5.0 5.0 0 1 0 -10.0 0zM486.0 970.8a5.0 5.0 0 1 0 10.0 0a5.0 5.0 0 1 0 -10.0 0zM486.5 970.7a5.0 5.0 0 1 0 10.0 0a5.0 5.0 0 1 0 -10.0 0zM487.0 970.5a5.0 5.0 0 1 0 10.0 0a5.0 5.0 0 1 0 -10.0 0zM487.5 970.2a5.0 5.0 0 1 0 10.0 0a5.0 5.0 0 1 0 -10.0 0zM488.0 970.5a5.0 5.0 0 1 0 10.0 0a5.0 5.0 0 1 0 -10.0 0zM488.5 970.5a5.0 5.0 0 1 0 10.0 0a5.0 5.0 0 1 0 -10.0 0zM489.0 970.2a5.0 5.0 0 1 0 10.0 0a5.0 5.0 0 1 0 -10.0 0zM489.5 970.2a5.0 5.0 0 1 0 10.0 0a5.0 5.0 0 1 0 -10.0 0zM490.0 970.3a5.0 5.0 0 1 0 10.0 0a5.0 5.0 0 1 0 -10.0 0zM490.5 969.9a5.0 5.0 0 1 0 10.0 0a5.0 5.0 0 1 0 -10.0 0zM491.0 969.5a5.0 5.0 0 1 0 10.0 0a5.0 5.0 0 1 0 -10.0 0zM491.5 969.3a5.0 5.0 0 1 0 10.0 0a5.0 5.0 0 1 0 -10.0 0zM492.0 969.4a5.0 5.0 0 1 0 10.0 0a5.0 5.0 0 1 0 -10.0 0zM492.5 970.0a5.0 5.0 0 1 0 10.0 0a5.0 5.0 0 1 0 -10.0 0zM493.0 969.7a5.0 5.0 0 1 0 10.0 0a5.0 5.0 0 1 0 -10.0 0zM493.5 968.5a5.0 5.0 0 1 0 10.0 0a5.0 5.0 0 1 0 -10.0 0zM494.0 969.0a5.0 5.0 0 1 0 10.0 0a5.0 5.0 0 1 0 -10.0 0zM494.5 968.6a5.0 5.0 0 1 0 10.0 0a5.0 5.0 0 1 0 -10.0 0zM495.0 968.7a5.0 5.0 0 1 0 10.0 0a5.0 5.0 0 1 0 -10.0 0zM495.5 968.4a5.0 5.0 0 1 0 10.0 0a5.0 5.0 0 1 0 -10.0 0zM496.0 968.1a5.0 5.0 0 1 0 10.0 0a5.0 5.0 0 1 0 -10.0 0zM496.5 967.9a5.0 5.0 0 1 0 10.0 0a5.0 5.0 0 1 0 -10.0 0zM497.0 967.6a5.0 5.0 0 1 0 10.0 0a5.0 5.0 0 1 0 -10.0 0zM497.5 968.4a5.0 5.0 0 1 0 10.0 0a5.0 5.0 0 1 0 -10.0 0zM498.0 968.0a5.0 5.0 0 1 0 10.0 0a5.0 5.0 0 1 0 -10.0 0zM498.5 967.2a5.0 5.0 0 1 0 10.0 0a5.0 5.0 0 1 0 -10.0 0zM499.0 967.5a5.0 5.0 0 1 0 10.0 0a5.0 5.0 0 1 0 -10.0 0zM499.5 967.1a5.0 5.0 0 1 0 10.0 0a5.0 5.0 0 1 0 -10.0 0zM500.0 966.8a5.0 5.0 0 1 0 10.0 0a5.0 5.0 0 1 0 -10.0 0zM500.5 966.9a5.0 5.0 0 1 0 10.0 0a5.0 5.0 0 1 0 -10.0 0zM501.0 967.3a5.0 5.0 0 1 0 10.0 0a5.0 5.0 0 1 0 -10.0 0zM501.5 966.1a5.0 5.0 0 1 0 10.0 0a5.0 5.0 0 1 0 -10.0 0zM502.0 966.3a5.0 5.0 0 1 0 10.0 0a5.0 5.0 0 1 0 -10.0 0zM502.5 965.9a5.0 5.0 0 1 0 10.0 0a5.0 5.0 0 1 0 -10.0 0zM503.0 965.5a5.0 5.0 0 1 0 10.0 0a5.0 5.0 0 1 0 -10.0 0zM503.5 965.9a5.0 5.0 0 1 0 10.0 0a5.0 5.0 0 1 0 -10.0 0zM504.0 965.3a5.0 5.0 0 1 0 10.0 0a5.0 5.0 0 1 0 -10.0 0zM504.5 965.7a5.0 5.0 0 1 0 10.0 0a5.0 5.0 0 1 0 -10.0 0zM505.0 965.5a5.0 5.0 0 1 0 10.0 0a5.0 5.0 0 1 0 -10.0 0zM505.5 964.8a5.0 5.0 0 1 0 10.0 0a5.0 5.0 0 1 0 -10.0 0zM506.0 964.6a5.0 5.0 0 1 0 10.0 0a5.0 5.0 0 1 0 -10.0 0zM506.5 964.2a5.0 5.0 0 1 0 10.0 0a5.0 5.0 0 1 0 -10.0 0zM507.0 964.2a5.0 5.0 0 1 0 10.0 0a5.0 5.0 0 1 0 -10.0 0zM507.5 964.1a5.0 5.0 0 1 0 10.0 0a5.0 5.0 0 1 0 -10.0 0zM508.0 963.8a5.0 5.0 0 1 0 10.0 0a5.0 5.0 0 1 0 -10.0 0zM508.5 963.8a5.0 5.0 0 1 0 10.0 0a5.0 5.0 0 1 0 -10.0 0zM509.0 963.6a5.0 5.0 0 1 0 10.0 0a5.0 5.0 0 1 0 -10.0 0zM509.5 963.5a5.0 5.0 0 1 0 10.0 0a5.0 5.0 0 1 0 -10.0 0zM510.0 962.5a5.0 5.0 0 1 0 10.0 0a5.0 5.0 0 1 0 -10.0 0zM510.5 962.9a5.0 5.0 0 1 0 10.0 0a5.0 5.0 0 1 0 -10.0 0zM511.0 962.7a5.0 5.0 0 1 0 10.0 0a5.0 5.0 0 1 0 -10.0 0zM511.5 962.6a5.0 5.0 0 1 0 10.0 0a5.0 5.0 0 1 0 -10.0 0zM512.0 962.4a5.0 5.0 0 1 0 10.0 0a5.0 5.0 0 1 0 -10.0 0zM512.5 962.0a5.0 5.0 0 1 0 10.0 0a5.0 5.0 0 1 0 -10.0 0zM513.0 962.0a5.0 5.0 0 1 0 10.0 0a5.0 5.0 0 1 0 -10.0 0zM513.5 961.5a5.0 5.0 0 1 0 10.0 0a5.0 5.0 0 1 0 -10.0 0zM514.0 961.3a5.0 5.0 0 1 0 10.0 0a5.0 5.0 0 1 0 -10.0 0zM514.5 961.6a5.0 5.0 0 1 0 10.0 0a5.0 5.0 0 1 0 -10.0 0zM515.0 960.6a5.0 5.0 0 1 0 10.0 0a5.0 5.0 0 1 0 -10.0 0zM515.5 960.9a5.0 5.0 0 1 0 10.0 0a5.0 5.0 0 1 0 -10.0 0zM516.0 960.4a5.0 5.0 0 1 0 10.0 0a5.0 5.0 0 1 0 -10.0 0zM516.5 960.2a5.0 5.0 0 1 0 10.0 0a5.0 5.0 0 1 0 -10.0 0zM517.0 960.3a5.0 5.0 0 1 0 10.0 0a5.0 5.0 0 1 0 -10.0 0zM517.5 959.9a5.0 5.0 0 1 0 10.0 0a5.0 5.0 0 1 0 -10.0 0zM518.0 960.1a5.0 5.0 0 1 0 10.0 0a5.0 5.0 0 1 0 -10.0 0zM518.5 959.7a5.0 5.0 0 1 0 10.0 0a5.0 5.0 0 1 0 -10.0 0zM519.0 958.7a5.0 5.0 0 1 0 10.0 0a5.0 5.0 0 1 0 -10.0 0zM519.5 959.1a5.0 5.0 0 1 0 10.0 0a5.0 5.0 0 1 0 -10.0 0zM520.0 958.7a5.0 5.0 0 1 0 10.0 0a5.0 5.0 0 1 0 -10.0 0zM520.5 957.7a5.0 5.0 0 1 0 10.0 0a5.0 5.0 0 1 0 -10.0 0zM521.0 957.6a5.0 5.0 0 1 0 10.0 0a5.0 5.0 0 1 0 -10.0 0zM521.5 957.6a5.0 5.0 0 1 0 10.0 0a5.0 5.0 0 1 0 -10.0 0zM522.0 956.9a5.0 5.0 0 1 0 10.0 0a5.0 5.0 0 1 0 -10.0 0zM522.5 957.4a5.0 5.0 0 1 0 10.0 0a5.0 5.0 0 1 0 -10.0 0zM523.0 956.4a5.0 5.0 0 1 0 10.0 0a5.0 5.0 0 1 0 -10.0 0zM523.5 956.4a5.0 5.0 0 1 0 10.0 0a5.0 5.0 0 1 0 -10.0 0zM524.0 955.9a5.0 5.0 0 1 0 10.0 0a5.0 5.0 0 1 0 -10.0 0zM524.5 955.2a5.0 5.0 0 1 0 10.0 0a5.0 5.0 0 1 0 -10.0 0zM525.0 955.7a5.0 5.0 0 1 0 10.0 0a5.0 5.0 0 1 0 -10.0 0zM525.5 954.3a5.0 5.0 0 1 0 10.0 0a5.0 5.0 0 1 0 -10.0 0zM526.0 954.2a5.0 5.0 0 1 0 10.0 0a5.0 5.0 0 1 0 -10.0 0zM526.5 954.2a5.0 5.0 0 1 0 10.0 0a5.0 5.0 0 1 0 -10.0 0zM527.0 954.1a5.0 5.0 0 1 0 10.0 0a5.0 5.0 0 1 0 -10.0 0zM527.5 953.8a5.0 5.0 0 1 0 10.0 0a5.0 5.0 0 1 0 -10.0 0zM528.0 953.2a5.0 5.0 0 1 0 10.0 0a5.0 5.0 0 1 0 -10.0 0zM528.5 953.4a5.0 5.0 0 1 0 10.0 0a5.0 5.0 0 1 0 -10.0 0zM529.0 953.1a5.0 5.0 0 1 0 10.0 0a5.0 5.0 0 1 0 -10.0 0zM529.5 953.3a5.0 5.0 0 1 0 10.0 0a5.0 5.0 0 1 0 -10.0 0zM530.0 952.9a5.0 5.0 0 1 0 10.0 0a5.0 5.0 0 1 0 -10.0 0zM530.5 952.2a5.0 5.0 0 1 0 10.0 0a5.0 5.0 0 1 0 -10.0 0zM531.0 952.4a5.0 5.0 0 1 0 10.0 0a5.0 5.0 0 1 0 -10.0 0zM531.5 951.4a5.0 5.0 0 1 0 10.0 0a5.0 5.0 0 1 0 -10.0 0zM532.0 951.8a5.0 5.0 0 1 0 10.0 0a5.0 5.0 0 1 0 -10.0 0zM532.5 951.0a5.0 5.0 0 1 0 10.0 0a5.0 5.0 0 1 0 -10.0 0zM533.0 951.1a5.0 5.0 0 1 0 10.0 0a5.0 5.0 0 1 0 -10.0 0zM533.5 950.4a5.0 5.0 0 1 0 10.0 0a5.0 5.0 0 1 0 -10.0 0zM534.0 949.9a5.0 5.0 0 1 0 10.0 0a5.0 5.0 0 1 0 -10.0 0zM534.5 949.8a5.0 5.0 0 1 0 10.0 0a5.0 5.0 0 1 0 -10.0 0zM535.0 949.7a5.0 5.0 0 1 0 10.0 0a5.0 5.0 0 1 0 -10.0 0zM535.5 949.2a5.0 5.0 0 1 0 10.0 0a5.0 5.0 0 1 0 -10.0 0zM536.0 949.0a5.0 5.0 0 1 0 10.0 0a5.0 5.0 0 1 0 -10.0 0zM536.5 949.0a5.0 5.0 0 1 0 10.0 0a5.0 5.0 0 1 0 -10.0 0zM537.0 948.6a5.0 5.0 0 1 0 10.0 0a5.0 5.0 0 1 0 -10.0 0zM537.5 948.8a5.0 5.0 0 1 0 10.0 0a5.0 5.0 0 1 0 -10.0 0zM538.0 948.3a5.0 5.0 0 1 0 10.0 0a5.0 5.0 0 1 0 -10.0 0zM538.5 948.2a5.0 5.0 0 1 0 10.0 0a5.0 5.0 0 1 0 -10.0 0zM539.0 947.7a5.0 5.0 0 1 0 10.0 0a5.0 5.0 0 1 0 -10.0 0zM539.5 947.9a5.0 5.0 0 1 0 10.0 0a5.0 5.0 0 1 0 -10.0 0zM540.0 947.3a5.0 5.0 0 1 0 10.0 0a5.0 5.0 0 1 0 -10.0 0zM540.5 947.6a5.0 5.0 0 1 0 10.0 0a5.0 5.0 0 1 0 -10.0 0zM541.0 946.8a5.0 5.0 0 1 0 10.0 0a5.0 5.0 0 1 0 -10.0 0zM541.5 947.3a5.0 5.0 0 1 0 10.0 0a5.0 5.0 0 1 0 -10.0 0zM542.0 946.9a5.0 5.0 0 1 0 10.0 0a5.0 5.0 0 1 0 -10.0 0zM542.5 946.7a5.0 5.0 0 1 0 10.0 0a5.0 5.0 0 1 0 -10.0 0zM543.0 946.6a5.0 5.0 0 1 0 10.0 0a5.0 5.0 0 1 0 -10.0 0zM543.5 945.5a5.0 5.0 0 1 0 10.0 0a5.0 5.0 0 1 0 -10.0 0zM544.0 946.3a5.0 5.0 0 1 0 10.0 0a5.0 5.0 0 1 0 -10.0 0zM544.5 945.8a5.0 5.0 0 1 0 10.0 0a5.0 5.0 0 1 0 -10.0 0zM545.0 945.9a5.0 5.0 0 1 0 10.0 0a5.0 5.0 0 1 0 -10.0 0zM545.5 945.4a5.0 5.0 0 1 0 10.0 0a5.0 5.0 0 1 0 -10.0 0zM546.0 944.9a5.0 5.0 0 1 0 10.0 0a5.0 5.0 0 1 0 -10.0 0zM546.5 944.6a5.0 5.0 0 1 0 10.0 0a5.0 5.0 0 1 0 -10.0 0zM547.0 944.8a5.0 5.0 0 1 0 10.0 0a5.0 5.0 0 1 0 -10.0 0zM547.5 944.9a5.0 5.0 0 1 0 10.0 0a5.0 5.0 0 1 0 -10.0 0zM548.0 944.0a5.0 5.0 0 1 0 10.0 0a5.0 5.0 0 1 0 -10.0 0zM548.5 944.7a5.0 5.0 0 1 0 10.0 0a5.0 5.0 0 1 0 -10.0 0zM549.0 944.3a5.0 5.0 0 1 0 10.0 0a5.0 5.0 0 1 0 -10.0 0zM549.5 944.5a5.0 5.0 0 1 0 10.0 0a5.0 5.0 0 1 0 -10.0 0zM550.0 944.5a5.0 5.0 0 1 0 10.0 0a5.0 5.0 0 1 0 -10.0 0zM550.5 944.2a5.0 5.0 0 1 0 10.0 0a5.0 5.0 0 1 0 -10.0 0zM551.0 943.7a5.0 5.0 0 1 0 10.0 0a5.0 5.0 0 1 0 -10.0 0zM551.5 943.9a5.0 5.0 0 1 0 10.0 0a5.0 5.0 0 1 0 -10.0 0zM552.0 944.2a5.0 5.0 0 1 0 10.0 0a5.0 5.0 0 1 0 -10.0 0zM552.5 944.0a5.0 5.0 0 1 0 10.0 0a5.0 5.0 0 1 0 -10.0 0zM553.0 944.3a5.0 5.0 0 1 0 10.0 0a5.0 5.0 0 1 0 -10.0 0zM553.5 943.7a5.0 5.0 0 1 0 10.0 0a5.0 5.0 0 1 0 -10.0 0zM554.0 943.6a5.0 5.0 0 1 0 10.0 0a5.0 5.0 0 1 0 -10.0 0zM554.5 943.2a5.0 5.0 0 1 0 10.0 0a5.0 5.0 0 1 0 -10.0 0zM555.0 944.2a5.0 5.0 0 1 0 10.0 0a5.0 5.0 0 1 0 -10.0 0zM555.5 944.0a5.0 5.0 0 1 0 10.0 0a5.0 5.0 0 1 0 -10.0 0zM556.0 943.7a5.0 5.0 0 1 0 10.0 0a5.0 5.0 0 1 0 -10.0 0zM556.5 943.7a5.0 5.0 0 1 0 10.0 0a5.0 5.0 0 1 0 -10.0 0zM557.0 943.6a5.0 5.0 0 1 0 10.0 0a5.0 5.0 0 1 0 -10.0 0zM557.5 943.6a5.0 5.0 0 1 0 10.0 0a5.0 5.0 0 1 0 -10.0 0zM558.0 943.8a5.0 5.0 0 1 0 10.0 0a5.0 5.0 0 1 0 -10.0 0zM558.5 944.3a5.0 5.0 0 1 0 10.0 0a5.0 5.0 0 1 0 -10.0 0zM559.0 943.8a5.0 5.0 0 1 0 10.0 0a5.0 5.0 0 1 0 -10.0 0zM559.5 943.7a5.0 5.0 0 1 0 10.0 0a5.0 5.0 0 1 0 -10.0 0zM560.0 944.3a5.0 5.0 0 1 0 10.0 0a5.0 5.0 0 1 0 -10.0 0zM560.5 943.7a5.0 5.0 0 1 0 10.0 0a5.0 5.0 0 1 0 -10.0 0zM561.0 943.0a5.0 5.0 0 1 0 10.0 0a5.0 5.0 0 1 0 -10.0 0zM561.5 943.5a5.0 5.0 0 1 0 10.0 0a5.0 5.0 0 1 0 -10.0 0zM562.0 943.8a5.0 5.0 0 1 0 10.0 0a5.0 5.0 0 1 0 -10.0 0zM562.5 943.1a5.0 5.0 0 1 0 10.0 0a5.0 5.0 0 1 0 -10.0 0zM563.0 943.6a5.0 5.0 0 1 0 10.0 0a5.0 5.0 0 1 0 -10.0 0zM563.5 943.8a5.0 5.0 0 1 0 10.0 0a5.0 5.0 0 1 0 -10.0 0zM564.0 943.6a5.0 5.0 0 1 0 10.0 0a5.0 5.0 0 1 0 -10.0 0zM564.5 942.9a5.0 5.0 0 1 0 10.0 0a5.0 5.0 0 1 0 -10.0 0zM565.0 943.2a5.0 5.0 0 1 0 10.0 0a5.0 5.0 0 1 0 -10.0 0zM565.5 943.6a5.0 5.0 0 1 0 10.0 0a5.0 5.0 0 1 0 -10.0 0zM566.0 943.4a5.0 5.0 0 1 0 10.0 0a5.0 5.0 0 1 0 -10.0 0zM566.5 943.7a5.0 5.0 0 1 0 10.0 0a5.0 5.0 0 1 0 -10.0 0zM567.0 943.6a5.0 5.0 0 1 0 10.0 0a5.0 5.0 0 1 0 -10.0 0zM567.5 943.6a5.0 5.0 0 1 0 10.0 0a5.0 5.0 0 1 0 -10.0 0zM568.0 943.3a5.0 5.0 0 1 0 10.0 0a5.0 5.0 0 1 0 -10.0 0zM568.5 943.1a5.0 5.0 0 1 0 10.0 0a5.0 5.0 0 1 0 -10.0 0zM569.0 943.9a5.0 5.0 0 1 0 10.0 0a5.0 5.0 0 1 0 -10.0 0zM569.5 943.4a5.0 5.0 0 1 0 10.0 0a5.0 5.0 0 1 0 -10.0 0zM570.0 943.5a5.0 5.0 0 1 0 10.0 0a5.0 5.0 0 1 0 -10.0 0zM570.5 943.4a5.0 5.0 0 1 0 10.0 0a5.0 5.0 0 1 0 -10.0 0zM571.0 943.9a5.0 5.0 0 1 0 10.0 0a5.0 5.0 0 1 0 -10.0 0zM571.5 943.4a5.0 5.0 0 1 0 10.0 0a5.0 5.0 0 1 0 -10.0 0zM572.1 944.2a5.0 5.0 0 1 0 10.0 0a5.0 5.0 0 1 0 -10.0 0zM572.6 943.6a5.0 5.0 0 1 0 10.0 0a5.0 5.0 0 1 0 -10.0 0zM573.1 944.0a5.0 5.0 0 1 0 10.0 0a5.0 5.0 0 1 0 -10.0 0zM573.6 943.9a5.0 5.0 0 1 0 10.0 0a5.0 5.0 0 1 0 -10.0 0zM574.1 943.7a5.0 5.0 0 1 0 10.0 0a5.0 5.0 0 1 0 -10.0 0zM574.6 943.3a5.0 5.0 0 1 0 10.0 0a5.0 5.0 0 1 0 -10.0 0zM575.1 944.1a5.0 5.0 0 1 0 10.0 0a5.0 5.0 0 1 0 -10.0 0zM575.6 943.8a5.0 5.0 0 1 0 10.0 0a5.0 5.0 0 1 0 -10.0 0zM576.1 944.3a5.0 5.0 0 1 0 10.0 0a5.0 5.0 0 1 0 -10.0 0zM576.6 944.1a5.0 5.0 0 1 0 10.0 0a5.0 5.0 0 1 0 -10.0 0zM577.1 943.5a5.0 5.0 0 1 0 10.0 0a5.0 5.0 0 1 0 -10.0 0zM577.6 944.0a5.0 5.0 0 1 0 10.0 0a5.0 5.0 0 1 0 -10.0 0zM578.1 944.3a5.0 5.0 0 1 0 10.0 0a5.0 5.0 0 1 0 -10.0 0zM578.6 943.9a5.0 5.0 0 1 0 10.0 0a5.0 5.0 0 1 0 -10.0 0zM579.1 944.0a5.0 5.0 0 1 0 10.0 0a5.0 5.0 0 1 0 -10.0 0zM579.6 944.2a5.0 5.0 0 1 0 10.0 0a5.0 5.0 0 1 0 -10.0 0zM580.1 944.4a5.0 5.0 0 1 0 10.0 0a5.0 5.0 0 1 0 -10.0 0zM580.6 944.1a5.0 5.0 0 1 0 10.0 0a5.0 5.0 0 1 0 -10.0 0zM581.1 944.2a5.0 5.0 0 1 0 10.0 0a5.0 5.0 0 1 0 -10.0 0zM581.6 944.2a5.0 5.0 0 1 0 10.0 0a5.0 5.0 0 1 0 -10.0 0zM582.1 944.1a5.0 5.0 0 1 0 10.0 0a5.0 5.0 0 1 0 -10.0 0zM582.6 944.4a5.0 5.0 0 1 0 10.0 0a5.0 5.0 0 1 0 -10.0 0zM583.1 944.4a5.0 5.0 0 1 0 10.0 0a5.0 5.0 0 1 0 -10.0 0zM583.6 944.3a5.0 5.0 0 1 0 10.0 0a5.0 5.0 0 1 0 -10.0 0zM584.1 944.4a5.0 5.0 0 1 0 10.0 0a5.0 5.0 0 1 0 -10.0 0zM584.6 944.8a5.0 5.0 0 1 0 10.0 0a5.0 5.0 0 1 0 -10.0 0zM585.1 944.5a5.0 5.0 0 1 0 10.0 0a5.0 5.0 0 1 0 -10.0 0zM585.6 944.7a5.0 5.0 0 1 0 10.0 0a5.0 5.0 0 1 0 -10.0 0zM586.1 944.7a5.0 5.0 0 1 0 10.0 0a5.0 5.0 0 1 0 -10.0 0zM586.6 944.5a5.0 5.0 0 1 0 10.0 0a5.0 5.0 0 1 0 -10.0 0zM587.1 945.0a5.0 5.0 0 1 0 10.0 0a5.0 5.0 0 1 0 -10.0 0zM587.6 945.0a5.0 5.0 0 1 0 10.0 0a5.0 5.0 0 1 0 -10.0 0zM588.1 944.6a5.0 5.0 0 1 0 10.0 0a5.0 5.0 0 1 0 -10.0 0zM588.6 944.3a5.0 5.0 0 1 0 10.0 0a5.0 5.0 0 1 0 -10.0 0zM589.1 945.3a5.0 5.0 0 1 0 10.0 0a5.0 5.0 0 1 0 -10.0 0zM589.6 944.6a5.0 5.0 0 1 0 10.0 0a5.0 5.0 0 1 0 -10.0 0zM590.1 944.8a5.0 5.0 0 1 0 10.0 0a5.0 5.0 0 1 0 -10.0 0zM590.6 944.6a5.0 5.0 0 1 0 10.0 0a5.0 5.0 0 1 0 -10.0 0zM591.1 945.4a5.0 5.0 0 1 0 10.0 0a5.0 5.0 0 1 0 -10.0 0zM591.6 945.5a5.0 5.0 0 1 0 10.0 0a5.0 5.0 0 1 0 -10.0 0zM592.1 945.2a5.0 5.0 0 1 0 10.0 0a5.0 5.0 0 1 0 -10.0 0zM592.6 945.9a5.0 5.0 0 1 0 10.0 0a5.0 5.0 0 1 0 -10.0 0zM593.1 945.6a5.0 5.0 0 1 0 10.0 0a5.0 5.0 0 1 0 -10.0 0zM593.6 945.9a5.0 5.0 0 1 0 10.0 0a5.0 5.0 0 1 0 -10.0 0zM594.1 945.7a5.0 5.0 0 1 0 10.0 0a5.0 5.0 0 1 0 -10.0 0zM594.6 945.7a5.0 5.0 0 1 0 10.0 0a5.0 5.0 0 1 0 -10.0 0zM595.1 945.2a5.0 5.0 0 1 0 10.0 0a5.0 5.0 0 1 0 -10.0 0zM595.6 945.7a5.0 5.0 0 1 0 10.0 0a5.0 5.0 0 1 0 -10.0 0zM596.1 945.6a5.0 5.0 0 1 0 10.0 0a5.0 5.0 0 1 0 -10.0 0zM596.6 945.8a5.0 5.0 0 1 0 10.0 0a5.0 5.0 0 1 0 -10.0 0zM597.1 945.4a5.0 5.0 0 1 0 10.0 0a5.0 5.0 0 1 0 -10.0 0zM597.6 945.7a5.0 5.0 0 1 0 10.0 0a5.0 5.0 0 1 0 -10.0 0zM598.1 945.7a5.0 5.0 0 1 0 10.0 0a5.0 5.0 0 1 0 -10.0 0zM598.6 945.8a5.0 5.0 0 1 0 10.0 0a5.0 5.0 0 1 0 -10.0 0zM599.1 946.2a5.0 5.0 0 1 0 10.0 0a5.0 5.0 0 1 0 -10.0 0zM599.6 945.9a5.0 5.0 0 1 0 10.0 0a5.0 5.0 0 1 0 -10.0 0zM600.1 945.9a5.0 5.0 0 1 0 10.0 0a5.0 5.0 0 1 0 -10.0 0zM600.6 946.5a5.0 5.0 0 1 0 10.0 0a5.0 5.0 0 1 0 -10.0 0zM601.1 945.6a5.0 5.0 0 1 0 10.0 0a5.0 5.0 0 1 0 -10.0 0zM601.6 946.5a5.0 5.0 0 1 0 10.0 0a5.0 5.0 0 1 0 -10.0 0zM602.1 945.7a5.0 5.0 0 1 0 10.0 0a5.0 5.0 0 1 0 -10.0 0zM602.6 946.7a5.0 5.0 0 1 0 10.0 0a5.0 5.0 0 1 0 -10.0 0zM603.1 946.6a5.0 5.0 0 1 0 10.0 0a5.0 5.0 0 1 0 -10.0 0zM603.6 946.3a5.0 5.0 0 1 0 10.0 0a5.0 5.0 0 1 0 -10.0 0zM604.1 946.5a5.0 5.0 0 1 0 10.0 0a5.0 5.0 0 1 0 -10.0 0zM604.6 946.1a5.0 5.0 0 1 0 10.0 0a5.0 5.0 0 1 0 -10.0 0zM605.1 946.9a5.0 5.0 0 1 0 10.0 0a5.0 5.0 0 1 0 -10.0 0zM605.6 946.8a5.0 5.0 0 1 0 10.0 0a5.0 5.0 0 1 0 -10.0 0zM606.1 946.5a5.0 5.0 0 1 0 10.0 0a5.0 5.0 0 1 0 -10.0 0zM606.6 946.5a5.0 5.0 0 1 0 10.0 0a5.0 5.0 0 1 0 -10.0 0zM607.1 947.2a5.0 5.0 0 1 0 10.0 0a5.0 5.0 0 1 0 -10.0 0zM607.6 946.6a5.0 5.0 0 1 0 10.0 0a5.0 5.0 0 1 0 -10.0 0zM608.1 947.2a5.0 5.0 0 1 0 10.0 0a5.0 5.0 0 1 0 -10.0 0zM608.6 947.0a5.0 5.0 0 1 0 10.0 0a5.0 5.0 0 1 0 -10.0 0zM609.1 947.5a5.0 5.0 0 1 0 10.0 0a5.0 5.0 0 1 0 -10.0 0zM609.6 947.0a5.0 5.0 0 1 0 10.0 0a5.0 5.0 0 1 0 -10.0 0zM610.1 947.5a5.0 5.0 0 1 0 10.0 0a5.0 5.0 0 1 0 -10.0 0zM610.6 947.4a5.0 5.0 0 1 0 10.0 0a5.0 5.0 0 1 0 -10.0 0zM611.1 947.2a5.0 5.0 0 1 0 10.0 0a5.0 5.0 0 1 0 -10.0 0zM611.6 947.8a5.0 5.0 0 1 0 10.0 0a5.0 5.0 0 1 0 -10.0 0zM612.1 948.0a5.0 5.0 0 1 0 10.0 0a5.0 5.0 0 1 0 -10.0 0zM612.6 947.7a5.0 5.0 0 1 0 10.0 0a5.0 5.0 0 1 0 -10.0 0zM613.1 947.9a5.0 5.0 0 1 0 10.0 0a5.0 5.0 0 1 0 -10.0 0zM613.6 948.3a5.0 5.0 0 1 0 10.0 0a5.0 5.0 0 1 0 -10.0 0zM614.1 947.6a5.0 5.0 0 1 0 10.0 0a5.0 5.0 0 1 0 -10.0 0zM614.6 948.4a5.0 5.0 0 1 0 10.0 0a5.0 5.0 0 1 0 -10.0 0zM615.1 948.2a5.0 5.0 0 1 0 10.0 0a5.0 5.0 0 1 0 -10.0 0zM615.6 948.3a5.0 5.0 0 1 0 10.0 0a5.0 5.0 0 1 0 -10.0 0zM616.1 948.0a5.0 5.0 0 1 0 10.0 0a5.0 5.0 0 1 0 -10.0 0zM616.6 948.3a5.0 5.0 0 1 0 10.0 0a5.0 5.0 0 1 0 -10.0 0zM617.1 948.2a5.0 5.0 0 1 0 10.0 0a5.0 5.0 0 1 0 -10.0 0zM617.6 948.4a5.0 5.0 0 1 0 10.0 0a5.0 5.0 0 1 0 -10.0 0zM618.1 948.4a5.0 5.0 0 1 0 10.0 0a5.0 5.0 0 1 0 -10.0 0zM618.6 949.0a5.0 5.0 0 1 0 10.0 0a5.0 5.0 0 1 0 -10.0 0zM619.1 948.6a5.0 5.0 0 1 0 10.0 0a5.0 5.0 0 1 0 -10.0 0zM619.6 948.7a5.0 5.0 0 1 0 10.0 0a5.0 5.0 0 1 0 -10.0 0zM620.1 948.8a5.0 5.0 0 1 0 10.0 0a5.0 5.0 0 1 0 -10.0 0zM620.6 948.5a5.0 5.0 0 1 0 10.0 0a5.0 5.0 0 1 0 -10.0 0zM621.1 948.8a5.0 5.0 0 1 0 10.0 0a5.0 5.0 0 1 0 -10.0 0zM621.6 949.0a5.0 5.0 0 1 0 10.0 0a5.0 5.0 0 1 0 -10.0 0zM622.1 948.9a5.0 5.0 0 1 0 10.0 0a5.0 5.0 0 1 0 -10.0 0zM622.6 948.8a5.0 5.0 0 1 0 10.0 0a5.0 5.0 0 1 0 -10.0 0zM623.1 948.9a5.0 5.0 0 1 0 10.0 0a5.0 5.0 0 1 0 -10.0 0zM623.6 949.5a5.0 5.0 0 1 0 10.0 0a5.0 5.0 0 1 0 -10.0 0zM624.1 950.1a5.0 5.0 0 1 0 10.0 0a5.0 5.0 0 1 0 -10.0 0zM624.6 949.5a5.0 5.0 0 1 0 10.0 0a5.0 5.0 0 1 0 -10.0 0zM625.1 949.3a5.0 5.0 0 1 0 10.0 0a5.0 5.0 0 1 0 -10.0 0zM625.6 949.9a5.0 5.0 0 1 0 10.0 0a5.0 5.0 0 1 0 -10.0 0zM626.1 949.9a5.0 5.0 0 1 0 10.0 0a5.0 5.0 0 1 0 -10.0 0zM626.6 950.0a5.0 5.0 0 1 0 10.0 0a5.0 5.0 0 1 0 -10.0 0zM627.1 950.1a5.0 5.0 0 1 0 10.0 0a5.0 5.0 0 1 0 -10.0 0zM627.6 950.3a5.0 5.0 0 1 0 10.0 0a5.0 5.0 0 1 0 -10.0 0zM628.1 949.9a5.0 5.0 0 1 0 10.0 0a5.0 5.0 0 1 0 -10.0 0zM628.6 950.3a5.0 5.0 0 1 0 10.0 0a5.0 5.0 0 1 0 -10.0 0zM629.1 950.3a5.0 5.0 0 1 0 10.0 0a5.0 5.0 0 1 0 -10.0 0zM629.6 950.3a5.0 5.0 0 1 0 10.0 0a5.0 5.0 0 1 0 -10.0 0zM630.1 950.5a5.0 5.0 0 1 0 10.0 0a5.0 5.0 0 1 0 -10.0 0zM630.6 950.9a5.0 5.0 0 1 0 10.0 0a5.0 5.0 0 1 0 -10.0 0zM631.1 950.5a5.0 5.0 0 1 0 10.0 0a5.0 5.0 0 1 0 -10.0 0zM631.6 950.8a5.0 5.0 0 1 0 10.0 0a5.0 5.0 0 1 0 -10.0 0zM632.1 951.2a5.0 5.0 0 1 0 10.0 0a5.0 5.0 0 1 0 -10.0 0zM632.6 950.4a5.0 5.0 0 1 0 10.0 0a5.0 5.0 0 1 0 -10.0 0zM633.1 951.0a5.0 5.0 0 1 0 10.0 0a5.0 5.0 0 1 0 -10.0 0zM633.6 951.5a5.0 5.0 0 1 0 10.0 0a5.0 5.0 0 1 0 -10.0 0zM634.1 951.8a5.0 5.0 0 1 0 10.0 0a5.0 5.0 0 1 0 -10.0 0zM634.6 951.7a5.0 5.0 0 1 0 10.0 0a5.0 5.0 0 1 0 -10.0 0zM635.1 951.1a5.0 5.0 0 1 0 10.0 0a5.0 5.0 0 1 0 -10.0 0zM635.6 951.2a5.0 5.0 0 1 0 10.0 0a5.0 5.0 0 1 0 -10.0 0zM636.1 952.2a5.0 5.0 0 1 0 10.0 0a5.0 5.0 0 1 0 -10.0 0zM636.6 952.1a5.0 5.0 0 1 0 10.0 0a5.0 5.0 0 1 0 -10.0 0zM637.1 951.9a5.0 5.0 0 1 0 10.0 0a5.0 5.0 0 1 0 -10.0 0zM637.6 952.6a5.0 5.0 0 1 0 10.0 0a5.0 5.0 0 1 0 -10.0 0zM638.1 952.5a5.0 5.0 0 1 0 10.0 0a5.0 5.0 0 1 0 -10.0 0zM638.6 952.2a5.0 5.0 0 1 0 10.0 0a5.0 5.0 0 1 0 -10.0 0zM639.1 952.2a5.0 5.0 0 1 0 10.0 0a5.0 5.0 0 1 0 -10.0 0zM639.6 952.7a5.0 5.0 0 1 0 10.0 0a5.0 5.0 0 1 0 -10.0 0zM640.1 953.1a5.0 5.0 0 1 0 10.0 0a5.0 5.0 0 1 0 -10.0 0zM640.6 952.8a5.0 5.0 0 1 0 10.0 0a5.0 5.0 0 1 0 -10.0 0zM641.1 953.0a5.0 5.0 0 1 0 10.0 0a5.0 5.0 0 1 0 -10.0 0zM641.6 953.5a5.0 5.0 0 1 0 10.0 0a5.0 5.0 0 1 0 -10.0 0zM642.1 953.1a5.0 5.0 0 1 0 10.0 0a5.0 5.0 0 1 0 -10.0 0zM642.6 954.0a5.0 5.0 0 1 0 10.0 0a5.0 5.0 0 1 0 -10.0 0zM643.1 953.9a5.0 5.0 0 1 0 10.0 0a5.0 5.0 0 1 0 -10.0 0zM643.6 953.8a5.0 5.0 0 1 0 10.0 0a5.0 5.0 0 1 0 -10.0 0zM644.1 953.2a5.0 5.0 0 1 0 10.0 0a5.0 5.0 0 1 0 -10.0 0zM644.6 954.4a5.0 5.0 0 1 0 10.0 0a5.0 5.0 0 1 0 -10.0 0z"/>
<path fill="#1A6FDF" d="M184.3 1052.8l5.7 10.3h-11.4zM209.5 1016.9l5.7 10.3h-11.4zM224.5 1016.3l5.7 10.3h-11.4zM234.0 1016.1l5.7 10.3h-11.4zM243.5 1015.8l5.7 10.3h-11.4zM250.5 1015.5l5.7 10.3h-11.4zM256.4 1015.0l5.7 10.3h-11.4zM261.6 1013.6l5.7 10.3h-11.4zM266.1 1014.0l5.7 10.3h-11.4zM270.1 1012.7l5.7 10.3h-11.4zM273.7 1013.5l5.7 10.3h-11.4zM277.1 1012.3l5.7 10.3h-11.4zM280.1 1011.3l5.7 10.3h-11.4zM283.0 1011.2l5.7 10.3h-11.4zM285.6 1010.9l5.7 10.3h-11.4zM288.1 1010.4l5.7 10.3h-11.4zM290.4 1010.1l5.7 10.3h-11.4zM292.6 1008.4l5.7 10.3h-11.4zM294.7 1008.4l5.7 10.3h-11.4zM296.6 1008.8l5.7 10.3h-11.4zM298.5 1008.6l5.7 10.3h-11.4zM300.3 1008.1l5.7 10.3h-11.4zM302.0 1006.7l5.7 10.3h-11.4zM303.6 1007.2l5.7 10.3h-11.4zM305.2 1006.7l5.7 10.3h-11.4zM306.7 1006.5l5.7 10.3h-11.4zM308.1 1006.3l5.7 10.3h-11.4zM309.5 1004.8l5.7 10.3h-11.4zM310.9 1006.0l5.7 10.3h-11.4zM312.2 1004.7l5.7 10.3h-11.4zM313.4 1004.7l5.7 10.3h-11.4zM314.7 1003.9l5.7 10.3h-11.4zM315.8 1003.4l5.7 10.3h-11.4zM317.0 1003.7l5.7 10.3h-11.4zM318.1 1003.2l5.7 10.3h-11.4zM319.2 1002.3l5.7 10.3h-11.4zM320.2 1002.4l5.7 10.3h-11.4zM321.2 1002.6l5.7 10.3h-11.4zM322.2 1002.9l5.7 10.3h-11.4zM323.2 1001.8l5.7 10.3h-11.4zM324.1 1001.9l5.7 10.3h-11.4zM325.1 1001.1l5.7 10.3h-11.4zM326.0 1000.6l5.7 10.3h-11.4zM326.9 1001.2l5.7 10.3h-11.4zM327.7 1000.7l5.7 10.3h-11.4zM328.6 1000.4l5.7 10.3h-11.4zM329.4 999.9l5.7 10.3h-11.4zM330.2 1000.0l5.7 10.3h-11.4zM331.0 998.8l5.7 10.3h-11.4zM331.7 999.6l5.7 10.3h-11.4zM332.5 999.0l5.7 10.3h-11.4zM333.3 998.3l5.7 10.3h-11.4zM334.0 998.9l5.7 10.3h-11.4zM334.7 998.4l5.7 10.3h-11.4zM335.4 998.2l5.7 10.3h-11.4zM336.1 997.0l5.7 10.3h-11.4zM336.8 997.4l5.7 10.3h-11.4zM337.4 997.2l5.7 10.3h-11.4zM338.1 996.8l5.7 10.3h-11.4zM338.7 996.8l5.7 10.3h-11.4zM357.9 990.5l5.7 10.3h-11.4zM358.4 990.5l5.7 10.3h-11.4zM358.9 990.7l5.7 10.3h-11.4zM359.4 989.8l5.7 10.3h-11.4zM359.9 989.9l5.7 10.3h-11.4zM360.4 989.4l5.7 10.3h-11.4zM360.9 989.0l5.7 10.3h-11.4zM361.4 989.9l5.7 10.3h-11.4zM361.9 989.0l5.7 10.3h-11.4zM362.4 988.7l5.7 10.3h-11.4zM362.9 988.7l5.7 10.3h-11.4zM363.4 987.8l5.7 10.3h-11.4zM363.9 988.6l5.7 10.3h-11.4zM364.4 987.6l5.7 10.3h-11.4zM364.9 988.2l5.7 10.3h-11.4zM365.4 987.8l5.7 10.3h-11.4zM365.9 988.1l5.7 10.3h-11.4zM366.4 987.3l5.7 10.3h-11.4zM366.9 987.2l5.7 10.3h-11.4zM367.4 987.8l5.7 10.3h-11.4zM367.9 986.3l5.7 10.3h-11.4zM368.4 987.5l5.7 10.3h-11.4zM368.9 986.5l5.7 10.3h-11.4zM369.4 987.2l5.7 10.3h-11.4zM369.9 986.6l5.7 10.3h-11.4zM370.4 986.5l5.7 10.3h-11.4zM370.9 986.2l5.7 10.3h-11.4zM371.4 986.2l5.7 10.3h-11.4zM371.9 986.3l5.7 10.3h-11.4zM372.4 986.1l5.7 10.3h-11.4zM372.9 985.7l5.7 10.3h-11.4zM373.4 985.2l5.7 10.3h-11.4zM373.9 985.2l5.7 10.3h-11.4zM374.4 985.0l5.7 10.3h-11.4zM374.9 985.6l5.7 10.3h-11.4zM375.4 984.7l5.7 10.3h-11.4zM375.9 985.5l5.7 10.3h-11.4zM376.4 984.8l5.7 10.3h-11.4zM376.9 985.3l5.7 10.3h-11.4zM377.4 984.2l5.7 10.3h-11.4zM377.9 984.6l5.7 10.3h-11.4zM378.4 984.3l5.7 10.3h-11.4zM378.9 983.5l5.7 10.3h-11.4zM379.4 984.7l5.7 10.3h-11.4zM379.9 983.1l5.7 10.3h-11.4zM380.4 984.5l5.7 10.3h-11.4zM380.9 983.1l5.7 10.3h-11.4zM381.4 983.4l5.7 10.3h-11.4zM381.9 983.6l5.7 10.3h-11.4zM382.4 982.6l5.7 10.3h-11.4zM382.9 983.2l5.7 10.3h-11.4zM383.4 983.2l5.7 10.3h-11.4zM383.9 983.5l5.7 10.3h-11.4zM384.4 982.2l5.7 10.3h-11.4zM384.9 983.1l5.7 10.3h-11.4zM385.4 982.9l5.7 10.3h-11.4zM385.9 982.8l5.7 10.3h-11.4zM386.4 983.0l5.7 10.3h-11.4zM386.9 983.3l5.7 10.3h-11.4zM387.4 982.8l5.7 10.3h-11.4zM387.9 981.5l5.7 10.3h-11.4zM388.4 982.6l5.7 10.3h-11.4zM388.9 982.0l5.7 10.3h-11.4zM389.4 982.2l5.7 10.3h-11.4zM389.9 981.3l5.7 10.3h-11.4zM390.4 981.6l5.7 10.3h-11.4zM390.9 981.7l5.7 10.3h-11.4zM391.4 981.9l5.7 10.3h-11.4zM391.9 981.3l5.7 10.3h-11.4zM392.4 982.6l5.7 10.3h-11.4zM392.9 980.8l5.7 10.3h-11.4zM393.4 982.0l5.7 10.3h-11.4zM393.9 981.9l5.7 10.3h-11.4zM394.4 981.5l5.7 10.3h-11.4zM394.9 981.9l5.7 10.3h-11.4zM395.4 980.9l5.7 10.3h-11.4zM395.9 981.6l5.7 10.3h-11.4zM396.4 980.9l5.7 10.3h-11.4zM396.9 980.6l5.7 10.3h-11.4zM397.4 981.3l5.7 10.3h-11.4zM397.9 980.4l5.7 10.3h-11.4zM398.4 980.4l5.7 10.3h-11.4zM398.9 979.9l5.7 10.3h-11.4zM399.4 980.3l5.7 10.3h-11.4zM399.9 980.9l5.7 10.3h-11.4zM400.4 980.6l5.7 10.3h-11.4zM400.9 980.3l5.7 10.3h-11.4zM401.4 980.7l5.7 10.3h-11.4zM401.9 980.0l5.7 10.3h-11.4zM402.4 980.7l5.7 10.3h-11.4zM402.9 980.1l5.7 10.3h-11.4zM403.4 980.0l5.7 10.3h-11.4zM403.9 980.2l5.7 10.3h-11.4zM404.4 979.7l5.7 10.3h-11.4zM404.9 979.9l5.7 10.3h-11.4zM405.4 979.7l5.7 10.3h-11.4zM405.9 979.8l5.7 10.3h-11.4zM406.4 979.4l5.7 10.3h-11.4zM406.9 979.5l5.7 10.3h-11.4zM407.4 979.3l5.7 10.3h-11.4zM407.9 979.1l5.7 10.3h-11.4zM408.4 978.7l5.7 10.3h-11.4zM408.9 978.6l5.7 10.3h-11.4zM409.4 979.1l5.7 10.3h-11.4zM409.9 978.6l5.7 10.3h-11.4zM410.4 978.4l5.7 10.3h-11.4zM410.9 979.1l5.7 10.3h-11.4zM411.4 979.0l5.7 10.3h-11.4zM411.9 978.3l5.7 10.3h-11.4zM412.4 978.0l5.7 10.3h-11.4zM412.9 979.2l5.7 10.3h-11.4zM413.4 978.5l5.7 10.3h-11.4zM413.9 979.0l5.7 10.3h-11.4zM414.4 978.8l5.7 10.3h-11.4zM414.9 978.1l5.7 10.3h-11.4zM415.4 978.0l5.7 10.3h-11.4zM415.9 978.3l5.7 10.3h-11.4zM416.4 977.6l5.7 10.3h-11.4zM416.9 978.0l5.7 10.3h-11.4zM417.4 977.2l5.7 10.3h-11.4zM417.9 977.0l5.7 10.3h-11.4zM418.4 977.7l5.7 10.3h-11.4zM418.9 977.5l5.7 10.3h-11.4zM419.4 977.0l5.7 10.3h-11.4zM419.9 977.2l5.7 10.3h-11.4zM420.4 977.1l5.7 10.3h-11.4zM420.9 977.1l5.7 10.3h-11.4zM421.4 976.8l5.7 10.3h-11.4zM421.9 976.4l5.7 10.3h-11.4zM422.4 976.1l5.7 10.3h-11.4zM422.9 976.2l5.7 10.3h-11.4zM423.4 975.9l5.7 10.3h-11.4zM423.9 976.5l5.7 10.3h-11.4zM424.4 975.6l5.7 10.3h-11.4zM424.9 976.4l5.7 10.3h-11.4zM425.4 976.6l5.7 10.3h-11.4zM425.9 975.4l5.7 10.3h-11.4zM426.4 975.4l5.7 10.3h-11.4zM426.9 976.2l5.7 10.3h-11.4zM427.4 975.7l5.7 10.3h-11.4zM427.9 976.2l5.7 10.3h-11.4zM428.4 975.0l5.7 10.3h-11.4zM428.9 975.8l5.7 10.3h-11.4zM429.4 975.5l5.7 10.3h-11.4zM429.9 975.7l5.7 10.3h-11.4zM430.4 974.7l5.7 10.3h-11.4zM431.0 974.6l5.7 10.3h-11.4zM431.5 975.1l5.7 10.3h-11.4zM432.0 974.4l5.7 10.3h-11.4zM432.5 974.2l5.7 10.3h-11.4zM433.0 974.8l5.7 10.3h-11.4zM433.5 974.5l5.7 10.3h-11.4zM434.0 974.4l5.7 10.3h-11.4zM434.5 973.9l5.7 10.3h-11.4zM435.0 974.0l5.7 10.3h-11.4zM435.5 973.9l5.7 10.3h-11.4zM436.0 973.6l5.7 10.3h-11.4zM436.5 973.3l5.7 10.3h-11.4zM437.0 972.6l5.7 10.3h-11.4zM437.5 973.2l5.7 10.3h-11.4zM438.0 973.9l5.7 10.3h-11.4zM438.5 973.6l5.7 10.3h-11.4zM439.0 972.9l5.7 10.3h-11.4zM439.5 973.2l5.7 10.3h-11.4zM440.0 973.8l5.7 10.3h-11.4zM440.5 973.0l5.7 10.3h-11.4zM441.0 972.6l5.7 10.3h-11.4zM441.5 972.6l5.7 10.3h-11.4zM442.0 973.0l5.7 10.3h-11.4zM442.5 972.2l5.7 10.3h-11.4zM443.0 972.9l5.7 10.3h-11.4zM443.5 971.9l5.7 10.3h-11.4zM444.0 972.9l5.7 10.3h-11.4zM444.5 971.7l5.7 10.3h-11.4zM445.0 970.8l5.7 10.3h-11.4zM445.5 971.7l5.7 10.3h-11.4zM446.0 971.6l5.7 10.3h-11.4zM446.5 971.4l5.7 10.3h-11.4zM447.0 971.1l5.7 10.3h-11.4zM447.5 971.5l5.7 10.3h-11.4zM448.0 971.1l5.7 10.3h-11.4zM448.5 971.0l5.7 10.3h-11.4zM449.0 970.8l5.7 10.3h-11.4zM449.5 970.8l5.7 10.3h-11.4zM450.0 971.5l5.7 10.3h-11.4zM450.5 971.3l5.7 10.3h-11.4zM451.0 971.4l5.7 10.3h-11.4zM451.5 969.6l5.7 10.3h-11.4zM452.0 970.4l5.7 10.3h-11.4zM452.5 970.8l5.7 10.3h-11.4zM453.0 970.2l5.7 10.3h-11.4zM453.5 970.0l5.7 10.3h-11.4zM454.0 970.7l5.7 10.3h-11.4zM454.5 969.2l5.7 10.3h-11.4zM455.0 970.3l5.7 10.3h-11.4zM455.5 970.3l5.7 10.3h-11.4zM456.0 969.6l5.7 10.3h-11.4zM456.5 970.1l5.7 10.3h-11.4zM457.0 969.6l5.7 10.3h-11.4zM457.5 969.2l5.7 10.3h-11.4zM458.0 969.5l5.7 10.3h-11.4zM458.5 969.0l5.7 10.3h-11.4zM459.0 970.3l5.7 10.3h-11.4zM459.5 969.6l5.7 10.3h-11.4zM460.0 969.5l5.7 10.3h-11.4zM460.5 969.5l5.7 10.3h-11.4zM461.0 968.3l5.7 10.3h-11.4zM461.5 967.9l5.7 10.3h-11.4zM462.0 968.8l5.7 10.3h-11.4zM462.5 967.8l5.7 10.3h-11.4zM463.0 968.5l5.7 10.3h-11.4zM463.5 969.1l5.7 10.3h-11.4zM464.0 967.9l5.7 10.3h-11.4zM464.5 968.5l5.7 10.3h-11.4zM465.0 968.1l5.7 10.3h-11.4zM465.5 967.9l5.7 10.3h-11.4zM466.0 968.7l5.7 10.3h-11.4zM466.5 967.9l5.7 10.3h-11.4zM467.0 968.0l5.7 10.3h-11.4zM467.5 967.5l5.7 10.3h-11.4zM468.0 967.0l5.7 10.3h-11.4zM468.5 968.0l5.7 10.3h-11.4zM469.0 967.0l5.7 10.3h-11.4zM469.5 966.6l5.7 10.3h-11.4zM470.0 967.0l5.7 10.3h-11.4zM470.5 968.1l5.7 10.3h-11.4zM471.0 967.6l5.7 10.3h-11.4zM471.5 967.6l5.7 10.3h-11.4zM472.0 966.9l5.7 10.3h-11.4zM472.5 967.6l5.7 10.3h-11.4zM473.0 967.6l5.7 10.3h-11.4zM473.5 966.8l5.7 10.3h-11.4zM474.0 966.3l5.7 10.3h-11.4zM474.5 966.9l5.7 10.3h-11.4zM475.0 966.5l5.7 10.3h-11.4zM475.5 966.8l5.7 10.3h-11.4zM476.0 966.8l5.7 10.3h-11.4zM476.5 966.4l5.7 10.3h-11.4zM477.0 966.2l5.7 10.3h-11.4zM477.5 967.1l5.7 10.3h-11.4zM478.0 966.4l5.7 10.3h-11.4zM478.5 965.8l5.7 10.3h-11.4zM479.0 965.5l5.7 10.3h-11.4zM479.5 965.5l5.7 10.3h-11.4zM480.0 965.6l5.7 10.3h-11.4zM480.5 965.6l5.7 10.3h-11.4zM481.0 965.6l5.7 10.3h-11.4zM481.5 966.3l5.7 10.3h-11.4zM482.0 964.8l5.7 10.3h-11.4zM482.5 964.4l5.7 10.3h-11.4zM483.0 964.8l5.7 10.3h-11.4zM483.5 964.8l5.7 10.3h-11.4zM484.0 965.4l5.7 10.3h-11.4zM484.5 964.0l5.7 10.3h-11.4zM485.0 964.6l5.7 10.3h-11.4zM485.5 965.1l5.7 10.3h-11.4zM486.0 964.3l5.7 10.3h-11.4zM486.5 964.2l5.7 10.3h-11.4zM487.0 964.4l5.7 10.3h-11.4zM487.5 965.0l5.7 10.3h-11.4zM488.0 964.6l5.7 10.3h-11.4zM488.5 964.2l5.7 10.3h-11.4zM489.0 963.9l5.7 10.3h-11.4zM489.5 963.8l5.7 10.3h-11.4zM490.0 964.0l5.7 10.3h-11.4zM490.5 963.3l5.7 10.3h-11.4zM491.0 963.4l5.7 10.3h-11.4zM491.5 963.6l5.7 10.3h-11.4zM492.0 963.5l5.7 10.3h-11.4zM492.5 963.4l5.7 10.3h-11.4zM493.0 963.3l5.7 10.3h-11.4zM493.5 962.8l5.7 10.3h-11.4zM494.0 962.9l5.7 10.3h-11.4zM494.5 963.8l5.7 10.3h-11.4zM495.0 962.8l5.7 10.3h-11.4zM495.5 962.5l5.7 10.3h-11.4zM496.0 962.6l5.7 10.3h-11.4zM496.5 962.2l5.7 10.3h-11.4zM497.0 962.7l5.7 10.3h-11.4zM497.5 961.9l5.7 10.3h-11.4zM498.0 962.9l5.7 10.3h-11.4zM498.5 961.5l5.7 10.3h-11.4zM499.0 961.9l5.7 10.3h-11.4zM499.5 961.8l5.7 10.3h-11.4zM500.0 962.0l5.7 10.3h-11.4zM500.5 961.8l5.7 10.3h-11.4zM501.0 961.2l5.7 10.3h-11.4zM501.5 962.0l5.7 10.3h-11.4zM502.0 962.0l5.7 10.3h-11.4zM502.5 961.8l5.7 10.3h-11.4zM503.0 960.8l5.7 10.3h-11.4zM503.5 961.2l5.7 10.3h-11.4zM504.0 961.4l5.7 10.3h-11.4zM504.5 961.5l5.7 10.3h-11.4zM505.0 960.7l5.7 10.3h-11.4zM505.5 961.7l5.7 10.3h-11.4zM506.0 960.7l5.7 10.3h-11.4zM506.5 960.4l5.7 10.3h-11.4zM507.0 960.0l5.7 10.3h-11.4zM507.5 960.5l5.7 10.3h-11.4zM508.0 960.7l5.7 10.3h-11.4zM508.5 959.8l5.7 10.3h-11.4zM509.0 961.0l5.7 10.3h-11.4zM509.5 960.3l5.7 10.3h-11.4zM510.0 960.0l5.7 10.3h-11.4zM510.5 960.2l5.7 10.3h-11.4zM511.0 960.0l5.7 10.3h-11.4zM511.5 959.4l5.7 10.3h-11.4zM512.0 959.6l5.7 10.3h-11.4zM512.5 959.8l5.7 10.3h-11.4zM513.0 960.1l5.7 10.3h-11.4zM513.5 959.7l5.7 10.3h-11.4zM514.0 959.0l5.7 10.3h-11.4zM514.5 959.2l5.7 10.3h-11.4zM515.0 959.3l5.7 10.3h-11.4zM515.5 958.6l5.7 10.3h-11.4zM516.0 958.8l5.7 10.3h-11.4zM516.5 959.2l5.7 10.3h-11.4zM517.0 958.8l5.7 10.3h-11.4zM517.5 959.0l5.7 10.3h-11.4zM518.0 959.7l5.7 10.3h-11.4zM518.5 959.4l5.7 10.3h-11.4zM519.0 958.4l5.7 10.3h-11.4zM519.5 958.0l5.7 10.3h-11.4zM520.0 957.7l5.7 10.3h-11.4zM520.5 958.4l5.7 10.3h-11.4zM521.0 958.8l5.7 10.3h-11.4zM521.5 957.8l5.7 10.3h-11.4zM522.0 957.5l5.7 10.3h-11.4zM522.5 957.2l5.7 10.3h-11.4zM523.0 958.0l5.7 10.3h-11.4zM523.5 957.5l5.7 10.3h-11.4zM524.0 957.8l5.7 10.3h-11.4zM524.5 957.5l5.7 10.3h-11.4zM525.0 957.4l5.7 10.3h-11.4zM525.5 956.7l5.7 10.3h-11.4zM526.0 956.9l5.7 10.3h-11.4zM526.5 956.9l5.7 10.3h-11.4zM527.0 956.6l5.7 10.3h-11.4zM527.5 956.7l5.7 10.3h-11.4zM528.0 956.3l5.7 10.3h-11.4zM528.5 955.4l5.7 10.3h-11.4zM529.0 956.4l5.7 10.3h-11.4zM529.5 956.1l5.7 10.3h-11.4zM530.0 955.7l5.7 10.3h-11.4zM530.5 955.3l5.7 10.3h-11.4zM531.0 955.9l5.7 10.3h-11.4zM531.5 955.5l5.7 10.3h-11.4zM532.0 955.4l5.7 10.3h-11.4zM532.5 954.9l5.7 10.3h-11.4zM533.0 955.2l5.7 10.3h-11.4zM533.5 954.2l5.7 10.3h-11.4zM534.0 955.0l5.7 10.3h-11.4zM534.5 954.0l5.7 10.3h-11.4zM535.0 953.7l5.7 10.3h-11.4zM535.5 955.1l5.7 10.3h-11.4zM536.0 953.8l5.7 10.3h-11.4zM536.5 954.3l5.7 10.3h-11.4zM537.0 954.3l5.7 10.3h-11.4zM537.5 953.3l5.7 10.3h-11.4zM538.0 953.9l5.7 10.3h-11.4zM538.5 953.2l5.7 10.3h-11.4zM539.0 953.0l5.7 10.3h-11.4zM539.5 953.4l5.7 10.3h-11.4zM540.0 952.6l5.7 10.3h-11.4zM540.5 953.5l5.7 10.3h-11.4zM541.0 952.8l5.7 10.3h-11.4zM541.5 952.0l5.7 10.3h-11.4zM542.0 952.4l5.7 10.3h-11.4zM542.5 952.0l5.7 10.3h-11.4zM543.0 952.2l5.7 10.3h-11.4zM543.5 952.0l5.7 10.3h-11.4zM544.0 951.3l5.7 10.3h-11.4zM544.5 952.2l5.7 10.3h-11.4zM545.0 951.1l5.7 10.3h-11.4zM545.5 952.0l5.7 10.3h-11.4zM546.0 951.9l5.7 10.3h-11.4zM546.5 951.5l5.7 10.3h-11.4zM547.0 951.2l5.7 10.3h-11.4zM547.5 950.8l5.7 10.3h-11.4zM548.0 951.0l5.7 10.3h-11.4zM548.5 951.1l5.7 10.3h-11.4zM549.0 949.9l5.7 10.3h-11.4zM549.5 950.0l5.7 10.3h-11.4zM550.0 950.0l5.7 10.3h-11.4zM550.5 949.9l5.7 10.3h-11.4zM551.0 950.0l5.7 10.3h-11.4zM551.5 949.0l5.7 10.3h-11.4zM552.0 949.6l5.7 10.3h-11.4zM552.5 949.8l5.7 10.3h-11.4zM553.0 950.0l5.7 10.3h-11.4zM553.5 948.9l5.7 10.3h-11.4zM554.0 949.4l5.7 10.3h-11.4zM554.5 948.7l5.7 10.3h-11.4zM555.0 949.0l5.7 10.3h-11.4zM555.5 949.3l5.7 10.3h-11.4zM556.0 949.1l5.7 10.3h-11.4zM556.5 949.0l5.7 10.3h-11.4zM557.0 949.0l5.7 10.3h-11.4zM557.5 949.1l5.7 10.3h-11.4zM558.0 948.2l5.7 10.3h-11.4zM558.5 948.8l5.7 10.3h-11.4zM559.0 948.6l5.7 10.3h-11.4zM559.5 948.3l5.7 10.3h-11.4zM560.0 948.6l5.7 10.3h-11.4zM560.5 948.7l5.7 10.3h-11.4zM561.0 948.9l5.7 10.3h-11.4zM561.5 948.0l5.7 10.3h-11.4zM562.0 948.4l5.7 10.3h-11.4zM562.5 948.5l5.7 10.3h-11.4zM563.0 948.8l5.7 10.3h-11.4zM563.5 948.2l5.7 10.3h-11.4zM564.0 948.8l5.7 10.3h-11.4zM564.5 947.5l5.7 10.3h-11.4zM565.0 948.6l5.7 10.3h-11.4zM565.5 948.1l5.7 10.3h-11.4zM566.0 947.6l5.7 10.3h-11.4zM566.5 948.7l5.7 10.3h-11.4zM567.0 947.8l5.7 10.3h-11.4zM567.5 948.2l5.7 10.3h-11.4zM568.0 948.1l5.7 10.3h-11.4zM568.5 947.3l5.7 10.3h-11.4zM569.0 948.4l5.7 10.3h-11.4zM569.5 948.2l5.7 10.3h-11.4zM570.0 947.8l5.7 10.3h-11.4zM570.5 947.2l5.7 10.3h-11.4zM571.0 948.0l5.7 10.3h-11.4zM571.5 948.0l5.7 10.3h-11.4zM572.0 948.0l5.7 10.3h-11.4zM572.5 947.1l5.7 10.3h-11.4zM573.0 948.2l5.7 10.3h-11.4zM573.5 947.6l5.7 10.3h-11.4zM574.0 948.4l5.7 10.3h-11.4zM574.5 947.8l5.7 10.3h-11.4zM575.0 947.9l5.7 10.3h-11.4zM575.5 947.3l5.7 10.3h-11.4zM576.0 947.7l5.7 10.3h-11.4zM576.5 947.7l5.7 10.3h-11.4zM577.1 947.6l5.7 10.3h-11.4zM577.6 948.9l5.7 10.3h-11.4zM578.1 948.7l5.7 10.3h-11.4zM578.6 948.4l5.7 10.3h-11.4zM579.1 948.0l5.7 10.3h-11.4zM579.6 948.8l5.7 10.3h-11.4zM580.1 948.7l5.7 10.3h-11.4zM580.6 948.8l5.7 10.3h-11.4zM581.1 947.9l5.7 10.3h-11.4zM581.6 947.8l5.7 10.3h-11.4zM582.1 948.6l5.7 10.3h-11.4zM582.6 948.5l5.7 10.3h-11.4zM583.1 949.1l5.7 10.3h-11.4zM583.6 947.7l5.7 10.3h-11.4zM584.1 949.0l5.7 10.3h-11.4zM584.6 948.6l5.7 10.3h-11.4zM585.1 949.0l5.7 10.3h-11.4zM585.6 948.4l5.7 10.3h-11.4zM586.1 948.7l5.7 10.3h-11.4zM586.6 949.0l5.7 10.3h-11.4zM587.1 948.8l5.7 10.3h-11.4zM587.6 948.0l5.7 10.3h-11.4zM588.1 948.4l5.7 10.3h-11.4zM588.6 949.2l5.7 10.3h-11.4zM589.1 949.3l5.7 10.3h-11.4zM589.6 949.0l5.7 10.3h-11.4zM590.1 948.7l5.7 10.3h-11.4zM590.6 949.4l5.7 10.3h-11.4zM591.1 948.4l5.7 10.3h-11.4zM591.6 949.1l5.7 10.3h-11.4zM592.1 948.6l5.7 10.3h-11.4zM592.6 949.3l5.7 10.3h-11.4zM593.1 949.6l5.7 10.3h-11.4zM593.6 949.2l5.7 10.3h-11.4zM594.1 949.2l5.7 10.3h-11.4zM594.6 949.4l5.7 10.3h-11.4zM595.1 949.5l5.7 10.3h-11.4zM595.6 949.4l5.7 10.3h-11.4zM596.1 949.2l5.7 10.3h-11.4zM596.6 949.2l5.7 10.3h-11.4zM597.1 948.5l5.7 10.3h-11.4zM597.6 950.0l5.7 10.3h-11.4zM598.1 948.8l5.7 10.3h-11.4zM598.6 949.2l5.7 10.3h-11.4zM599.1 949.5l5.7 10.3h-11.4zM599.6 949.8l5.7 10.3h-11.4zM600.1 949.0l5.7 10.3h-11.4zM600.6 948.9l5.7 10.3h-11.4zM601.1 949.1l5.7 10.3h-11.4zM601.6 950.0l5.7 10.3h-11.4zM602.1 950.4l5.7 10.3h-11.4zM602.6 950.1l5.7 10.3h-11.4zM603.1 949.6l5.7 10.3h-11.4zM603.6 949.7l5.7 10.3h-11.4zM604.1 949.4l5.7 10.3h-11.4zM604.6 949.3l5.7 10.3h-11.4zM605.1 950.7l5.7 10.3h-11.4zM605.6 949.6l5.7 10.3h-11.4zM606.1 949.5l5.7 10.3h-11.4zM606.6 949.8l5.7 10.3h-11.4zM607.1 949.7l5.7 10.3h-11.4zM607.6 949.9l5.7 10.3h-11.4zM608.1 950.3l5.7 10.3h-11.4zM608.6 949.9l5.7 10.3h-11.4zM609.1 950.8l5.7 10.3h-11.4zM609.6 950.4l5.7 10.3h-11.4zM610.1 950.1l5.7 10.3h-11.4zM610.6 949.6l5.7 10.3h-11.4zM611.1 950.7l5.7 10.3h-11.4zM611.6 950.4l5.7 10.3h-11.4zM612.1 950.8l5.7 10.3h-11.4zM612.6 951.3l5.7 10.3h-11.4zM613.1 950.6l5.7 10.3h-11.4zM613.6 950.6l5.7 10.3h-11.4zM614.1 950.3l5.7 10.3h-11.4zM614.6 950.3l5.7 10.3h-11.4zM615.1 950.5l5.7 10.3h-11.4zM615.6 949.7l5.7 10.3h-11.4zM616.1 950.4l5.7 10.3h-11.4zM616.6 950.2l5.7 10.3h-11.4zM617.1 950.8l5.7 10.3h-11.4zM617.6 950.7l5.7 10.3h-11.4zM618.1 951.1l5.7 10.3h-11.4zM618.6 950.5l5.7 10.3h-11.4zM619.1 950.8l5.7 10.3h-11.4zM619.6 951.0l5.7 10.3h-11.4zM620.1 950.7l5.7 10.3h-11.4zM620.6 950.7l5.7 10.3h-11.4zM621.1 950.9l5.7 10.3h-11.4zM621.6 951.4l5.7 10.3h-11.4zM622.1 950.9l5.7 10.3h-11.4zM622.6 950.8l5.7 10.3h-11.4zM623.1 952.0l5.7 10.3h-11.4zM623.6 951.5l5.7 10.3h-11.4zM624.1 950.8l5.7 10.3h-11.4zM624.6 951.8l5.7 10.3h-11.4zM625.1 951.1l5.7 10.3h-11.4zM625.6 951.0l5.7 10.3h-11.4zM626.1 952.0l5.7 10.3h-11.4zM626.6 951.3l5.7 10.3h-11.4zM627.1 951.0l5.7 10.3h-11.4zM627.6 950.8l5.7 10.3h-11.4zM628.1 951.4l5.7 10.3h-11.4zM628.6 952.3l5.7 10.3h-11.4zM629.1 951.7l5.7 10.3h-11.4zM629.6 950.6l5.7 10.3h-11.4zM630.1 951.2l5.7 10.3h-11.4zM630.6 951.5l5.7 10.3h-11.4zM631.1 951.3l5.7 10.3h-11.4zM631.6 952.1l5.7 10.3h-11.4zM632.1 951.7l5.7 10.3h-11.4zM632.6 952.1l5.7 10.3h-11.4zM633.1 952.3l5.7 10.3h-11.4zM633.6 951.7l5.7 10.3h-11.4zM634.1 951.8l5.7 10.3h-11.4zM634.6 951.4l5.7 10.3h-11.4zM635.1 952.3l5.7 10.3h-11.4zM635.6 951.3l5.7 10.3h-11.4zM636.1 952.1l5.7 10.3h-11.4zM636.6 951.7l5.7 10.3h-11.4zM637.1 953.1l5.7 10.3h-11.4zM637.6 952.7l5.7 10.3h-11.4zM638.1 953.1l5.7 10.3h-11.4zM638.6 952.5l5.7 10.3h-11.4zM639.1 952.6l5.7 10.3h-11.4zM639.6 952.9l5.7 10.3h-11.4zM640.1 952.1l5.7 10.3h-11.4zM640.6 952.3l5.7 10.3h-11.4zM641.1 952.9l5.7 10.3h-11.4zM641.6 953.2l5.7 10.3h-11.4zM642.1 952.6l5.7 10.3h-11.4zM642.6 952.6l5.7 10.3h-11.4zM643.1 953.1l5.7 10.3h-11.4zM643.6 953.3l5.7 10.3h-11.4zM644.1 954.4l5.7 10.3h-11.4zM644.6 953.1l5.7 10.3h-11.4zM645.1 952.8l5.7 10.3h-11.4zM645.6 953.8l5.7 10.3h-11.4zM646.1 954.3l5.7 10.3h-11.4zM646.6 954.2l5.7 10.3h-11.4zM647.1 953.8l5.7 10.3h-11.4zM647.6 954.7l5.7 10.3h-11.4zM648.1 953.6l5.7 10.3h-11.4zM648.6 955.0l5.7 10.3h-11.4zM649.1 954.9l5.7 10.3h-11.4zM649.6 955.2l5.7 10.3h-11.4z"/>
<path fill="#515151" d="M179.1 22.3h9.4v9.4h-9.4z"/>
<path fill="#F14040" d="M178.9 58.1a5.0 5.0 0 1 0 10.0 0a5.0 5.0 0 1 0 -10.0 0z"/>
<path fill="#1A6FDF" d="M183.8 82.1l5.7 10.3h-11.4z"/>
<text x="217.4" y="35.0" class="lg">LCu</text>
<text x="217.4" y="65.0" class="lg">MCu</text>
<text x="217.4" y="95.0" class="lg">HCu</text>
</svg>
</body></html>
